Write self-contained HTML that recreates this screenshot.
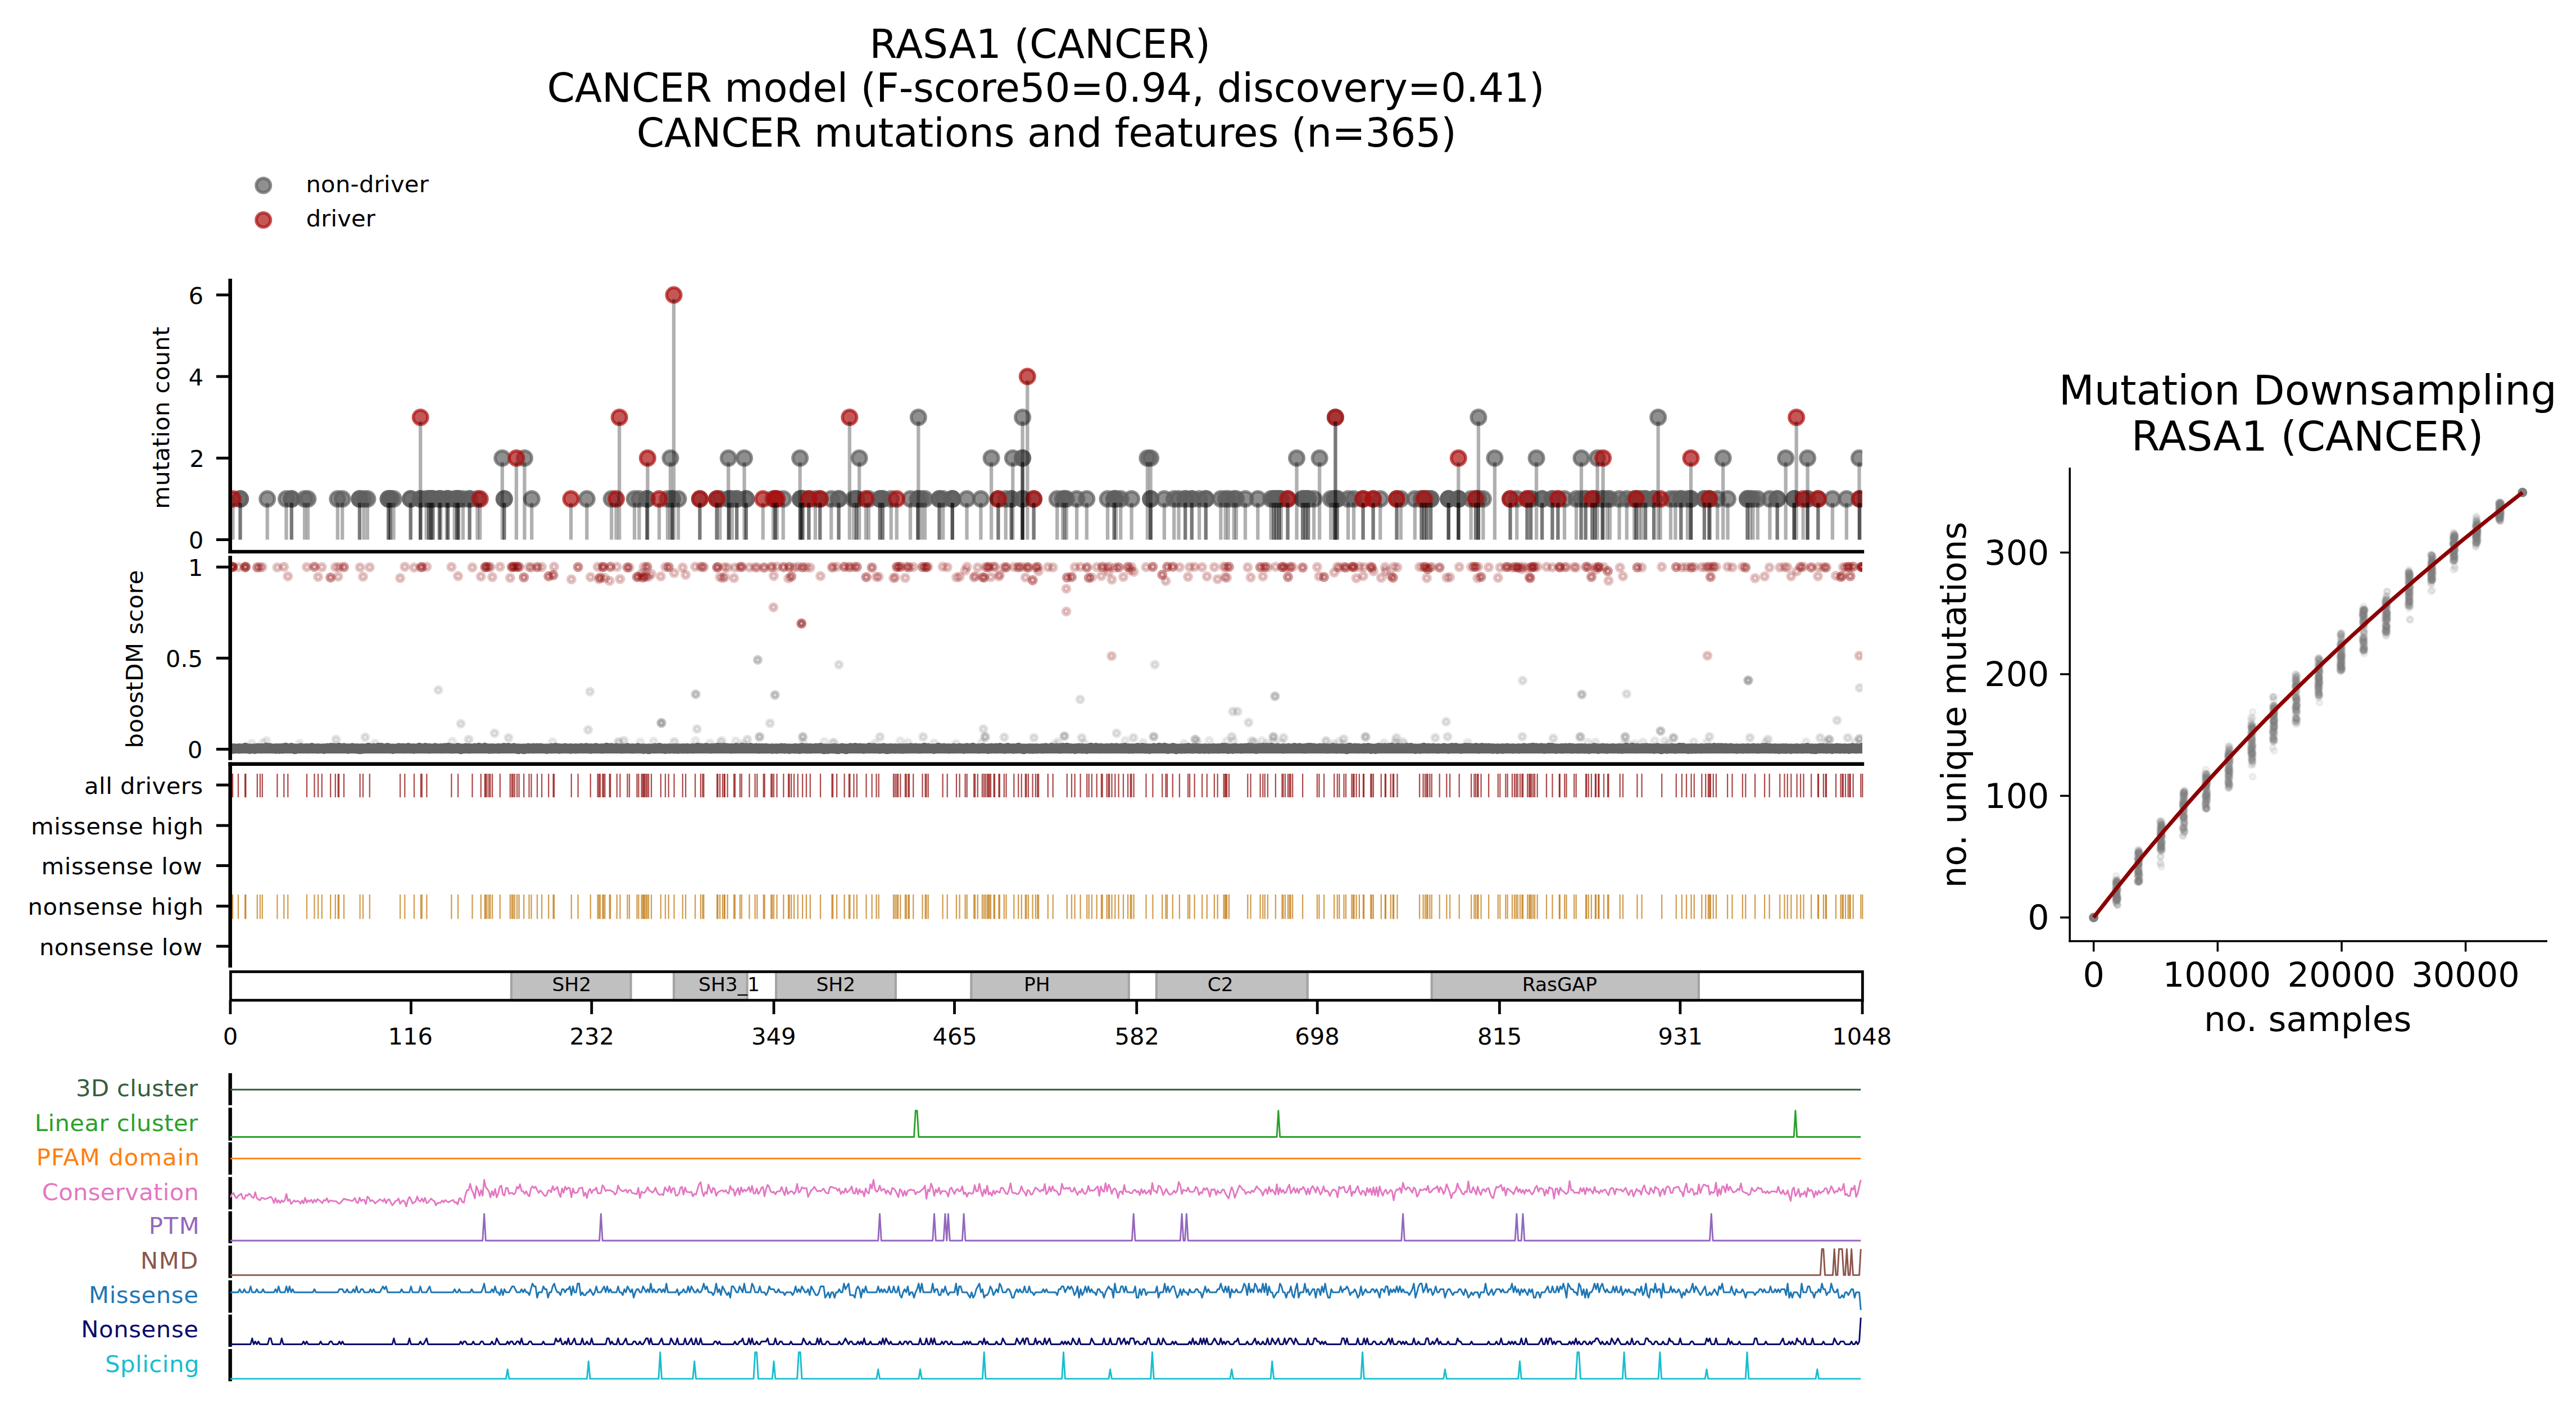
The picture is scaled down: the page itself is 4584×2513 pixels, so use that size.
<!DOCTYPE html>
<html><head><meta charset="utf-8"><title>RASA1 (CANCER)</title>
<style>html,body{margin:0;padding:0;background:#fff;}svg{display:block;}</style></head>
<body>
<svg width="4584" height="2513" viewBox="0 0 4584 2513" font-family="DejaVu Sans, Liberation Sans, sans-serif">
<style>
.st{stroke:#000;stroke-opacity:.31;stroke-width:6.3;fill:none}
.lg{fill:#606060;fill-opacity:.7;stroke:#606060;stroke-opacity:.7;stroke-width:5.5}
.lr{fill:#ac0f0f;fill-opacity:.7;stroke:#ac0f0f;stroke-opacity:.7;stroke-width:5.5}
.bl{fill:#777;fill-opacity:.1;stroke:#777;stroke-opacity:.12;stroke-width:6}
.bg{fill:#707070;fill-opacity:.15;stroke:#707070;stroke-opacity:.18;stroke-width:6}
.br{fill:#8b0000;fill-opacity:.12;stroke:#8b0000;stroke-opacity:.22;stroke-width:6.5}
.rt{stroke:#8b0000;stroke-opacity:.7;stroke-width:2.3;fill:none}
.ot{stroke:#bd7000;stroke-opacity:.68;stroke-width:2.3;fill:none}
.sc{fill:#808080;fill-opacity:.1;stroke:#808080;stroke-opacity:.1;stroke-width:3.4}
</style>
<rect width="4584" height="2513" fill="#fff"/>
<defs><clipPath id="c1"><rect x="409.7" y="480" width="2904.3" height="502"/></clipPath><clipPath id="c2"><rect x="409.7" y="985" width="2904.3" height="368"/></clipPath></defs>
<text x="1547.3" y="102.9" font-size="70.8" fill="#000" textLength="606.7" lengthAdjust="spacing">RASA1 (CANCER)</text>
<text x="973.5" y="181" font-size="70.8" fill="#000" textLength="1775.2" lengthAdjust="spacing">CANCER model (F-score50=0.94, discovery=0.41)</text>
<text x="1132.7" y="260.5" font-size="70.8" fill="#000" textLength="1459.2" lengthAdjust="spacing">CANCER mutations and features (n=365)</text>
<circle cx="468.7" cy="330" r="12.8" fill="#606060" fill-opacity="0.7" stroke="#606060" stroke-opacity="0.7" stroke-width="5.5"/>
<circle cx="468.7" cy="391.5" r="12.8" fill="#ac0f0f" fill-opacity="0.7" stroke="#ac0f0f" stroke-opacity="0.7" stroke-width="5.5"/>
<text x="544.4" y="341.6" font-size="41.7" fill="#000" textLength="218.5" lengthAdjust="spacing">non-driver</text>
<text x="544.8" y="402.5" font-size="41.7" fill="#000" textLength="123.1" lengthAdjust="spacing">driver</text>
<g clip-path="url(#c1)">
<circle class="lg" cx="427.5" cy="887.9" r="12.8"/>
<circle class="lg" cx="427.5" cy="887.9" r="12.8"/>
<circle class="lg" cx="475.7" cy="887.9" r="12.8"/>
<circle class="lg" cx="509.5" cy="887.9" r="12.8"/>
<circle class="lg" cx="518.8" cy="887.9" r="12.8"/>
<circle class="lg" cx="518.8" cy="887.9" r="12.8"/>
<circle class="lg" cx="542.1" cy="887.9" r="12.8"/>
<circle class="lg" cx="547.9" cy="887.9" r="12.8"/>
<circle class="lg" cx="600.8" cy="887.9" r="12.8"/>
<circle class="lg" cx="609.2" cy="887.9" r="12.8"/>
<circle class="lg" cx="639.9" cy="887.9" r="12.8"/>
<circle class="lg" cx="639.9" cy="887.9" r="12.8"/>
<circle class="lg" cx="647.4" cy="887.9" r="12.8"/>
<circle class="lg" cx="653.9" cy="887.9" r="12.8"/>
<circle class="lg" cx="691.1" cy="887.9" r="12.8"/>
<circle class="lg" cx="691.1" cy="887.9" r="12.8"/>
<circle class="lg" cx="694.6" cy="887.9" r="12.8"/>
<circle class="lg" cx="694.6" cy="887.9" r="12.8"/>
<circle class="lg" cx="700.5" cy="887.9" r="12.8"/>
<circle class="lg" cx="730.7" cy="887.9" r="12.8"/>
<circle class="lg" cx="730.7" cy="887.9" r="12.8"/>
<circle class="lg" cx="748.2" cy="887.9" r="12.8"/>
<circle class="lg" cx="748.2" cy="887.9" r="12.8"/>
<circle class="lg" cx="758.7" cy="887.9" r="12.8"/>
<circle class="lg" cx="763.4" cy="887.9" r="12.8"/>
<circle class="lg" cx="763.4" cy="887.9" r="12.8"/>
<circle class="lg" cx="766.8" cy="887.9" r="12.8"/>
<circle class="lg" cx="766.8" cy="887.9" r="12.8"/>
<circle class="lg" cx="770.3" cy="887.9" r="12.8"/>
<circle class="lg" cx="770.3" cy="887.9" r="12.8"/>
<circle class="lg" cx="782" cy="887.9" r="12.8"/>
<circle class="lg" cx="782" cy="887.9" r="12.8"/>
<circle class="lg" cx="784.3" cy="887.9" r="12.8"/>
<circle class="lg" cx="794.8" cy="887.9" r="12.8"/>
<circle class="lg" cx="797.1" cy="887.9" r="12.8"/>
<circle class="lg" cx="797.1" cy="887.9" r="12.8"/>
<circle class="lg" cx="808.8" cy="887.9" r="12.8"/>
<circle class="lg" cx="813.4" cy="887.9" r="12.8"/>
<circle class="lg" cx="813.4" cy="887.9" r="12.8"/>
<circle class="lg" cx="815.8" cy="887.9" r="12.8"/>
<circle class="lg" cx="815.8" cy="887.9" r="12.8"/>
<circle class="lg" cx="823.9" cy="887.9" r="12.8"/>
<circle class="lg" cx="835.6" cy="887.9" r="12.8"/>
<circle class="lg" cx="835.6" cy="887.9" r="12.8"/>
<circle class="lg" cx="849.5" cy="887.9" r="12.8"/>
<circle class="lg" cx="893.8" cy="815.3" r="12.8"/>
<circle class="lg" cx="897.3" cy="887.9" r="12.8"/>
<circle class="lg" cx="897.3" cy="887.9" r="12.8"/>
<circle class="lg" cx="933.4" cy="815.3" r="12.8"/>
<circle class="lg" cx="946.2" cy="887.9" r="12.8"/>
<circle class="lg" cx="1044.3" cy="887.9" r="12.8"/>
<circle class="lg" cx="1088.2" cy="887.9" r="12.8"/>
<circle class="lg" cx="1129.1" cy="887.9" r="12.8"/>
<circle class="lg" cx="1137.4" cy="887.9" r="12.8"/>
<circle class="lg" cx="1151.4" cy="887.9" r="12.8"/>
<circle class="lg" cx="1151.4" cy="887.9" r="12.8"/>
<circle class="lg" cx="1188" cy="887.9" r="12.8"/>
<circle class="lg" cx="1193" cy="815.3" r="12.8"/>
<circle class="lg" cx="1196.3" cy="887.9" r="12.8"/>
<circle class="lg" cx="1196.3" cy="887.9" r="12.8"/>
<circle class="lg" cx="1207" cy="887.9" r="12.8"/>
<circle class="lg" cx="1245.3" cy="887.9" r="12.8"/>
<circle class="lg" cx="1275.5" cy="887.9" r="12.8"/>
<circle class="lg" cx="1281.2" cy="887.9" r="12.8"/>
<circle class="lg" cx="1296.2" cy="815.3" r="12.8"/>
<circle class="lg" cx="1297.2" cy="887.9" r="12.8"/>
<circle class="lg" cx="1297.2" cy="887.9" r="12.8"/>
<circle class="lg" cx="1302.8" cy="887.9" r="12.8"/>
<circle class="lg" cx="1311.1" cy="887.9" r="12.8"/>
<circle class="lg" cx="1311.1" cy="887.9" r="12.8"/>
<circle class="lg" cx="1324.5" cy="815.3" r="12.8"/>
<circle class="lg" cx="1327.8" cy="887.9" r="12.8"/>
<circle class="lg" cx="1327.8" cy="887.9" r="12.8"/>
<circle class="lg" cx="1376" cy="887.9" r="12.8"/>
<circle class="lg" cx="1379.4" cy="887.9" r="12.8"/>
<circle class="lg" cx="1393.7" cy="887.9" r="12.8"/>
<circle class="lg" cx="1423.6" cy="815.3" r="12.8"/>
<circle class="lg" cx="1424.3" cy="887.9" r="12.8"/>
<circle class="lg" cx="1424.3" cy="887.9" r="12.8"/>
<circle class="lg" cx="1427" cy="887.9" r="12.8"/>
<circle class="lg" cx="1427" cy="887.9" r="12.8"/>
<circle class="lg" cx="1429.3" cy="887.9" r="12.8"/>
<circle class="lg" cx="1439.3" cy="887.9" r="12.8"/>
<circle class="lg" cx="1450.9" cy="887.9" r="12.8"/>
<circle class="lg" cx="1459.2" cy="887.9" r="12.8"/>
<circle class="lg" cx="1479.2" cy="887.9" r="12.8"/>
<circle class="lg" cx="1492.5" cy="887.9" r="12.8"/>
<circle class="lg" cx="1492.5" cy="887.9" r="12.8"/>
<circle class="lg" cx="1519.1" cy="887.9" r="12.8"/>
<circle class="lg" cx="1524.1" cy="887.9" r="12.8"/>
<circle class="lg" cx="1524.1" cy="887.9" r="12.8"/>
<circle class="lg" cx="1529.1" cy="815.3" r="12.8"/>
<circle class="lg" cx="1545.8" cy="887.9" r="12.8"/>
<circle class="lg" cx="1565.7" cy="887.9" r="12.8"/>
<circle class="lg" cx="1565.7" cy="887.9" r="12.8"/>
<circle class="lg" cx="1570.7" cy="887.9" r="12.8"/>
<circle class="lg" cx="1570.7" cy="887.9" r="12.8"/>
<circle class="lg" cx="1585.7" cy="887.9" r="12.8"/>
<circle class="lg" cx="1620" cy="887.9" r="12.8"/>
<circle class="lg" cx="1634.3" cy="742.7" r="12.8"/>
<circle class="lg" cx="1633.3" cy="887.9" r="12.8"/>
<circle class="lg" cx="1633.3" cy="887.9" r="12.8"/>
<circle class="lg" cx="1639.9" cy="887.9" r="12.8"/>
<circle class="lg" cx="1645.9" cy="887.9" r="12.8"/>
<circle class="lg" cx="1671.5" cy="887.9" r="12.8"/>
<circle class="lg" cx="1671.5" cy="887.9" r="12.8"/>
<circle class="lg" cx="1678.2" cy="887.9" r="12.8"/>
<circle class="lg" cx="1694.8" cy="887.9" r="12.8"/>
<circle class="lg" cx="1694.8" cy="887.9" r="12.8"/>
<circle class="lg" cx="1694.8" cy="887.9" r="12.8"/>
<circle class="lg" cx="1720.5" cy="887.9" r="12.8"/>
<circle class="lg" cx="1745.4" cy="887.9" r="12.8"/>
<circle class="lg" cx="1764.1" cy="815.3" r="12.8"/>
<circle class="lg" cx="1776.4" cy="887.9" r="12.8"/>
<circle class="lg" cx="1789.7" cy="887.9" r="12.8"/>
<circle class="lg" cx="1799.7" cy="887.9" r="12.8"/>
<circle class="lg" cx="1799.7" cy="887.9" r="12.8"/>
<circle class="lg" cx="1802.3" cy="815.3" r="12.8"/>
<circle class="lg" cx="1819.6" cy="815.3" r="12.8"/>
<circle class="lg" cx="1819.6" cy="815.3" r="12.8"/>
<circle class="lg" cx="1819.6" cy="742.7" r="12.8"/>
<circle class="lg" cx="1819.6" cy="887.9" r="12.8"/>
<circle class="lg" cx="1819.6" cy="887.9" r="12.8"/>
<circle class="lg" cx="1839.6" cy="887.9" r="12.8"/>
<circle class="lg" cx="1881.2" cy="887.9" r="12.8"/>
<circle class="lg" cx="1891.2" cy="887.9" r="12.8"/>
<circle class="lg" cx="1894.5" cy="887.9" r="12.8"/>
<circle class="lg" cx="1897.8" cy="887.9" r="12.8"/>
<circle class="lg" cx="1916.1" cy="887.9" r="12.8"/>
<circle class="lg" cx="1933.8" cy="887.9" r="12.8"/>
<circle class="lg" cx="1971" cy="887.9" r="12.8"/>
<circle class="lg" cx="1982.7" cy="887.9" r="12.8"/>
<circle class="lg" cx="1982.7" cy="887.9" r="12.8"/>
<circle class="lg" cx="1986" cy="887.9" r="12.8"/>
<circle class="lg" cx="1994.3" cy="887.9" r="12.8"/>
<circle class="lg" cx="2013.6" cy="887.9" r="12.8"/>
<circle class="lg" cx="2041.9" cy="815.3" r="12.8"/>
<circle class="lg" cx="2047.6" cy="815.3" r="12.8"/>
<circle class="lg" cx="2047.6" cy="887.9" r="12.8"/>
<circle class="lg" cx="2047.6" cy="887.9" r="12.8"/>
<circle class="lg" cx="2071.9" cy="887.9" r="12.8"/>
<circle class="lg" cx="2089.2" cy="887.9" r="12.8"/>
<circle class="lg" cx="2097.5" cy="887.9" r="12.8"/>
<circle class="lg" cx="2109.2" cy="887.9" r="12.8"/>
<circle class="lg" cx="2109.2" cy="887.9" r="12.8"/>
<circle class="lg" cx="2120.8" cy="887.9" r="12.8"/>
<circle class="lg" cx="2120.8" cy="887.9" r="12.8"/>
<circle class="lg" cx="2134.1" cy="887.9" r="12.8"/>
<circle class="lg" cx="2145.8" cy="887.9" r="12.8"/>
<circle class="lg" cx="2145.8" cy="887.9" r="12.8"/>
<circle class="lg" cx="2172.4" cy="887.9" r="12.8"/>
<circle class="lg" cx="2180.7" cy="887.9" r="12.8"/>
<circle class="lg" cx="2185.7" cy="887.9" r="12.8"/>
<circle class="lg" cx="2195.7" cy="887.9" r="12.8"/>
<circle class="lg" cx="2200" cy="887.9" r="12.8"/>
<circle class="lg" cx="2216" cy="887.9" r="12.8"/>
<circle class="lg" cx="2238.3" cy="887.9" r="12.8"/>
<circle class="lg" cx="2261.6" cy="887.9" r="12.8"/>
<circle class="lg" cx="2266.6" cy="887.9" r="12.8"/>
<circle class="lg" cx="2266.6" cy="887.9" r="12.8"/>
<circle class="lg" cx="2271.5" cy="887.9" r="12.8"/>
<circle class="lg" cx="2271.5" cy="887.9" r="12.8"/>
<circle class="lg" cx="2276.5" cy="887.9" r="12.8"/>
<circle class="lg" cx="2276.5" cy="887.9" r="12.8"/>
<circle class="lg" cx="2279.9" cy="887.9" r="12.8"/>
<circle class="lg" cx="2291.5" cy="887.9" r="12.8"/>
<circle class="lg" cx="2307.5" cy="815.3" r="12.8"/>
<circle class="lg" cx="2318.1" cy="887.9" r="12.8"/>
<circle class="lg" cx="2318.1" cy="887.9" r="12.8"/>
<circle class="lg" cx="2323.1" cy="887.9" r="12.8"/>
<circle class="lg" cx="2323.1" cy="887.9" r="12.8"/>
<circle class="lg" cx="2328.1" cy="887.9" r="12.8"/>
<circle class="lg" cx="2328.1" cy="887.9" r="12.8"/>
<circle class="lg" cx="2338.1" cy="887.9" r="12.8"/>
<circle class="lg" cx="2348.1" cy="815.3" r="12.8"/>
<circle class="lg" cx="2368.1" cy="887.9" r="12.8"/>
<circle class="lg" cx="2374.7" cy="887.9" r="12.8"/>
<circle class="lg" cx="2374.7" cy="887.9" r="12.8"/>
<circle class="lg" cx="2379.7" cy="887.9" r="12.8"/>
<circle class="lg" cx="2379.7" cy="887.9" r="12.8"/>
<circle class="lg" cx="2376.4" cy="742.7" r="12.8"/>
<circle class="lg" cx="2399" cy="887.9" r="12.8"/>
<circle class="lg" cx="2409" cy="887.9" r="12.8"/>
<circle class="lg" cx="2425.6" cy="887.9" r="12.8"/>
<circle class="lg" cx="2443.6" cy="887.9" r="12.8"/>
<circle class="lg" cx="2456.2" cy="887.9" r="12.8"/>
<circle class="lg" cx="2485.5" cy="887.9" r="12.8"/>
<circle class="lg" cx="2492.8" cy="887.9" r="12.8"/>
<circle class="lg" cx="2517.8" cy="887.9" r="12.8"/>
<circle class="lg" cx="2529.5" cy="887.9" r="12.8"/>
<circle class="lg" cx="2529.5" cy="887.9" r="12.8"/>
<circle class="lg" cx="2534.4" cy="887.9" r="12.8"/>
<circle class="lg" cx="2539.4" cy="887.9" r="12.8"/>
<circle class="lg" cx="2539.4" cy="887.9" r="12.8"/>
<circle class="lg" cx="2546.1" cy="887.9" r="12.8"/>
<circle class="lg" cx="2546.1" cy="887.9" r="12.8"/>
<circle class="lg" cx="2577.7" cy="887.9" r="12.8"/>
<circle class="lg" cx="2577.7" cy="887.9" r="12.8"/>
<circle class="lg" cx="2577.7" cy="887.9" r="12.8"/>
<circle class="lg" cx="2595.3" cy="887.9" r="12.8"/>
<circle class="lg" cx="2595.3" cy="887.9" r="12.8"/>
<circle class="lg" cx="2595.3" cy="887.9" r="12.8"/>
<circle class="lg" cx="2617.6" cy="887.9" r="12.8"/>
<circle class="lg" cx="2626" cy="887.9" r="12.8"/>
<circle class="lg" cx="2630.9" cy="742.7" r="12.8"/>
<circle class="lg" cx="2630.9" cy="887.9" r="12.8"/>
<circle class="lg" cx="2630.9" cy="887.9" r="12.8"/>
<circle class="lg" cx="2639.3" cy="887.9" r="12.8"/>
<circle class="lg" cx="2659.9" cy="815.3" r="12.8"/>
<circle class="lg" cx="2687.5" cy="887.9" r="12.8"/>
<circle class="lg" cx="2699.2" cy="887.9" r="12.8"/>
<circle class="lg" cx="2717.5" cy="887.9" r="12.8"/>
<circle class="lg" cx="2724.1" cy="887.9" r="12.8"/>
<circle class="lg" cx="2724.1" cy="887.9" r="12.8"/>
<circle class="lg" cx="2734.1" cy="815.3" r="12.8"/>
<circle class="lg" cx="2744.1" cy="887.9" r="12.8"/>
<circle class="lg" cx="2744.1" cy="887.9" r="12.8"/>
<circle class="lg" cx="2762.4" cy="887.9" r="12.8"/>
<circle class="lg" cx="2762.4" cy="887.9" r="12.8"/>
<circle class="lg" cx="2772.4" cy="887.9" r="12.8"/>
<circle class="lg" cx="2784" cy="887.9" r="12.8"/>
<circle class="lg" cx="2805" cy="887.9" r="12.8"/>
<circle class="lg" cx="2813.3" cy="887.9" r="12.8"/>
<circle class="lg" cx="2814" cy="815.3" r="12.8"/>
<circle class="lg" cx="2821.6" cy="887.9" r="12.8"/>
<circle class="lg" cx="2821.6" cy="887.9" r="12.8"/>
<circle class="lg" cx="2833.3" cy="887.9" r="12.8"/>
<circle class="lg" cx="2838.3" cy="887.9" r="12.8"/>
<circle class="lg" cx="2838.3" cy="887.9" r="12.8"/>
<circle class="lg" cx="2842.6" cy="815.3" r="12.8"/>
<circle class="lg" cx="2851.6" cy="887.9" r="12.8"/>
<circle class="lg" cx="2851.6" cy="887.9" r="12.8"/>
<circle class="lg" cx="2859.9" cy="887.9" r="12.8"/>
<circle class="lg" cx="2864.9" cy="887.9" r="12.8"/>
<circle class="lg" cx="2881.5" cy="887.9" r="12.8"/>
<circle class="lg" cx="2894.8" cy="887.9" r="12.8"/>
<circle class="lg" cx="2908.2" cy="887.9" r="12.8"/>
<circle class="lg" cx="2911.5" cy="887.9" r="12.8"/>
<circle class="lg" cx="2916.5" cy="887.9" r="12.8"/>
<circle class="lg" cx="2921.5" cy="887.9" r="12.8"/>
<circle class="lg" cx="2928.1" cy="887.9" r="12.8"/>
<circle class="lg" cx="2928.1" cy="887.9" r="12.8"/>
<circle class="lg" cx="2943.1" cy="887.9" r="12.8"/>
<circle class="lg" cx="2943.1" cy="887.9" r="12.8"/>
<circle class="lg" cx="2950.7" cy="742.7" r="12.8"/>
<circle class="lg" cx="2973" cy="887.9" r="12.8"/>
<circle class="lg" cx="2981.4" cy="887.9" r="12.8"/>
<circle class="lg" cx="2991.3" cy="887.9" r="12.8"/>
<circle class="lg" cx="2991.3" cy="887.9" r="12.8"/>
<circle class="lg" cx="3003" cy="887.9" r="12.8"/>
<circle class="lg" cx="3009" cy="887.9" r="12.8"/>
<circle class="lg" cx="3009" cy="887.9" r="12.8"/>
<circle class="lg" cx="3032.9" cy="887.9" r="12.8"/>
<circle class="lg" cx="3032.9" cy="887.9" r="12.8"/>
<circle class="lg" cx="3041.3" cy="887.9" r="12.8"/>
<circle class="lg" cx="3042.9" cy="887.9" r="12.8"/>
<circle class="lg" cx="3056.2" cy="887.9" r="12.8"/>
<circle class="lg" cx="3066.2" cy="815.3" r="12.8"/>
<circle class="lg" cx="3074.5" cy="887.9" r="12.8"/>
<circle class="lg" cx="3109.5" cy="887.9" r="12.8"/>
<circle class="lg" cx="3109.5" cy="887.9" r="12.8"/>
<circle class="lg" cx="3114.5" cy="887.9" r="12.8"/>
<circle class="lg" cx="3119.5" cy="887.9" r="12.8"/>
<circle class="lg" cx="3127.8" cy="887.9" r="12.8"/>
<circle class="lg" cx="3149.4" cy="887.9" r="12.8"/>
<circle class="lg" cx="3162.7" cy="887.9" r="12.8"/>
<circle class="lg" cx="3162.7" cy="887.9" r="12.8"/>
<circle class="lg" cx="3177.7" cy="815.3" r="12.8"/>
<circle class="lg" cx="3192.7" cy="887.9" r="12.8"/>
<circle class="lg" cx="3192.7" cy="887.9" r="12.8"/>
<circle class="lg" cx="3192.7" cy="887.9" r="12.8"/>
<circle class="lg" cx="3216.6" cy="815.3" r="12.8"/>
<circle class="lg" cx="3216.6" cy="887.9" r="12.8"/>
<circle class="lg" cx="3216.6" cy="887.9" r="12.8"/>
<circle class="lg" cx="3235.3" cy="887.9" r="12.8"/>
<circle class="lg" cx="3260.9" cy="887.9" r="12.8"/>
<circle class="lg" cx="3285.9" cy="887.9" r="12.8"/>
<circle class="lg" cx="3308.5" cy="815.3" r="12.8"/>
<circle class="lg" cx="3309.2" cy="887.9" r="12.8"/>
<circle class="lr" cx="414.4" cy="887.9" r="12.8"/>
<circle class="lr" cx="748.2" cy="742.7" r="12.8"/>
<circle class="lr" cx="854.2" cy="887.9" r="12.8"/>
<circle class="lr" cx="918.9" cy="815.3" r="12.8"/>
<circle class="lr" cx="1016" cy="887.9" r="12.8"/>
<circle class="lr" cx="1096.5" cy="887.9" r="12.8"/>
<circle class="lr" cx="1102.2" cy="742.7" r="12.8"/>
<circle class="lr" cx="1152.4" cy="815.3" r="12.8"/>
<circle class="lr" cx="1173" cy="887.9" r="12.8"/>
<circle class="lr" cx="1199" cy="524.9" r="12.8"/>
<circle class="lr" cx="1245.3" cy="887.9" r="12.8"/>
<circle class="lr" cx="1275.5" cy="887.9" r="12.8"/>
<circle class="lr" cx="1357.7" cy="887.9" r="12.8"/>
<circle class="lr" cx="1379.4" cy="887.9" r="12.8"/>
<circle class="lr" cx="1382.7" cy="887.9" r="12.8"/>
<circle class="lr" cx="1439.3" cy="887.9" r="12.8"/>
<circle class="lr" cx="1459.2" cy="887.9" r="12.8"/>
<circle class="lr" cx="1511.8" cy="742.7" r="12.8"/>
<circle class="lr" cx="1540.8" cy="887.9" r="12.8"/>
<circle class="lr" cx="1595.7" cy="887.9" r="12.8"/>
<circle class="lr" cx="1776.4" cy="887.9" r="12.8"/>
<circle class="lr" cx="1828.3" cy="670.1" r="12.8"/>
<circle class="lr" cx="1839.6" cy="887.9" r="12.8"/>
<circle class="lr" cx="2291.5" cy="887.9" r="12.8"/>
<circle class="lr" cx="2376.4" cy="742.7" r="12.8"/>
<circle class="lr" cx="2425.6" cy="887.9" r="12.8"/>
<circle class="lr" cx="2443.6" cy="887.9" r="12.8"/>
<circle class="lr" cx="2485.5" cy="887.9" r="12.8"/>
<circle class="lr" cx="2534.4" cy="887.9" r="12.8"/>
<circle class="lr" cx="2595.3" cy="815.3" r="12.8"/>
<circle class="lr" cx="2626" cy="887.9" r="12.8"/>
<circle class="lr" cx="2687.5" cy="887.9" r="12.8"/>
<circle class="lr" cx="2717.5" cy="887.9" r="12.8"/>
<circle class="lr" cx="2772.4" cy="887.9" r="12.8"/>
<circle class="lr" cx="2833.3" cy="887.9" r="12.8"/>
<circle class="lr" cx="2852.6" cy="815.3" r="12.8"/>
<circle class="lr" cx="2911.5" cy="887.9" r="12.8"/>
<circle class="lr" cx="2954.7" cy="887.9" r="12.8"/>
<circle class="lr" cx="3009" cy="815.3" r="12.8"/>
<circle class="lr" cx="3041.3" cy="887.9" r="12.8"/>
<circle class="lr" cx="3196.7" cy="742.7" r="12.8"/>
<circle class="lr" cx="3208.7" cy="887.9" r="12.8"/>
<circle class="lr" cx="3235.3" cy="887.9" r="12.8"/>
<circle class="lr" cx="3309.2" cy="887.9" r="12.8"/>
<path class="st" d="M414.4 960.5V894.9"/>
<path class="st" d="M427.5 960.5V894.9"/>
<path class="st" d="M427.5 960.5V894.9"/>
<path class="st" d="M475.7 960.5V894.9"/>
<path class="st" d="M509.5 960.5V894.9"/>
<path class="st" d="M518.8 960.5V894.9"/>
<path class="st" d="M518.8 960.5V894.9"/>
<path class="st" d="M542.1 960.5V894.9"/>
<path class="st" d="M547.9 960.5V894.9"/>
<path class="st" d="M600.8 960.5V894.9"/>
<path class="st" d="M609.2 960.5V894.9"/>
<path class="st" d="M639.9 960.5V894.9"/>
<path class="st" d="M639.9 960.5V894.9"/>
<path class="st" d="M647.4 960.5V894.9"/>
<path class="st" d="M653.9 960.5V894.9"/>
<path class="st" d="M691.1 960.5V894.9"/>
<path class="st" d="M691.1 960.5V894.9"/>
<path class="st" d="M694.6 960.5V894.9"/>
<path class="st" d="M694.6 960.5V894.9"/>
<path class="st" d="M700.5 960.5V894.9"/>
<path class="st" d="M730.7 960.5V894.9"/>
<path class="st" d="M730.7 960.5V894.9"/>
<path class="st" d="M748.2 960.5V749.7"/>
<path class="st" d="M748.2 960.5V894.9"/>
<path class="st" d="M748.2 960.5V894.9"/>
<path class="st" d="M758.7 960.5V894.9"/>
<path class="st" d="M763.4 960.5V894.9"/>
<path class="st" d="M763.4 960.5V894.9"/>
<path class="st" d="M766.8 960.5V894.9"/>
<path class="st" d="M766.8 960.5V894.9"/>
<path class="st" d="M770.3 960.5V894.9"/>
<path class="st" d="M770.3 960.5V894.9"/>
<path class="st" d="M782 960.5V894.9"/>
<path class="st" d="M782 960.5V894.9"/>
<path class="st" d="M784.3 960.5V894.9"/>
<path class="st" d="M794.8 960.5V894.9"/>
<path class="st" d="M797.1 960.5V894.9"/>
<path class="st" d="M797.1 960.5V894.9"/>
<path class="st" d="M808.8 960.5V894.9"/>
<path class="st" d="M813.4 960.5V894.9"/>
<path class="st" d="M813.4 960.5V894.9"/>
<path class="st" d="M815.8 960.5V894.9"/>
<path class="st" d="M815.8 960.5V894.9"/>
<path class="st" d="M823.9 960.5V894.9"/>
<path class="st" d="M835.6 960.5V894.9"/>
<path class="st" d="M835.6 960.5V894.9"/>
<path class="st" d="M849.5 960.5V894.9"/>
<path class="st" d="M854.2 960.5V894.9"/>
<path class="st" d="M893.8 960.5V822.3"/>
<path class="st" d="M897.3 960.5V894.9"/>
<path class="st" d="M897.3 960.5V894.9"/>
<path class="st" d="M918.9 960.5V822.3"/>
<path class="st" d="M933.4 960.5V822.3"/>
<path class="st" d="M946.2 960.5V894.9"/>
<path class="st" d="M1016 960.5V894.9"/>
<path class="st" d="M1044.3 960.5V894.9"/>
<path class="st" d="M1088.2 960.5V894.9"/>
<path class="st" d="M1096.5 960.5V894.9"/>
<path class="st" d="M1102.2 960.5V749.7"/>
<path class="st" d="M1129.1 960.5V894.9"/>
<path class="st" d="M1137.4 960.5V894.9"/>
<path class="st" d="M1151.4 960.5V894.9"/>
<path class="st" d="M1151.4 960.5V894.9"/>
<path class="st" d="M1152.4 960.5V822.3"/>
<path class="st" d="M1173 960.5V894.9"/>
<path class="st" d="M1188 960.5V894.9"/>
<path class="st" d="M1193 960.5V822.3"/>
<path class="st" d="M1196.3 960.5V894.9"/>
<path class="st" d="M1196.3 960.5V894.9"/>
<path class="st" d="M1199 960.5V531.9"/>
<path class="st" d="M1207 960.5V894.9"/>
<path class="st" d="M1245.3 960.5V894.9"/>
<path class="st" d="M1245.3 960.5V894.9"/>
<path class="st" d="M1275.5 960.5V894.9"/>
<path class="st" d="M1275.5 960.5V894.9"/>
<path class="st" d="M1281.2 960.5V894.9"/>
<path class="st" d="M1296.2 960.5V822.3"/>
<path class="st" d="M1297.2 960.5V894.9"/>
<path class="st" d="M1297.2 960.5V894.9"/>
<path class="st" d="M1302.8 960.5V894.9"/>
<path class="st" d="M1311.1 960.5V894.9"/>
<path class="st" d="M1311.1 960.5V894.9"/>
<path class="st" d="M1324.5 960.5V822.3"/>
<path class="st" d="M1327.8 960.5V894.9"/>
<path class="st" d="M1327.8 960.5V894.9"/>
<path class="st" d="M1357.7 960.5V894.9"/>
<path class="st" d="M1376 960.5V894.9"/>
<path class="st" d="M1379.4 960.5V894.9"/>
<path class="st" d="M1379.4 960.5V894.9"/>
<path class="st" d="M1382.7 960.5V894.9"/>
<path class="st" d="M1393.7 960.5V894.9"/>
<path class="st" d="M1423.6 960.5V822.3"/>
<path class="st" d="M1424.3 960.5V894.9"/>
<path class="st" d="M1424.3 960.5V894.9"/>
<path class="st" d="M1427 960.5V894.9"/>
<path class="st" d="M1427 960.5V894.9"/>
<path class="st" d="M1429.3 960.5V894.9"/>
<path class="st" d="M1439.3 960.5V894.9"/>
<path class="st" d="M1439.3 960.5V894.9"/>
<path class="st" d="M1450.9 960.5V894.9"/>
<path class="st" d="M1459.2 960.5V894.9"/>
<path class="st" d="M1459.2 960.5V894.9"/>
<path class="st" d="M1479.2 960.5V894.9"/>
<path class="st" d="M1492.5 960.5V894.9"/>
<path class="st" d="M1492.5 960.5V894.9"/>
<path class="st" d="M1511.8 960.5V749.7"/>
<path class="st" d="M1519.1 960.5V894.9"/>
<path class="st" d="M1524.1 960.5V894.9"/>
<path class="st" d="M1524.1 960.5V894.9"/>
<path class="st" d="M1529.1 960.5V822.3"/>
<path class="st" d="M1540.8 960.5V894.9"/>
<path class="st" d="M1545.8 960.5V894.9"/>
<path class="st" d="M1565.7 960.5V894.9"/>
<path class="st" d="M1565.7 960.5V894.9"/>
<path class="st" d="M1570.7 960.5V894.9"/>
<path class="st" d="M1570.7 960.5V894.9"/>
<path class="st" d="M1585.7 960.5V894.9"/>
<path class="st" d="M1595.7 960.5V894.9"/>
<path class="st" d="M1620 960.5V894.9"/>
<path class="st" d="M1634.3 960.5V749.7"/>
<path class="st" d="M1633.3 960.5V894.9"/>
<path class="st" d="M1633.3 960.5V894.9"/>
<path class="st" d="M1639.9 960.5V894.9"/>
<path class="st" d="M1645.9 960.5V894.9"/>
<path class="st" d="M1671.5 960.5V894.9"/>
<path class="st" d="M1671.5 960.5V894.9"/>
<path class="st" d="M1678.2 960.5V894.9"/>
<path class="st" d="M1694.8 960.5V894.9"/>
<path class="st" d="M1694.8 960.5V894.9"/>
<path class="st" d="M1694.8 960.5V894.9"/>
<path class="st" d="M1720.5 960.5V894.9"/>
<path class="st" d="M1745.4 960.5V894.9"/>
<path class="st" d="M1764.1 960.5V822.3"/>
<path class="st" d="M1776.4 960.5V894.9"/>
<path class="st" d="M1776.4 960.5V894.9"/>
<path class="st" d="M1789.7 960.5V894.9"/>
<path class="st" d="M1799.7 960.5V894.9"/>
<path class="st" d="M1799.7 960.5V894.9"/>
<path class="st" d="M1802.3 960.5V822.3"/>
<path class="st" d="M1819.6 960.5V822.3"/>
<path class="st" d="M1819.6 960.5V822.3"/>
<path class="st" d="M1819.6 960.5V749.7"/>
<path class="st" d="M1819.6 960.5V894.9"/>
<path class="st" d="M1819.6 960.5V894.9"/>
<path class="st" d="M1828.3 960.5V677.1"/>
<path class="st" d="M1839.6 960.5V894.9"/>
<path class="st" d="M1839.6 960.5V894.9"/>
<path class="st" d="M1881.2 960.5V894.9"/>
<path class="st" d="M1891.2 960.5V894.9"/>
<path class="st" d="M1894.5 960.5V894.9"/>
<path class="st" d="M1897.8 960.5V894.9"/>
<path class="st" d="M1916.1 960.5V894.9"/>
<path class="st" d="M1933.8 960.5V894.9"/>
<path class="st" d="M1971 960.5V894.9"/>
<path class="st" d="M1982.7 960.5V894.9"/>
<path class="st" d="M1982.7 960.5V894.9"/>
<path class="st" d="M1986 960.5V894.9"/>
<path class="st" d="M1994.3 960.5V894.9"/>
<path class="st" d="M2013.6 960.5V894.9"/>
<path class="st" d="M2041.9 960.5V822.3"/>
<path class="st" d="M2047.6 960.5V822.3"/>
<path class="st" d="M2047.6 960.5V894.9"/>
<path class="st" d="M2047.6 960.5V894.9"/>
<path class="st" d="M2071.9 960.5V894.9"/>
<path class="st" d="M2089.2 960.5V894.9"/>
<path class="st" d="M2097.5 960.5V894.9"/>
<path class="st" d="M2109.2 960.5V894.9"/>
<path class="st" d="M2109.2 960.5V894.9"/>
<path class="st" d="M2120.8 960.5V894.9"/>
<path class="st" d="M2120.8 960.5V894.9"/>
<path class="st" d="M2134.1 960.5V894.9"/>
<path class="st" d="M2145.8 960.5V894.9"/>
<path class="st" d="M2145.8 960.5V894.9"/>
<path class="st" d="M2172.4 960.5V894.9"/>
<path class="st" d="M2180.7 960.5V894.9"/>
<path class="st" d="M2185.7 960.5V894.9"/>
<path class="st" d="M2195.7 960.5V894.9"/>
<path class="st" d="M2200 960.5V894.9"/>
<path class="st" d="M2216 960.5V894.9"/>
<path class="st" d="M2238.3 960.5V894.9"/>
<path class="st" d="M2261.6 960.5V894.9"/>
<path class="st" d="M2266.6 960.5V894.9"/>
<path class="st" d="M2266.6 960.5V894.9"/>
<path class="st" d="M2271.5 960.5V894.9"/>
<path class="st" d="M2271.5 960.5V894.9"/>
<path class="st" d="M2276.5 960.5V894.9"/>
<path class="st" d="M2276.5 960.5V894.9"/>
<path class="st" d="M2279.9 960.5V894.9"/>
<path class="st" d="M2291.5 960.5V894.9"/>
<path class="st" d="M2291.5 960.5V894.9"/>
<path class="st" d="M2307.5 960.5V822.3"/>
<path class="st" d="M2318.1 960.5V894.9"/>
<path class="st" d="M2318.1 960.5V894.9"/>
<path class="st" d="M2323.1 960.5V894.9"/>
<path class="st" d="M2323.1 960.5V894.9"/>
<path class="st" d="M2328.1 960.5V894.9"/>
<path class="st" d="M2328.1 960.5V894.9"/>
<path class="st" d="M2338.1 960.5V894.9"/>
<path class="st" d="M2348.1 960.5V822.3"/>
<path class="st" d="M2368.1 960.5V894.9"/>
<path class="st" d="M2374.7 960.5V894.9"/>
<path class="st" d="M2374.7 960.5V894.9"/>
<path class="st" d="M2379.7 960.5V894.9"/>
<path class="st" d="M2379.7 960.5V894.9"/>
<path class="st" d="M2376.4 960.5V749.7"/>
<path class="st" d="M2376.4 960.5V749.7"/>
<path class="st" d="M2399 960.5V894.9"/>
<path class="st" d="M2409 960.5V894.9"/>
<path class="st" d="M2425.6 960.5V894.9"/>
<path class="st" d="M2425.6 960.5V894.9"/>
<path class="st" d="M2443.6 960.5V894.9"/>
<path class="st" d="M2443.6 960.5V894.9"/>
<path class="st" d="M2456.2 960.5V894.9"/>
<path class="st" d="M2485.5 960.5V894.9"/>
<path class="st" d="M2485.5 960.5V894.9"/>
<path class="st" d="M2492.8 960.5V894.9"/>
<path class="st" d="M2517.8 960.5V894.9"/>
<path class="st" d="M2529.5 960.5V894.9"/>
<path class="st" d="M2529.5 960.5V894.9"/>
<path class="st" d="M2534.4 960.5V894.9"/>
<path class="st" d="M2534.4 960.5V894.9"/>
<path class="st" d="M2539.4 960.5V894.9"/>
<path class="st" d="M2539.4 960.5V894.9"/>
<path class="st" d="M2546.1 960.5V894.9"/>
<path class="st" d="M2546.1 960.5V894.9"/>
<path class="st" d="M2577.7 960.5V894.9"/>
<path class="st" d="M2577.7 960.5V894.9"/>
<path class="st" d="M2577.7 960.5V894.9"/>
<path class="st" d="M2595.3 960.5V822.3"/>
<path class="st" d="M2595.3 960.5V894.9"/>
<path class="st" d="M2595.3 960.5V894.9"/>
<path class="st" d="M2595.3 960.5V894.9"/>
<path class="st" d="M2617.6 960.5V894.9"/>
<path class="st" d="M2626 960.5V894.9"/>
<path class="st" d="M2626 960.5V894.9"/>
<path class="st" d="M2630.9 960.5V749.7"/>
<path class="st" d="M2630.9 960.5V894.9"/>
<path class="st" d="M2630.9 960.5V894.9"/>
<path class="st" d="M2639.3 960.5V894.9"/>
<path class="st" d="M2659.9 960.5V822.3"/>
<path class="st" d="M2687.5 960.5V894.9"/>
<path class="st" d="M2687.5 960.5V894.9"/>
<path class="st" d="M2699.2 960.5V894.9"/>
<path class="st" d="M2717.5 960.5V894.9"/>
<path class="st" d="M2717.5 960.5V894.9"/>
<path class="st" d="M2724.1 960.5V894.9"/>
<path class="st" d="M2724.1 960.5V894.9"/>
<path class="st" d="M2734.1 960.5V822.3"/>
<path class="st" d="M2744.1 960.5V894.9"/>
<path class="st" d="M2744.1 960.5V894.9"/>
<path class="st" d="M2762.4 960.5V894.9"/>
<path class="st" d="M2762.4 960.5V894.9"/>
<path class="st" d="M2772.4 960.5V894.9"/>
<path class="st" d="M2772.4 960.5V894.9"/>
<path class="st" d="M2784 960.5V894.9"/>
<path class="st" d="M2805 960.5V894.9"/>
<path class="st" d="M2813.3 960.5V894.9"/>
<path class="st" d="M2814 960.5V822.3"/>
<path class="st" d="M2821.6 960.5V894.9"/>
<path class="st" d="M2821.6 960.5V894.9"/>
<path class="st" d="M2833.3 960.5V894.9"/>
<path class="st" d="M2833.3 960.5V894.9"/>
<path class="st" d="M2838.3 960.5V894.9"/>
<path class="st" d="M2838.3 960.5V894.9"/>
<path class="st" d="M2842.6 960.5V822.3"/>
<path class="st" d="M2852.6 960.5V822.3"/>
<path class="st" d="M2851.6 960.5V894.9"/>
<path class="st" d="M2851.6 960.5V894.9"/>
<path class="st" d="M2859.9 960.5V894.9"/>
<path class="st" d="M2864.9 960.5V894.9"/>
<path class="st" d="M2881.5 960.5V894.9"/>
<path class="st" d="M2894.8 960.5V894.9"/>
<path class="st" d="M2908.2 960.5V894.9"/>
<path class="st" d="M2911.5 960.5V894.9"/>
<path class="st" d="M2911.5 960.5V894.9"/>
<path class="st" d="M2916.5 960.5V894.9"/>
<path class="st" d="M2921.5 960.5V894.9"/>
<path class="st" d="M2928.1 960.5V894.9"/>
<path class="st" d="M2928.1 960.5V894.9"/>
<path class="st" d="M2943.1 960.5V894.9"/>
<path class="st" d="M2943.1 960.5V894.9"/>
<path class="st" d="M2950.7 960.5V749.7"/>
<path class="st" d="M2954.7 960.5V894.9"/>
<path class="st" d="M2973 960.5V894.9"/>
<path class="st" d="M2981.4 960.5V894.9"/>
<path class="st" d="M2991.3 960.5V894.9"/>
<path class="st" d="M2991.3 960.5V894.9"/>
<path class="st" d="M3003 960.5V894.9"/>
<path class="st" d="M3009 960.5V822.3"/>
<path class="st" d="M3009 960.5V894.9"/>
<path class="st" d="M3009 960.5V894.9"/>
<path class="st" d="M3032.9 960.5V894.9"/>
<path class="st" d="M3032.9 960.5V894.9"/>
<path class="st" d="M3041.3 960.5V894.9"/>
<path class="st" d="M3041.3 960.5V894.9"/>
<path class="st" d="M3042.9 960.5V894.9"/>
<path class="st" d="M3056.2 960.5V894.9"/>
<path class="st" d="M3066.2 960.5V822.3"/>
<path class="st" d="M3074.5 960.5V894.9"/>
<path class="st" d="M3109.5 960.5V894.9"/>
<path class="st" d="M3109.5 960.5V894.9"/>
<path class="st" d="M3114.5 960.5V894.9"/>
<path class="st" d="M3119.5 960.5V894.9"/>
<path class="st" d="M3127.8 960.5V894.9"/>
<path class="st" d="M3149.4 960.5V894.9"/>
<path class="st" d="M3162.7 960.5V894.9"/>
<path class="st" d="M3162.7 960.5V894.9"/>
<path class="st" d="M3177.7 960.5V822.3"/>
<path class="st" d="M3192.7 960.5V894.9"/>
<path class="st" d="M3192.7 960.5V894.9"/>
<path class="st" d="M3192.7 960.5V894.9"/>
<path class="st" d="M3196.7 960.5V749.7"/>
<path class="st" d="M3208.7 960.5V894.9"/>
<path class="st" d="M3216.6 960.5V822.3"/>
<path class="st" d="M3216.6 960.5V894.9"/>
<path class="st" d="M3216.6 960.5V894.9"/>
<path class="st" d="M3235.3 960.5V894.9"/>
<path class="st" d="M3235.3 960.5V894.9"/>
<path class="st" d="M3260.9 960.5V894.9"/>
<path class="st" d="M3285.9 960.5V894.9"/>
<path class="st" d="M3308.5 960.5V822.3"/>
<path class="st" d="M3309.2 960.5V894.9"/>
<path class="st" d="M3309.2 960.5V894.9"/>
</g>
<line x1="409.65" y1="496" x2="409.65" y2="985.1" stroke="#000" stroke-width="6.6"/>
<line x1="406.35" y1="981.9" x2="3317.2" y2="981.9" stroke="#000" stroke-width="6.4"/>
<line x1="384.8" y1="960.5" x2="409.7" y2="960.5" stroke="#000" stroke-width="5"/>
<text x="335.8" y="976.1" font-size="41.7" fill="#000" textLength="26.5" lengthAdjust="spacing">0</text>
<line x1="384.8" y1="815.3" x2="409.7" y2="815.3" stroke="#000" stroke-width="5"/>
<text x="337.3" y="830.9" font-size="41.7" fill="#000" textLength="26.5" lengthAdjust="spacing">2</text>
<line x1="384.8" y1="670.1" x2="409.7" y2="670.1" stroke="#000" stroke-width="5"/>
<text x="335.4" y="685.7" font-size="41.7" fill="#000" textLength="26.5" lengthAdjust="spacing">4</text>
<line x1="384.8" y1="524.9" x2="409.7" y2="524.9" stroke="#000" stroke-width="5"/>
<text x="335.6" y="540.5" font-size="41.7" fill="#000" textLength="26.5" lengthAdjust="spacing">6</text>
<text transform="translate(301.2,901.9) rotate(-90)" x="-3.8" y="0" font-size="41.7" fill="#000" textLength="324.2" lengthAdjust="spacing">mutation count</text>
<g clip-path="url(#c2)">
<rect x="405" y="1323.6" width="2915" height="17.4" fill="#646464"/>
<circle cx="406" cy="1332.1" r="9.3" fill="#646464"/>
<circle cx="415.5" cy="1332.4" r="9.3" fill="#646464"/>
<circle cx="426.1" cy="1332.3" r="9.3" fill="#646464"/>
<circle cx="436.6" cy="1331.1" r="9.3" fill="#646464"/>
<circle cx="444.4" cy="1332.7" r="9.3" fill="#646464"/>
<circle cx="453.3" cy="1332.6" r="9.3" fill="#646464"/>
<circle cx="459" cy="1331.8" r="9.3" fill="#646464"/>
<circle cx="465.5" cy="1332" r="9.3" fill="#646464"/>
<circle cx="473.9" cy="1331" r="9.3" fill="#646464"/>
<circle cx="480.2" cy="1331.5" r="9.3" fill="#646464"/>
<circle cx="490.7" cy="1332.4" r="9.3" fill="#646464"/>
<circle cx="496.7" cy="1332.4" r="9.3" fill="#646464"/>
<circle cx="502.5" cy="1332.1" r="9.3" fill="#646464"/>
<circle cx="508.3" cy="1331" r="9.3" fill="#646464"/>
<circle cx="518.5" cy="1331.4" r="9.3" fill="#646464"/>
<circle cx="524.8" cy="1332.8" r="9.3" fill="#646464"/>
<circle cx="535" cy="1331.5" r="9.3" fill="#646464"/>
<circle cx="545.8" cy="1332" r="9.3" fill="#646464"/>
<circle cx="554.9" cy="1331.4" r="9.3" fill="#646464"/>
<circle cx="565.5" cy="1332.2" r="9.3" fill="#646464"/>
<circle cx="576.3" cy="1332.6" r="9.3" fill="#646464"/>
<circle cx="583.1" cy="1331.7" r="9.3" fill="#646464"/>
<circle cx="589.1" cy="1331.3" r="9.3" fill="#646464"/>
<circle cx="594.5" cy="1331.5" r="9.3" fill="#646464"/>
<circle cx="603.1" cy="1331" r="9.3" fill="#646464"/>
<circle cx="612.2" cy="1331.6" r="9.3" fill="#646464"/>
<circle cx="619" cy="1332.5" r="9.3" fill="#646464"/>
<circle cx="626.9" cy="1331.6" r="9.3" fill="#646464"/>
<circle cx="634.8" cy="1332.3" r="9.3" fill="#646464"/>
<circle cx="640.2" cy="1332.8" r="9.3" fill="#646464"/>
<circle cx="645.3" cy="1332.3" r="9.3" fill="#646464"/>
<circle cx="655.4" cy="1331" r="9.3" fill="#646464"/>
<circle cx="665.1" cy="1331.7" r="9.3" fill="#646464"/>
<circle cx="673.6" cy="1331" r="9.3" fill="#646464"/>
<circle cx="678.8" cy="1331.3" r="9.3" fill="#646464"/>
<circle cx="689.6" cy="1331.4" r="9.3" fill="#646464"/>
<circle cx="699.1" cy="1332.7" r="9.3" fill="#646464"/>
<circle cx="709.8" cy="1331.6" r="9.3" fill="#646464"/>
<circle cx="716.9" cy="1331.9" r="9.3" fill="#646464"/>
<circle cx="726.5" cy="1331.2" r="9.3" fill="#646464"/>
<circle cx="736" cy="1332.4" r="9.3" fill="#646464"/>
<circle cx="746.2" cy="1331.1" r="9.3" fill="#646464"/>
<circle cx="756.9" cy="1331.2" r="9.3" fill="#646464"/>
<circle cx="763.9" cy="1332.1" r="9.3" fill="#646464"/>
<circle cx="774.4" cy="1331.6" r="9.3" fill="#646464"/>
<circle cx="785" cy="1332" r="9.3" fill="#646464"/>
<circle cx="791.8" cy="1331.6" r="9.3" fill="#646464"/>
<circle cx="797.9" cy="1331.1" r="9.3" fill="#646464"/>
<circle cx="803.8" cy="1332.2" r="9.3" fill="#646464"/>
<circle cx="814.8" cy="1331.3" r="9.3" fill="#646464"/>
<circle cx="820.1" cy="1332.8" r="9.3" fill="#646464"/>
<circle cx="828.3" cy="1331.7" r="9.3" fill="#646464"/>
<circle cx="834.7" cy="1332.1" r="9.3" fill="#646464"/>
<circle cx="844.6" cy="1331.8" r="9.3" fill="#646464"/>
<circle cx="852.2" cy="1331.1" r="9.3" fill="#646464"/>
<circle cx="862.7" cy="1331.1" r="9.3" fill="#646464"/>
<circle cx="870.6" cy="1332.5" r="9.3" fill="#646464"/>
<circle cx="876.4" cy="1332.3" r="9.3" fill="#646464"/>
<circle cx="887.1" cy="1332.1" r="9.3" fill="#646464"/>
<circle cx="896.8" cy="1331.2" r="9.3" fill="#646464"/>
<circle cx="904.5" cy="1331.3" r="9.3" fill="#646464"/>
<circle cx="914.5" cy="1331.5" r="9.3" fill="#646464"/>
<circle cx="922.2" cy="1332.8" r="9.3" fill="#646464"/>
<circle cx="932.4" cy="1332.8" r="9.3" fill="#646464"/>
<circle cx="940.1" cy="1331.9" r="9.3" fill="#646464"/>
<circle cx="949.5" cy="1331.9" r="9.3" fill="#646464"/>
<circle cx="956.2" cy="1331.7" r="9.3" fill="#646464"/>
<circle cx="962.1" cy="1331.7" r="9.3" fill="#646464"/>
<circle cx="973" cy="1332.7" r="9.3" fill="#646464"/>
<circle cx="981.8" cy="1331.9" r="9.3" fill="#646464"/>
<circle cx="988.8" cy="1331.2" r="9.3" fill="#646464"/>
<circle cx="995.4" cy="1332.4" r="9.3" fill="#646464"/>
<circle cx="1005.6" cy="1331.7" r="9.3" fill="#646464"/>
<circle cx="1015.4" cy="1332.4" r="9.3" fill="#646464"/>
<circle cx="1024.5" cy="1332.2" r="9.3" fill="#646464"/>
<circle cx="1034.1" cy="1331.7" r="9.3" fill="#646464"/>
<circle cx="1043.3" cy="1331.5" r="9.3" fill="#646464"/>
<circle cx="1051.2" cy="1332.4" r="9.3" fill="#646464"/>
<circle cx="1060.4" cy="1331.5" r="9.3" fill="#646464"/>
<circle cx="1071" cy="1332.2" r="9.3" fill="#646464"/>
<circle cx="1079.5" cy="1331" r="9.3" fill="#646464"/>
<circle cx="1087.8" cy="1331.5" r="9.3" fill="#646464"/>
<circle cx="1096.8" cy="1331.8" r="9.3" fill="#646464"/>
<circle cx="1106.7" cy="1332.2" r="9.3" fill="#646464"/>
<circle cx="1116.5" cy="1331.6" r="9.3" fill="#646464"/>
<circle cx="1125.4" cy="1332.3" r="9.3" fill="#646464"/>
<circle cx="1135.4" cy="1331.6" r="9.3" fill="#646464"/>
<circle cx="1145.4" cy="1332.6" r="9.3" fill="#646464"/>
<circle cx="1154.5" cy="1332.8" r="9.3" fill="#646464"/>
<circle cx="1165.3" cy="1331.9" r="9.3" fill="#646464"/>
<circle cx="1173.5" cy="1331.3" r="9.3" fill="#646464"/>
<circle cx="1183.5" cy="1332.7" r="9.3" fill="#646464"/>
<circle cx="1191.3" cy="1332.2" r="9.3" fill="#646464"/>
<circle cx="1200.7" cy="1332.3" r="9.3" fill="#646464"/>
<circle cx="1206.7" cy="1332.4" r="9.3" fill="#646464"/>
<circle cx="1215.2" cy="1332.2" r="9.3" fill="#646464"/>
<circle cx="1222.7" cy="1332.1" r="9.3" fill="#646464"/>
<circle cx="1232.3" cy="1332.1" r="9.3" fill="#646464"/>
<circle cx="1241.7" cy="1331" r="9.3" fill="#646464"/>
<circle cx="1247.6" cy="1331.8" r="9.3" fill="#646464"/>
<circle cx="1256.5" cy="1331.4" r="9.3" fill="#646464"/>
<circle cx="1265.6" cy="1332.1" r="9.3" fill="#646464"/>
<circle cx="1270.9" cy="1331.8" r="9.3" fill="#646464"/>
<circle cx="1277.3" cy="1331.1" r="9.3" fill="#646464"/>
<circle cx="1283.1" cy="1331.6" r="9.3" fill="#646464"/>
<circle cx="1289.1" cy="1331.3" r="9.3" fill="#646464"/>
<circle cx="1294.4" cy="1331.8" r="9.3" fill="#646464"/>
<circle cx="1301.6" cy="1332.1" r="9.3" fill="#646464"/>
<circle cx="1310.2" cy="1331.4" r="9.3" fill="#646464"/>
<circle cx="1320.6" cy="1331" r="9.3" fill="#646464"/>
<circle cx="1328" cy="1331.5" r="9.3" fill="#646464"/>
<circle cx="1335.5" cy="1331.2" r="9.3" fill="#646464"/>
<circle cx="1345.5" cy="1331.7" r="9.3" fill="#646464"/>
<circle cx="1350.7" cy="1332.1" r="9.3" fill="#646464"/>
<circle cx="1356.3" cy="1332" r="9.3" fill="#646464"/>
<circle cx="1363.3" cy="1332" r="9.3" fill="#646464"/>
<circle cx="1374.1" cy="1332.5" r="9.3" fill="#646464"/>
<circle cx="1381.6" cy="1332.5" r="9.3" fill="#646464"/>
<circle cx="1390.4" cy="1331.7" r="9.3" fill="#646464"/>
<circle cx="1396.3" cy="1332.1" r="9.3" fill="#646464"/>
<circle cx="1404.7" cy="1332.7" r="9.3" fill="#646464"/>
<circle cx="1415.5" cy="1332.1" r="9.3" fill="#646464"/>
<circle cx="1422.6" cy="1332.6" r="9.3" fill="#646464"/>
<circle cx="1427.6" cy="1331.2" r="9.3" fill="#646464"/>
<circle cx="1436" cy="1332.1" r="9.3" fill="#646464"/>
<circle cx="1441.8" cy="1332.1" r="9.3" fill="#646464"/>
<circle cx="1452.2" cy="1331.7" r="9.3" fill="#646464"/>
<circle cx="1459.8" cy="1331.4" r="9.3" fill="#646464"/>
<circle cx="1466.5" cy="1332.8" r="9.3" fill="#646464"/>
<circle cx="1473.8" cy="1332.7" r="9.3" fill="#646464"/>
<circle cx="1484.3" cy="1332.1" r="9.3" fill="#646464"/>
<circle cx="1490.8" cy="1332.8" r="9.3" fill="#646464"/>
<circle cx="1498.8" cy="1331.7" r="9.3" fill="#646464"/>
<circle cx="1505.7" cy="1332.8" r="9.3" fill="#646464"/>
<circle cx="1513.7" cy="1331.5" r="9.3" fill="#646464"/>
<circle cx="1521.5" cy="1331.2" r="9.3" fill="#646464"/>
<circle cx="1530.3" cy="1331.8" r="9.3" fill="#646464"/>
<circle cx="1537" cy="1332.4" r="9.3" fill="#646464"/>
<circle cx="1547" cy="1331" r="9.3" fill="#646464"/>
<circle cx="1555.2" cy="1331.5" r="9.3" fill="#646464"/>
<circle cx="1565.8" cy="1332.4" r="9.3" fill="#646464"/>
<circle cx="1572.3" cy="1331.5" r="9.3" fill="#646464"/>
<circle cx="1578.2" cy="1332.8" r="9.3" fill="#646464"/>
<circle cx="1584.9" cy="1332.1" r="9.3" fill="#646464"/>
<circle cx="1592.8" cy="1332.2" r="9.3" fill="#646464"/>
<circle cx="1601.4" cy="1332.3" r="9.3" fill="#646464"/>
<circle cx="1607.1" cy="1332.4" r="9.3" fill="#646464"/>
<circle cx="1613.9" cy="1332" r="9.3" fill="#646464"/>
<circle cx="1620.9" cy="1331.5" r="9.3" fill="#646464"/>
<circle cx="1629.1" cy="1331.8" r="9.3" fill="#646464"/>
<circle cx="1636.3" cy="1332.3" r="9.3" fill="#646464"/>
<circle cx="1644.8" cy="1331.1" r="9.3" fill="#646464"/>
<circle cx="1651.4" cy="1331.8" r="9.3" fill="#646464"/>
<circle cx="1661.9" cy="1332.6" r="9.3" fill="#646464"/>
<circle cx="1670.1" cy="1331" r="9.3" fill="#646464"/>
<circle cx="1679.8" cy="1331.8" r="9.3" fill="#646464"/>
<circle cx="1688.3" cy="1332.3" r="9.3" fill="#646464"/>
<circle cx="1697" cy="1331.9" r="9.3" fill="#646464"/>
<circle cx="1707.5" cy="1331.7" r="9.3" fill="#646464"/>
<circle cx="1714.9" cy="1332.5" r="9.3" fill="#646464"/>
<circle cx="1721" cy="1331.5" r="9.3" fill="#646464"/>
<circle cx="1731" cy="1331.1" r="9.3" fill="#646464"/>
<circle cx="1741" cy="1332.3" r="9.3" fill="#646464"/>
<circle cx="1748.6" cy="1331.5" r="9.3" fill="#646464"/>
<circle cx="1758.3" cy="1332.6" r="9.3" fill="#646464"/>
<circle cx="1764.2" cy="1331.9" r="9.3" fill="#646464"/>
<circle cx="1772.5" cy="1331.9" r="9.3" fill="#646464"/>
<circle cx="1779.5" cy="1331.3" r="9.3" fill="#646464"/>
<circle cx="1788" cy="1332.5" r="9.3" fill="#646464"/>
<circle cx="1793.4" cy="1331.4" r="9.3" fill="#646464"/>
<circle cx="1803.3" cy="1332.4" r="9.3" fill="#646464"/>
<circle cx="1812.3" cy="1331" r="9.3" fill="#646464"/>
<circle cx="1821.6" cy="1332.8" r="9.3" fill="#646464"/>
<circle cx="1832.6" cy="1332.3" r="9.3" fill="#646464"/>
<circle cx="1837.9" cy="1332.5" r="9.3" fill="#646464"/>
<circle cx="1844.2" cy="1332.2" r="9.3" fill="#646464"/>
<circle cx="1854.9" cy="1332.3" r="9.3" fill="#646464"/>
<circle cx="1860.7" cy="1331.5" r="9.3" fill="#646464"/>
<circle cx="1871.2" cy="1331.3" r="9.3" fill="#646464"/>
<circle cx="1879.9" cy="1331.7" r="9.3" fill="#646464"/>
<circle cx="1885.9" cy="1332.1" r="9.3" fill="#646464"/>
<circle cx="1891.1" cy="1331.2" r="9.3" fill="#646464"/>
<circle cx="1898.4" cy="1331.1" r="9.3" fill="#646464"/>
<circle cx="1903.8" cy="1332" r="9.3" fill="#646464"/>
<circle cx="1913.2" cy="1332.6" r="9.3" fill="#646464"/>
<circle cx="1919" cy="1331.8" r="9.3" fill="#646464"/>
<circle cx="1925.9" cy="1332.1" r="9.3" fill="#646464"/>
<circle cx="1933.8" cy="1332.7" r="9.3" fill="#646464"/>
<circle cx="1941.1" cy="1331.1" r="9.3" fill="#646464"/>
<circle cx="1950.3" cy="1331.3" r="9.3" fill="#646464"/>
<circle cx="1959.1" cy="1331.9" r="9.3" fill="#646464"/>
<circle cx="1969.5" cy="1332" r="9.3" fill="#646464"/>
<circle cx="1978.2" cy="1331.5" r="9.3" fill="#646464"/>
<circle cx="1986.6" cy="1331.5" r="9.3" fill="#646464"/>
<circle cx="1996.1" cy="1331.9" r="9.3" fill="#646464"/>
<circle cx="2001.9" cy="1331.4" r="9.3" fill="#646464"/>
<circle cx="2009.1" cy="1332.3" r="9.3" fill="#646464"/>
<circle cx="2015.2" cy="1332.3" r="9.3" fill="#646464"/>
<circle cx="2024.1" cy="1331.2" r="9.3" fill="#646464"/>
<circle cx="2033.1" cy="1331.2" r="9.3" fill="#646464"/>
<circle cx="2038.9" cy="1332.1" r="9.3" fill="#646464"/>
<circle cx="2045.3" cy="1332.6" r="9.3" fill="#646464"/>
<circle cx="2053.2" cy="1331.6" r="9.3" fill="#646464"/>
<circle cx="2062.9" cy="1331.1" r="9.3" fill="#646464"/>
<circle cx="2072.3" cy="1331.1" r="9.3" fill="#646464"/>
<circle cx="2078.2" cy="1332.7" r="9.3" fill="#646464"/>
<circle cx="2087.3" cy="1331.4" r="9.3" fill="#646464"/>
<circle cx="2093" cy="1332.8" r="9.3" fill="#646464"/>
<circle cx="2102" cy="1332.5" r="9.3" fill="#646464"/>
<circle cx="2107.8" cy="1332.1" r="9.3" fill="#646464"/>
<circle cx="2114.9" cy="1331.4" r="9.3" fill="#646464"/>
<circle cx="2121.9" cy="1332.1" r="9.3" fill="#646464"/>
<circle cx="2129" cy="1331.7" r="9.3" fill="#646464"/>
<circle cx="2134.9" cy="1332.5" r="9.3" fill="#646464"/>
<circle cx="2143.7" cy="1332.4" r="9.3" fill="#646464"/>
<circle cx="2151.3" cy="1332.5" r="9.3" fill="#646464"/>
<circle cx="2159.4" cy="1332.1" r="9.3" fill="#646464"/>
<circle cx="2167.9" cy="1332.3" r="9.3" fill="#646464"/>
<circle cx="2175.3" cy="1331.2" r="9.3" fill="#646464"/>
<circle cx="2180.5" cy="1331.4" r="9.3" fill="#646464"/>
<circle cx="2185.7" cy="1332.6" r="9.3" fill="#646464"/>
<circle cx="2193.6" cy="1332.4" r="9.3" fill="#646464"/>
<circle cx="2198.6" cy="1331.8" r="9.3" fill="#646464"/>
<circle cx="2208.9" cy="1332.1" r="9.3" fill="#646464"/>
<circle cx="2216.5" cy="1331.8" r="9.3" fill="#646464"/>
<circle cx="2222.1" cy="1331.3" r="9.3" fill="#646464"/>
<circle cx="2228" cy="1331.7" r="9.3" fill="#646464"/>
<circle cx="2235.4" cy="1332.6" r="9.3" fill="#646464"/>
<circle cx="2241.3" cy="1331.5" r="9.3" fill="#646464"/>
<circle cx="2247.9" cy="1331.3" r="9.3" fill="#646464"/>
<circle cx="2254.7" cy="1331.4" r="9.3" fill="#646464"/>
<circle cx="2262.5" cy="1331.1" r="9.3" fill="#646464"/>
<circle cx="2273.1" cy="1331.7" r="9.3" fill="#646464"/>
<circle cx="2283.7" cy="1332.2" r="9.3" fill="#646464"/>
<circle cx="2292.8" cy="1331.8" r="9.3" fill="#646464"/>
<circle cx="2303.4" cy="1331.2" r="9.3" fill="#646464"/>
<circle cx="2312.5" cy="1331.5" r="9.3" fill="#646464"/>
<circle cx="2321.5" cy="1332.3" r="9.3" fill="#646464"/>
<circle cx="2327.5" cy="1331.4" r="9.3" fill="#646464"/>
<circle cx="2332.6" cy="1331.4" r="9.3" fill="#646464"/>
<circle cx="2338.1" cy="1331.7" r="9.3" fill="#646464"/>
<circle cx="2348.9" cy="1331.7" r="9.3" fill="#646464"/>
<circle cx="2355.8" cy="1331.8" r="9.3" fill="#646464"/>
<circle cx="2362.5" cy="1332.3" r="9.3" fill="#646464"/>
<circle cx="2371.8" cy="1331.3" r="9.3" fill="#646464"/>
<circle cx="2378.3" cy="1332.2" r="9.3" fill="#646464"/>
<circle cx="2388.9" cy="1332.2" r="9.3" fill="#646464"/>
<circle cx="2396.5" cy="1332.8" r="9.3" fill="#646464"/>
<circle cx="2401.5" cy="1331.1" r="9.3" fill="#646464"/>
<circle cx="2411.2" cy="1331.7" r="9.3" fill="#646464"/>
<circle cx="2416.5" cy="1332" r="9.3" fill="#646464"/>
<circle cx="2427.4" cy="1331.9" r="9.3" fill="#646464"/>
<circle cx="2434.5" cy="1331.2" r="9.3" fill="#646464"/>
<circle cx="2439.9" cy="1332.6" r="9.3" fill="#646464"/>
<circle cx="2447.9" cy="1332.7" r="9.3" fill="#646464"/>
<circle cx="2453.2" cy="1331.4" r="9.3" fill="#646464"/>
<circle cx="2458.5" cy="1331.7" r="9.3" fill="#646464"/>
<circle cx="2463.9" cy="1331.5" r="9.3" fill="#646464"/>
<circle cx="2471.3" cy="1331.6" r="9.3" fill="#646464"/>
<circle cx="2476.6" cy="1331.1" r="9.3" fill="#646464"/>
<circle cx="2487.4" cy="1331.3" r="9.3" fill="#646464"/>
<circle cx="2495.5" cy="1331.7" r="9.3" fill="#646464"/>
<circle cx="2503.7" cy="1331.2" r="9.3" fill="#646464"/>
<circle cx="2510.6" cy="1331.2" r="9.3" fill="#646464"/>
<circle cx="2518.8" cy="1332.7" r="9.3" fill="#646464"/>
<circle cx="2527.4" cy="1332.5" r="9.3" fill="#646464"/>
<circle cx="2533.7" cy="1331" r="9.3" fill="#646464"/>
<circle cx="2541.9" cy="1331.9" r="9.3" fill="#646464"/>
<circle cx="2550.4" cy="1331.7" r="9.3" fill="#646464"/>
<circle cx="2559.1" cy="1332.3" r="9.3" fill="#646464"/>
<circle cx="2569.6" cy="1331.6" r="9.3" fill="#646464"/>
<circle cx="2577.3" cy="1332.5" r="9.3" fill="#646464"/>
<circle cx="2583.6" cy="1331.2" r="9.3" fill="#646464"/>
<circle cx="2590.5" cy="1331.2" r="9.3" fill="#646464"/>
<circle cx="2600.1" cy="1332.5" r="9.3" fill="#646464"/>
<circle cx="2607" cy="1331.2" r="9.3" fill="#646464"/>
<circle cx="2612.5" cy="1331.4" r="9.3" fill="#646464"/>
<circle cx="2618" cy="1331.8" r="9.3" fill="#646464"/>
<circle cx="2626.5" cy="1331.4" r="9.3" fill="#646464"/>
<circle cx="2631.8" cy="1332.3" r="9.3" fill="#646464"/>
<circle cx="2637.1" cy="1331.4" r="9.3" fill="#646464"/>
<circle cx="2643.8" cy="1331.7" r="9.3" fill="#646464"/>
<circle cx="2649.4" cy="1331.8" r="9.3" fill="#646464"/>
<circle cx="2656.3" cy="1332.4" r="9.3" fill="#646464"/>
<circle cx="2664.7" cy="1332.6" r="9.3" fill="#646464"/>
<circle cx="2673.6" cy="1332.4" r="9.3" fill="#646464"/>
<circle cx="2682" cy="1331.8" r="9.3" fill="#646464"/>
<circle cx="2691.9" cy="1332.2" r="9.3" fill="#646464"/>
<circle cx="2702.7" cy="1332.3" r="9.3" fill="#646464"/>
<circle cx="2711.9" cy="1331.5" r="9.3" fill="#646464"/>
<circle cx="2721.7" cy="1331.7" r="9.3" fill="#646464"/>
<circle cx="2727.5" cy="1331.1" r="9.3" fill="#646464"/>
<circle cx="2733.5" cy="1331.5" r="9.3" fill="#646464"/>
<circle cx="2742.6" cy="1331.5" r="9.3" fill="#646464"/>
<circle cx="2748" cy="1332.4" r="9.3" fill="#646464"/>
<circle cx="2756.3" cy="1331" r="9.3" fill="#646464"/>
<circle cx="2761.6" cy="1331.2" r="9.3" fill="#646464"/>
<circle cx="2768.8" cy="1332.5" r="9.3" fill="#646464"/>
<circle cx="2779.5" cy="1332.1" r="9.3" fill="#646464"/>
<circle cx="2785.8" cy="1331.8" r="9.3" fill="#646464"/>
<circle cx="2793" cy="1331.6" r="9.3" fill="#646464"/>
<circle cx="2798.1" cy="1332.1" r="9.3" fill="#646464"/>
<circle cx="2808.1" cy="1332.3" r="9.3" fill="#646464"/>
<circle cx="2813.6" cy="1332" r="9.3" fill="#646464"/>
<circle cx="2819.7" cy="1332.3" r="9.3" fill="#646464"/>
<circle cx="2827.3" cy="1332.7" r="9.3" fill="#646464"/>
<circle cx="2837.1" cy="1331.2" r="9.3" fill="#646464"/>
<circle cx="2844" cy="1332.6" r="9.3" fill="#646464"/>
<circle cx="2851.8" cy="1331.8" r="9.3" fill="#646464"/>
<circle cx="2859.4" cy="1332.4" r="9.3" fill="#646464"/>
<circle cx="2870" cy="1332" r="9.3" fill="#646464"/>
<circle cx="2880.9" cy="1332.1" r="9.3" fill="#646464"/>
<circle cx="2886.5" cy="1332.5" r="9.3" fill="#646464"/>
<circle cx="2894" cy="1331.1" r="9.3" fill="#646464"/>
<circle cx="2904.9" cy="1331.1" r="9.3" fill="#646464"/>
<circle cx="2913.3" cy="1331.9" r="9.3" fill="#646464"/>
<circle cx="2923.6" cy="1331.7" r="9.3" fill="#646464"/>
<circle cx="2929.9" cy="1331.5" r="9.3" fill="#646464"/>
<circle cx="2936.1" cy="1332" r="9.3" fill="#646464"/>
<circle cx="2943.3" cy="1332.4" r="9.3" fill="#646464"/>
<circle cx="2949.7" cy="1331.6" r="9.3" fill="#646464"/>
<circle cx="2956.2" cy="1332.8" r="9.3" fill="#646464"/>
<circle cx="2966.2" cy="1332.5" r="9.3" fill="#646464"/>
<circle cx="2974.9" cy="1331.7" r="9.3" fill="#646464"/>
<circle cx="2980.8" cy="1332.5" r="9.3" fill="#646464"/>
<circle cx="2988.7" cy="1331.1" r="9.3" fill="#646464"/>
<circle cx="2994.8" cy="1331.2" r="9.3" fill="#646464"/>
<circle cx="3004.1" cy="1332.6" r="9.3" fill="#646464"/>
<circle cx="3010.3" cy="1332.4" r="9.3" fill="#646464"/>
<circle cx="3017.2" cy="1332.2" r="9.3" fill="#646464"/>
<circle cx="3027.4" cy="1332.1" r="9.3" fill="#646464"/>
<circle cx="3037.2" cy="1331.7" r="9.3" fill="#646464"/>
<circle cx="3042.2" cy="1331.9" r="9.3" fill="#646464"/>
<circle cx="3050.8" cy="1331.3" r="9.3" fill="#646464"/>
<circle cx="3058.1" cy="1331.6" r="9.3" fill="#646464"/>
<circle cx="3063.3" cy="1331.6" r="9.3" fill="#646464"/>
<circle cx="3070.6" cy="1331.9" r="9.3" fill="#646464"/>
<circle cx="3079.8" cy="1331.7" r="9.3" fill="#646464"/>
<circle cx="3090.7" cy="1332.5" r="9.3" fill="#646464"/>
<circle cx="3101.2" cy="1332.2" r="9.3" fill="#646464"/>
<circle cx="3110.2" cy="1332" r="9.3" fill="#646464"/>
<circle cx="3120" cy="1331.7" r="9.3" fill="#646464"/>
<circle cx="3128.6" cy="1332.2" r="9.3" fill="#646464"/>
<circle cx="3136.7" cy="1331.5" r="9.3" fill="#646464"/>
<circle cx="3142.2" cy="1331.2" r="9.3" fill="#646464"/>
<circle cx="3149.3" cy="1332" r="9.3" fill="#646464"/>
<circle cx="3158.9" cy="1332.3" r="9.3" fill="#646464"/>
<circle cx="3165.7" cy="1332.7" r="9.3" fill="#646464"/>
<circle cx="3172.4" cy="1332.3" r="9.3" fill="#646464"/>
<circle cx="3177.8" cy="1332.4" r="9.3" fill="#646464"/>
<circle cx="3186.8" cy="1332.7" r="9.3" fill="#646464"/>
<circle cx="3197.2" cy="1332.2" r="9.3" fill="#646464"/>
<circle cx="3207.2" cy="1332.3" r="9.3" fill="#646464"/>
<circle cx="3215.9" cy="1331.4" r="9.3" fill="#646464"/>
<circle cx="3224" cy="1332.6" r="9.3" fill="#646464"/>
<circle cx="3230.4" cy="1332.8" r="9.3" fill="#646464"/>
<circle cx="3238.7" cy="1331.7" r="9.3" fill="#646464"/>
<circle cx="3243.7" cy="1331.7" r="9.3" fill="#646464"/>
<circle cx="3249.8" cy="1332.2" r="9.3" fill="#646464"/>
<circle cx="3260.2" cy="1332.6" r="9.3" fill="#646464"/>
<circle cx="3268.9" cy="1331.7" r="9.3" fill="#646464"/>
<circle cx="3274.5" cy="1332.2" r="9.3" fill="#646464"/>
<circle cx="3282.8" cy="1332.3" r="9.3" fill="#646464"/>
<circle cx="3290.1" cy="1332.6" r="9.3" fill="#646464"/>
<circle cx="3296.4" cy="1331.6" r="9.3" fill="#646464"/>
<circle cx="3303" cy="1332.1" r="9.3" fill="#646464"/>
<circle cx="3313.4" cy="1331.3" r="9.3" fill="#646464"/>
<circle class="bl" cx="1101" cy="1321.3" r="5.6"/>
<circle class="bl" cx="1484.3" cy="1321.6" r="5.6"/>
<circle class="bl" cx="2227.1" cy="1318.4" r="5.6"/>
<circle class="bl" cx="448.2" cy="1323" r="5.6"/>
<circle class="bl" cx="1163.2" cy="1319.4" r="5.6"/>
<circle class="bl" cx="3301.4" cy="1320.8" r="5.6"/>
<circle class="bl" cx="2839.1" cy="1320.9" r="5.6"/>
<circle class="bl" cx="2265.9" cy="1318.9" r="5.6"/>
<circle class="bl" cx="2253.6" cy="1323.2" r="5.6"/>
<circle class="bl" cx="1929.3" cy="1322.4" r="5.6"/>
<circle class="bl" cx="2359.8" cy="1318.4" r="5.6"/>
<circle class="bl" cx="2611.9" cy="1321.5" r="5.6"/>
<circle class="bl" cx="1284.9" cy="1318.2" r="5.6"/>
<circle class="bl" cx="2923.5" cy="1320.8" r="5.6"/>
<circle class="bl" cx="2497.5" cy="1323.3" r="5.6"/>
<circle class="bl" cx="2483.8" cy="1323.5" r="5.6"/>
<circle class="bl" cx="1557" cy="1322.8" r="5.6"/>
<circle class="bl" cx="1701.2" cy="1323.6" r="5.6"/>
<circle class="bl" cx="2962.2" cy="1318.6" r="5.6"/>
<circle class="bl" cx="804.9" cy="1319.3" r="5.6"/>
<circle class="bl" cx="3213.8" cy="1320.6" r="5.6"/>
<circle class="bl" cx="2229.8" cy="1319.8" r="5.6"/>
<circle class="bl" cx="1883" cy="1320.3" r="5.6"/>
<circle class="bl" cx="1429" cy="1321.5" r="5.6"/>
<circle class="bl" cx="2106.7" cy="1323.4" r="5.6"/>
<circle class="bl" cx="2390.5" cy="1323.6" r="5.6"/>
<circle class="bl" cx="2897" cy="1323.9" r="5.6"/>
<circle class="bl" cx="2359.4" cy="1319" r="5.6"/>
<circle class="bl" cx="2909.3" cy="1323.8" r="5.6"/>
<circle class="bl" cx="3037.2" cy="1321.4" r="5.6"/>
<circle class="bl" cx="2482.9" cy="1319.3" r="5.6"/>
<circle class="bl" cx="2825" cy="1321.4" r="5.6"/>
<circle class="bl" cx="1237.5" cy="1318.4" r="5.6"/>
<circle class="bl" cx="2889.8" cy="1323.9" r="5.6"/>
<circle class="bl" cx="667.1" cy="1322.8" r="5.6"/>
<circle class="bl" cx="1602" cy="1318.9" r="5.6"/>
<circle class="bl" cx="1263.5" cy="1322.6" r="5.6"/>
<circle class="bl" cx="2944.5" cy="1318.3" r="5.6"/>
<circle class="bl" cx="2194.6" cy="1318.3" r="5.6"/>
<circle class="bl" cx="2496.4" cy="1320" r="5.6"/>
<circle class="bl" cx="2968.1" cy="1323.9" r="5.6"/>
<circle class="bl" cx="1877.7" cy="1324" r="5.6"/>
<circle class="bl" cx="1309.3" cy="1318.5" r="5.6"/>
<circle class="bl" cx="2151.7" cy="1318.2" r="5.6"/>
<circle class="bl" cx="983.2" cy="1320.4" r="5.6"/>
<circle class="bl" cx="2182.8" cy="1318.9" r="5.6"/>
<circle class="bl" cx="533.2" cy="1323.2" r="5.6"/>
<circle class="bl" cx="1321.4" cy="1323.8" r="5.6"/>
<circle class="bl" cx="3013.9" cy="1320.3" r="5.6"/>
<circle class="bl" cx="1747" cy="1321.1" r="5.6"/>
<circle class="bl" cx="2279.9" cy="1321.6" r="5.6"/>
<circle class="bl" cx="2034.1" cy="1321.7" r="5.6"/>
<circle class="bl" cx="3141.6" cy="1321" r="5.6"/>
<circle class="bl" cx="1662.2" cy="1322.3" r="5.6"/>
<circle class="bl" cx="1100.1" cy="1319.8" r="5.6"/>
<circle class="bl" cx="3249.5" cy="1321.1" r="5.6"/>
<circle class="bl" cx="2002.6" cy="1318.1" r="5.6"/>
<circle class="bl" cx="1615.8" cy="1321.5" r="5.6"/>
<circle class="bl" cx="468.2" cy="1321.7" r="5.6"/>
<circle class="bl" cx="2245.9" cy="1318.4" r="5.6"/>
<circle class="bl" cx="2231.8" cy="1320.8" r="5.6"/>
<circle class="bl" cx="2382.6" cy="1320.1" r="5.6"/>
<circle class="bl" cx="2463" cy="1322.4" r="5.6"/>
<circle class="bl" cx="474.4" cy="1318.4" r="5.6"/>
<circle class="bl" cx="2373.2" cy="1323.8" r="5.6"/>
<circle class="bl" cx="1139.3" cy="1320.7" r="5.6"/>
<circle class="bl" cx="2131.1" cy="1319.9" r="5.6"/>
<circle class="bl" cx="1466.9" cy="1319.9" r="5.6"/>
<circle class="bl" cx="1482" cy="1321.6" r="5.6"/>
<circle class="bl" cx="1282.4" cy="1320.3" r="5.6"/>
<circle class="bg" cx="1348.4" cy="1174.4" r="5.6"/>
<circle class="bg" cx="1348.4" cy="1174.4" r="5.6"/>
<circle class="bg" cx="1492.8" cy="1182.8" r="5.6"/>
<circle class="bg" cx="2055" cy="1182.8" r="5.6"/>
<circle class="bg" cx="1049.8" cy="1230.8" r="5.6"/>
<circle class="bg" cx="1238" cy="1235.5" r="5.6"/>
<circle class="bg" cx="1238" cy="1235.5" r="5.6"/>
<circle class="bg" cx="1379.1" cy="1236.9" r="5.6"/>
<circle class="bg" cx="1379.1" cy="1236.9" r="5.6"/>
<circle class="bg" cx="1922.2" cy="1244.8" r="5.6"/>
<circle class="bg" cx="2193.8" cy="1266.2" r="5.6"/>
<circle class="bg" cx="1177" cy="1286.7" r="5.6"/>
<circle class="bg" cx="1177" cy="1286.7" r="5.6"/>
<circle class="bg" cx="1177" cy="1286.7" r="5.6"/>
<circle class="bg" cx="1046.6" cy="1298.8" r="5.6"/>
<circle class="bg" cx="1240.3" cy="1297.4" r="5.6"/>
<circle class="bg" cx="1370.3" cy="1287.2" r="5.6"/>
<circle class="bg" cx="1749.9" cy="1297.4" r="5.6"/>
<circle class="bg" cx="1351.6" cy="1311.4" r="5.6"/>
<circle class="bg" cx="1351.6" cy="1311.4" r="5.6"/>
<circle class="bg" cx="1428.5" cy="1311.4" r="5.6"/>
<circle class="bg" cx="1428.5" cy="1311.4" r="5.6"/>
<circle class="bg" cx="1565.9" cy="1311.4" r="5.6"/>
<circle class="bg" cx="1642.7" cy="1311.4" r="5.6"/>
<circle class="bg" cx="1753.1" cy="1311.4" r="5.6"/>
<circle class="bg" cx="1753.1" cy="1311.4" r="5.6"/>
<circle class="bg" cx="1787" cy="1312" r="5.6"/>
<circle class="bg" cx="1840" cy="1313" r="5.6"/>
<circle class="bg" cx="1894" cy="1310" r="5.6"/>
<circle class="bg" cx="1894" cy="1310" r="5.6"/>
<circle class="bg" cx="1925" cy="1313" r="5.6"/>
<circle class="bg" cx="1987" cy="1305" r="5.6"/>
<circle class="bg" cx="2017" cy="1313" r="5.6"/>
<circle class="bg" cx="2053" cy="1311" r="5.6"/>
<circle class="bg" cx="2053" cy="1311" r="5.6"/>
<circle class="bg" cx="2127" cy="1316" r="5.6"/>
<circle class="bg" cx="2127" cy="1316" r="5.6"/>
<circle class="bg" cx="2192" cy="1311" r="5.6"/>
<circle class="bg" cx="2268.9" cy="1239.2" r="5.6"/>
<circle class="bg" cx="2268.9" cy="1239.2" r="5.6"/>
<circle class="bg" cx="2709.5" cy="1211.2" r="5.6"/>
<circle class="bg" cx="2814.8" cy="1236" r="5.6"/>
<circle class="bg" cx="2814.8" cy="1236" r="5.6"/>
<circle class="bg" cx="2894.5" cy="1235" r="5.6"/>
<circle class="bg" cx="3111" cy="1210.8" r="5.6"/>
<circle class="bg" cx="3111" cy="1210.8" r="5.6"/>
<circle class="bg" cx="3111" cy="1210.8" r="5.6"/>
<circle class="bg" cx="3309.4" cy="1224.3" r="5.6"/>
<circle class="bg" cx="2202.3" cy="1266.2" r="5.6"/>
<circle class="bg" cx="2221.9" cy="1285.8" r="5.6"/>
<circle class="bg" cx="2573.5" cy="1284.4" r="5.6"/>
<circle class="bg" cx="3269" cy="1282" r="5.6"/>
<circle class="bg" cx="2266" cy="1311.4" r="5.6"/>
<circle class="bg" cx="2266" cy="1311.4" r="5.6"/>
<circle class="bg" cx="2284" cy="1313" r="5.6"/>
<circle class="bg" cx="2391" cy="1315" r="5.6"/>
<circle class="bg" cx="2430" cy="1311.4" r="5.6"/>
<circle class="bg" cx="2430" cy="1311.4" r="5.6"/>
<circle class="bg" cx="2485" cy="1313" r="5.6"/>
<circle class="bg" cx="2554" cy="1313" r="5.6"/>
<circle class="bg" cx="2576" cy="1311" r="5.6"/>
<circle class="bg" cx="2709" cy="1311" r="5.6"/>
<circle class="bg" cx="2764" cy="1314" r="5.6"/>
<circle class="bg" cx="2812" cy="1311.4" r="5.6"/>
<circle class="bg" cx="2812" cy="1311.4" r="5.6"/>
<circle class="bg" cx="2892" cy="1311.4" r="5.6"/>
<circle class="bg" cx="2892" cy="1311.4" r="5.6"/>
<circle class="bg" cx="2955" cy="1301" r="5.6"/>
<circle class="bg" cx="2955" cy="1301" r="5.6"/>
<circle class="bg" cx="2978" cy="1313" r="5.6"/>
<circle class="bg" cx="2978" cy="1313" r="5.6"/>
<circle class="bg" cx="3042" cy="1311" r="5.6"/>
<circle class="bg" cx="3114" cy="1313" r="5.6"/>
<circle class="bg" cx="3146" cy="1316" r="5.6"/>
<circle class="bg" cx="3239" cy="1313" r="5.6"/>
<circle class="bg" cx="3255" cy="1316" r="5.6"/>
<circle class="bg" cx="3255" cy="1316" r="5.6"/>
<circle class="bg" cx="3288" cy="1313" r="5.6"/>
<circle class="bg" cx="3309" cy="1315" r="5.6"/>
<circle class="bg" cx="3309" cy="1315" r="5.6"/>
<circle class="bg" cx="780" cy="1228" r="5.6"/>
<circle class="bg" cx="820" cy="1288" r="5.6"/>
<circle class="bg" cx="650" cy="1312" r="5.6"/>
<circle class="bg" cx="598" cy="1316" r="5.6"/>
<circle class="bg" cx="880" cy="1305" r="5.6"/>
<circle class="bg" cx="905" cy="1313" r="5.6"/>
<circle class="bg" cx="834" cy="1316" r="5.6"/>
<circle class="bg" cx="1110" cy="1318" r="5.6"/>
<circle class="bg" cx="1200" cy="1320" r="5.6"/>
<circle class="bg" cx="1330" cy="1316" r="5.6"/>
<circle class="br" cx="414" cy="1008.8" r="5.8"/>
<circle class="br" cx="424" cy="1009.4" r="5.8"/>
<circle class="br" cx="436.1" cy="1009.4" r="5.8"/>
<circle class="br" cx="436.1" cy="1009.4" r="5.8"/>
<circle class="br" cx="437.3" cy="1008.7" r="5.8"/>
<circle class="br" cx="437.3" cy="1008.7" r="5.8"/>
<circle class="br" cx="457.8" cy="1009.8" r="5.8"/>
<circle class="br" cx="457.8" cy="1009.8" r="5.8"/>
<circle class="br" cx="462.9" cy="1009.5" r="5.8"/>
<circle class="br" cx="466.8" cy="1009.2" r="5.8"/>
<circle class="br" cx="493.4" cy="1009.9" r="5.8"/>
<circle class="br" cx="505.3" cy="1008.8" r="5.8"/>
<circle class="br" cx="512.3" cy="1025.7" r="5.8"/>
<circle class="br" cx="546" cy="1009.2" r="5.8"/>
<circle class="br" cx="559.5" cy="1008.7" r="5.8"/>
<circle class="br" cx="559.5" cy="1008.7" r="5.8"/>
<circle class="br" cx="566.1" cy="1026.7" r="5.8"/>
<circle class="br" cx="572.8" cy="1009.3" r="5.8"/>
<circle class="br" cx="588.2" cy="1027.8" r="5.8"/>
<circle class="br" cx="588.2" cy="1027.8" r="5.8"/>
<circle class="br" cx="596.8" cy="1009.4" r="5.8"/>
<circle class="br" cx="601.7" cy="1026.2" r="5.8"/>
<circle class="br" cx="603.1" cy="1009.2" r="5.8"/>
<circle class="br" cx="612" cy="1009.3" r="5.8"/>
<circle class="br" cx="612" cy="1009.3" r="5.8"/>
<circle class="br" cx="640.6" cy="1009.7" r="5.8"/>
<circle class="br" cx="646" cy="1026.3" r="5.8"/>
<circle class="br" cx="657.8" cy="1009.5" r="5.8"/>
<circle class="br" cx="712.1" cy="1028.8" r="5.8"/>
<circle class="br" cx="720.3" cy="1008.7" r="5.8"/>
<circle class="br" cx="737" cy="1010.1" r="5.8"/>
<circle class="br" cx="748.9" cy="1009.2" r="5.8"/>
<circle class="br" cx="750.8" cy="1009.3" r="5.8"/>
<circle class="br" cx="750.8" cy="1009.3" r="5.8"/>
<circle class="br" cx="759.4" cy="1008.7" r="5.8"/>
<circle class="br" cx="803.4" cy="1009" r="5.8"/>
<circle class="br" cx="815.1" cy="1025.3" r="5.8"/>
<circle class="br" cx="840.5" cy="1009.9" r="5.8"/>
<circle class="br" cx="855.8" cy="1026.1" r="5.8"/>
<circle class="br" cx="862.8" cy="1009.9" r="5.8"/>
<circle class="br" cx="864.2" cy="1008.9" r="5.8"/>
<circle class="br" cx="864.2" cy="1008.9" r="5.8"/>
<circle class="br" cx="866.5" cy="1009.3" r="5.8"/>
<circle class="br" cx="870" cy="1008.6" r="5.8"/>
<circle class="br" cx="872.4" cy="1009.4" r="5.8"/>
<circle class="br" cx="876.1" cy="1027.1" r="5.8"/>
<circle class="br" cx="889.8" cy="1008.7" r="5.8"/>
<circle class="br" cx="907.8" cy="1028.5" r="5.8"/>
<circle class="br" cx="910.8" cy="1009.2" r="5.8"/>
<circle class="br" cx="910.8" cy="1009.2" r="5.8"/>
<circle class="br" cx="913.1" cy="1008.7" r="5.8"/>
<circle class="br" cx="913.1" cy="1008.7" r="5.8"/>
<circle class="br" cx="915.9" cy="1008.8" r="5.8"/>
<circle class="br" cx="920.1" cy="1008.6" r="5.8"/>
<circle class="br" cx="920.1" cy="1008.6" r="5.8"/>
<circle class="br" cx="923.6" cy="1009.1" r="5.8"/>
<circle class="br" cx="923.6" cy="1009.1" r="5.8"/>
<circle class="br" cx="932.2" cy="1027.5" r="5.8"/>
<circle class="br" cx="932.2" cy="1027.5" r="5.8"/>
<circle class="br" cx="941.5" cy="1009.1" r="5.8"/>
<circle class="br" cx="945.5" cy="1009.9" r="5.8"/>
<circle class="br" cx="956" cy="1009.3" r="5.8"/>
<circle class="br" cx="956" cy="1009.3" r="5.8"/>
<circle class="br" cx="964.1" cy="1009.1" r="5.8"/>
<circle class="br" cx="976.2" cy="1025.6" r="5.8"/>
<circle class="br" cx="976.2" cy="1025.6" r="5.8"/>
<circle class="br" cx="984.6" cy="1023.6" r="5.8"/>
<circle class="br" cx="984.6" cy="1023.6" r="5.8"/>
<circle class="br" cx="986" cy="1008.6" r="5.8"/>
<circle class="br" cx="1016.8" cy="1031" r="5.8"/>
<circle class="br" cx="1028.6" cy="1009.2" r="5.8"/>
<circle class="br" cx="1028.6" cy="1009.2" r="5.8"/>
<circle class="br" cx="1050.8" cy="1027.1" r="5.8"/>
<circle class="br" cx="1063.6" cy="1008.9" r="5.8"/>
<circle class="br" cx="1065.9" cy="1030.8" r="5.8"/>
<circle class="br" cx="1068" cy="1028" r="5.8"/>
<circle class="br" cx="1068" cy="1028" r="5.8"/>
<circle class="br" cx="1072.4" cy="1009.1" r="5.8"/>
<circle class="br" cx="1072.4" cy="1009.1" r="5.8"/>
<circle class="br" cx="1074.1" cy="1009" r="5.8"/>
<circle class="br" cx="1076.4" cy="1028.8" r="5.8"/>
<circle class="br" cx="1084.8" cy="1033.7" r="5.8"/>
<circle class="br" cx="1086.2" cy="1008.9" r="5.8"/>
<circle class="br" cx="1086.2" cy="1008.9" r="5.8"/>
<circle class="br" cx="1097.8" cy="1008.9" r="5.8"/>
<circle class="br" cx="1103.4" cy="1030.5" r="5.8"/>
<circle class="br" cx="1116.5" cy="1009.8" r="5.8"/>
<circle class="br" cx="1116.5" cy="1009.8" r="5.8"/>
<circle class="br" cx="1120" cy="1010" r="5.8"/>
<circle class="br" cx="1133.5" cy="1026.9" r="5.8"/>
<circle class="br" cx="1133.5" cy="1026.9" r="5.8"/>
<circle class="br" cx="1136.5" cy="1026.3" r="5.8"/>
<circle class="br" cx="1141.6" cy="1020.7" r="5.8"/>
<circle class="br" cx="1143.9" cy="1027.9" r="5.8"/>
<circle class="br" cx="1143.9" cy="1027.9" r="5.8"/>
<circle class="br" cx="1145.6" cy="1008.8" r="5.8"/>
<circle class="br" cx="1147" cy="1025.6" r="5.8"/>
<circle class="br" cx="1149.5" cy="1026.5" r="5.8"/>
<circle class="br" cx="1151.6" cy="1008.8" r="5.8"/>
<circle class="br" cx="1151.6" cy="1008.8" r="5.8"/>
<circle class="br" cx="1154.2" cy="1026.3" r="5.8"/>
<circle class="br" cx="1159.1" cy="1021.5" r="5.8"/>
<circle class="br" cx="1175.9" cy="1025.8" r="5.8"/>
<circle class="br" cx="1184" cy="1009" r="5.8"/>
<circle class="br" cx="1189.8" cy="1009.2" r="5.8"/>
<circle class="br" cx="1189.8" cy="1009.2" r="5.8"/>
<circle class="br" cx="1199.6" cy="1019.8" r="5.8"/>
<circle class="br" cx="1214.8" cy="1010" r="5.8"/>
<circle class="br" cx="1220.1" cy="1023" r="5.8"/>
<circle class="br" cx="1237.1" cy="1008.6" r="5.8"/>
<circle class="br" cx="1246.9" cy="1008.6" r="5.8"/>
<circle class="br" cx="1250.4" cy="1009.3" r="5.8"/>
<circle class="br" cx="1252.3" cy="1009.1" r="5.8"/>
<circle class="br" cx="1276" cy="1009.8" r="5.8"/>
<circle class="br" cx="1276" cy="1009.8" r="5.8"/>
<circle class="br" cx="1277.4" cy="1009" r="5.8"/>
<circle class="br" cx="1281.1" cy="1027" r="5.8"/>
<circle class="br" cx="1286" cy="1028.6" r="5.8"/>
<circle class="br" cx="1288.8" cy="1009.4" r="5.8"/>
<circle class="br" cx="1289.8" cy="1026.8" r="5.8"/>
<circle class="br" cx="1294.6" cy="1010" r="5.8"/>
<circle class="br" cx="1306.1" cy="1028.8" r="5.8"/>
<circle class="br" cx="1307.9" cy="1010" r="5.8"/>
<circle class="br" cx="1316.8" cy="1008.8" r="5.8"/>
<circle class="br" cx="1319.8" cy="1009" r="5.8"/>
<circle class="br" cx="1319.8" cy="1009" r="5.8"/>
<circle class="br" cx="1333.5" cy="1009.8" r="5.8"/>
<circle class="br" cx="1343.6" cy="1009.7" r="5.8"/>
<circle class="br" cx="1347.3" cy="1009.9" r="5.8"/>
<circle class="br" cx="1358.7" cy="1010" r="5.8"/>
<circle class="br" cx="1360.6" cy="1010.1" r="5.8"/>
<circle class="br" cx="1372.2" cy="1009.2" r="5.8"/>
<circle class="br" cx="1374.1" cy="1008.9" r="5.8"/>
<circle class="br" cx="1376.9" cy="1025.1" r="5.8"/>
<circle class="br" cx="1382.5" cy="1008.6" r="5.8"/>
<circle class="br" cx="1394.3" cy="1009.4" r="5.8"/>
<circle class="br" cx="1394.3" cy="1009.4" r="5.8"/>
<circle class="br" cx="1403" cy="1029.3" r="5.8"/>
<circle class="br" cx="1404.6" cy="1009" r="5.8"/>
<circle class="br" cx="1404.6" cy="1009" r="5.8"/>
<circle class="br" cx="1408.1" cy="1026.1" r="5.8"/>
<circle class="br" cx="1408.1" cy="1026.1" r="5.8"/>
<circle class="br" cx="1413" cy="1010" r="5.8"/>
<circle class="br" cx="1419.7" cy="1008.8" r="5.8"/>
<circle class="br" cx="1428.1" cy="1009.7" r="5.8"/>
<circle class="br" cx="1428.1" cy="1009.7" r="5.8"/>
<circle class="br" cx="1434.9" cy="1009.6" r="5.8"/>
<circle class="br" cx="1441.8" cy="1010" r="5.8"/>
<circle class="br" cx="1460" cy="1025.3" r="5.8"/>
<circle class="br" cx="1480.5" cy="1009.9" r="5.8"/>
<circle class="br" cx="1482.1" cy="1009.4" r="5.8"/>
<circle class="br" cx="1489.1" cy="1008.8" r="5.8"/>
<circle class="br" cx="1502.6" cy="1008.8" r="5.8"/>
<circle class="br" cx="1502.6" cy="1008.8" r="5.8"/>
<circle class="br" cx="1510.8" cy="1008.9" r="5.8"/>
<circle class="br" cx="1512.4" cy="1009.7" r="5.8"/>
<circle class="br" cx="1519.4" cy="1008.9" r="5.8"/>
<circle class="br" cx="1524.8" cy="1009" r="5.8"/>
<circle class="br" cx="1524.8" cy="1009" r="5.8"/>
<circle class="br" cx="1541.5" cy="1027.2" r="5.8"/>
<circle class="br" cx="1541.5" cy="1027.2" r="5.8"/>
<circle class="br" cx="1551.6" cy="1010" r="5.8"/>
<circle class="br" cx="1551.6" cy="1010" r="5.8"/>
<circle class="br" cx="1559.5" cy="1026.7" r="5.8"/>
<circle class="br" cx="1563.7" cy="1026.6" r="5.8"/>
<circle class="br" cx="1590" cy="1028.9" r="5.8"/>
<circle class="br" cx="1592.8" cy="1027.8" r="5.8"/>
<circle class="br" cx="1595.8" cy="1009.1" r="5.8"/>
<circle class="br" cx="1595.8" cy="1009.1" r="5.8"/>
<circle class="br" cx="1598.1" cy="1008.7" r="5.8"/>
<circle class="br" cx="1602.3" cy="1008.8" r="5.8"/>
<circle class="br" cx="1602.3" cy="1008.8" r="5.8"/>
<circle class="br" cx="1610.9" cy="1028.5" r="5.8"/>
<circle class="br" cx="1612.8" cy="1009" r="5.8"/>
<circle class="br" cx="1616.3" cy="1008.8" r="5.8"/>
<circle class="br" cx="1617.9" cy="1010" r="5.8"/>
<circle class="br" cx="1625.2" cy="1009" r="5.8"/>
<circle class="br" cx="1641.5" cy="1009.1" r="5.8"/>
<circle class="br" cx="1641.5" cy="1009.1" r="5.8"/>
<circle class="br" cx="1646.6" cy="1009.3" r="5.8"/>
<circle class="br" cx="1648.4" cy="1009.4" r="5.8"/>
<circle class="br" cx="1648.4" cy="1009.4" r="5.8"/>
<circle class="br" cx="1651.7" cy="1008.7" r="5.8"/>
<circle class="br" cx="1677.6" cy="1008.6" r="5.8"/>
<circle class="br" cx="1685.7" cy="1009.5" r="5.8"/>
<circle class="br" cx="1702" cy="1027.6" r="5.8"/>
<circle class="br" cx="1707.6" cy="1026.6" r="5.8"/>
<circle class="br" cx="1717.6" cy="1015.3" r="5.8"/>
<circle class="br" cx="1720.7" cy="1008.7" r="5.8"/>
<circle class="br" cx="1733.2" cy="1027.5" r="5.8"/>
<circle class="br" cx="1735.1" cy="1025.6" r="5.8"/>
<circle class="br" cx="1739.8" cy="1009.9" r="5.8"/>
<circle class="br" cx="1747.9" cy="1027.3" r="5.8"/>
<circle class="br" cx="1750.9" cy="1027.8" r="5.8"/>
<circle class="br" cx="1750.9" cy="1027.8" r="5.8"/>
<circle class="br" cx="1753.7" cy="1008.8" r="5.8"/>
<circle class="br" cx="1756.8" cy="1009.9" r="5.8"/>
<circle class="br" cx="1758.9" cy="1009.5" r="5.8"/>
<circle class="br" cx="1760.7" cy="1008.6" r="5.8"/>
<circle class="br" cx="1763" cy="1027" r="5.8"/>
<circle class="br" cx="1768.6" cy="1008.7" r="5.8"/>
<circle class="br" cx="1770" cy="1008.7" r="5.8"/>
<circle class="br" cx="1777.5" cy="1025.8" r="5.8"/>
<circle class="br" cx="1778.9" cy="1022.9" r="5.8"/>
<circle class="br" cx="1786.8" cy="1009.6" r="5.8"/>
<circle class="br" cx="1790.5" cy="1009.6" r="5.8"/>
<circle class="br" cx="1790.5" cy="1009.6" r="5.8"/>
<circle class="br" cx="1804.3" cy="1009" r="5.8"/>
<circle class="br" cx="1812.2" cy="1009.5" r="5.8"/>
<circle class="br" cx="1812.2" cy="1009.5" r="5.8"/>
<circle class="br" cx="1817.8" cy="1009" r="5.8"/>
<circle class="br" cx="1824.8" cy="1027.7" r="5.8"/>
<circle class="br" cx="1826.4" cy="1009.3" r="5.8"/>
<circle class="br" cx="1829.9" cy="1009.9" r="5.8"/>
<circle class="br" cx="1829.9" cy="1009.9" r="5.8"/>
<circle class="br" cx="1837.6" cy="1032.6" r="5.8"/>
<circle class="br" cx="1837.6" cy="1032.6" r="5.8"/>
<circle class="br" cx="1842.9" cy="1009.8" r="5.8"/>
<circle class="br" cx="1846.2" cy="1009" r="5.8"/>
<circle class="br" cx="1846.2" cy="1009" r="5.8"/>
<circle class="br" cx="1848.1" cy="1016.6" r="5.8"/>
<circle class="br" cx="1864.8" cy="1009.4" r="5.8"/>
<circle class="br" cx="1873.7" cy="1009.8" r="5.8"/>
<circle class="br" cx="1898.8" cy="1027.8" r="5.8"/>
<circle class="br" cx="1898.8" cy="1027.8" r="5.8"/>
<circle class="br" cx="1907" cy="1026.9" r="5.8"/>
<circle class="br" cx="1907" cy="1026.9" r="5.8"/>
<circle class="br" cx="1912.6" cy="1009.3" r="5.8"/>
<circle class="br" cx="1922.6" cy="1008.8" r="5.8"/>
<circle class="br" cx="1934.2" cy="1009.9" r="5.8"/>
<circle class="br" cx="1934.2" cy="1009.9" r="5.8"/>
<circle class="br" cx="1937.7" cy="1028.4" r="5.8"/>
<circle class="br" cx="1937.7" cy="1028.4" r="5.8"/>
<circle class="br" cx="1942.9" cy="1027.7" r="5.8"/>
<circle class="br" cx="1951.7" cy="1009.2" r="5.8"/>
<circle class="br" cx="1959.9" cy="1025" r="5.8"/>
<circle class="br" cx="1961.7" cy="1009" r="5.8"/>
<circle class="br" cx="1961.7" cy="1009" r="5.8"/>
<circle class="br" cx="1969.6" cy="1009.9" r="5.8"/>
<circle class="br" cx="1972.7" cy="1017.5" r="5.8"/>
<circle class="br" cx="1974.1" cy="1008.9" r="5.8"/>
<circle class="br" cx="1978.5" cy="1031.5" r="5.8"/>
<circle class="br" cx="1984.3" cy="1010" r="5.8"/>
<circle class="br" cx="1990.6" cy="1009.7" r="5.8"/>
<circle class="br" cx="1990.6" cy="1009.7" r="5.8"/>
<circle class="br" cx="1999" cy="1026.8" r="5.8"/>
<circle class="br" cx="2007.1" cy="1009" r="5.8"/>
<circle class="br" cx="2007.1" cy="1009" r="5.8"/>
<circle class="br" cx="2011.8" cy="1014.8" r="5.8"/>
<circle class="br" cx="2013.4" cy="1009" r="5.8"/>
<circle class="br" cx="2017.6" cy="1017.7" r="5.8"/>
<circle class="br" cx="2039.5" cy="1009.4" r="5.8"/>
<circle class="br" cx="2051.4" cy="1008.8" r="5.8"/>
<circle class="br" cx="2051.4" cy="1008.8" r="5.8"/>
<circle class="br" cx="2068.2" cy="1022.9" r="5.8"/>
<circle class="br" cx="2068.2" cy="1022.9" r="5.8"/>
<circle class="br" cx="2074.5" cy="1033.9" r="5.8"/>
<circle class="br" cx="2077" cy="1008.9" r="5.8"/>
<circle class="br" cx="2077" cy="1008.9" r="5.8"/>
<circle class="br" cx="2086.8" cy="1008.7" r="5.8"/>
<circle class="br" cx="2086.8" cy="1008.7" r="5.8"/>
<circle class="br" cx="2098.9" cy="1009.5" r="5.8"/>
<circle class="br" cx="2114.1" cy="1026.7" r="5.8"/>
<circle class="br" cx="2117.1" cy="1009.2" r="5.8"/>
<circle class="br" cx="2125.7" cy="1009" r="5.8"/>
<circle class="br" cx="2139.2" cy="1009.4" r="5.8"/>
<circle class="br" cx="2147.8" cy="1025.9" r="5.8"/>
<circle class="br" cx="2160.9" cy="1009.2" r="5.8"/>
<circle class="br" cx="2166.7" cy="1030.7" r="5.8"/>
<circle class="br" cx="2177.6" cy="1008.6" r="5.8"/>
<circle class="br" cx="2180" cy="1026.9" r="5.8"/>
<circle class="br" cx="2181.6" cy="1009.2" r="5.8"/>
<circle class="br" cx="2183.2" cy="1028.4" r="5.8"/>
<circle class="br" cx="2187" cy="1008.8" r="5.8"/>
<circle class="br" cx="2187" cy="1008.8" r="5.8"/>
<circle class="br" cx="2220.3" cy="1009.6" r="5.8"/>
<circle class="br" cx="2225.6" cy="1027.6" r="5.8"/>
<circle class="br" cx="2242.6" cy="1009.4" r="5.8"/>
<circle class="br" cx="2242.6" cy="1009.4" r="5.8"/>
<circle class="br" cx="2247.3" cy="1025.9" r="5.8"/>
<circle class="br" cx="2250.8" cy="1009.1" r="5.8"/>
<circle class="br" cx="2250.8" cy="1009.1" r="5.8"/>
<circle class="br" cx="2255.9" cy="1009.6" r="5.8"/>
<circle class="br" cx="2269.9" cy="1008.7" r="5.8"/>
<circle class="br" cx="2281.5" cy="1009.2" r="5.8"/>
<circle class="br" cx="2281.5" cy="1009.2" r="5.8"/>
<circle class="br" cx="2283.4" cy="1008.6" r="5.8"/>
<circle class="br" cx="2286.9" cy="1010" r="5.8"/>
<circle class="br" cx="2292" cy="1026.9" r="5.8"/>
<circle class="br" cx="2292" cy="1026.9" r="5.8"/>
<circle class="br" cx="2294.8" cy="1010" r="5.8"/>
<circle class="br" cx="2296.7" cy="1008.6" r="5.8"/>
<circle class="br" cx="2300.2" cy="1009.2" r="5.8"/>
<circle class="br" cx="2318.1" cy="1010" r="5.8"/>
<circle class="br" cx="2318.1" cy="1010" r="5.8"/>
<circle class="br" cx="2343.9" cy="1009.1" r="5.8"/>
<circle class="br" cx="2347.4" cy="1025.8" r="5.8"/>
<circle class="br" cx="2356.1" cy="1027" r="5.8"/>
<circle class="br" cx="2356.1" cy="1027" r="5.8"/>
<circle class="br" cx="2374.2" cy="1018.9" r="5.8"/>
<circle class="br" cx="2379.8" cy="1008.9" r="5.8"/>
<circle class="br" cx="2383.3" cy="1010" r="5.8"/>
<circle class="br" cx="2391.5" cy="1008.9" r="5.8"/>
<circle class="br" cx="2395" cy="1010" r="5.8"/>
<circle class="br" cx="2395" cy="1010" r="5.8"/>
<circle class="br" cx="2405.4" cy="1008.9" r="5.8"/>
<circle class="br" cx="2408" cy="1008.7" r="5.8"/>
<circle class="br" cx="2408" cy="1008.7" r="5.8"/>
<circle class="br" cx="2409.6" cy="1009.9" r="5.8"/>
<circle class="br" cx="2413.6" cy="1029" r="5.8"/>
<circle class="br" cx="2418.9" cy="1008.9" r="5.8"/>
<circle class="br" cx="2425.9" cy="1025.1" r="5.8"/>
<circle class="br" cx="2427.1" cy="1009.2" r="5.8"/>
<circle class="br" cx="2439.2" cy="1008.6" r="5.8"/>
<circle class="br" cx="2441.1" cy="1010" r="5.8"/>
<circle class="br" cx="2441.1" cy="1010" r="5.8"/>
<circle class="br" cx="2443.9" cy="1016.6" r="5.8"/>
<circle class="br" cx="2457.8" cy="1028.3" r="5.8"/>
<circle class="br" cx="2464.8" cy="1009.3" r="5.8"/>
<circle class="br" cx="2466" cy="1016.2" r="5.8"/>
<circle class="br" cx="2474.8" cy="1025.1" r="5.8"/>
<circle class="br" cx="2478.8" cy="1028.1" r="5.8"/>
<circle class="br" cx="2478.8" cy="1028.1" r="5.8"/>
<circle class="br" cx="2480.2" cy="1008.7" r="5.8"/>
<circle class="br" cx="2486.5" cy="1009.7" r="5.8"/>
<circle class="br" cx="2526.1" cy="1009" r="5.8"/>
<circle class="br" cx="2532.6" cy="1009" r="5.8"/>
<circle class="br" cx="2536.1" cy="1009" r="5.8"/>
<circle class="br" cx="2536.1" cy="1009" r="5.8"/>
<circle class="br" cx="2538.9" cy="1028.7" r="5.8"/>
<circle class="br" cx="2540.5" cy="1012.5" r="5.8"/>
<circle class="br" cx="2540.5" cy="1012.5" r="5.8"/>
<circle class="br" cx="2544.3" cy="1010" r="5.8"/>
<circle class="br" cx="2547.7" cy="1009" r="5.8"/>
<circle class="br" cx="2561.7" cy="1010" r="5.8"/>
<circle class="br" cx="2561.7" cy="1010" r="5.8"/>
<circle class="br" cx="2574.3" cy="1028" r="5.8"/>
<circle class="br" cx="2580.1" cy="1027.4" r="5.8"/>
<circle class="br" cx="2596.7" cy="1009.1" r="5.8"/>
<circle class="br" cx="2618.1" cy="1008.9" r="5.8"/>
<circle class="br" cx="2623.4" cy="1008.7" r="5.8"/>
<circle class="br" cx="2623.4" cy="1008.7" r="5.8"/>
<circle class="br" cx="2626.2" cy="1009.1" r="5.8"/>
<circle class="br" cx="2629.3" cy="1029" r="5.8"/>
<circle class="br" cx="2630.4" cy="1008.7" r="5.8"/>
<circle class="br" cx="2635.6" cy="1026.8" r="5.8"/>
<circle class="br" cx="2635.6" cy="1026.8" r="5.8"/>
<circle class="br" cx="2649.1" cy="1009.5" r="5.8"/>
<circle class="br" cx="2665.8" cy="1028.4" r="5.8"/>
<circle class="br" cx="2669.3" cy="1009.9" r="5.8"/>
<circle class="br" cx="2679.3" cy="1009.2" r="5.8"/>
<circle class="br" cx="2682.6" cy="1009" r="5.8"/>
<circle class="br" cx="2682.6" cy="1009" r="5.8"/>
<circle class="br" cx="2691" cy="1009.9" r="5.8"/>
<circle class="br" cx="2695" cy="1009.2" r="5.8"/>
<circle class="br" cx="2698" cy="1008.9" r="5.8"/>
<circle class="br" cx="2700.8" cy="1010.1" r="5.8"/>
<circle class="br" cx="2700.8" cy="1010.1" r="5.8"/>
<circle class="br" cx="2705" cy="1009.8" r="5.8"/>
<circle class="br" cx="2708.5" cy="1012.9" r="5.8"/>
<circle class="br" cx="2710.1" cy="1008.9" r="5.8"/>
<circle class="br" cx="2718.2" cy="1010" r="5.8"/>
<circle class="br" cx="2721.3" cy="1026.8" r="5.8"/>
<circle class="br" cx="2722.9" cy="1028.8" r="5.8"/>
<circle class="br" cx="2722.9" cy="1028.8" r="5.8"/>
<circle class="br" cx="2725.2" cy="1009.5" r="5.8"/>
<circle class="br" cx="2725.2" cy="1009.5" r="5.8"/>
<circle class="br" cx="2728.3" cy="1008.8" r="5.8"/>
<circle class="br" cx="2728.3" cy="1008.8" r="5.8"/>
<circle class="br" cx="2731.1" cy="1009.5" r="5.8"/>
<circle class="br" cx="2735.7" cy="1008.6" r="5.8"/>
<circle class="br" cx="2752" cy="1008.9" r="5.8"/>
<circle class="br" cx="2762.5" cy="1009.8" r="5.8"/>
<circle class="br" cx="2774.8" cy="1008.8" r="5.8"/>
<circle class="br" cx="2775.8" cy="1009.6" r="5.8"/>
<circle class="br" cx="2775.8" cy="1009.6" r="5.8"/>
<circle class="br" cx="2784.2" cy="1009.6" r="5.8"/>
<circle class="br" cx="2787.4" cy="1009.1" r="5.8"/>
<circle class="br" cx="2801.2" cy="1009.4" r="5.8"/>
<circle class="br" cx="2804.7" cy="1009.9" r="5.8"/>
<circle class="br" cx="2822.1" cy="1008.9" r="5.8"/>
<circle class="br" cx="2823.3" cy="1008.6" r="5.8"/>
<circle class="br" cx="2826.8" cy="1009.8" r="5.8"/>
<circle class="br" cx="2831.9" cy="1026.8" r="5.8"/>
<circle class="br" cx="2831.9" cy="1026.8" r="5.8"/>
<circle class="br" cx="2838.9" cy="1009.4" r="5.8"/>
<circle class="br" cx="2840.1" cy="1014" r="5.8"/>
<circle class="br" cx="2844.3" cy="1009.4" r="5.8"/>
<circle class="br" cx="2844.3" cy="1009.4" r="5.8"/>
<circle class="br" cx="2845.4" cy="1009.4" r="5.8"/>
<circle class="br" cx="2854" cy="1009.3" r="5.8"/>
<circle class="br" cx="2861" cy="1016.3" r="5.8"/>
<circle class="br" cx="2861" cy="1016.3" r="5.8"/>
<circle class="br" cx="2862.4" cy="1033.5" r="5.8"/>
<circle class="br" cx="2882.7" cy="1010" r="5.8"/>
<circle class="br" cx="2888" cy="1025.6" r="5.8"/>
<circle class="br" cx="2913.4" cy="1009.8" r="5.8"/>
<circle class="br" cx="2913.4" cy="1009.8" r="5.8"/>
<circle class="br" cx="2921.6" cy="1009.9" r="5.8"/>
<circle class="br" cx="2957.2" cy="1008.9" r="5.8"/>
<circle class="br" cx="2982.8" cy="1009.2" r="5.8"/>
<circle class="br" cx="2982.8" cy="1009.2" r="5.8"/>
<circle class="br" cx="2992.9" cy="1009.7" r="5.8"/>
<circle class="br" cx="3001" cy="1009.4" r="5.8"/>
<circle class="br" cx="3009.6" cy="1009.9" r="5.8"/>
<circle class="br" cx="3009.6" cy="1009.9" r="5.8"/>
<circle class="br" cx="3014.8" cy="1009.4" r="5.8"/>
<circle class="br" cx="3028.3" cy="1009.2" r="5.8"/>
<circle class="br" cx="3035.2" cy="1009.6" r="5.8"/>
<circle class="br" cx="3039.9" cy="1008.6" r="5.8"/>
<circle class="br" cx="3042.2" cy="1009" r="5.8"/>
<circle class="br" cx="3043.9" cy="1026.8" r="5.8"/>
<circle class="br" cx="3043.9" cy="1026.8" r="5.8"/>
<circle class="br" cx="3048.8" cy="1008.8" r="5.8"/>
<circle class="br" cx="3048.8" cy="1008.8" r="5.8"/>
<circle class="br" cx="3053.9" cy="1008.7" r="5.8"/>
<circle class="br" cx="3074.1" cy="1008.7" r="5.8"/>
<circle class="br" cx="3082.5" cy="1009.7" r="5.8"/>
<circle class="br" cx="3100.9" cy="1008.7" r="5.8"/>
<circle class="br" cx="3106.3" cy="1010" r="5.8"/>
<circle class="br" cx="3106.3" cy="1010" r="5.8"/>
<circle class="br" cx="3123.1" cy="1029" r="5.8"/>
<circle class="br" cx="3140.1" cy="1025.8" r="5.8"/>
<circle class="br" cx="3148.7" cy="1010" r="5.8"/>
<circle class="br" cx="3167.3" cy="1009.8" r="5.8"/>
<circle class="br" cx="3175.5" cy="1009.1" r="5.8"/>
<circle class="br" cx="3180.8" cy="1009.9" r="5.8"/>
<circle class="br" cx="3187.3" cy="1025.6" r="5.8"/>
<circle class="br" cx="3197.6" cy="1016.6" r="5.8"/>
<circle class="br" cx="3204.1" cy="1009.1" r="5.8"/>
<circle class="br" cx="3204.1" cy="1009.1" r="5.8"/>
<circle class="br" cx="3209.5" cy="1008.8" r="5.8"/>
<circle class="br" cx="3223.2" cy="1009.9" r="5.8"/>
<circle class="br" cx="3223.2" cy="1009.9" r="5.8"/>
<circle class="br" cx="3235.1" cy="1025.5" r="5.8"/>
<circle class="br" cx="3236" cy="1009.1" r="5.8"/>
<circle class="br" cx="3244.9" cy="1009.5" r="5.8"/>
<circle class="br" cx="3248.8" cy="1010.1" r="5.8"/>
<circle class="br" cx="3250" cy="1009.8" r="5.8"/>
<circle class="br" cx="3267" cy="1024.7" r="5.8"/>
<circle class="br" cx="3275.6" cy="1026.8" r="5.8"/>
<circle class="br" cx="3275.6" cy="1026.8" r="5.8"/>
<circle class="br" cx="3278.6" cy="1025.2" r="5.8"/>
<circle class="br" cx="3279.8" cy="1009.6" r="5.8"/>
<circle class="br" cx="3284" cy="1009.6" r="5.8"/>
<circle class="br" cx="3288.7" cy="1008.7" r="5.8"/>
<circle class="br" cx="3288.7" cy="1008.7" r="5.8"/>
<circle class="br" cx="3291.5" cy="1009.2" r="5.8"/>
<circle class="br" cx="3292.6" cy="1025.5" r="5.8"/>
<circle class="br" cx="3292.6" cy="1025.5" r="5.8"/>
<circle class="br" cx="3297.7" cy="1008.6" r="5.8"/>
<circle class="br" cx="3297.7" cy="1008.6" r="5.8"/>
<circle class="br" cx="3311.3" cy="1008.8" r="5.8"/>
<circle class="br" cx="3314.3" cy="1009.5" r="5.8"/>
<circle class="br" cx="1376.3" cy="1080.8" r="5.6"/>
<circle class="br" cx="1426.2" cy="1109.7" r="5.6"/>
<circle class="br" cx="1426.2" cy="1109.7" r="5.6"/>
<circle class="br" cx="1426.2" cy="1109.7" r="5.6"/>
<circle class="br" cx="1897.5" cy="1047.8" r="5.6"/>
<circle class="br" cx="1897.5" cy="1088.3" r="5.6"/>
<circle class="br" cx="1978.1" cy="1167.5" r="5.6"/>
<circle class="br" cx="3038.4" cy="1167" r="5.6"/>
<circle class="br" cx="3308.5" cy="1167" r="5.6"/>
<circle class="br" cx="414" cy="1009" r="5.6"/>
<circle class="br" cx="414" cy="1009" r="5.6"/>
<circle class="br" cx="414" cy="1009" r="5.6"/>
<circle class="br" cx="414" cy="1009" r="5.6"/>
<circle class="br" cx="3313" cy="1009" r="5.6"/>
<circle class="br" cx="3313" cy="1009" r="5.6"/>
<circle class="br" cx="3313" cy="1009" r="5.6"/>
<circle class="br" cx="3313" cy="1009" r="5.6"/>
</g>
<line x1="409.65" y1="989.2" x2="409.65" y2="1352.8" stroke="#000" stroke-width="6.6"/>
<line x1="384.8" y1="1333.4" x2="409.7" y2="1333.4" stroke="#000" stroke-width="5"/>
<text x="333.7" y="1349" font-size="41.7" fill="#000" textLength="26.5" lengthAdjust="spacing">0</text>
<line x1="384.8" y1="1171.3" x2="409.7" y2="1171.3" stroke="#000" stroke-width="5"/>
<text x="294.8" y="1186.9" font-size="41.7" fill="#000" textLength="66.3" lengthAdjust="spacing">0.5</text>
<line x1="384.8" y1="1009.2" x2="409.7" y2="1009.2" stroke="#000" stroke-width="5"/>
<text x="334.8" y="1024.8" font-size="41.7" fill="#000" textLength="26.5" lengthAdjust="spacing">1</text>
<text transform="translate(253.5,1327.7) rotate(-90)" x="-3.8" y="0" font-size="41.7" fill="#000" textLength="316.8" lengthAdjust="spacing">boostDM score</text>
<path class="rt" d="M414 1377V1419"/>
<path class="ot" d="M414 1592V1635.5"/>
<path class="rt" d="M424 1377V1419"/>
<path class="ot" d="M424 1592V1635.5"/>
<path class="rt" d="M436.1 1377V1419"/>
<path class="ot" d="M436.1 1592V1635.5"/>
<path class="rt" d="M437.3 1377V1419"/>
<path class="ot" d="M437.3 1592V1635.5"/>
<path class="rt" d="M457.8 1377V1419"/>
<path class="ot" d="M457.8 1592V1635.5"/>
<path class="rt" d="M462.9 1377V1419"/>
<path class="ot" d="M462.9 1592V1635.5"/>
<path class="rt" d="M466.8 1377V1419"/>
<path class="ot" d="M466.8 1592V1635.5"/>
<path class="rt" d="M493.4 1377V1419"/>
<path class="ot" d="M493.4 1592V1635.5"/>
<path class="rt" d="M505.3 1377V1419"/>
<path class="ot" d="M505.3 1592V1635.5"/>
<path class="rt" d="M512.3 1377V1419"/>
<path class="ot" d="M512.3 1592V1635.5"/>
<path class="rt" d="M546 1377V1419"/>
<path class="ot" d="M546 1592V1635.5"/>
<path class="rt" d="M559.5 1377V1419"/>
<path class="ot" d="M559.5 1592V1635.5"/>
<path class="rt" d="M566.1 1377V1419"/>
<path class="ot" d="M566.1 1592V1635.5"/>
<path class="rt" d="M572.8 1377V1419"/>
<path class="ot" d="M572.8 1592V1635.5"/>
<path class="rt" d="M588.2 1377V1419"/>
<path class="ot" d="M588.2 1592V1635.5"/>
<path class="rt" d="M596.8 1377V1419"/>
<path class="ot" d="M596.8 1592V1635.5"/>
<path class="rt" d="M601.7 1377V1419"/>
<path class="ot" d="M601.7 1592V1635.5"/>
<path class="rt" d="M603.1 1377V1419"/>
<path class="ot" d="M603.1 1592V1635.5"/>
<path class="rt" d="M612 1377V1419"/>
<path class="ot" d="M612 1592V1635.5"/>
<path class="rt" d="M640.6 1377V1419"/>
<path class="ot" d="M640.6 1592V1635.5"/>
<path class="rt" d="M646 1377V1419"/>
<path class="ot" d="M646 1592V1635.5"/>
<path class="rt" d="M657.8 1377V1419"/>
<path class="ot" d="M657.8 1592V1635.5"/>
<path class="rt" d="M712.1 1377V1419"/>
<path class="ot" d="M712.1 1592V1635.5"/>
<path class="rt" d="M720.3 1377V1419"/>
<path class="ot" d="M720.3 1592V1635.5"/>
<path class="rt" d="M737 1377V1419"/>
<path class="ot" d="M737 1592V1635.5"/>
<path class="rt" d="M748.9 1377V1419"/>
<path class="ot" d="M748.9 1592V1635.5"/>
<path class="rt" d="M750.8 1377V1419"/>
<path class="ot" d="M750.8 1592V1635.5"/>
<path class="rt" d="M759.4 1377V1419"/>
<path class="ot" d="M759.4 1592V1635.5"/>
<path class="rt" d="M803.4 1377V1419"/>
<path class="ot" d="M803.4 1592V1635.5"/>
<path class="rt" d="M815.1 1377V1419"/>
<path class="ot" d="M815.1 1592V1635.5"/>
<path class="rt" d="M840.5 1377V1419"/>
<path class="ot" d="M840.5 1592V1635.5"/>
<path class="rt" d="M855.8 1377V1419"/>
<path class="ot" d="M855.8 1592V1635.5"/>
<path class="rt" d="M862.8 1377V1419"/>
<path class="ot" d="M862.8 1592V1635.5"/>
<path class="rt" d="M864.2 1377V1419"/>
<path class="ot" d="M864.2 1592V1635.5"/>
<path class="rt" d="M866.5 1377V1419"/>
<path class="ot" d="M866.5 1592V1635.5"/>
<path class="rt" d="M870 1377V1419"/>
<path class="ot" d="M870 1592V1635.5"/>
<path class="rt" d="M872.4 1377V1419"/>
<path class="ot" d="M872.4 1592V1635.5"/>
<path class="rt" d="M876.1 1377V1419"/>
<path class="ot" d="M876.1 1592V1635.5"/>
<path class="rt" d="M889.8 1377V1419"/>
<path class="ot" d="M889.8 1592V1635.5"/>
<path class="rt" d="M907.8 1377V1419"/>
<path class="ot" d="M907.8 1592V1635.5"/>
<path class="rt" d="M910.8 1377V1419"/>
<path class="ot" d="M910.8 1592V1635.5"/>
<path class="rt" d="M913.1 1377V1419"/>
<path class="ot" d="M913.1 1592V1635.5"/>
<path class="rt" d="M915.9 1377V1419"/>
<path class="ot" d="M915.9 1592V1635.5"/>
<path class="rt" d="M920.1 1377V1419"/>
<path class="ot" d="M920.1 1592V1635.5"/>
<path class="rt" d="M923.6 1377V1419"/>
<path class="ot" d="M923.6 1592V1635.5"/>
<path class="rt" d="M932.2 1377V1419"/>
<path class="ot" d="M932.2 1592V1635.5"/>
<path class="rt" d="M941.5 1377V1419"/>
<path class="ot" d="M941.5 1592V1635.5"/>
<path class="rt" d="M945.5 1377V1419"/>
<path class="ot" d="M945.5 1592V1635.5"/>
<path class="rt" d="M956 1377V1419"/>
<path class="ot" d="M956 1592V1635.5"/>
<path class="rt" d="M964.1 1377V1419"/>
<path class="ot" d="M964.1 1592V1635.5"/>
<path class="rt" d="M976.2 1377V1419"/>
<path class="ot" d="M976.2 1592V1635.5"/>
<path class="rt" d="M984.6 1377V1419"/>
<path class="ot" d="M984.6 1592V1635.5"/>
<path class="rt" d="M986 1377V1419"/>
<path class="ot" d="M986 1592V1635.5"/>
<path class="rt" d="M1016.8 1377V1419"/>
<path class="ot" d="M1016.8 1592V1635.5"/>
<path class="rt" d="M1028.6 1377V1419"/>
<path class="ot" d="M1028.6 1592V1635.5"/>
<path class="rt" d="M1050.8 1377V1419"/>
<path class="ot" d="M1050.8 1592V1635.5"/>
<path class="rt" d="M1063.6 1377V1419"/>
<path class="ot" d="M1063.6 1592V1635.5"/>
<path class="rt" d="M1065.9 1377V1419"/>
<path class="ot" d="M1065.9 1592V1635.5"/>
<path class="rt" d="M1068 1377V1419"/>
<path class="ot" d="M1068 1592V1635.5"/>
<path class="rt" d="M1072.4 1377V1419"/>
<path class="ot" d="M1072.4 1592V1635.5"/>
<path class="rt" d="M1074.1 1377V1419"/>
<path class="ot" d="M1074.1 1592V1635.5"/>
<path class="rt" d="M1076.4 1377V1419"/>
<path class="ot" d="M1076.4 1592V1635.5"/>
<path class="rt" d="M1084.8 1377V1419"/>
<path class="ot" d="M1084.8 1592V1635.5"/>
<path class="rt" d="M1086.2 1377V1419"/>
<path class="ot" d="M1086.2 1592V1635.5"/>
<path class="rt" d="M1097.8 1377V1419"/>
<path class="ot" d="M1097.8 1592V1635.5"/>
<path class="rt" d="M1103.4 1377V1419"/>
<path class="ot" d="M1103.4 1592V1635.5"/>
<path class="rt" d="M1116.5 1377V1419"/>
<path class="ot" d="M1116.5 1592V1635.5"/>
<path class="rt" d="M1120 1377V1419"/>
<path class="ot" d="M1120 1592V1635.5"/>
<path class="rt" d="M1133.5 1377V1419"/>
<path class="ot" d="M1133.5 1592V1635.5"/>
<path class="rt" d="M1136.5 1377V1419"/>
<path class="ot" d="M1136.5 1592V1635.5"/>
<path class="rt" d="M1141.6 1377V1419"/>
<path class="ot" d="M1141.6 1592V1635.5"/>
<path class="rt" d="M1143.9 1377V1419"/>
<path class="ot" d="M1143.9 1592V1635.5"/>
<path class="rt" d="M1145.6 1377V1419"/>
<path class="ot" d="M1145.6 1592V1635.5"/>
<path class="rt" d="M1147 1377V1419"/>
<path class="ot" d="M1147 1592V1635.5"/>
<path class="rt" d="M1149.5 1377V1419"/>
<path class="ot" d="M1149.5 1592V1635.5"/>
<path class="rt" d="M1151.6 1377V1419"/>
<path class="ot" d="M1151.6 1592V1635.5"/>
<path class="rt" d="M1154.2 1377V1419"/>
<path class="ot" d="M1154.2 1592V1635.5"/>
<path class="rt" d="M1159.1 1377V1419"/>
<path class="ot" d="M1159.1 1592V1635.5"/>
<path class="rt" d="M1175.9 1377V1419"/>
<path class="ot" d="M1175.9 1592V1635.5"/>
<path class="rt" d="M1184 1377V1419"/>
<path class="ot" d="M1184 1592V1635.5"/>
<path class="rt" d="M1189.8 1377V1419"/>
<path class="ot" d="M1189.8 1592V1635.5"/>
<path class="rt" d="M1199.6 1377V1419"/>
<path class="ot" d="M1199.6 1592V1635.5"/>
<path class="rt" d="M1214.8 1377V1419"/>
<path class="ot" d="M1214.8 1592V1635.5"/>
<path class="rt" d="M1220.1 1377V1419"/>
<path class="ot" d="M1220.1 1592V1635.5"/>
<path class="rt" d="M1237.1 1377V1419"/>
<path class="ot" d="M1237.1 1592V1635.5"/>
<path class="rt" d="M1246.9 1377V1419"/>
<path class="ot" d="M1246.9 1592V1635.5"/>
<path class="rt" d="M1250.4 1377V1419"/>
<path class="ot" d="M1250.4 1592V1635.5"/>
<path class="rt" d="M1252.3 1377V1419"/>
<path class="ot" d="M1252.3 1592V1635.5"/>
<path class="rt" d="M1276 1377V1419"/>
<path class="ot" d="M1276 1592V1635.5"/>
<path class="rt" d="M1277.4 1377V1419"/>
<path class="ot" d="M1277.4 1592V1635.5"/>
<path class="rt" d="M1281.1 1377V1419"/>
<path class="ot" d="M1281.1 1592V1635.5"/>
<path class="rt" d="M1286 1377V1419"/>
<path class="ot" d="M1286 1592V1635.5"/>
<path class="rt" d="M1288.8 1377V1419"/>
<path class="ot" d="M1288.8 1592V1635.5"/>
<path class="rt" d="M1289.8 1377V1419"/>
<path class="ot" d="M1289.8 1592V1635.5"/>
<path class="rt" d="M1294.6 1377V1419"/>
<path class="ot" d="M1294.6 1592V1635.5"/>
<path class="rt" d="M1306.1 1377V1419"/>
<path class="ot" d="M1306.1 1592V1635.5"/>
<path class="rt" d="M1307.9 1377V1419"/>
<path class="ot" d="M1307.9 1592V1635.5"/>
<path class="rt" d="M1316.8 1377V1419"/>
<path class="ot" d="M1316.8 1592V1635.5"/>
<path class="rt" d="M1319.8 1377V1419"/>
<path class="ot" d="M1319.8 1592V1635.5"/>
<path class="rt" d="M1333.5 1377V1419"/>
<path class="ot" d="M1333.5 1592V1635.5"/>
<path class="rt" d="M1343.6 1377V1419"/>
<path class="ot" d="M1343.6 1592V1635.5"/>
<path class="rt" d="M1347.3 1377V1419"/>
<path class="ot" d="M1347.3 1592V1635.5"/>
<path class="rt" d="M1358.7 1377V1419"/>
<path class="ot" d="M1358.7 1592V1635.5"/>
<path class="rt" d="M1360.6 1377V1419"/>
<path class="ot" d="M1360.6 1592V1635.5"/>
<path class="rt" d="M1372.2 1377V1419"/>
<path class="ot" d="M1372.2 1592V1635.5"/>
<path class="rt" d="M1374.1 1377V1419"/>
<path class="ot" d="M1374.1 1592V1635.5"/>
<path class="rt" d="M1376.9 1377V1419"/>
<path class="ot" d="M1376.9 1592V1635.5"/>
<path class="rt" d="M1382.5 1377V1419"/>
<path class="ot" d="M1382.5 1592V1635.5"/>
<path class="rt" d="M1394.3 1377V1419"/>
<path class="ot" d="M1394.3 1592V1635.5"/>
<path class="rt" d="M1403 1377V1419"/>
<path class="ot" d="M1403 1592V1635.5"/>
<path class="rt" d="M1404.6 1377V1419"/>
<path class="ot" d="M1404.6 1592V1635.5"/>
<path class="rt" d="M1408.1 1377V1419"/>
<path class="ot" d="M1408.1 1592V1635.5"/>
<path class="rt" d="M1413 1377V1419"/>
<path class="ot" d="M1413 1592V1635.5"/>
<path class="rt" d="M1419.7 1377V1419"/>
<path class="ot" d="M1419.7 1592V1635.5"/>
<path class="rt" d="M1428.1 1377V1419"/>
<path class="ot" d="M1428.1 1592V1635.5"/>
<path class="rt" d="M1434.9 1377V1419"/>
<path class="ot" d="M1434.9 1592V1635.5"/>
<path class="rt" d="M1441.8 1377V1419"/>
<path class="ot" d="M1441.8 1592V1635.5"/>
<path class="rt" d="M1460 1377V1419"/>
<path class="ot" d="M1460 1592V1635.5"/>
<path class="rt" d="M1480.5 1377V1419"/>
<path class="ot" d="M1480.5 1592V1635.5"/>
<path class="rt" d="M1482.1 1377V1419"/>
<path class="ot" d="M1482.1 1592V1635.5"/>
<path class="rt" d="M1489.1 1377V1419"/>
<path class="ot" d="M1489.1 1592V1635.5"/>
<path class="rt" d="M1502.6 1377V1419"/>
<path class="ot" d="M1502.6 1592V1635.5"/>
<path class="rt" d="M1510.8 1377V1419"/>
<path class="ot" d="M1510.8 1592V1635.5"/>
<path class="rt" d="M1512.4 1377V1419"/>
<path class="ot" d="M1512.4 1592V1635.5"/>
<path class="rt" d="M1519.4 1377V1419"/>
<path class="ot" d="M1519.4 1592V1635.5"/>
<path class="rt" d="M1524.8 1377V1419"/>
<path class="ot" d="M1524.8 1592V1635.5"/>
<path class="rt" d="M1541.5 1377V1419"/>
<path class="ot" d="M1541.5 1592V1635.5"/>
<path class="rt" d="M1551.6 1377V1419"/>
<path class="ot" d="M1551.6 1592V1635.5"/>
<path class="rt" d="M1559.5 1377V1419"/>
<path class="ot" d="M1559.5 1592V1635.5"/>
<path class="rt" d="M1563.7 1377V1419"/>
<path class="ot" d="M1563.7 1592V1635.5"/>
<path class="rt" d="M1590 1377V1419"/>
<path class="ot" d="M1590 1592V1635.5"/>
<path class="rt" d="M1592.8 1377V1419"/>
<path class="ot" d="M1592.8 1592V1635.5"/>
<path class="rt" d="M1595.8 1377V1419"/>
<path class="ot" d="M1595.8 1592V1635.5"/>
<path class="rt" d="M1598.1 1377V1419"/>
<path class="ot" d="M1598.1 1592V1635.5"/>
<path class="rt" d="M1602.3 1377V1419"/>
<path class="ot" d="M1602.3 1592V1635.5"/>
<path class="rt" d="M1610.9 1377V1419"/>
<path class="ot" d="M1610.9 1592V1635.5"/>
<path class="rt" d="M1612.8 1377V1419"/>
<path class="ot" d="M1612.8 1592V1635.5"/>
<path class="rt" d="M1616.3 1377V1419"/>
<path class="ot" d="M1616.3 1592V1635.5"/>
<path class="rt" d="M1617.9 1377V1419"/>
<path class="ot" d="M1617.9 1592V1635.5"/>
<path class="rt" d="M1625.2 1377V1419"/>
<path class="ot" d="M1625.2 1592V1635.5"/>
<path class="rt" d="M1641.5 1377V1419"/>
<path class="ot" d="M1641.5 1592V1635.5"/>
<path class="rt" d="M1646.6 1377V1419"/>
<path class="ot" d="M1646.6 1592V1635.5"/>
<path class="rt" d="M1648.4 1377V1419"/>
<path class="ot" d="M1648.4 1592V1635.5"/>
<path class="rt" d="M1651.7 1377V1419"/>
<path class="ot" d="M1651.7 1592V1635.5"/>
<path class="rt" d="M1677.6 1377V1419"/>
<path class="ot" d="M1677.6 1592V1635.5"/>
<path class="rt" d="M1685.7 1377V1419"/>
<path class="ot" d="M1685.7 1592V1635.5"/>
<path class="rt" d="M1702 1377V1419"/>
<path class="ot" d="M1702 1592V1635.5"/>
<path class="rt" d="M1707.6 1377V1419"/>
<path class="ot" d="M1707.6 1592V1635.5"/>
<path class="rt" d="M1717.6 1377V1419"/>
<path class="ot" d="M1717.6 1592V1635.5"/>
<path class="rt" d="M1720.7 1377V1419"/>
<path class="ot" d="M1720.7 1592V1635.5"/>
<path class="rt" d="M1733.2 1377V1419"/>
<path class="ot" d="M1733.2 1592V1635.5"/>
<path class="rt" d="M1735.1 1377V1419"/>
<path class="ot" d="M1735.1 1592V1635.5"/>
<path class="rt" d="M1739.8 1377V1419"/>
<path class="ot" d="M1739.8 1592V1635.5"/>
<path class="rt" d="M1747.9 1377V1419"/>
<path class="ot" d="M1747.9 1592V1635.5"/>
<path class="rt" d="M1750.9 1377V1419"/>
<path class="ot" d="M1750.9 1592V1635.5"/>
<path class="rt" d="M1753.7 1377V1419"/>
<path class="ot" d="M1753.7 1592V1635.5"/>
<path class="rt" d="M1756.8 1377V1419"/>
<path class="ot" d="M1756.8 1592V1635.5"/>
<path class="rt" d="M1758.9 1377V1419"/>
<path class="ot" d="M1758.9 1592V1635.5"/>
<path class="rt" d="M1760.7 1377V1419"/>
<path class="ot" d="M1760.7 1592V1635.5"/>
<path class="rt" d="M1763 1377V1419"/>
<path class="ot" d="M1763 1592V1635.5"/>
<path class="rt" d="M1768.6 1377V1419"/>
<path class="ot" d="M1768.6 1592V1635.5"/>
<path class="rt" d="M1770 1377V1419"/>
<path class="ot" d="M1770 1592V1635.5"/>
<path class="rt" d="M1777.5 1377V1419"/>
<path class="ot" d="M1777.5 1592V1635.5"/>
<path class="rt" d="M1778.9 1377V1419"/>
<path class="ot" d="M1778.9 1592V1635.5"/>
<path class="rt" d="M1786.8 1377V1419"/>
<path class="ot" d="M1786.8 1592V1635.5"/>
<path class="rt" d="M1790.5 1377V1419"/>
<path class="ot" d="M1790.5 1592V1635.5"/>
<path class="rt" d="M1804.3 1377V1419"/>
<path class="ot" d="M1804.3 1592V1635.5"/>
<path class="rt" d="M1812.2 1377V1419"/>
<path class="ot" d="M1812.2 1592V1635.5"/>
<path class="rt" d="M1817.8 1377V1419"/>
<path class="ot" d="M1817.8 1592V1635.5"/>
<path class="rt" d="M1824.8 1377V1419"/>
<path class="ot" d="M1824.8 1592V1635.5"/>
<path class="rt" d="M1826.4 1377V1419"/>
<path class="ot" d="M1826.4 1592V1635.5"/>
<path class="rt" d="M1829.9 1377V1419"/>
<path class="ot" d="M1829.9 1592V1635.5"/>
<path class="rt" d="M1837.6 1377V1419"/>
<path class="ot" d="M1837.6 1592V1635.5"/>
<path class="rt" d="M1842.9 1377V1419"/>
<path class="ot" d="M1842.9 1592V1635.5"/>
<path class="rt" d="M1846.2 1377V1419"/>
<path class="ot" d="M1846.2 1592V1635.5"/>
<path class="rt" d="M1848.1 1377V1419"/>
<path class="ot" d="M1848.1 1592V1635.5"/>
<path class="rt" d="M1864.8 1377V1419"/>
<path class="ot" d="M1864.8 1592V1635.5"/>
<path class="rt" d="M1873.7 1377V1419"/>
<path class="ot" d="M1873.7 1592V1635.5"/>
<path class="rt" d="M1898.8 1377V1419"/>
<path class="ot" d="M1898.8 1592V1635.5"/>
<path class="rt" d="M1907 1377V1419"/>
<path class="ot" d="M1907 1592V1635.5"/>
<path class="rt" d="M1912.6 1377V1419"/>
<path class="ot" d="M1912.6 1592V1635.5"/>
<path class="rt" d="M1922.6 1377V1419"/>
<path class="ot" d="M1922.6 1592V1635.5"/>
<path class="rt" d="M1934.2 1377V1419"/>
<path class="ot" d="M1934.2 1592V1635.5"/>
<path class="rt" d="M1937.7 1377V1419"/>
<path class="ot" d="M1937.7 1592V1635.5"/>
<path class="rt" d="M1942.9 1377V1419"/>
<path class="ot" d="M1942.9 1592V1635.5"/>
<path class="rt" d="M1951.7 1377V1419"/>
<path class="ot" d="M1951.7 1592V1635.5"/>
<path class="rt" d="M1959.9 1377V1419"/>
<path class="ot" d="M1959.9 1592V1635.5"/>
<path class="rt" d="M1961.7 1377V1419"/>
<path class="ot" d="M1961.7 1592V1635.5"/>
<path class="rt" d="M1969.6 1377V1419"/>
<path class="ot" d="M1969.6 1592V1635.5"/>
<path class="rt" d="M1972.7 1377V1419"/>
<path class="ot" d="M1972.7 1592V1635.5"/>
<path class="rt" d="M1974.1 1377V1419"/>
<path class="ot" d="M1974.1 1592V1635.5"/>
<path class="rt" d="M1978.5 1377V1419"/>
<path class="ot" d="M1978.5 1592V1635.5"/>
<path class="rt" d="M1984.3 1377V1419"/>
<path class="ot" d="M1984.3 1592V1635.5"/>
<path class="rt" d="M1990.6 1377V1419"/>
<path class="ot" d="M1990.6 1592V1635.5"/>
<path class="rt" d="M1999 1377V1419"/>
<path class="ot" d="M1999 1592V1635.5"/>
<path class="rt" d="M2007.1 1377V1419"/>
<path class="ot" d="M2007.1 1592V1635.5"/>
<path class="rt" d="M2011.8 1377V1419"/>
<path class="ot" d="M2011.8 1592V1635.5"/>
<path class="rt" d="M2013.4 1377V1419"/>
<path class="ot" d="M2013.4 1592V1635.5"/>
<path class="rt" d="M2017.6 1377V1419"/>
<path class="ot" d="M2017.6 1592V1635.5"/>
<path class="rt" d="M2039.5 1377V1419"/>
<path class="ot" d="M2039.5 1592V1635.5"/>
<path class="rt" d="M2051.4 1377V1419"/>
<path class="ot" d="M2051.4 1592V1635.5"/>
<path class="rt" d="M2068.2 1377V1419"/>
<path class="ot" d="M2068.2 1592V1635.5"/>
<path class="rt" d="M2074.5 1377V1419"/>
<path class="ot" d="M2074.5 1592V1635.5"/>
<path class="rt" d="M2077 1377V1419"/>
<path class="ot" d="M2077 1592V1635.5"/>
<path class="rt" d="M2086.8 1377V1419"/>
<path class="ot" d="M2086.8 1592V1635.5"/>
<path class="rt" d="M2098.9 1377V1419"/>
<path class="ot" d="M2098.9 1592V1635.5"/>
<path class="rt" d="M2114.1 1377V1419"/>
<path class="ot" d="M2114.1 1592V1635.5"/>
<path class="rt" d="M2117.1 1377V1419"/>
<path class="ot" d="M2117.1 1592V1635.5"/>
<path class="rt" d="M2125.7 1377V1419"/>
<path class="ot" d="M2125.7 1592V1635.5"/>
<path class="rt" d="M2139.2 1377V1419"/>
<path class="ot" d="M2139.2 1592V1635.5"/>
<path class="rt" d="M2147.8 1377V1419"/>
<path class="ot" d="M2147.8 1592V1635.5"/>
<path class="rt" d="M2160.9 1377V1419"/>
<path class="ot" d="M2160.9 1592V1635.5"/>
<path class="rt" d="M2166.7 1377V1419"/>
<path class="ot" d="M2166.7 1592V1635.5"/>
<path class="rt" d="M2177.6 1377V1419"/>
<path class="ot" d="M2177.6 1592V1635.5"/>
<path class="rt" d="M2180 1377V1419"/>
<path class="ot" d="M2180 1592V1635.5"/>
<path class="rt" d="M2181.6 1377V1419"/>
<path class="ot" d="M2181.6 1592V1635.5"/>
<path class="rt" d="M2183.2 1377V1419"/>
<path class="ot" d="M2183.2 1592V1635.5"/>
<path class="rt" d="M2187 1377V1419"/>
<path class="ot" d="M2187 1592V1635.5"/>
<path class="rt" d="M2220.3 1377V1419"/>
<path class="ot" d="M2220.3 1592V1635.5"/>
<path class="rt" d="M2225.6 1377V1419"/>
<path class="ot" d="M2225.6 1592V1635.5"/>
<path class="rt" d="M2242.6 1377V1419"/>
<path class="ot" d="M2242.6 1592V1635.5"/>
<path class="rt" d="M2247.3 1377V1419"/>
<path class="ot" d="M2247.3 1592V1635.5"/>
<path class="rt" d="M2250.8 1377V1419"/>
<path class="ot" d="M2250.8 1592V1635.5"/>
<path class="rt" d="M2255.9 1377V1419"/>
<path class="ot" d="M2255.9 1592V1635.5"/>
<path class="rt" d="M2269.9 1377V1419"/>
<path class="ot" d="M2269.9 1592V1635.5"/>
<path class="rt" d="M2281.5 1377V1419"/>
<path class="ot" d="M2281.5 1592V1635.5"/>
<path class="rt" d="M2283.4 1377V1419"/>
<path class="ot" d="M2283.4 1592V1635.5"/>
<path class="rt" d="M2286.9 1377V1419"/>
<path class="ot" d="M2286.9 1592V1635.5"/>
<path class="rt" d="M2292 1377V1419"/>
<path class="ot" d="M2292 1592V1635.5"/>
<path class="rt" d="M2294.8 1377V1419"/>
<path class="ot" d="M2294.8 1592V1635.5"/>
<path class="rt" d="M2296.7 1377V1419"/>
<path class="ot" d="M2296.7 1592V1635.5"/>
<path class="rt" d="M2300.2 1377V1419"/>
<path class="ot" d="M2300.2 1592V1635.5"/>
<path class="rt" d="M2318.1 1377V1419"/>
<path class="ot" d="M2318.1 1592V1635.5"/>
<path class="rt" d="M2343.9 1377V1419"/>
<path class="ot" d="M2343.9 1592V1635.5"/>
<path class="rt" d="M2347.4 1377V1419"/>
<path class="ot" d="M2347.4 1592V1635.5"/>
<path class="rt" d="M2356.1 1377V1419"/>
<path class="ot" d="M2356.1 1592V1635.5"/>
<path class="rt" d="M2374.2 1377V1419"/>
<path class="ot" d="M2374.2 1592V1635.5"/>
<path class="rt" d="M2379.8 1377V1419"/>
<path class="ot" d="M2379.8 1592V1635.5"/>
<path class="rt" d="M2383.3 1377V1419"/>
<path class="ot" d="M2383.3 1592V1635.5"/>
<path class="rt" d="M2391.5 1377V1419"/>
<path class="ot" d="M2391.5 1592V1635.5"/>
<path class="rt" d="M2395 1377V1419"/>
<path class="ot" d="M2395 1592V1635.5"/>
<path class="rt" d="M2405.4 1377V1419"/>
<path class="ot" d="M2405.4 1592V1635.5"/>
<path class="rt" d="M2408 1377V1419"/>
<path class="ot" d="M2408 1592V1635.5"/>
<path class="rt" d="M2409.6 1377V1419"/>
<path class="ot" d="M2409.6 1592V1635.5"/>
<path class="rt" d="M2413.6 1377V1419"/>
<path class="ot" d="M2413.6 1592V1635.5"/>
<path class="rt" d="M2418.9 1377V1419"/>
<path class="ot" d="M2418.9 1592V1635.5"/>
<path class="rt" d="M2425.9 1377V1419"/>
<path class="ot" d="M2425.9 1592V1635.5"/>
<path class="rt" d="M2427.1 1377V1419"/>
<path class="ot" d="M2427.1 1592V1635.5"/>
<path class="rt" d="M2439.2 1377V1419"/>
<path class="ot" d="M2439.2 1592V1635.5"/>
<path class="rt" d="M2441.1 1377V1419"/>
<path class="ot" d="M2441.1 1592V1635.5"/>
<path class="rt" d="M2443.9 1377V1419"/>
<path class="ot" d="M2443.9 1592V1635.5"/>
<path class="rt" d="M2457.8 1377V1419"/>
<path class="ot" d="M2457.8 1592V1635.5"/>
<path class="rt" d="M2464.8 1377V1419"/>
<path class="ot" d="M2464.8 1592V1635.5"/>
<path class="rt" d="M2466 1377V1419"/>
<path class="ot" d="M2466 1592V1635.5"/>
<path class="rt" d="M2474.8 1377V1419"/>
<path class="ot" d="M2474.8 1592V1635.5"/>
<path class="rt" d="M2478.8 1377V1419"/>
<path class="ot" d="M2478.8 1592V1635.5"/>
<path class="rt" d="M2480.2 1377V1419"/>
<path class="ot" d="M2480.2 1592V1635.5"/>
<path class="rt" d="M2486.5 1377V1419"/>
<path class="ot" d="M2486.5 1592V1635.5"/>
<path class="rt" d="M2526.1 1377V1419"/>
<path class="ot" d="M2526.1 1592V1635.5"/>
<path class="rt" d="M2532.6 1377V1419"/>
<path class="ot" d="M2532.6 1592V1635.5"/>
<path class="rt" d="M2536.1 1377V1419"/>
<path class="ot" d="M2536.1 1592V1635.5"/>
<path class="rt" d="M2538.9 1377V1419"/>
<path class="ot" d="M2538.9 1592V1635.5"/>
<path class="rt" d="M2540.5 1377V1419"/>
<path class="ot" d="M2540.5 1592V1635.5"/>
<path class="rt" d="M2544.3 1377V1419"/>
<path class="ot" d="M2544.3 1592V1635.5"/>
<path class="rt" d="M2547.7 1377V1419"/>
<path class="ot" d="M2547.7 1592V1635.5"/>
<path class="rt" d="M2561.7 1377V1419"/>
<path class="ot" d="M2561.7 1592V1635.5"/>
<path class="rt" d="M2574.3 1377V1419"/>
<path class="ot" d="M2574.3 1592V1635.5"/>
<path class="rt" d="M2580.1 1377V1419"/>
<path class="ot" d="M2580.1 1592V1635.5"/>
<path class="rt" d="M2596.7 1377V1419"/>
<path class="ot" d="M2596.7 1592V1635.5"/>
<path class="rt" d="M2618.1 1377V1419"/>
<path class="ot" d="M2618.1 1592V1635.5"/>
<path class="rt" d="M2623.4 1377V1419"/>
<path class="ot" d="M2623.4 1592V1635.5"/>
<path class="rt" d="M2626.2 1377V1419"/>
<path class="ot" d="M2626.2 1592V1635.5"/>
<path class="rt" d="M2629.3 1377V1419"/>
<path class="ot" d="M2629.3 1592V1635.5"/>
<path class="rt" d="M2630.4 1377V1419"/>
<path class="ot" d="M2630.4 1592V1635.5"/>
<path class="rt" d="M2635.6 1377V1419"/>
<path class="ot" d="M2635.6 1592V1635.5"/>
<path class="rt" d="M2649.1 1377V1419"/>
<path class="ot" d="M2649.1 1592V1635.5"/>
<path class="rt" d="M2665.8 1377V1419"/>
<path class="ot" d="M2665.8 1592V1635.5"/>
<path class="rt" d="M2669.3 1377V1419"/>
<path class="ot" d="M2669.3 1592V1635.5"/>
<path class="rt" d="M2679.3 1377V1419"/>
<path class="ot" d="M2679.3 1592V1635.5"/>
<path class="rt" d="M2682.6 1377V1419"/>
<path class="ot" d="M2682.6 1592V1635.5"/>
<path class="rt" d="M2691 1377V1419"/>
<path class="ot" d="M2691 1592V1635.5"/>
<path class="rt" d="M2695 1377V1419"/>
<path class="ot" d="M2695 1592V1635.5"/>
<path class="rt" d="M2698 1377V1419"/>
<path class="ot" d="M2698 1592V1635.5"/>
<path class="rt" d="M2700.8 1377V1419"/>
<path class="ot" d="M2700.8 1592V1635.5"/>
<path class="rt" d="M2705 1377V1419"/>
<path class="ot" d="M2705 1592V1635.5"/>
<path class="rt" d="M2708.5 1377V1419"/>
<path class="ot" d="M2708.5 1592V1635.5"/>
<path class="rt" d="M2710.1 1377V1419"/>
<path class="ot" d="M2710.1 1592V1635.5"/>
<path class="rt" d="M2718.2 1377V1419"/>
<path class="ot" d="M2718.2 1592V1635.5"/>
<path class="rt" d="M2721.3 1377V1419"/>
<path class="ot" d="M2721.3 1592V1635.5"/>
<path class="rt" d="M2722.9 1377V1419"/>
<path class="ot" d="M2722.9 1592V1635.5"/>
<path class="rt" d="M2725.2 1377V1419"/>
<path class="ot" d="M2725.2 1592V1635.5"/>
<path class="rt" d="M2728.3 1377V1419"/>
<path class="ot" d="M2728.3 1592V1635.5"/>
<path class="rt" d="M2731.1 1377V1419"/>
<path class="ot" d="M2731.1 1592V1635.5"/>
<path class="rt" d="M2735.7 1377V1419"/>
<path class="ot" d="M2735.7 1592V1635.5"/>
<path class="rt" d="M2752 1377V1419"/>
<path class="ot" d="M2752 1592V1635.5"/>
<path class="rt" d="M2762.5 1377V1419"/>
<path class="ot" d="M2762.5 1592V1635.5"/>
<path class="rt" d="M2774.8 1377V1419"/>
<path class="ot" d="M2774.8 1592V1635.5"/>
<path class="rt" d="M2775.8 1377V1419"/>
<path class="ot" d="M2775.8 1592V1635.5"/>
<path class="rt" d="M2784.2 1377V1419"/>
<path class="ot" d="M2784.2 1592V1635.5"/>
<path class="rt" d="M2787.4 1377V1419"/>
<path class="ot" d="M2787.4 1592V1635.5"/>
<path class="rt" d="M2801.2 1377V1419"/>
<path class="ot" d="M2801.2 1592V1635.5"/>
<path class="rt" d="M2804.7 1377V1419"/>
<path class="ot" d="M2804.7 1592V1635.5"/>
<path class="rt" d="M2822.1 1377V1419"/>
<path class="ot" d="M2822.1 1592V1635.5"/>
<path class="rt" d="M2823.3 1377V1419"/>
<path class="ot" d="M2823.3 1592V1635.5"/>
<path class="rt" d="M2826.8 1377V1419"/>
<path class="ot" d="M2826.8 1592V1635.5"/>
<path class="rt" d="M2831.9 1377V1419"/>
<path class="ot" d="M2831.9 1592V1635.5"/>
<path class="rt" d="M2838.9 1377V1419"/>
<path class="ot" d="M2838.9 1592V1635.5"/>
<path class="rt" d="M2840.1 1377V1419"/>
<path class="ot" d="M2840.1 1592V1635.5"/>
<path class="rt" d="M2844.3 1377V1419"/>
<path class="ot" d="M2844.3 1592V1635.5"/>
<path class="rt" d="M2845.4 1377V1419"/>
<path class="ot" d="M2845.4 1592V1635.5"/>
<path class="rt" d="M2854 1377V1419"/>
<path class="ot" d="M2854 1592V1635.5"/>
<path class="rt" d="M2861 1377V1419"/>
<path class="ot" d="M2861 1592V1635.5"/>
<path class="rt" d="M2862.4 1377V1419"/>
<path class="ot" d="M2862.4 1592V1635.5"/>
<path class="rt" d="M2882.7 1377V1419"/>
<path class="ot" d="M2882.7 1592V1635.5"/>
<path class="rt" d="M2888 1377V1419"/>
<path class="ot" d="M2888 1592V1635.5"/>
<path class="rt" d="M2913.4 1377V1419"/>
<path class="ot" d="M2913.4 1592V1635.5"/>
<path class="rt" d="M2921.6 1377V1419"/>
<path class="ot" d="M2921.6 1592V1635.5"/>
<path class="rt" d="M2957.2 1377V1419"/>
<path class="ot" d="M2957.2 1592V1635.5"/>
<path class="rt" d="M2982.8 1377V1419"/>
<path class="ot" d="M2982.8 1592V1635.5"/>
<path class="rt" d="M2992.9 1377V1419"/>
<path class="ot" d="M2992.9 1592V1635.5"/>
<path class="rt" d="M3001 1377V1419"/>
<path class="ot" d="M3001 1592V1635.5"/>
<path class="rt" d="M3009.6 1377V1419"/>
<path class="ot" d="M3009.6 1592V1635.5"/>
<path class="rt" d="M3014.8 1377V1419"/>
<path class="ot" d="M3014.8 1592V1635.5"/>
<path class="rt" d="M3028.3 1377V1419"/>
<path class="ot" d="M3028.3 1592V1635.5"/>
<path class="rt" d="M3035.2 1377V1419"/>
<path class="ot" d="M3035.2 1592V1635.5"/>
<path class="rt" d="M3039.9 1377V1419"/>
<path class="ot" d="M3039.9 1592V1635.5"/>
<path class="rt" d="M3042.2 1377V1419"/>
<path class="ot" d="M3042.2 1592V1635.5"/>
<path class="rt" d="M3043.9 1377V1419"/>
<path class="ot" d="M3043.9 1592V1635.5"/>
<path class="rt" d="M3048.8 1377V1419"/>
<path class="ot" d="M3048.8 1592V1635.5"/>
<path class="rt" d="M3053.9 1377V1419"/>
<path class="ot" d="M3053.9 1592V1635.5"/>
<path class="rt" d="M3074.1 1377V1419"/>
<path class="ot" d="M3074.1 1592V1635.5"/>
<path class="rt" d="M3082.5 1377V1419"/>
<path class="ot" d="M3082.5 1592V1635.5"/>
<path class="rt" d="M3100.9 1377V1419"/>
<path class="ot" d="M3100.9 1592V1635.5"/>
<path class="rt" d="M3106.3 1377V1419"/>
<path class="ot" d="M3106.3 1592V1635.5"/>
<path class="rt" d="M3123.1 1377V1419"/>
<path class="ot" d="M3123.1 1592V1635.5"/>
<path class="rt" d="M3140.1 1377V1419"/>
<path class="ot" d="M3140.1 1592V1635.5"/>
<path class="rt" d="M3148.7 1377V1419"/>
<path class="ot" d="M3148.7 1592V1635.5"/>
<path class="rt" d="M3167.3 1377V1419"/>
<path class="ot" d="M3167.3 1592V1635.5"/>
<path class="rt" d="M3175.5 1377V1419"/>
<path class="ot" d="M3175.5 1592V1635.5"/>
<path class="rt" d="M3180.8 1377V1419"/>
<path class="ot" d="M3180.8 1592V1635.5"/>
<path class="rt" d="M3187.3 1377V1419"/>
<path class="ot" d="M3187.3 1592V1635.5"/>
<path class="rt" d="M3197.6 1377V1419"/>
<path class="ot" d="M3197.6 1592V1635.5"/>
<path class="rt" d="M3204.1 1377V1419"/>
<path class="ot" d="M3204.1 1592V1635.5"/>
<path class="rt" d="M3209.5 1377V1419"/>
<path class="ot" d="M3209.5 1592V1635.5"/>
<path class="rt" d="M3223.2 1377V1419"/>
<path class="ot" d="M3223.2 1592V1635.5"/>
<path class="rt" d="M3235.1 1377V1419"/>
<path class="ot" d="M3235.1 1592V1635.5"/>
<path class="rt" d="M3236 1377V1419"/>
<path class="ot" d="M3236 1592V1635.5"/>
<path class="rt" d="M3244.9 1377V1419"/>
<path class="ot" d="M3244.9 1592V1635.5"/>
<path class="rt" d="M3248.8 1377V1419"/>
<path class="ot" d="M3248.8 1592V1635.5"/>
<path class="rt" d="M3250 1377V1419"/>
<path class="ot" d="M3250 1592V1635.5"/>
<path class="rt" d="M3267 1377V1419"/>
<path class="ot" d="M3267 1592V1635.5"/>
<path class="rt" d="M3275.6 1377V1419"/>
<path class="ot" d="M3275.6 1592V1635.5"/>
<path class="rt" d="M3278.6 1377V1419"/>
<path class="ot" d="M3278.6 1592V1635.5"/>
<path class="rt" d="M3279.8 1377V1419"/>
<path class="ot" d="M3279.8 1592V1635.5"/>
<path class="rt" d="M3284 1377V1419"/>
<path class="ot" d="M3284 1592V1635.5"/>
<path class="rt" d="M3288.7 1377V1419"/>
<path class="ot" d="M3288.7 1592V1635.5"/>
<path class="rt" d="M3291.5 1377V1419"/>
<path class="ot" d="M3291.5 1592V1635.5"/>
<path class="rt" d="M3292.6 1377V1419"/>
<path class="ot" d="M3292.6 1592V1635.5"/>
<path class="rt" d="M3297.7 1377V1419"/>
<path class="ot" d="M3297.7 1592V1635.5"/>
<path class="rt" d="M3311.3 1377V1419"/>
<path class="ot" d="M3311.3 1592V1635.5"/>
<path class="rt" d="M3314.3 1377V1419"/>
<path class="ot" d="M3314.3 1592V1635.5"/>
<line x1="406.35" y1="1359.8" x2="3317.2" y2="1359.8" stroke="#000" stroke-width="6.6"/>
<line x1="409.65" y1="1356.6" x2="409.65" y2="1722" stroke="#000" stroke-width="6.6"/>
<line x1="384.8" y1="1397.1" x2="409.7" y2="1397.1" stroke="#000" stroke-width="5"/>
<text x="150.1" y="1412.8" font-size="41.7" fill="#000" textLength="211" lengthAdjust="spacing">all drivers</text>
<line x1="384.8" y1="1469.2" x2="409.7" y2="1469.2" stroke="#000" stroke-width="5"/>
<text x="55" y="1484.9" font-size="41.7" fill="#000" textLength="307" lengthAdjust="spacing">missense high</text>
<line x1="384.8" y1="1540.6" x2="409.7" y2="1540.6" stroke="#000" stroke-width="5"/>
<text x="73.5" y="1556.3" font-size="41.7" fill="#000" textLength="286.1" lengthAdjust="spacing">missense low</text>
<line x1="384.8" y1="1612.7" x2="409.7" y2="1612.7" stroke="#000" stroke-width="5"/>
<text x="49.4" y="1628.4" font-size="41.7" fill="#000" textLength="312.6" lengthAdjust="spacing">nonsense high</text>
<line x1="384.8" y1="1684.1" x2="409.7" y2="1684.1" stroke="#000" stroke-width="5"/>
<text x="69.9" y="1699.8" font-size="41.7" fill="#000" textLength="290.1" lengthAdjust="spacing">nonsense low</text>
<rect x="909.9" y="1729.4" width="212.7" height="50.8" fill="#c0c0c0" stroke="#a4a4a4" stroke-width="4.2"/>
<rect x="1199.1" y="1729.4" width="130.5" height="50.8" fill="#c0c0c0" stroke="#a4a4a4" stroke-width="4.2"/>
<rect x="1381.1" y="1729.4" width="212.7" height="50.8" fill="#c0c0c0" stroke="#a4a4a4" stroke-width="4.2"/>
<rect x="1728.3" y="1729.4" width="280.5" height="50.8" fill="#c0c0c0" stroke="#a4a4a4" stroke-width="4.2"/>
<rect x="2057.9" y="1729.4" width="268.8" height="50.8" fill="#c0c0c0" stroke="#a4a4a4" stroke-width="4.2"/>
<rect x="2547.7" y="1729.4" width="475.2" height="50.8" fill="#c0c0c0" stroke="#a4a4a4" stroke-width="4.2"/>
<text x="982.5" y="1764.2" font-size="34.4" fill="#000" textLength="69.6" lengthAdjust="spacing">SH2</text>
<text x="1243.1" y="1764.2" font-size="34.4" fill="#000" textLength="108.7" lengthAdjust="spacing">SH3_1</text>
<text x="1452.5" y="1764.2" font-size="34.4" fill="#000" textLength="69.6" lengthAdjust="spacing">SH2</text>
<text x="1821.9" y="1764.2" font-size="34.4" fill="#000" textLength="46.6" lengthAdjust="spacing">PH</text>
<text x="2148.8" y="1764.2" font-size="34.4" fill="#000" textLength="45.9" lengthAdjust="spacing">C2</text>
<text x="2708.8" y="1764.2" font-size="34.4" fill="#000" textLength="133.1" lengthAdjust="spacing">RasGAP</text>
<rect x="410.4" y="1729.4" width="2904" height="50.8" fill="none" stroke="#000" stroke-width="4.8"/>
<line x1="409.9" y1="1780" x2="409.9" y2="1805" stroke="#000" stroke-width="4.8"/>
<text x="396.7" y="1858.5" font-size="41.7" fill="#000" textLength="26.5" lengthAdjust="spacing">0</text>
<line x1="731.4" y1="1780" x2="731.4" y2="1805" stroke="#000" stroke-width="4.8"/>
<text x="690.5" y="1858.5" font-size="41.7" fill="#000" textLength="79.5" lengthAdjust="spacing">116</text>
<line x1="1052.8" y1="1780" x2="1052.8" y2="1805" stroke="#000" stroke-width="4.8"/>
<text x="1013.5" y="1858.5" font-size="41.7" fill="#000" textLength="79.5" lengthAdjust="spacing">232</text>
<line x1="1377" y1="1780" x2="1377" y2="1805" stroke="#000" stroke-width="4.8"/>
<text x="1337.1" y="1858.5" font-size="41.7" fill="#000" textLength="79.5" lengthAdjust="spacing">349</text>
<line x1="1698.5" y1="1780" x2="1698.5" y2="1805" stroke="#000" stroke-width="4.8"/>
<text x="1659.4" y="1858.5" font-size="41.7" fill="#000" textLength="79.5" lengthAdjust="spacing">465</text>
<line x1="2022.7" y1="1780" x2="2022.7" y2="1805" stroke="#000" stroke-width="4.8"/>
<text x="1983.5" y="1858.5" font-size="41.7" fill="#000" textLength="79.5" lengthAdjust="spacing">582</text>
<line x1="2344.2" y1="1780" x2="2344.2" y2="1805" stroke="#000" stroke-width="4.8"/>
<text x="2304.3" y="1858.5" font-size="41.7" fill="#000" textLength="79.5" lengthAdjust="spacing">698</text>
<line x1="2668.4" y1="1780" x2="2668.4" y2="1805" stroke="#000" stroke-width="4.8"/>
<text x="2628.9" y="1858.5" font-size="41.7" fill="#000" textLength="79.5" lengthAdjust="spacing">815</text>
<line x1="2989.9" y1="1780" x2="2989.9" y2="1805" stroke="#000" stroke-width="4.8"/>
<text x="2950.6" y="1858.5" font-size="41.7" fill="#000" textLength="79.5" lengthAdjust="spacing">931</text>
<line x1="3314.1" y1="1780" x2="3314.1" y2="1805" stroke="#000" stroke-width="4.8"/>
<text x="3260.2" y="1858.5" font-size="41.7" fill="#000" textLength="106.1" lengthAdjust="spacing">1048</text>
<line x1="409.65" y1="1910" x2="409.65" y2="1967" stroke="#000" stroke-width="6.4"/>
<text x="135" y="1950.5" font-size="41.7" fill="#365e3d" textLength="217.2" lengthAdjust="spacing">3D cluster</text>
<line x1="409.65" y1="1971.5" x2="409.65" y2="2030" stroke="#000" stroke-width="6.4"/>
<text x="61.7" y="2012.8" font-size="41.7" fill="#2ca02c" textLength="290.5" lengthAdjust="spacing">Linear cluster</text>
<line x1="409.65" y1="2033" x2="409.65" y2="2090.6" stroke="#000" stroke-width="6.4"/>
<text x="64.8" y="2073.8" font-size="41.7" fill="#ff7f0e" textLength="290" lengthAdjust="spacing">PFAM domain</text>
<line x1="409.65" y1="2094.8" x2="409.65" y2="2152.4" stroke="#000" stroke-width="6.4"/>
<text x="74.7" y="2135.6" font-size="41.7" fill="#e377c2" textLength="279.3" lengthAdjust="spacing">Conservation</text>
<line x1="409.65" y1="2155.8" x2="409.65" y2="2212.6" stroke="#000" stroke-width="6.4"/>
<text x="264.8" y="2196.2" font-size="41.7" fill="#9467bd" textLength="89.8" lengthAdjust="spacing">PTM</text>
<line x1="409.65" y1="2216.8" x2="409.65" y2="2274.5" stroke="#000" stroke-width="6.4"/>
<text x="250.1" y="2257.7" font-size="41.7" fill="#8c564b" textLength="102.2" lengthAdjust="spacing">NMD</text>
<line x1="409.65" y1="2278.6" x2="409.65" y2="2336.3" stroke="#000" stroke-width="6.4"/>
<text x="158.1" y="2319.4" font-size="41.7" fill="#1f77b4" textLength="194.7" lengthAdjust="spacing">Missense</text>
<line x1="409.65" y1="2339.6" x2="409.65" y2="2396.9" stroke="#000" stroke-width="6.4"/>
<text x="144.2" y="2380.2" font-size="41.7" fill="#0c0c6a" textLength="208.7" lengthAdjust="spacing">Nonsense</text>
<line x1="409.65" y1="2401" x2="409.65" y2="2458.3" stroke="#000" stroke-width="6.4"/>
<text x="186.9" y="2441.7" font-size="41.7" fill="#17becf" textLength="167.5" lengthAdjust="spacing">Splicing</text>
<line x1="409.9" y1="1939.2" x2="3311.3" y2="1939.2" stroke="#365e3d" stroke-width="2.9"/>
<path d="M409.9,2023.5 L412.7,2023.5 L415.4,2023.5 L418.2,2023.5 L421,2023.5 L423.8,2023.5 L426.5,2023.5 L429.3,2023.5 L432.1,2023.5 L434.8,2023.5 L437.6,2023.5 L440.4,2023.5 L443.2,2023.5 L445.9,2023.5 L448.7,2023.5 L451.5,2023.5 L454.2,2023.5 L457,2023.5 L459.8,2023.5 L462.6,2023.5 L465.3,2023.5 L468.1,2023.5 L470.9,2023.5 L473.6,2023.5 L476.4,2023.5 L479.2,2023.5 L482,2023.5 L484.7,2023.5 L487.5,2023.5 L490.3,2023.5 L493,2023.5 L495.8,2023.5 L498.6,2023.5 L501.3,2023.5 L504.1,2023.5 L506.9,2023.5 L509.7,2023.5 L512.4,2023.5 L515.2,2023.5 L518,2023.5 L520.7,2023.5 L523.5,2023.5 L526.3,2023.5 L529.1,2023.5 L531.8,2023.5 L534.6,2023.5 L537.4,2023.5 L540.1,2023.5 L542.9,2023.5 L545.7,2023.5 L548.5,2023.5 L551.2,2023.5 L554,2023.5 L556.8,2023.5 L559.5,2023.5 L562.3,2023.5 L565.1,2023.5 L567.9,2023.5 L570.6,2023.5 L573.4,2023.5 L576.2,2023.5 L578.9,2023.5 L581.7,2023.5 L584.5,2023.5 L587.3,2023.5 L590,2023.5 L592.8,2023.5 L595.6,2023.5 L598.3,2023.5 L601.1,2023.5 L603.9,2023.5 L606.7,2023.5 L609.4,2023.5 L612.2,2023.5 L615,2023.5 L617.7,2023.5 L620.5,2023.5 L623.3,2023.5 L626.1,2023.5 L628.8,2023.5 L631.6,2023.5 L634.4,2023.5 L637.1,2023.5 L639.9,2023.5 L642.7,2023.5 L645.5,2023.5 L648.2,2023.5 L651,2023.5 L653.8,2023.5 L656.5,2023.5 L659.3,2023.5 L662.1,2023.5 L664.9,2023.5 L667.6,2023.5 L670.4,2023.5 L673.2,2023.5 L675.9,2023.5 L678.7,2023.5 L681.5,2023.5 L684.2,2023.5 L687,2023.5 L689.8,2023.5 L692.6,2023.5 L695.3,2023.5 L698.1,2023.5 L700.9,2023.5 L703.6,2023.5 L706.4,2023.5 L709.2,2023.5 L712,2023.5 L714.7,2023.5 L717.5,2023.5 L720.3,2023.5 L723,2023.5 L725.8,2023.5 L728.6,2023.5 L731.4,2023.5 L734.1,2023.5 L736.9,2023.5 L739.7,2023.5 L742.4,2023.5 L745.2,2023.5 L748,2023.5 L750.8,2023.5 L753.5,2023.5 L756.3,2023.5 L759.1,2023.5 L761.8,2023.5 L764.6,2023.5 L767.4,2023.5 L770.2,2023.5 L772.9,2023.5 L775.7,2023.5 L778.5,2023.5 L781.2,2023.5 L784,2023.5 L786.8,2023.5 L789.6,2023.5 L792.3,2023.5 L795.1,2023.5 L797.9,2023.5 L800.6,2023.5 L803.4,2023.5 L806.2,2023.5 L809,2023.5 L811.7,2023.5 L814.5,2023.5 L817.3,2023.5 L820,2023.5 L822.8,2023.5 L825.6,2023.5 L828.4,2023.5 L831.1,2023.5 L833.9,2023.5 L836.7,2023.5 L839.4,2023.5 L842.2,2023.5 L845,2023.5 L847.7,2023.5 L850.5,2023.5 L853.3,2023.5 L856.1,2023.5 L858.8,2023.5 L861.6,2023.5 L864.4,2023.5 L867.1,2023.5 L869.9,2023.5 L872.7,2023.5 L875.5,2023.5 L878.2,2023.5 L881,2023.5 L883.8,2023.5 L886.5,2023.5 L889.3,2023.5 L892.1,2023.5 L894.9,2023.5 L897.6,2023.5 L900.4,2023.5 L903.2,2023.5 L905.9,2023.5 L908.7,2023.5 L911.5,2023.5 L914.3,2023.5 L917,2023.5 L919.8,2023.5 L922.6,2023.5 L925.3,2023.5 L928.1,2023.5 L930.9,2023.5 L933.7,2023.5 L936.4,2023.5 L939.2,2023.5 L942,2023.5 L944.7,2023.5 L947.5,2023.5 L950.3,2023.5 L953.1,2023.5 L955.8,2023.5 L958.6,2023.5 L961.4,2023.5 L964.1,2023.5 L966.9,2023.5 L969.7,2023.5 L972.5,2023.5 L975.2,2023.5 L978,2023.5 L980.8,2023.5 L983.5,2023.5 L986.3,2023.5 L989.1,2023.5 L991.9,2023.5 L994.6,2023.5 L997.4,2023.5 L1000.2,2023.5 L1002.9,2023.5 L1005.7,2023.5 L1008.5,2023.5 L1011.3,2023.5 L1014,2023.5 L1016.8,2023.5 L1019.6,2023.5 L1022.3,2023.5 L1025.1,2023.5 L1027.9,2023.5 L1030.6,2023.5 L1033.4,2023.5 L1036.2,2023.5 L1039,2023.5 L1041.7,2023.5 L1044.5,2023.5 L1047.3,2023.5 L1050,2023.5 L1052.8,2023.5 L1055.6,2023.5 L1058.4,2023.5 L1061.1,2023.5 L1063.9,2023.5 L1066.7,2023.5 L1069.4,2023.5 L1072.2,2023.5 L1075,2023.5 L1077.8,2023.5 L1080.5,2023.5 L1083.3,2023.5 L1086.1,2023.5 L1088.8,2023.5 L1091.6,2023.5 L1094.4,2023.5 L1097.2,2023.5 L1099.9,2023.5 L1102.7,2023.5 L1105.5,2023.5 L1108.2,2023.5 L1111,2023.5 L1113.8,2023.5 L1116.6,2023.5 L1119.3,2023.5 L1122.1,2023.5 L1124.9,2023.5 L1127.6,2023.5 L1130.4,2023.5 L1133.2,2023.5 L1136,2023.5 L1138.7,2023.5 L1141.5,2023.5 L1144.3,2023.5 L1147,2023.5 L1149.8,2023.5 L1152.6,2023.5 L1155.4,2023.5 L1158.1,2023.5 L1160.9,2023.5 L1163.7,2023.5 L1166.4,2023.5 L1169.2,2023.5 L1172,2023.5 L1174.8,2023.5 L1177.5,2023.5 L1180.3,2023.5 L1183.1,2023.5 L1185.8,2023.5 L1188.6,2023.5 L1191.4,2023.5 L1194.1,2023.5 L1196.9,2023.5 L1199.7,2023.5 L1202.5,2023.5 L1205.2,2023.5 L1208,2023.5 L1210.8,2023.5 L1213.5,2023.5 L1216.3,2023.5 L1219.1,2023.5 L1221.9,2023.5 L1224.6,2023.5 L1227.4,2023.5 L1230.2,2023.5 L1232.9,2023.5 L1235.7,2023.5 L1238.5,2023.5 L1241.3,2023.5 L1244,2023.5 L1246.8,2023.5 L1249.6,2023.5 L1252.3,2023.5 L1255.1,2023.5 L1257.9,2023.5 L1260.7,2023.5 L1263.4,2023.5 L1266.2,2023.5 L1269,2023.5 L1271.7,2023.5 L1274.5,2023.5 L1277.3,2023.5 L1280.1,2023.5 L1282.8,2023.5 L1285.6,2023.5 L1288.4,2023.5 L1291.1,2023.5 L1293.9,2023.5 L1296.7,2023.5 L1299.5,2023.5 L1302.2,2023.5 L1305,2023.5 L1307.8,2023.5 L1310.5,2023.5 L1313.3,2023.5 L1316.1,2023.5 L1318.9,2023.5 L1321.6,2023.5 L1324.4,2023.5 L1327.2,2023.5 L1329.9,2023.5 L1332.7,2023.5 L1335.5,2023.5 L1338.3,2023.5 L1341,2023.5 L1343.8,2023.5 L1346.6,2023.5 L1349.3,2023.5 L1352.1,2023.5 L1354.9,2023.5 L1357.7,2023.5 L1360.4,2023.5 L1363.2,2023.5 L1366,2023.5 L1368.7,2023.5 L1371.5,2023.5 L1374.3,2023.5 L1377,2023.5 L1379.8,2023.5 L1382.6,2023.5 L1385.4,2023.5 L1388.1,2023.5 L1390.9,2023.5 L1393.7,2023.5 L1396.4,2023.5 L1399.2,2023.5 L1402,2023.5 L1404.8,2023.5 L1407.5,2023.5 L1410.3,2023.5 L1413.1,2023.5 L1415.8,2023.5 L1418.6,2023.5 L1421.4,2023.5 L1424.2,2023.5 L1426.9,2023.5 L1429.7,2023.5 L1432.5,2023.5 L1435.2,2023.5 L1438,2023.5 L1440.8,2023.5 L1443.6,2023.5 L1446.3,2023.5 L1449.1,2023.5 L1451.9,2023.5 L1454.6,2023.5 L1457.4,2023.5 L1460.2,2023.5 L1463,2023.5 L1465.7,2023.5 L1468.5,2023.5 L1471.3,2023.5 L1474,2023.5 L1476.8,2023.5 L1479.6,2023.5 L1482.4,2023.5 L1485.1,2023.5 L1487.9,2023.5 L1490.7,2023.5 L1493.4,2023.5 L1496.2,2023.5 L1499,2023.5 L1501.8,2023.5 L1504.5,2023.5 L1507.3,2023.5 L1510.1,2023.5 L1512.8,2023.5 L1515.6,2023.5 L1518.4,2023.5 L1521.2,2023.5 L1523.9,2023.5 L1526.7,2023.5 L1529.5,2023.5 L1532.2,2023.5 L1535,2023.5 L1537.8,2023.5 L1540.5,2023.5 L1543.3,2023.5 L1546.1,2023.5 L1548.9,2023.5 L1551.6,2023.5 L1554.4,2023.5 L1557.2,2023.5 L1559.9,2023.5 L1562.7,2023.5 L1565.5,2023.5 L1568.3,2023.5 L1571,2023.5 L1573.8,2023.5 L1576.6,2023.5 L1579.3,2023.5 L1582.1,2023.5 L1584.9,2023.5 L1587.7,2023.5 L1590.4,2023.5 L1593.2,2023.5 L1596,2023.5 L1598.7,2023.5 L1601.5,2023.5 L1604.3,2023.5 L1607.1,2023.5 L1609.8,2023.5 L1612.6,2023.5 L1615.4,2023.5 L1618.1,2023.5 L1620.9,2023.5 L1623.7,2023.5 L1626.5,2023.5 L1629.2,1976.7 L1632,1976.7 L1634.8,2023.5 L1637.5,2023.5 L1640.3,2023.5 L1643.1,2023.5 L1645.9,2023.5 L1648.6,2023.5 L1651.4,2023.5 L1654.2,2023.5 L1656.9,2023.5 L1659.7,2023.5 L1662.5,2023.5 L1665.3,2023.5 L1668,2023.5 L1670.8,2023.5 L1673.6,2023.5 L1676.3,2023.5 L1679.1,2023.5 L1681.9,2023.5 L1684.7,2023.5 L1687.4,2023.5 L1690.2,2023.5 L1693,2023.5 L1695.7,2023.5 L1698.5,2023.5 L1701.3,2023.5 L1704.1,2023.5 L1706.8,2023.5 L1709.6,2023.5 L1712.4,2023.5 L1715.1,2023.5 L1717.9,2023.5 L1720.7,2023.5 L1723.4,2023.5 L1726.2,2023.5 L1729,2023.5 L1731.8,2023.5 L1734.5,2023.5 L1737.3,2023.5 L1740.1,2023.5 L1742.8,2023.5 L1745.6,2023.5 L1748.4,2023.5 L1751.2,2023.5 L1753.9,2023.5 L1756.7,2023.5 L1759.5,2023.5 L1762.2,2023.5 L1765,2023.5 L1767.8,2023.5 L1770.6,2023.5 L1773.3,2023.5 L1776.1,2023.5 L1778.9,2023.5 L1781.6,2023.5 L1784.4,2023.5 L1787.2,2023.5 L1790,2023.5 L1792.7,2023.5 L1795.5,2023.5 L1798.3,2023.5 L1801,2023.5 L1803.8,2023.5 L1806.6,2023.5 L1809.4,2023.5 L1812.1,2023.5 L1814.9,2023.5 L1817.7,2023.5 L1820.4,2023.5 L1823.2,2023.5 L1826,2023.5 L1828.8,2023.5 L1831.5,2023.5 L1834.3,2023.5 L1837.1,2023.5 L1839.8,2023.5 L1842.6,2023.5 L1845.4,2023.5 L1848.2,2023.5 L1850.9,2023.5 L1853.7,2023.5 L1856.5,2023.5 L1859.2,2023.5 L1862,2023.5 L1864.8,2023.5 L1867.6,2023.5 L1870.3,2023.5 L1873.1,2023.5 L1875.9,2023.5 L1878.6,2023.5 L1881.4,2023.5 L1884.2,2023.5 L1886.9,2023.5 L1889.7,2023.5 L1892.5,2023.5 L1895.3,2023.5 L1898,2023.5 L1900.8,2023.5 L1903.6,2023.5 L1906.3,2023.5 L1909.1,2023.5 L1911.9,2023.5 L1914.7,2023.5 L1917.4,2023.5 L1920.2,2023.5 L1923,2023.5 L1925.7,2023.5 L1928.5,2023.5 L1931.3,2023.5 L1934.1,2023.5 L1936.8,2023.5 L1939.6,2023.5 L1942.4,2023.5 L1945.1,2023.5 L1947.9,2023.5 L1950.7,2023.5 L1953.5,2023.5 L1956.2,2023.5 L1959,2023.5 L1961.8,2023.5 L1964.5,2023.5 L1967.3,2023.5 L1970.1,2023.5 L1972.9,2023.5 L1975.6,2023.5 L1978.4,2023.5 L1981.2,2023.5 L1983.9,2023.5 L1986.7,2023.5 L1989.5,2023.5 L1992.3,2023.5 L1995,2023.5 L1997.8,2023.5 L2000.6,2023.5 L2003.3,2023.5 L2006.1,2023.5 L2008.9,2023.5 L2011.7,2023.5 L2014.4,2023.5 L2017.2,2023.5 L2020,2023.5 L2022.7,2023.5 L2025.5,2023.5 L2028.3,2023.5 L2031.1,2023.5 L2033.8,2023.5 L2036.6,2023.5 L2039.4,2023.5 L2042.1,2023.5 L2044.9,2023.5 L2047.7,2023.5 L2050.5,2023.5 L2053.2,2023.5 L2056,2023.5 L2058.8,2023.5 L2061.5,2023.5 L2064.3,2023.5 L2067.1,2023.5 L2069.8,2023.5 L2072.6,2023.5 L2075.4,2023.5 L2078.2,2023.5 L2080.9,2023.5 L2083.7,2023.5 L2086.5,2023.5 L2089.2,2023.5 L2092,2023.5 L2094.8,2023.5 L2097.6,2023.5 L2100.3,2023.5 L2103.1,2023.5 L2105.9,2023.5 L2108.6,2023.5 L2111.4,2023.5 L2114.2,2023.5 L2117,2023.5 L2119.7,2023.5 L2122.5,2023.5 L2125.3,2023.5 L2128,2023.5 L2130.8,2023.5 L2133.6,2023.5 L2136.4,2023.5 L2139.1,2023.5 L2141.9,2023.5 L2144.7,2023.5 L2147.4,2023.5 L2150.2,2023.5 L2153,2023.5 L2155.8,2023.5 L2158.5,2023.5 L2161.3,2023.5 L2164.1,2023.5 L2166.8,2023.5 L2169.6,2023.5 L2172.4,2023.5 L2175.2,2023.5 L2177.9,2023.5 L2180.7,2023.5 L2183.5,2023.5 L2186.2,2023.5 L2189,2023.5 L2191.8,2023.5 L2194.6,2023.5 L2197.3,2023.5 L2200.1,2023.5 L2202.9,2023.5 L2205.6,2023.5 L2208.4,2023.5 L2211.2,2023.5 L2214,2023.5 L2216.7,2023.5 L2219.5,2023.5 L2222.3,2023.5 L2225,2023.5 L2227.8,2023.5 L2230.6,2023.5 L2233.3,2023.5 L2236.1,2023.5 L2238.9,2023.5 L2241.7,2023.5 L2244.4,2023.5 L2247.2,2023.5 L2250,2023.5 L2252.7,2023.5 L2255.5,2023.5 L2258.3,2023.5 L2261.1,2023.5 L2263.8,2023.5 L2266.6,2023.5 L2269.4,2023.5 L2272.1,2023.5 L2274.9,1976.7 L2277.7,2023.5 L2280.5,2023.5 L2283.2,2023.5 L2286,2023.5 L2288.8,2023.5 L2291.5,2023.5 L2294.3,2023.5 L2297.1,2023.5 L2299.9,2023.5 L2302.6,2023.5 L2305.4,2023.5 L2308.2,2023.5 L2310.9,2023.5 L2313.7,2023.5 L2316.5,2023.5 L2319.3,2023.5 L2322,2023.5 L2324.8,2023.5 L2327.6,2023.5 L2330.3,2023.5 L2333.1,2023.5 L2335.9,2023.5 L2338.7,2023.5 L2341.4,2023.5 L2344.2,2023.5 L2347,2023.5 L2349.7,2023.5 L2352.5,2023.5 L2355.3,2023.5 L2358.1,2023.5 L2360.8,2023.5 L2363.6,2023.5 L2366.4,2023.5 L2369.1,2023.5 L2371.9,2023.5 L2374.7,2023.5 L2377.5,2023.5 L2380.2,2023.5 L2383,2023.5 L2385.8,2023.5 L2388.5,2023.5 L2391.3,2023.5 L2394.1,2023.5 L2396.9,2023.5 L2399.6,2023.5 L2402.4,2023.5 L2405.2,2023.5 L2407.9,2023.5 L2410.7,2023.5 L2413.5,2023.5 L2416.2,2023.5 L2419,2023.5 L2421.8,2023.5 L2424.6,2023.5 L2427.3,2023.5 L2430.1,2023.5 L2432.9,2023.5 L2435.6,2023.5 L2438.4,2023.5 L2441.2,2023.5 L2444,2023.5 L2446.7,2023.5 L2449.5,2023.5 L2452.3,2023.5 L2455,2023.5 L2457.8,2023.5 L2460.6,2023.5 L2463.4,2023.5 L2466.1,2023.5 L2468.9,2023.5 L2471.7,2023.5 L2474.4,2023.5 L2477.2,2023.5 L2480,2023.5 L2482.8,2023.5 L2485.5,2023.5 L2488.3,2023.5 L2491.1,2023.5 L2493.8,2023.5 L2496.6,2023.5 L2499.4,2023.5 L2502.2,2023.5 L2504.9,2023.5 L2507.7,2023.5 L2510.5,2023.5 L2513.2,2023.5 L2516,2023.5 L2518.8,2023.5 L2521.6,2023.5 L2524.3,2023.5 L2527.1,2023.5 L2529.9,2023.5 L2532.6,2023.5 L2535.4,2023.5 L2538.2,2023.5 L2541,2023.5 L2543.7,2023.5 L2546.5,2023.5 L2549.3,2023.5 L2552,2023.5 L2554.8,2023.5 L2557.6,2023.5 L2560.4,2023.5 L2563.1,2023.5 L2565.9,2023.5 L2568.7,2023.5 L2571.4,2023.5 L2574.2,2023.5 L2577,2023.5 L2579.7,2023.5 L2582.5,2023.5 L2585.3,2023.5 L2588.1,2023.5 L2590.8,2023.5 L2593.6,2023.5 L2596.4,2023.5 L2599.1,2023.5 L2601.9,2023.5 L2604.7,2023.5 L2607.5,2023.5 L2610.2,2023.5 L2613,2023.5 L2615.8,2023.5 L2618.5,2023.5 L2621.3,2023.5 L2624.1,2023.5 L2626.9,2023.5 L2629.6,2023.5 L2632.4,2023.5 L2635.2,2023.5 L2637.9,2023.5 L2640.7,2023.5 L2643.5,2023.5 L2646.3,2023.5 L2649,2023.5 L2651.8,2023.5 L2654.6,2023.5 L2657.3,2023.5 L2660.1,2023.5 L2662.9,2023.5 L2665.7,2023.5 L2668.4,2023.5 L2671.2,2023.5 L2674,2023.5 L2676.7,2023.5 L2679.5,2023.5 L2682.3,2023.5 L2685.1,2023.5 L2687.8,2023.5 L2690.6,2023.5 L2693.4,2023.5 L2696.1,2023.5 L2698.9,2023.5 L2701.7,2023.5 L2704.5,2023.5 L2707.2,2023.5 L2710,2023.5 L2712.8,2023.5 L2715.5,2023.5 L2718.3,2023.5 L2721.1,2023.5 L2723.9,2023.5 L2726.6,2023.5 L2729.4,2023.5 L2732.2,2023.5 L2734.9,2023.5 L2737.7,2023.5 L2740.5,2023.5 L2743.3,2023.5 L2746,2023.5 L2748.8,2023.5 L2751.6,2023.5 L2754.3,2023.5 L2757.1,2023.5 L2759.9,2023.5 L2762.6,2023.5 L2765.4,2023.5 L2768.2,2023.5 L2771,2023.5 L2773.7,2023.5 L2776.5,2023.5 L2779.3,2023.5 L2782,2023.5 L2784.8,2023.5 L2787.6,2023.5 L2790.4,2023.5 L2793.1,2023.5 L2795.9,2023.5 L2798.7,2023.5 L2801.4,2023.5 L2804.2,2023.5 L2807,2023.5 L2809.8,2023.5 L2812.5,2023.5 L2815.3,2023.5 L2818.1,2023.5 L2820.8,2023.5 L2823.6,2023.5 L2826.4,2023.5 L2829.2,2023.5 L2831.9,2023.5 L2834.7,2023.5 L2837.5,2023.5 L2840.2,2023.5 L2843,2023.5 L2845.8,2023.5 L2848.6,2023.5 L2851.3,2023.5 L2854.1,2023.5 L2856.9,2023.5 L2859.6,2023.5 L2862.4,2023.5 L2865.2,2023.5 L2868,2023.5 L2870.7,2023.5 L2873.5,2023.5 L2876.3,2023.5 L2879,2023.5 L2881.8,2023.5 L2884.6,2023.5 L2887.4,2023.5 L2890.1,2023.5 L2892.9,2023.5 L2895.7,2023.5 L2898.4,2023.5 L2901.2,2023.5 L2904,2023.5 L2906.8,2023.5 L2909.5,2023.5 L2912.3,2023.5 L2915.1,2023.5 L2917.8,2023.5 L2920.6,2023.5 L2923.4,2023.5 L2926.1,2023.5 L2928.9,2023.5 L2931.7,2023.5 L2934.5,2023.5 L2937.2,2023.5 L2940,2023.5 L2942.8,2023.5 L2945.5,2023.5 L2948.3,2023.5 L2951.1,2023.5 L2953.9,2023.5 L2956.6,2023.5 L2959.4,2023.5 L2962.2,2023.5 L2964.9,2023.5 L2967.7,2023.5 L2970.5,2023.5 L2973.3,2023.5 L2976,2023.5 L2978.8,2023.5 L2981.6,2023.5 L2984.3,2023.5 L2987.1,2023.5 L2989.9,2023.5 L2992.7,2023.5 L2995.4,2023.5 L2998.2,2023.5 L3001,2023.5 L3003.7,2023.5 L3006.5,2023.5 L3009.3,2023.5 L3012.1,2023.5 L3014.8,2023.5 L3017.6,2023.5 L3020.4,2023.5 L3023.1,2023.5 L3025.9,2023.5 L3028.7,2023.5 L3031.5,2023.5 L3034.2,2023.5 L3037,2023.5 L3039.8,2023.5 L3042.5,2023.5 L3045.3,2023.5 L3048.1,2023.5 L3050.9,2023.5 L3053.6,2023.5 L3056.4,2023.5 L3059.2,2023.5 L3061.9,2023.5 L3064.7,2023.5 L3067.5,2023.5 L3070.3,2023.5 L3073,2023.5 L3075.8,2023.5 L3078.6,2023.5 L3081.3,2023.5 L3084.1,2023.5 L3086.9,2023.5 L3089.7,2023.5 L3092.4,2023.5 L3095.2,2023.5 L3098,2023.5 L3100.7,2023.5 L3103.5,2023.5 L3106.3,2023.5 L3109,2023.5 L3111.8,2023.5 L3114.6,2023.5 L3117.4,2023.5 L3120.1,2023.5 L3122.9,2023.5 L3125.7,2023.5 L3128.4,2023.5 L3131.2,2023.5 L3134,2023.5 L3136.8,2023.5 L3139.5,2023.5 L3142.3,2023.5 L3145.1,2023.5 L3147.8,2023.5 L3150.6,2023.5 L3153.4,2023.5 L3156.2,2023.5 L3158.9,2023.5 L3161.7,2023.5 L3164.5,2023.5 L3167.2,2023.5 L3170,2023.5 L3172.8,2023.5 L3175.6,2023.5 L3178.3,2023.5 L3181.1,2023.5 L3183.9,2023.5 L3186.6,2023.5 L3189.4,2023.5 L3192.2,2023.5 L3195,1976.7 L3197.7,2023.5 L3200.5,2023.5 L3203.3,2023.5 L3206,2023.5 L3208.8,2023.5 L3211.6,2023.5 L3214.4,2023.5 L3217.1,2023.5 L3219.9,2023.5 L3222.7,2023.5 L3225.4,2023.5 L3228.2,2023.5 L3231,2023.5 L3233.8,2023.5 L3236.5,2023.5 L3239.3,2023.5 L3242.1,2023.5 L3244.8,2023.5 L3247.6,2023.5 L3250.4,2023.5 L3253.2,2023.5 L3255.9,2023.5 L3258.7,2023.5 L3261.5,2023.5 L3264.2,2023.5 L3267,2023.5 L3269.8,2023.5 L3272.5,2023.5 L3275.3,2023.5 L3278.1,2023.5 L3280.9,2023.5 L3283.6,2023.5 L3286.4,2023.5 L3289.2,2023.5 L3291.9,2023.5 L3294.7,2023.5 L3297.5,2023.5 L3300.3,2023.5 L3303,2023.5 L3305.8,2023.5 L3308.6,2023.5 L3311.3,2023.5" fill="none" stroke="#2ca02c" stroke-width="2.9" stroke-linejoin="round"/>
<line x1="409.9" y1="2061.9" x2="3311.3" y2="2061.9" stroke="#ff7f0e" stroke-width="2.9"/>
<path d="M409.9,2130.9 L412.7,2125.4 L415.4,2123.4 L418.2,2129.2 L421,2132.5 L423.8,2128.2 L426.5,2126.5 L429.3,2124.5 L432.1,2133.2 L434.8,2133.8 L437.6,2126.8 L440.4,2128 L443.2,2124.4 L445.9,2126.7 L448.7,2130.9 L451.5,2131.8 L454.2,2121.8 L457,2132.5 L459.8,2134.6 L462.6,2136.1 L465.3,2131.9 L468.1,2132.1 L470.9,2134.1 L473.6,2133.4 L476.4,2132.5 L479.2,2131.2 L482,2130.1 L484.7,2133.6 L487.5,2141.1 L490.3,2132.4 L493,2140.4 L495.8,2136.1 L498.6,2141.1 L501.3,2136.1 L504.1,2139.2 L506.9,2135.9 L509.7,2124.9 L512.4,2137.4 L515.2,2134.5 L518,2142.6 L520.7,2139.6 L523.5,2136.2 L526.3,2138.9 L529.1,2137.3 L531.8,2138.2 L534.6,2142.3 L537.4,2136.5 L540.1,2141.6 L542.9,2131.8 L545.7,2140.4 L548.5,2136.1 L551.2,2138.6 L554,2135.1 L556.8,2140.8 L559.5,2135 L562.3,2139.1 L565.1,2134 L567.9,2136.3 L570.6,2138.1 L573.4,2141.4 L576.2,2135.8 L578.9,2136.9 L581.7,2132.6 L584.5,2140 L587.3,2136.6 L590,2136.8 L592.8,2137.6 L595.6,2137.8 L598.3,2137.9 L601.1,2140.8 L603.9,2142.3 L606.7,2140 L609.4,2136.5 L612.2,2133.1 L615,2135 L617.7,2134.8 L620.5,2135.8 L623.3,2136.1 L626.1,2137.9 L628.8,2135.8 L631.6,2132.1 L634.4,2139.8 L637.1,2141.1 L639.9,2131.5 L642.7,2137.7 L645.5,2135.1 L648.2,2135.4 L651,2142.7 L653.8,2129.7 L656.5,2132.1 L659.3,2138 L662.1,2135.9 L664.9,2138.1 L667.6,2141.8 L670.4,2139 L673.2,2137.2 L675.9,2134.5 L678.7,2136 L681.5,2138.4 L684.2,2133.7 L687,2141.4 L689.8,2135.7 L692.6,2134.6 L695.3,2139.7 L698.1,2145.1 L700.9,2141.9 L703.6,2137.7 L706.4,2136.7 L709.2,2133 L712,2142.3 L714.7,2138.6 L717.5,2136.2 L720.3,2139.2 L723,2147.2 L725.8,2135.7 L728.6,2130.2 L731.4,2134.9 L734.1,2141.9 L736.9,2140.1 L739.7,2137.8 L742.4,2129.5 L745.2,2136.4 L748,2138.2 L750.8,2132.9 L753.5,2138.9 L756.3,2131.8 L759.1,2141.1 L761.8,2140.3 L764.6,2136 L767.4,2133.4 L770.2,2136.2 L772.9,2137.5 L775.7,2145.2 L778.5,2141.2 L781.2,2140.8 L784,2140.5 L786.8,2136.5 L789.6,2139.8 L792.3,2135.7 L795.1,2138.3 L797.9,2139.8 L800.6,2138.2 L803.4,2137 L806.2,2135.5 L809,2140.3 L811.7,2139.4 L814.5,2143.6 L817.3,2132.8 L820,2133.3 L822.8,2139.3 L825.6,2140.3 L828.4,2126.1 L831.1,2118.3 L833.9,2118 L836.7,2107 L839.4,2117.8 L842.2,2123.5 L845,2132.8 L847.7,2111.3 L850.5,2118.1 L853.3,2128.2 L856.1,2118.2 L858.8,2128.2 L861.6,2099.8 L864.4,2113 L867.1,2116 L869.9,2120.2 L872.7,2131.1 L875.5,2119.9 L878.2,2127.9 L881,2115.9 L883.8,2131.1 L886.5,2124.3 L889.3,2112.4 L892.1,2110 L894.9,2125.8 L897.6,2127.8 L900.4,2114.3 L903.2,2114.4 L905.9,2124.7 L908.7,2123.1 L911.5,2123.1 L914.3,2125.8 L917,2123 L919.8,2112.2 L922.6,2115.4 L925.3,2107.7 L928.1,2119.7 L930.9,2120 L933.7,2124.7 L936.4,2119.9 L939.2,2126.5 L942,2129.1 L944.7,2115.3 L947.5,2111.2 L950.3,2114.5 L953.1,2111.8 L955.8,2117.8 L958.6,2123.2 L961.4,2118.7 L964.1,2121.3 L966.9,2125.4 L969.7,2128.6 L972.5,2127.5 L975.2,2119.2 L978,2118.4 L980.8,2121.8 L983.5,2111.2 L986.3,2118.2 L989.1,2115.9 L991.9,2112.4 L994.6,2123.8 L997.4,2130.2 L1000.2,2115 L1002.9,2123 L1005.7,2111.9 L1008.5,2117.3 L1011.3,2113.6 L1014,2114.9 L1016.8,2130.8 L1019.6,2115.2 L1022.3,2123 L1025.1,2123.4 L1027.9,2121.6 L1030.6,2114.9 L1033.4,2114.3 L1036.2,2113.6 L1039,2128.5 L1041.7,2122.5 L1044.5,2132.4 L1047.3,2119.8 L1050,2115.9 L1052.8,2123.5 L1055.6,2117.8 L1058.4,2117.9 L1061.1,2113.6 L1063.9,2123.8 L1066.7,2123.8 L1069.4,2123.5 L1072.2,2109.4 L1075,2113.1 L1077.8,2119.9 L1080.5,2117.9 L1083.3,2118.6 L1086.1,2118.1 L1088.8,2120.4 L1091.6,2121.1 L1094.4,2126.2 L1097.2,2122.8 L1099.9,2110 L1102.7,2116.2 L1105.5,2118.8 L1108.2,2120.4 L1111,2118.9 L1113.8,2117.2 L1116.6,2122.8 L1119.3,2118.1 L1122.1,2117.9 L1124.9,2123.4 L1127.6,2123.6 L1130.4,2124.8 L1133.2,2125.1 L1136,2114.2 L1138.7,2132.4 L1141.5,2120.7 L1144.3,2122.6 L1147,2122.7 L1149.8,2118.7 L1152.6,2112.9 L1155.4,2118.8 L1158.1,2120 L1160.9,2122.6 L1163.7,2119.9 L1166.4,2114.1 L1169.2,2121.4 L1172,2125.6 L1174.8,2126.3 L1177.5,2125.4 L1180.3,2127 L1183.1,2113.1 L1185.8,2117.2 L1188.6,2120.5 L1191.4,2111.1 L1194.1,2122.9 L1196.9,2115 L1199.7,2114.7 L1202.5,2127.8 L1205.2,2127.9 L1208,2124.4 L1210.8,2114.1 L1213.5,2112 L1216.3,2126 L1219.1,2113.4 L1221.9,2121.3 L1224.6,2121.4 L1227.4,2122.3 L1230.2,2121 L1232.9,2129.3 L1235.7,2124.8 L1238.5,2126.1 L1241.3,2116.5 L1244,2107.5 L1246.8,2104 L1249.6,2121.1 L1252.3,2128.8 L1255.1,2121.5 L1257.9,2124.4 L1260.7,2108.1 L1263.4,2116 L1266.2,2123.3 L1269,2114 L1271.7,2116.2 L1274.5,2128.3 L1277.3,2122.2 L1280.1,2120.5 L1282.8,2119.1 L1285.6,2118.5 L1288.4,2121.1 L1291.1,2118.1 L1293.9,2122.5 L1296.7,2124.2 L1299.5,2110.7 L1302.2,2117.2 L1305,2116.8 L1307.8,2128.1 L1310.5,2120.1 L1313.3,2114.6 L1316.1,2126.4 L1318.9,2113.1 L1321.6,2121.4 L1324.4,2117 L1327.2,2119.9 L1329.9,2118 L1332.7,2112.5 L1335.5,2121.5 L1338.3,2110.5 L1341,2123.6 L1343.8,2124.4 L1346.6,2115.2 L1349.3,2125.1 L1352.1,2121.3 L1354.9,2114.1 L1357.7,2112.4 L1360.4,2129.1 L1363.2,2116.4 L1366,2108.7 L1368.7,2112.5 L1371.5,2120.5 L1374.3,2122.6 L1377,2120.9 L1379.8,2125.6 L1382.6,2120.7 L1385.4,2120.2 L1388.1,2120 L1390.9,2112.6 L1393.7,2120.5 L1396.4,2127.3 L1399.2,2113.3 L1402,2125.2 L1404.8,2121.7 L1407.5,2119.9 L1410.3,2121.1 L1413.1,2124.8 L1415.8,2120.6 L1418.6,2107 L1421.4,2122.6 L1424.2,2120 L1426.9,2112.9 L1429.7,2115 L1432.5,2114.9 L1435.2,2114.4 L1438,2130.2 L1440.8,2124 L1443.6,2118.5 L1446.3,2116.4 L1449.1,2112 L1451.9,2116.6 L1454.6,2120.5 L1457.4,2119 L1460.2,2120.4 L1463,2117.8 L1465.7,2115.4 L1468.5,2121.1 L1471.3,2123.7 L1474,2124 L1476.8,2113.1 L1479.6,2112.1 L1482.4,2113.7 L1485.1,2114.4 L1487.9,2114.6 L1490.7,2119.2 L1493.4,2115.5 L1496.2,2125.1 L1499,2120.3 L1501.8,2123.3 L1504.5,2115.1 L1507.3,2122.4 L1510.1,2119.8 L1512.8,2117 L1515.6,2111.6 L1518.4,2123.6 L1521.2,2124.4 L1523.9,2114.6 L1526.7,2125.4 L1529.5,2116.7 L1532.2,2122.4 L1535,2119.8 L1537.8,2129.4 L1540.5,2115.2 L1543.3,2122 L1546.1,2124.2 L1548.9,2107.6 L1551.6,2115.2 L1554.4,2099.8 L1557.2,2116.9 L1559.9,2121.1 L1562.7,2118.6 L1565.5,2110.2 L1568.3,2119.4 L1571,2116.7 L1573.8,2116.3 L1576.6,2124.3 L1579.3,2118.5 L1582.1,2122 L1584.9,2126.1 L1587.7,2114.3 L1590.4,2115.5 L1593.2,2118.8 L1596,2124.3 L1598.7,2130.4 L1601.5,2116.5 L1604.3,2119.7 L1607.1,2128.6 L1609.8,2119.5 L1612.6,2127.7 L1615.4,2119.3 L1618.1,2118.4 L1620.9,2117.2 L1623.7,2118 L1626.5,2118.2 L1629.2,2125.6 L1632,2121.3 L1634.8,2122.1 L1637.5,2120.5 L1640.3,2117.7 L1643.1,2115.7 L1645.9,2110.1 L1648.6,2133.5 L1651.4,2117 L1654.2,2120.3 L1656.9,2106.5 L1659.7,2114 L1662.5,2128.4 L1665.3,2117 L1668,2122.1 L1670.8,2113.7 L1673.6,2125.1 L1676.3,2119.8 L1679.1,2119.9 L1681.9,2119.7 L1684.7,2122.5 L1687.4,2129.5 L1690.2,2116.6 L1693,2113.6 L1695.7,2119.6 L1698.5,2124.9 L1701.3,2118.1 L1704.1,2116 L1706.8,2120.2 L1709.6,2119.3 L1712.4,2111.3 L1715.1,2125.4 L1717.9,2122.3 L1720.7,2129.8 L1723.4,2123.1 L1726.2,2123.3 L1729,2124.6 L1731.8,2123.1 L1734.5,2109.2 L1737.3,2120.3 L1740.1,2119.8 L1742.8,2106.9 L1745.6,2119.5 L1748.4,2128.9 L1751.2,2117 L1753.9,2124.4 L1756.7,2110.1 L1759.5,2126.1 L1762.2,2122.4 L1765,2128.2 L1767.8,2118.7 L1770.6,2124.9 L1773.3,2119.6 L1776.1,2121.3 L1778.9,2122.6 L1781.6,2113.9 L1784.4,2114 L1787.2,2118.9 L1790,2124.2 L1792.7,2125.2 L1795.5,2117.7 L1798.3,2105.9 L1801,2121.7 L1803.8,2123.6 L1806.6,2123.1 L1809.4,2125.3 L1812.1,2124.6 L1814.9,2120.3 L1817.7,2111.2 L1820.4,2119.2 L1823.2,2122 L1826,2128.2 L1828.8,2118 L1831.5,2119.3 L1834.3,2126 L1837.1,2125.3 L1839.8,2119.4 L1842.6,2113.6 L1845.4,2115.7 L1848.2,2118.1 L1850.9,2121 L1853.7,2117.4 L1856.5,2119.3 L1859.2,2107.1 L1862,2125.5 L1864.8,2121.3 L1867.6,2112.1 L1870.3,2120.7 L1873.1,2111.3 L1875.9,2119.4 L1878.6,2118.4 L1881.4,2121.3 L1884.2,2126.9 L1886.9,2124.6 L1889.7,2106.8 L1892.5,2115.6 L1895.3,2115.8 L1898,2113.9 L1900.8,2116 L1903.6,2113.5 L1906.3,2120.7 L1909.1,2120.4 L1911.9,2113.7 L1914.7,2121.2 L1917.4,2126.6 L1920.2,2120.5 L1923,2122.2 L1925.7,2115.8 L1928.5,2123.2 L1931.3,2125.1 L1934.1,2121.1 L1936.8,2110.5 L1939.6,2119.5 L1942.4,2118.3 L1945.1,2119.1 L1947.9,2117.6 L1950.7,2114 L1953.5,2111.4 L1956.2,2128.4 L1959,2111.6 L1961.8,2119.2 L1964.5,2121 L1967.3,2105.8 L1970.1,2120.1 L1972.9,2108.4 L1975.6,2113.8 L1978.4,2124.9 L1981.2,2116.5 L1983.9,2115.1 L1986.7,2119.9 L1989.5,2132.2 L1992.3,2121.1 L1995,2120.3 L1997.8,2125.4 L2000.6,2109 L2003.3,2120.6 L2006.1,2121.4 L2008.9,2120.9 L2011.7,2123.6 L2014.4,2123.5 L2017.2,2118.7 L2020,2117.5 L2022.7,2122 L2025.5,2119.7 L2028.3,2127 L2031.1,2116.3 L2033.8,2123.4 L2036.6,2118 L2039.4,2124.3 L2042.1,2122.1 L2044.9,2118 L2047.7,2126 L2050.5,2105.4 L2053.2,2119.4 L2056,2119.6 L2058.8,2123.3 L2061.5,2110.3 L2064.3,2111.5 L2067.1,2117.5 L2069.8,2126.8 L2072.6,2122 L2075.4,2115.8 L2078.2,2122.1 L2080.9,2125.8 L2083.7,2125.8 L2086.5,2123.5 L2089.2,2119.1 L2092,2122.8 L2094.8,2119.1 L2097.6,2103.6 L2100.3,2109.3 L2103.1,2125 L2105.9,2117.3 L2108.6,2118.7 L2111.4,2120 L2114.2,2113.4 L2117,2121.1 L2119.7,2121 L2122.5,2121.3 L2125.3,2119.8 L2128,2112 L2130.8,2114.9 L2133.6,2126.7 L2136.4,2121.7 L2139.1,2123.6 L2141.9,2114.6 L2144.7,2117.9 L2147.4,2114.2 L2150.2,2119.5 L2153,2129.8 L2155.8,2116.7 L2158.5,2117.9 L2161.3,2116.4 L2164.1,2126.5 L2166.8,2118.7 L2169.6,2123 L2172.4,2123 L2175.2,2117.2 L2177.9,2117.2 L2180.7,2124.2 L2183.5,2128.7 L2186.2,2133 L2189,2122.4 L2191.8,2112.9 L2194.6,2119.5 L2197.3,2131.8 L2200.1,2124 L2202.9,2116.8 L2205.6,2109.9 L2208.4,2112.7 L2211.2,2117.2 L2214,2118.1 L2216.7,2125.1 L2219.5,2121.7 L2222.3,2121.1 L2225,2123.5 L2227.8,2118.8 L2230.6,2121.4 L2233.3,2117.3 L2236.1,2111.2 L2238.9,2115.1 L2241.7,2116.9 L2244.4,2120.5 L2247.2,2127.7 L2250,2119.8 L2252.7,2116.2 L2255.5,2124.8 L2258.3,2112.2 L2261.1,2121.1 L2263.8,2117.1 L2266.6,2121 L2269.4,2126.2 L2272.1,2107.7 L2274.9,2125.7 L2277.7,2114.1 L2280.5,2122.3 L2283.2,2117.6 L2286,2123.7 L2288.8,2121.5 L2291.5,2114.1 L2294.3,2108.3 L2297.1,2123.9 L2299.9,2119.1 L2302.6,2113.9 L2305.4,2122.7 L2308.2,2115.2 L2310.9,2123.6 L2313.7,2115.8 L2316.5,2116.8 L2319.3,2112.4 L2322,2117.2 L2324.8,2125.9 L2327.6,2115.5 L2330.3,2125.3 L2333.1,2115 L2335.9,2110.8 L2338.7,2115.9 L2341.4,2122.3 L2344.2,2112.5 L2347,2118.3 L2349.7,2126.1 L2352.5,2121.2 L2355.3,2111.3 L2358.1,2120.9 L2360.8,2118.5 L2363.6,2121.1 L2366.4,2128.6 L2369.1,2122 L2371.9,2117.2 L2374.7,2118 L2377.5,2120.2 L2380.2,2131.1 L2383,2112.4 L2385.8,2115.2 L2388.5,2113.5 L2391.3,2111.9 L2394.1,2121.7 L2396.9,2122.6 L2399.6,2117.4 L2402.4,2109.9 L2405.2,2128.6 L2407.9,2120.5 L2410.7,2123.2 L2413.5,2116.1 L2416.2,2111 L2419,2120.9 L2421.8,2126.1 L2424.6,2118.9 L2427.3,2120.8 L2430.1,2127.8 L2432.9,2114.3 L2435.6,2122.1 L2438.4,2115.4 L2441.2,2126.5 L2444,2113.1 L2446.7,2127.2 L2449.5,2113.3 L2452.3,2129.3 L2455,2111.5 L2457.8,2121.3 L2460.6,2127.9 L2463.4,2120.5 L2466.1,2117.3 L2468.9,2124.7 L2471.7,2122 L2474.4,2117.7 L2477.2,2120.1 L2480,2136.3 L2482.8,2121.6 L2485.5,2116.8 L2488.3,2117.5 L2491.1,2113.6 L2493.8,2123.1 L2496.6,2105 L2499.4,2114.7 L2502.2,2117.5 L2504.9,2113.1 L2507.7,2113.9 L2510.5,2118.6 L2513.2,2122.7 L2516,2113.5 L2518.8,2116.8 L2521.6,2129.8 L2524.3,2125.4 L2527.1,2116.6 L2529.9,2118.6 L2532.6,2117.6 L2535.4,2115.6 L2538.2,2118.4 L2541,2110.4 L2543.7,2122.5 L2546.5,2121.4 L2549.3,2117.4 L2552,2115 L2554.8,2114.8 L2557.6,2110.9 L2560.4,2121.9 L2563.1,2112.7 L2565.9,2116.6 L2568.7,2125 L2571.4,2120 L2574.2,2107.6 L2577,2114.8 L2579.7,2121.8 L2582.5,2132.6 L2585.3,2123.3 L2588.1,2123.1 L2590.8,2118.8 L2593.6,2106.3 L2596.4,2115 L2599.1,2117.5 L2601.9,2124.4 L2604.7,2125.8 L2607.5,2120.4 L2610.2,2121.8 L2613,2102.4 L2615.8,2121.5 L2618.5,2122.6 L2621.3,2112.9 L2624.1,2118.8 L2626.9,2126.1 L2629.6,2112 L2632.4,2120.9 L2635.2,2126.6 L2637.9,2117.4 L2640.7,2116.5 L2643.5,2121.1 L2646.3,2115.3 L2649,2114.6 L2651.8,2124.1 L2654.6,2130.7 L2657.3,2132.5 L2660.1,2119.9 L2662.9,2112.3 L2665.7,2113.6 L2668.4,2111.4 L2671.2,2108.8 L2674,2119.1 L2676.7,2113.3 L2679.5,2127.7 L2682.3,2115.4 L2685.1,2117 L2687.8,2119.7 L2690.6,2121.7 L2693.4,2125.4 L2696.1,2118.4 L2698.9,2112.1 L2701.7,2121.2 L2704.5,2116.2 L2707.2,2122.9 L2710,2117.8 L2712.8,2124.8 L2715.5,2117.1 L2718.3,2120.4 L2721.1,2117.4 L2723.9,2122.6 L2726.6,2125.8 L2729.4,2121 L2732.2,2113.4 L2734.9,2110.4 L2737.7,2121 L2740.5,2114.7 L2743.3,2115 L2746,2117 L2748.8,2127.9 L2751.6,2117.4 L2754.3,2124.6 L2757.1,2112.6 L2759.9,2114.8 L2762.6,2115.8 L2765.4,2133.3 L2768.2,2115.7 L2771,2115.3 L2773.7,2126.3 L2776.5,2113.8 L2779.3,2118.8 L2782,2120.2 L2784.8,2123.2 L2787.6,2124.9 L2790.4,2121.6 L2793.1,2102 L2795.9,2118.1 L2798.7,2118 L2801.4,2122.8 L2804.2,2122.6 L2807,2122.3 L2809.8,2124.1 L2812.5,2114.3 L2815.3,2120.7 L2818.1,2114.4 L2820.8,2125.6 L2823.6,2114 L2826.4,2119.4 L2829.2,2115.5 L2831.9,2119.8 L2834.7,2124.2 L2837.5,2112.4 L2840.2,2121.6 L2843,2120 L2845.8,2124.1 L2848.6,2118.1 L2851.3,2121.4 L2854.1,2117.6 L2856.9,2117.3 L2859.6,2123 L2862.4,2127.1 L2865.2,2116.8 L2868,2114.1 L2870.7,2115.3 L2873.5,2125.6 L2876.3,2115.8 L2879,2117.1 L2881.8,2117.6 L2884.6,2116.8 L2887.4,2121 L2890.1,2118 L2892.9,2114 L2895.7,2122 L2898.4,2127.2 L2901.2,2119.8 L2904,2118.1 L2906.8,2129.5 L2909.5,2123 L2912.3,2115.9 L2915.1,2120 L2917.8,2118.7 L2920.6,2126.2 L2923.4,2114.1 L2926.1,2109.4 L2928.9,2120.3 L2931.7,2123.3 L2934.5,2125.7 L2937.2,2114.2 L2940,2118.6 L2942.8,2123.6 L2945.5,2112.4 L2948.3,2114.9 L2951.1,2115.8 L2953.9,2129 L2956.6,2119.8 L2959.4,2115.7 L2962.2,2126 L2964.9,2114 L2967.7,2111.2 L2970.5,2113.4 L2973.3,2123.2 L2976,2123.1 L2978.8,2113.9 L2981.6,2113.7 L2984.3,2112.3 L2987.1,2112.5 L2989.9,2119.8 L2992.7,2121.5 L2995.4,2129.5 L2998.2,2114.8 L3001,2106.5 L3003.7,2121.8 L3006.5,2121.9 L3009.3,2115.6 L3012.1,2117.1 L3014.8,2126.8 L3017.6,2123.2 L3020.4,2125.3 L3023.1,2107.9 L3025.9,2123.2 L3028.7,2114.4 L3031.5,2108.5 L3034.2,2108.6 L3037,2111.2 L3039.8,2110.1 L3042.5,2126.1 L3045.3,2121.1 L3048.1,2123.3 L3050.9,2120.8 L3053.6,2104.6 L3056.4,2128.6 L3059.2,2116.1 L3061.9,2126.1 L3064.7,2111.7 L3067.5,2112 L3070.3,2122.1 L3073,2107.7 L3075.8,2118.8 L3078.6,2111.9 L3081.3,2117.5 L3084.1,2122.3 L3086.9,2121.3 L3089.7,2119.9 L3092.4,2115.8 L3095.2,2118.5 L3098,2106 L3100.7,2120.3 L3103.5,2121.8 L3106.3,2123.2 L3109,2123.5 L3111.8,2127.2 L3114.6,2124.7 L3117.4,2114.1 L3120.1,2118.9 L3122.9,2120.2 L3125.7,2117.2 L3128.4,2113.2 L3131.2,2115.8 L3134,2114.9 L3136.8,2122.3 L3139.5,2120.7 L3142.3,2123.5 L3145.1,2119.7 L3147.8,2123.8 L3150.6,2121.3 L3153.4,2120.2 L3156.2,2120.4 L3158.9,2120.7 L3161.7,2121.9 L3164.5,2111.9 L3167.2,2121.1 L3170,2124.8 L3172.8,2118.1 L3175.6,2125.3 L3178.3,2125.2 L3181.1,2118.7 L3183.9,2128.5 L3186.6,2137.2 L3189.4,2117.6 L3192.2,2113.4 L3195,2128.5 L3197.7,2124.2 L3200.5,2116 L3203.3,2130.3 L3206,2124.1 L3208.8,2125.9 L3211.6,2120.3 L3214.4,2130.2 L3217.1,2114.2 L3219.9,2120 L3222.7,2117.5 L3225.4,2121 L3228.2,2131 L3231,2120 L3233.8,2126.7 L3236.5,2119.1 L3239.3,2124 L3242.1,2121 L3244.8,2120.4 L3247.6,2114.9 L3250.4,2114.9 L3253.2,2124.8 L3255.9,2119.3 L3258.7,2111.1 L3261.5,2116.4 L3264.2,2123.3 L3267,2119.9 L3269.8,2121.1 L3272.5,2114 L3275.3,2119 L3278.1,2117.1 L3280.9,2106.9 L3283.6,2126.9 L3286.4,2124.9 L3289.2,2128.9 L3291.9,2128.1 L3294.7,2114.4 L3297.5,2117.6 L3300.3,2110.1 L3303,2130.2 L3305.8,2124.1 L3308.6,2111.1 L3311.3,2099.8" fill="none" stroke="#e377c2" stroke-width="2.9" stroke-linejoin="round"/>
<path d="M409.9,2208 L412.7,2208 L415.4,2208 L418.2,2208 L421,2208 L423.8,2208 L426.5,2208 L429.3,2208 L432.1,2208 L434.8,2208 L437.6,2208 L440.4,2208 L443.2,2208 L445.9,2208 L448.7,2208 L451.5,2208 L454.2,2208 L457,2208 L459.8,2208 L462.6,2208 L465.3,2208 L468.1,2208 L470.9,2208 L473.6,2208 L476.4,2208 L479.2,2208 L482,2208 L484.7,2208 L487.5,2208 L490.3,2208 L493,2208 L495.8,2208 L498.6,2208 L501.3,2208 L504.1,2208 L506.9,2208 L509.7,2208 L512.4,2208 L515.2,2208 L518,2208 L520.7,2208 L523.5,2208 L526.3,2208 L529.1,2208 L531.8,2208 L534.6,2208 L537.4,2208 L540.1,2208 L542.9,2208 L545.7,2208 L548.5,2208 L551.2,2208 L554,2208 L556.8,2208 L559.5,2208 L562.3,2208 L565.1,2208 L567.9,2208 L570.6,2208 L573.4,2208 L576.2,2208 L578.9,2208 L581.7,2208 L584.5,2208 L587.3,2208 L590,2208 L592.8,2208 L595.6,2208 L598.3,2208 L601.1,2208 L603.9,2208 L606.7,2208 L609.4,2208 L612.2,2208 L615,2208 L617.7,2208 L620.5,2208 L623.3,2208 L626.1,2208 L628.8,2208 L631.6,2208 L634.4,2208 L637.1,2208 L639.9,2208 L642.7,2208 L645.5,2208 L648.2,2208 L651,2208 L653.8,2208 L656.5,2208 L659.3,2208 L662.1,2208 L664.9,2208 L667.6,2208 L670.4,2208 L673.2,2208 L675.9,2208 L678.7,2208 L681.5,2208 L684.2,2208 L687,2208 L689.8,2208 L692.6,2208 L695.3,2208 L698.1,2208 L700.9,2208 L703.6,2208 L706.4,2208 L709.2,2208 L712,2208 L714.7,2208 L717.5,2208 L720.3,2208 L723,2208 L725.8,2208 L728.6,2208 L731.4,2208 L734.1,2208 L736.9,2208 L739.7,2208 L742.4,2208 L745.2,2208 L748,2208 L750.8,2208 L753.5,2208 L756.3,2208 L759.1,2208 L761.8,2208 L764.6,2208 L767.4,2208 L770.2,2208 L772.9,2208 L775.7,2208 L778.5,2208 L781.2,2208 L784,2208 L786.8,2208 L789.6,2208 L792.3,2208 L795.1,2208 L797.9,2208 L800.6,2208 L803.4,2208 L806.2,2208 L809,2208 L811.7,2208 L814.5,2208 L817.3,2208 L820,2208 L822.8,2208 L825.6,2208 L828.4,2208 L831.1,2208 L833.9,2208 L836.7,2208 L839.4,2208 L842.2,2208 L845,2208 L847.7,2208 L850.5,2208 L853.3,2208 L856.1,2208 L858.8,2208 L861.6,2160.4 L864.4,2208 L867.1,2208 L869.9,2208 L872.7,2208 L875.5,2208 L878.2,2208 L881,2208 L883.8,2208 L886.5,2208 L889.3,2208 L892.1,2208 L894.9,2208 L897.6,2208 L900.4,2208 L903.2,2208 L905.9,2208 L908.7,2208 L911.5,2208 L914.3,2208 L917,2208 L919.8,2208 L922.6,2208 L925.3,2208 L928.1,2208 L930.9,2208 L933.7,2208 L936.4,2208 L939.2,2208 L942,2208 L944.7,2208 L947.5,2208 L950.3,2208 L953.1,2208 L955.8,2208 L958.6,2208 L961.4,2208 L964.1,2208 L966.9,2208 L969.7,2208 L972.5,2208 L975.2,2208 L978,2208 L980.8,2208 L983.5,2208 L986.3,2208 L989.1,2208 L991.9,2208 L994.6,2208 L997.4,2208 L1000.2,2208 L1002.9,2208 L1005.7,2208 L1008.5,2208 L1011.3,2208 L1014,2208 L1016.8,2208 L1019.6,2208 L1022.3,2208 L1025.1,2208 L1027.9,2208 L1030.6,2208 L1033.4,2208 L1036.2,2208 L1039,2208 L1041.7,2208 L1044.5,2208 L1047.3,2208 L1050,2208 L1052.8,2208 L1055.6,2208 L1058.4,2208 L1061.1,2208 L1063.9,2208 L1066.7,2208 L1069.4,2160.4 L1072.2,2208 L1075,2208 L1077.8,2208 L1080.5,2208 L1083.3,2208 L1086.1,2208 L1088.8,2208 L1091.6,2208 L1094.4,2208 L1097.2,2208 L1099.9,2208 L1102.7,2208 L1105.5,2208 L1108.2,2208 L1111,2208 L1113.8,2208 L1116.6,2208 L1119.3,2208 L1122.1,2208 L1124.9,2208 L1127.6,2208 L1130.4,2208 L1133.2,2208 L1136,2208 L1138.7,2208 L1141.5,2208 L1144.3,2208 L1147,2208 L1149.8,2208 L1152.6,2208 L1155.4,2208 L1158.1,2208 L1160.9,2208 L1163.7,2208 L1166.4,2208 L1169.2,2208 L1172,2208 L1174.8,2208 L1177.5,2208 L1180.3,2208 L1183.1,2208 L1185.8,2208 L1188.6,2208 L1191.4,2208 L1194.1,2208 L1196.9,2208 L1199.7,2208 L1202.5,2208 L1205.2,2208 L1208,2208 L1210.8,2208 L1213.5,2208 L1216.3,2208 L1219.1,2208 L1221.9,2208 L1224.6,2208 L1227.4,2208 L1230.2,2208 L1232.9,2208 L1235.7,2208 L1238.5,2208 L1241.3,2208 L1244,2208 L1246.8,2208 L1249.6,2208 L1252.3,2208 L1255.1,2208 L1257.9,2208 L1260.7,2208 L1263.4,2208 L1266.2,2208 L1269,2208 L1271.7,2208 L1274.5,2208 L1277.3,2208 L1280.1,2208 L1282.8,2208 L1285.6,2208 L1288.4,2208 L1291.1,2208 L1293.9,2208 L1296.7,2208 L1299.5,2208 L1302.2,2208 L1305,2208 L1307.8,2208 L1310.5,2208 L1313.3,2208 L1316.1,2208 L1318.9,2208 L1321.6,2208 L1324.4,2208 L1327.2,2208 L1329.9,2208 L1332.7,2208 L1335.5,2208 L1338.3,2208 L1341,2208 L1343.8,2208 L1346.6,2208 L1349.3,2208 L1352.1,2208 L1354.9,2208 L1357.7,2208 L1360.4,2208 L1363.2,2208 L1366,2208 L1368.7,2208 L1371.5,2208 L1374.3,2208 L1377,2208 L1379.8,2208 L1382.6,2208 L1385.4,2208 L1388.1,2208 L1390.9,2208 L1393.7,2208 L1396.4,2208 L1399.2,2208 L1402,2208 L1404.8,2208 L1407.5,2208 L1410.3,2208 L1413.1,2208 L1415.8,2208 L1418.6,2208 L1421.4,2208 L1424.2,2208 L1426.9,2208 L1429.7,2208 L1432.5,2208 L1435.2,2208 L1438,2208 L1440.8,2208 L1443.6,2208 L1446.3,2208 L1449.1,2208 L1451.9,2208 L1454.6,2208 L1457.4,2208 L1460.2,2208 L1463,2208 L1465.7,2208 L1468.5,2208 L1471.3,2208 L1474,2208 L1476.8,2208 L1479.6,2208 L1482.4,2208 L1485.1,2208 L1487.9,2208 L1490.7,2208 L1493.4,2208 L1496.2,2208 L1499,2208 L1501.8,2208 L1504.5,2208 L1507.3,2208 L1510.1,2208 L1512.8,2208 L1515.6,2208 L1518.4,2208 L1521.2,2208 L1523.9,2208 L1526.7,2208 L1529.5,2208 L1532.2,2208 L1535,2208 L1537.8,2208 L1540.5,2208 L1543.3,2208 L1546.1,2208 L1548.9,2208 L1551.6,2208 L1554.4,2208 L1557.2,2208 L1559.9,2208 L1562.7,2208 L1565.5,2160.4 L1568.3,2208 L1571,2208 L1573.8,2208 L1576.6,2208 L1579.3,2208 L1582.1,2208 L1584.9,2208 L1587.7,2208 L1590.4,2208 L1593.2,2208 L1596,2208 L1598.7,2208 L1601.5,2208 L1604.3,2208 L1607.1,2208 L1609.8,2208 L1612.6,2208 L1615.4,2208 L1618.1,2208 L1620.9,2208 L1623.7,2208 L1626.5,2208 L1629.2,2208 L1632,2208 L1634.8,2208 L1637.5,2208 L1640.3,2208 L1643.1,2208 L1645.9,2208 L1648.6,2208 L1651.4,2208 L1654.2,2208 L1656.9,2208 L1659.7,2208 L1662.5,2160.4 L1665.3,2208 L1668,2208 L1670.8,2208 L1673.6,2208 L1676.3,2208 L1679.1,2208 L1681.9,2160.4 L1684.7,2208 L1687.4,2160.4 L1690.2,2208 L1693,2208 L1695.7,2208 L1698.5,2208 L1701.3,2208 L1704.1,2208 L1706.8,2208 L1709.6,2208 L1712.4,2208 L1715.1,2160.4 L1717.9,2208 L1720.7,2208 L1723.4,2208 L1726.2,2208 L1729,2208 L1731.8,2208 L1734.5,2208 L1737.3,2208 L1740.1,2208 L1742.8,2208 L1745.6,2208 L1748.4,2208 L1751.2,2208 L1753.9,2208 L1756.7,2208 L1759.5,2208 L1762.2,2208 L1765,2208 L1767.8,2208 L1770.6,2208 L1773.3,2208 L1776.1,2208 L1778.9,2208 L1781.6,2208 L1784.4,2208 L1787.2,2208 L1790,2208 L1792.7,2208 L1795.5,2208 L1798.3,2208 L1801,2208 L1803.8,2208 L1806.6,2208 L1809.4,2208 L1812.1,2208 L1814.9,2208 L1817.7,2208 L1820.4,2208 L1823.2,2208 L1826,2208 L1828.8,2208 L1831.5,2208 L1834.3,2208 L1837.1,2208 L1839.8,2208 L1842.6,2208 L1845.4,2208 L1848.2,2208 L1850.9,2208 L1853.7,2208 L1856.5,2208 L1859.2,2208 L1862,2208 L1864.8,2208 L1867.6,2208 L1870.3,2208 L1873.1,2208 L1875.9,2208 L1878.6,2208 L1881.4,2208 L1884.2,2208 L1886.9,2208 L1889.7,2208 L1892.5,2208 L1895.3,2208 L1898,2208 L1900.8,2208 L1903.6,2208 L1906.3,2208 L1909.1,2208 L1911.9,2208 L1914.7,2208 L1917.4,2208 L1920.2,2208 L1923,2208 L1925.7,2208 L1928.5,2208 L1931.3,2208 L1934.1,2208 L1936.8,2208 L1939.6,2208 L1942.4,2208 L1945.1,2208 L1947.9,2208 L1950.7,2208 L1953.5,2208 L1956.2,2208 L1959,2208 L1961.8,2208 L1964.5,2208 L1967.3,2208 L1970.1,2208 L1972.9,2208 L1975.6,2208 L1978.4,2208 L1981.2,2208 L1983.9,2208 L1986.7,2208 L1989.5,2208 L1992.3,2208 L1995,2208 L1997.8,2208 L2000.6,2208 L2003.3,2208 L2006.1,2208 L2008.9,2208 L2011.7,2208 L2014.4,2208 L2017.2,2160.4 L2020,2208 L2022.7,2208 L2025.5,2208 L2028.3,2208 L2031.1,2208 L2033.8,2208 L2036.6,2208 L2039.4,2208 L2042.1,2208 L2044.9,2208 L2047.7,2208 L2050.5,2208 L2053.2,2208 L2056,2208 L2058.8,2208 L2061.5,2208 L2064.3,2208 L2067.1,2208 L2069.8,2208 L2072.6,2208 L2075.4,2208 L2078.2,2208 L2080.9,2208 L2083.7,2208 L2086.5,2208 L2089.2,2208 L2092,2208 L2094.8,2208 L2097.6,2208 L2100.3,2208 L2103.1,2160.4 L2105.9,2208 L2108.6,2208 L2111.4,2160.4 L2114.2,2208 L2117,2208 L2119.7,2208 L2122.5,2208 L2125.3,2208 L2128,2208 L2130.8,2208 L2133.6,2208 L2136.4,2208 L2139.1,2208 L2141.9,2208 L2144.7,2208 L2147.4,2208 L2150.2,2208 L2153,2208 L2155.8,2208 L2158.5,2208 L2161.3,2208 L2164.1,2208 L2166.8,2208 L2169.6,2208 L2172.4,2208 L2175.2,2208 L2177.9,2208 L2180.7,2208 L2183.5,2208 L2186.2,2208 L2189,2208 L2191.8,2208 L2194.6,2208 L2197.3,2208 L2200.1,2208 L2202.9,2208 L2205.6,2208 L2208.4,2208 L2211.2,2208 L2214,2208 L2216.7,2208 L2219.5,2208 L2222.3,2208 L2225,2208 L2227.8,2208 L2230.6,2208 L2233.3,2208 L2236.1,2208 L2238.9,2208 L2241.7,2208 L2244.4,2208 L2247.2,2208 L2250,2208 L2252.7,2208 L2255.5,2208 L2258.3,2208 L2261.1,2208 L2263.8,2208 L2266.6,2208 L2269.4,2208 L2272.1,2208 L2274.9,2208 L2277.7,2208 L2280.5,2208 L2283.2,2208 L2286,2208 L2288.8,2208 L2291.5,2208 L2294.3,2208 L2297.1,2208 L2299.9,2208 L2302.6,2208 L2305.4,2208 L2308.2,2208 L2310.9,2208 L2313.7,2208 L2316.5,2208 L2319.3,2208 L2322,2208 L2324.8,2208 L2327.6,2208 L2330.3,2208 L2333.1,2208 L2335.9,2208 L2338.7,2208 L2341.4,2208 L2344.2,2208 L2347,2208 L2349.7,2208 L2352.5,2208 L2355.3,2208 L2358.1,2208 L2360.8,2208 L2363.6,2208 L2366.4,2208 L2369.1,2208 L2371.9,2208 L2374.7,2208 L2377.5,2208 L2380.2,2208 L2383,2208 L2385.8,2208 L2388.5,2208 L2391.3,2208 L2394.1,2208 L2396.9,2208 L2399.6,2208 L2402.4,2208 L2405.2,2208 L2407.9,2208 L2410.7,2208 L2413.5,2208 L2416.2,2208 L2419,2208 L2421.8,2208 L2424.6,2208 L2427.3,2208 L2430.1,2208 L2432.9,2208 L2435.6,2208 L2438.4,2208 L2441.2,2208 L2444,2208 L2446.7,2208 L2449.5,2208 L2452.3,2208 L2455,2208 L2457.8,2208 L2460.6,2208 L2463.4,2208 L2466.1,2208 L2468.9,2208 L2471.7,2208 L2474.4,2208 L2477.2,2208 L2480,2208 L2482.8,2208 L2485.5,2208 L2488.3,2208 L2491.1,2208 L2493.8,2208 L2496.6,2160.4 L2499.4,2208 L2502.2,2208 L2504.9,2208 L2507.7,2208 L2510.5,2208 L2513.2,2208 L2516,2208 L2518.8,2208 L2521.6,2208 L2524.3,2208 L2527.1,2208 L2529.9,2208 L2532.6,2208 L2535.4,2208 L2538.2,2208 L2541,2208 L2543.7,2208 L2546.5,2208 L2549.3,2208 L2552,2208 L2554.8,2208 L2557.6,2208 L2560.4,2208 L2563.1,2208 L2565.9,2208 L2568.7,2208 L2571.4,2208 L2574.2,2208 L2577,2208 L2579.7,2208 L2582.5,2208 L2585.3,2208 L2588.1,2208 L2590.8,2208 L2593.6,2208 L2596.4,2208 L2599.1,2208 L2601.9,2208 L2604.7,2208 L2607.5,2208 L2610.2,2208 L2613,2208 L2615.8,2208 L2618.5,2208 L2621.3,2208 L2624.1,2208 L2626.9,2208 L2629.6,2208 L2632.4,2208 L2635.2,2208 L2637.9,2208 L2640.7,2208 L2643.5,2208 L2646.3,2208 L2649,2208 L2651.8,2208 L2654.6,2208 L2657.3,2208 L2660.1,2208 L2662.9,2208 L2665.7,2208 L2668.4,2208 L2671.2,2208 L2674,2208 L2676.7,2208 L2679.5,2208 L2682.3,2208 L2685.1,2208 L2687.8,2208 L2690.6,2208 L2693.4,2208 L2696.1,2208 L2698.9,2160.4 L2701.7,2208 L2704.5,2208 L2707.2,2208 L2710,2160.4 L2712.8,2208 L2715.5,2208 L2718.3,2208 L2721.1,2208 L2723.9,2208 L2726.6,2208 L2729.4,2208 L2732.2,2208 L2734.9,2208 L2737.7,2208 L2740.5,2208 L2743.3,2208 L2746,2208 L2748.8,2208 L2751.6,2208 L2754.3,2208 L2757.1,2208 L2759.9,2208 L2762.6,2208 L2765.4,2208 L2768.2,2208 L2771,2208 L2773.7,2208 L2776.5,2208 L2779.3,2208 L2782,2208 L2784.8,2208 L2787.6,2208 L2790.4,2208 L2793.1,2208 L2795.9,2208 L2798.7,2208 L2801.4,2208 L2804.2,2208 L2807,2208 L2809.8,2208 L2812.5,2208 L2815.3,2208 L2818.1,2208 L2820.8,2208 L2823.6,2208 L2826.4,2208 L2829.2,2208 L2831.9,2208 L2834.7,2208 L2837.5,2208 L2840.2,2208 L2843,2208 L2845.8,2208 L2848.6,2208 L2851.3,2208 L2854.1,2208 L2856.9,2208 L2859.6,2208 L2862.4,2208 L2865.2,2208 L2868,2208 L2870.7,2208 L2873.5,2208 L2876.3,2208 L2879,2208 L2881.8,2208 L2884.6,2208 L2887.4,2208 L2890.1,2208 L2892.9,2208 L2895.7,2208 L2898.4,2208 L2901.2,2208 L2904,2208 L2906.8,2208 L2909.5,2208 L2912.3,2208 L2915.1,2208 L2917.8,2208 L2920.6,2208 L2923.4,2208 L2926.1,2208 L2928.9,2208 L2931.7,2208 L2934.5,2208 L2937.2,2208 L2940,2208 L2942.8,2208 L2945.5,2208 L2948.3,2208 L2951.1,2208 L2953.9,2208 L2956.6,2208 L2959.4,2208 L2962.2,2208 L2964.9,2208 L2967.7,2208 L2970.5,2208 L2973.3,2208 L2976,2208 L2978.8,2208 L2981.6,2208 L2984.3,2208 L2987.1,2208 L2989.9,2208 L2992.7,2208 L2995.4,2208 L2998.2,2208 L3001,2208 L3003.7,2208 L3006.5,2208 L3009.3,2208 L3012.1,2208 L3014.8,2208 L3017.6,2208 L3020.4,2208 L3023.1,2208 L3025.9,2208 L3028.7,2208 L3031.5,2208 L3034.2,2208 L3037,2208 L3039.8,2208 L3042.5,2208 L3045.3,2160.4 L3048.1,2208 L3050.9,2208 L3053.6,2208 L3056.4,2208 L3059.2,2208 L3061.9,2208 L3064.7,2208 L3067.5,2208 L3070.3,2208 L3073,2208 L3075.8,2208 L3078.6,2208 L3081.3,2208 L3084.1,2208 L3086.9,2208 L3089.7,2208 L3092.4,2208 L3095.2,2208 L3098,2208 L3100.7,2208 L3103.5,2208 L3106.3,2208 L3109,2208 L3111.8,2208 L3114.6,2208 L3117.4,2208 L3120.1,2208 L3122.9,2208 L3125.7,2208 L3128.4,2208 L3131.2,2208 L3134,2208 L3136.8,2208 L3139.5,2208 L3142.3,2208 L3145.1,2208 L3147.8,2208 L3150.6,2208 L3153.4,2208 L3156.2,2208 L3158.9,2208 L3161.7,2208 L3164.5,2208 L3167.2,2208 L3170,2208 L3172.8,2208 L3175.6,2208 L3178.3,2208 L3181.1,2208 L3183.9,2208 L3186.6,2208 L3189.4,2208 L3192.2,2208 L3195,2208 L3197.7,2208 L3200.5,2208 L3203.3,2208 L3206,2208 L3208.8,2208 L3211.6,2208 L3214.4,2208 L3217.1,2208 L3219.9,2208 L3222.7,2208 L3225.4,2208 L3228.2,2208 L3231,2208 L3233.8,2208 L3236.5,2208 L3239.3,2208 L3242.1,2208 L3244.8,2208 L3247.6,2208 L3250.4,2208 L3253.2,2208 L3255.9,2208 L3258.7,2208 L3261.5,2208 L3264.2,2208 L3267,2208 L3269.8,2208 L3272.5,2208 L3275.3,2208 L3278.1,2208 L3280.9,2208 L3283.6,2208 L3286.4,2208 L3289.2,2208 L3291.9,2208 L3294.7,2208 L3297.5,2208 L3300.3,2208 L3303,2208 L3305.8,2208 L3308.6,2208 L3311.3,2208" fill="none" stroke="#9467bd" stroke-width="2.9" stroke-linejoin="round"/>
<path d="M409.9,2269.4 L412.7,2269.4 L415.4,2269.4 L418.2,2269.4 L421,2269.4 L423.8,2269.4 L426.5,2269.4 L429.3,2269.4 L432.1,2269.4 L434.8,2269.4 L437.6,2269.4 L440.4,2269.4 L443.2,2269.4 L445.9,2269.4 L448.7,2269.4 L451.5,2269.4 L454.2,2269.4 L457,2269.4 L459.8,2269.4 L462.6,2269.4 L465.3,2269.4 L468.1,2269.4 L470.9,2269.4 L473.6,2269.4 L476.4,2269.4 L479.2,2269.4 L482,2269.4 L484.7,2269.4 L487.5,2269.4 L490.3,2269.4 L493,2269.4 L495.8,2269.4 L498.6,2269.4 L501.3,2269.4 L504.1,2269.4 L506.9,2269.4 L509.7,2269.4 L512.4,2269.4 L515.2,2269.4 L518,2269.4 L520.7,2269.4 L523.5,2269.4 L526.3,2269.4 L529.1,2269.4 L531.8,2269.4 L534.6,2269.4 L537.4,2269.4 L540.1,2269.4 L542.9,2269.4 L545.7,2269.4 L548.5,2269.4 L551.2,2269.4 L554,2269.4 L556.8,2269.4 L559.5,2269.4 L562.3,2269.4 L565.1,2269.4 L567.9,2269.4 L570.6,2269.4 L573.4,2269.4 L576.2,2269.4 L578.9,2269.4 L581.7,2269.4 L584.5,2269.4 L587.3,2269.4 L590,2269.4 L592.8,2269.4 L595.6,2269.4 L598.3,2269.4 L601.1,2269.4 L603.9,2269.4 L606.7,2269.4 L609.4,2269.4 L612.2,2269.4 L615,2269.4 L617.7,2269.4 L620.5,2269.4 L623.3,2269.4 L626.1,2269.4 L628.8,2269.4 L631.6,2269.4 L634.4,2269.4 L637.1,2269.4 L639.9,2269.4 L642.7,2269.4 L645.5,2269.4 L648.2,2269.4 L651,2269.4 L653.8,2269.4 L656.5,2269.4 L659.3,2269.4 L662.1,2269.4 L664.9,2269.4 L667.6,2269.4 L670.4,2269.4 L673.2,2269.4 L675.9,2269.4 L678.7,2269.4 L681.5,2269.4 L684.2,2269.4 L687,2269.4 L689.8,2269.4 L692.6,2269.4 L695.3,2269.4 L698.1,2269.4 L700.9,2269.4 L703.6,2269.4 L706.4,2269.4 L709.2,2269.4 L712,2269.4 L714.7,2269.4 L717.5,2269.4 L720.3,2269.4 L723,2269.4 L725.8,2269.4 L728.6,2269.4 L731.4,2269.4 L734.1,2269.4 L736.9,2269.4 L739.7,2269.4 L742.4,2269.4 L745.2,2269.4 L748,2269.4 L750.8,2269.4 L753.5,2269.4 L756.3,2269.4 L759.1,2269.4 L761.8,2269.4 L764.6,2269.4 L767.4,2269.4 L770.2,2269.4 L772.9,2269.4 L775.7,2269.4 L778.5,2269.4 L781.2,2269.4 L784,2269.4 L786.8,2269.4 L789.6,2269.4 L792.3,2269.4 L795.1,2269.4 L797.9,2269.4 L800.6,2269.4 L803.4,2269.4 L806.2,2269.4 L809,2269.4 L811.7,2269.4 L814.5,2269.4 L817.3,2269.4 L820,2269.4 L822.8,2269.4 L825.6,2269.4 L828.4,2269.4 L831.1,2269.4 L833.9,2269.4 L836.7,2269.4 L839.4,2269.4 L842.2,2269.4 L845,2269.4 L847.7,2269.4 L850.5,2269.4 L853.3,2269.4 L856.1,2269.4 L858.8,2269.4 L861.6,2269.4 L864.4,2269.4 L867.1,2269.4 L869.9,2269.4 L872.7,2269.4 L875.5,2269.4 L878.2,2269.4 L881,2269.4 L883.8,2269.4 L886.5,2269.4 L889.3,2269.4 L892.1,2269.4 L894.9,2269.4 L897.6,2269.4 L900.4,2269.4 L903.2,2269.4 L905.9,2269.4 L908.7,2269.4 L911.5,2269.4 L914.3,2269.4 L917,2269.4 L919.8,2269.4 L922.6,2269.4 L925.3,2269.4 L928.1,2269.4 L930.9,2269.4 L933.7,2269.4 L936.4,2269.4 L939.2,2269.4 L942,2269.4 L944.7,2269.4 L947.5,2269.4 L950.3,2269.4 L953.1,2269.4 L955.8,2269.4 L958.6,2269.4 L961.4,2269.4 L964.1,2269.4 L966.9,2269.4 L969.7,2269.4 L972.5,2269.4 L975.2,2269.4 L978,2269.4 L980.8,2269.4 L983.5,2269.4 L986.3,2269.4 L989.1,2269.4 L991.9,2269.4 L994.6,2269.4 L997.4,2269.4 L1000.2,2269.4 L1002.9,2269.4 L1005.7,2269.4 L1008.5,2269.4 L1011.3,2269.4 L1014,2269.4 L1016.8,2269.4 L1019.6,2269.4 L1022.3,2269.4 L1025.1,2269.4 L1027.9,2269.4 L1030.6,2269.4 L1033.4,2269.4 L1036.2,2269.4 L1039,2269.4 L1041.7,2269.4 L1044.5,2269.4 L1047.3,2269.4 L1050,2269.4 L1052.8,2269.4 L1055.6,2269.4 L1058.4,2269.4 L1061.1,2269.4 L1063.9,2269.4 L1066.7,2269.4 L1069.4,2269.4 L1072.2,2269.4 L1075,2269.4 L1077.8,2269.4 L1080.5,2269.4 L1083.3,2269.4 L1086.1,2269.4 L1088.8,2269.4 L1091.6,2269.4 L1094.4,2269.4 L1097.2,2269.4 L1099.9,2269.4 L1102.7,2269.4 L1105.5,2269.4 L1108.2,2269.4 L1111,2269.4 L1113.8,2269.4 L1116.6,2269.4 L1119.3,2269.4 L1122.1,2269.4 L1124.9,2269.4 L1127.6,2269.4 L1130.4,2269.4 L1133.2,2269.4 L1136,2269.4 L1138.7,2269.4 L1141.5,2269.4 L1144.3,2269.4 L1147,2269.4 L1149.8,2269.4 L1152.6,2269.4 L1155.4,2269.4 L1158.1,2269.4 L1160.9,2269.4 L1163.7,2269.4 L1166.4,2269.4 L1169.2,2269.4 L1172,2269.4 L1174.8,2269.4 L1177.5,2269.4 L1180.3,2269.4 L1183.1,2269.4 L1185.8,2269.4 L1188.6,2269.4 L1191.4,2269.4 L1194.1,2269.4 L1196.9,2269.4 L1199.7,2269.4 L1202.5,2269.4 L1205.2,2269.4 L1208,2269.4 L1210.8,2269.4 L1213.5,2269.4 L1216.3,2269.4 L1219.1,2269.4 L1221.9,2269.4 L1224.6,2269.4 L1227.4,2269.4 L1230.2,2269.4 L1232.9,2269.4 L1235.7,2269.4 L1238.5,2269.4 L1241.3,2269.4 L1244,2269.4 L1246.8,2269.4 L1249.6,2269.4 L1252.3,2269.4 L1255.1,2269.4 L1257.9,2269.4 L1260.7,2269.4 L1263.4,2269.4 L1266.2,2269.4 L1269,2269.4 L1271.7,2269.4 L1274.5,2269.4 L1277.3,2269.4 L1280.1,2269.4 L1282.8,2269.4 L1285.6,2269.4 L1288.4,2269.4 L1291.1,2269.4 L1293.9,2269.4 L1296.7,2269.4 L1299.5,2269.4 L1302.2,2269.4 L1305,2269.4 L1307.8,2269.4 L1310.5,2269.4 L1313.3,2269.4 L1316.1,2269.4 L1318.9,2269.4 L1321.6,2269.4 L1324.4,2269.4 L1327.2,2269.4 L1329.9,2269.4 L1332.7,2269.4 L1335.5,2269.4 L1338.3,2269.4 L1341,2269.4 L1343.8,2269.4 L1346.6,2269.4 L1349.3,2269.4 L1352.1,2269.4 L1354.9,2269.4 L1357.7,2269.4 L1360.4,2269.4 L1363.2,2269.4 L1366,2269.4 L1368.7,2269.4 L1371.5,2269.4 L1374.3,2269.4 L1377,2269.4 L1379.8,2269.4 L1382.6,2269.4 L1385.4,2269.4 L1388.1,2269.4 L1390.9,2269.4 L1393.7,2269.4 L1396.4,2269.4 L1399.2,2269.4 L1402,2269.4 L1404.8,2269.4 L1407.5,2269.4 L1410.3,2269.4 L1413.1,2269.4 L1415.8,2269.4 L1418.6,2269.4 L1421.4,2269.4 L1424.2,2269.4 L1426.9,2269.4 L1429.7,2269.4 L1432.5,2269.4 L1435.2,2269.4 L1438,2269.4 L1440.8,2269.4 L1443.6,2269.4 L1446.3,2269.4 L1449.1,2269.4 L1451.9,2269.4 L1454.6,2269.4 L1457.4,2269.4 L1460.2,2269.4 L1463,2269.4 L1465.7,2269.4 L1468.5,2269.4 L1471.3,2269.4 L1474,2269.4 L1476.8,2269.4 L1479.6,2269.4 L1482.4,2269.4 L1485.1,2269.4 L1487.9,2269.4 L1490.7,2269.4 L1493.4,2269.4 L1496.2,2269.4 L1499,2269.4 L1501.8,2269.4 L1504.5,2269.4 L1507.3,2269.4 L1510.1,2269.4 L1512.8,2269.4 L1515.6,2269.4 L1518.4,2269.4 L1521.2,2269.4 L1523.9,2269.4 L1526.7,2269.4 L1529.5,2269.4 L1532.2,2269.4 L1535,2269.4 L1537.8,2269.4 L1540.5,2269.4 L1543.3,2269.4 L1546.1,2269.4 L1548.9,2269.4 L1551.6,2269.4 L1554.4,2269.4 L1557.2,2269.4 L1559.9,2269.4 L1562.7,2269.4 L1565.5,2269.4 L1568.3,2269.4 L1571,2269.4 L1573.8,2269.4 L1576.6,2269.4 L1579.3,2269.4 L1582.1,2269.4 L1584.9,2269.4 L1587.7,2269.4 L1590.4,2269.4 L1593.2,2269.4 L1596,2269.4 L1598.7,2269.4 L1601.5,2269.4 L1604.3,2269.4 L1607.1,2269.4 L1609.8,2269.4 L1612.6,2269.4 L1615.4,2269.4 L1618.1,2269.4 L1620.9,2269.4 L1623.7,2269.4 L1626.5,2269.4 L1629.2,2269.4 L1632,2269.4 L1634.8,2269.4 L1637.5,2269.4 L1640.3,2269.4 L1643.1,2269.4 L1645.9,2269.4 L1648.6,2269.4 L1651.4,2269.4 L1654.2,2269.4 L1656.9,2269.4 L1659.7,2269.4 L1662.5,2269.4 L1665.3,2269.4 L1668,2269.4 L1670.8,2269.4 L1673.6,2269.4 L1676.3,2269.4 L1679.1,2269.4 L1681.9,2269.4 L1684.7,2269.4 L1687.4,2269.4 L1690.2,2269.4 L1693,2269.4 L1695.7,2269.4 L1698.5,2269.4 L1701.3,2269.4 L1704.1,2269.4 L1706.8,2269.4 L1709.6,2269.4 L1712.4,2269.4 L1715.1,2269.4 L1717.9,2269.4 L1720.7,2269.4 L1723.4,2269.4 L1726.2,2269.4 L1729,2269.4 L1731.8,2269.4 L1734.5,2269.4 L1737.3,2269.4 L1740.1,2269.4 L1742.8,2269.4 L1745.6,2269.4 L1748.4,2269.4 L1751.2,2269.4 L1753.9,2269.4 L1756.7,2269.4 L1759.5,2269.4 L1762.2,2269.4 L1765,2269.4 L1767.8,2269.4 L1770.6,2269.4 L1773.3,2269.4 L1776.1,2269.4 L1778.9,2269.4 L1781.6,2269.4 L1784.4,2269.4 L1787.2,2269.4 L1790,2269.4 L1792.7,2269.4 L1795.5,2269.4 L1798.3,2269.4 L1801,2269.4 L1803.8,2269.4 L1806.6,2269.4 L1809.4,2269.4 L1812.1,2269.4 L1814.9,2269.4 L1817.7,2269.4 L1820.4,2269.4 L1823.2,2269.4 L1826,2269.4 L1828.8,2269.4 L1831.5,2269.4 L1834.3,2269.4 L1837.1,2269.4 L1839.8,2269.4 L1842.6,2269.4 L1845.4,2269.4 L1848.2,2269.4 L1850.9,2269.4 L1853.7,2269.4 L1856.5,2269.4 L1859.2,2269.4 L1862,2269.4 L1864.8,2269.4 L1867.6,2269.4 L1870.3,2269.4 L1873.1,2269.4 L1875.9,2269.4 L1878.6,2269.4 L1881.4,2269.4 L1884.2,2269.4 L1886.9,2269.4 L1889.7,2269.4 L1892.5,2269.4 L1895.3,2269.4 L1898,2269.4 L1900.8,2269.4 L1903.6,2269.4 L1906.3,2269.4 L1909.1,2269.4 L1911.9,2269.4 L1914.7,2269.4 L1917.4,2269.4 L1920.2,2269.4 L1923,2269.4 L1925.7,2269.4 L1928.5,2269.4 L1931.3,2269.4 L1934.1,2269.4 L1936.8,2269.4 L1939.6,2269.4 L1942.4,2269.4 L1945.1,2269.4 L1947.9,2269.4 L1950.7,2269.4 L1953.5,2269.4 L1956.2,2269.4 L1959,2269.4 L1961.8,2269.4 L1964.5,2269.4 L1967.3,2269.4 L1970.1,2269.4 L1972.9,2269.4 L1975.6,2269.4 L1978.4,2269.4 L1981.2,2269.4 L1983.9,2269.4 L1986.7,2269.4 L1989.5,2269.4 L1992.3,2269.4 L1995,2269.4 L1997.8,2269.4 L2000.6,2269.4 L2003.3,2269.4 L2006.1,2269.4 L2008.9,2269.4 L2011.7,2269.4 L2014.4,2269.4 L2017.2,2269.4 L2020,2269.4 L2022.7,2269.4 L2025.5,2269.4 L2028.3,2269.4 L2031.1,2269.4 L2033.8,2269.4 L2036.6,2269.4 L2039.4,2269.4 L2042.1,2269.4 L2044.9,2269.4 L2047.7,2269.4 L2050.5,2269.4 L2053.2,2269.4 L2056,2269.4 L2058.8,2269.4 L2061.5,2269.4 L2064.3,2269.4 L2067.1,2269.4 L2069.8,2269.4 L2072.6,2269.4 L2075.4,2269.4 L2078.2,2269.4 L2080.9,2269.4 L2083.7,2269.4 L2086.5,2269.4 L2089.2,2269.4 L2092,2269.4 L2094.8,2269.4 L2097.6,2269.4 L2100.3,2269.4 L2103.1,2269.4 L2105.9,2269.4 L2108.6,2269.4 L2111.4,2269.4 L2114.2,2269.4 L2117,2269.4 L2119.7,2269.4 L2122.5,2269.4 L2125.3,2269.4 L2128,2269.4 L2130.8,2269.4 L2133.6,2269.4 L2136.4,2269.4 L2139.1,2269.4 L2141.9,2269.4 L2144.7,2269.4 L2147.4,2269.4 L2150.2,2269.4 L2153,2269.4 L2155.8,2269.4 L2158.5,2269.4 L2161.3,2269.4 L2164.1,2269.4 L2166.8,2269.4 L2169.6,2269.4 L2172.4,2269.4 L2175.2,2269.4 L2177.9,2269.4 L2180.7,2269.4 L2183.5,2269.4 L2186.2,2269.4 L2189,2269.4 L2191.8,2269.4 L2194.6,2269.4 L2197.3,2269.4 L2200.1,2269.4 L2202.9,2269.4 L2205.6,2269.4 L2208.4,2269.4 L2211.2,2269.4 L2214,2269.4 L2216.7,2269.4 L2219.5,2269.4 L2222.3,2269.4 L2225,2269.4 L2227.8,2269.4 L2230.6,2269.4 L2233.3,2269.4 L2236.1,2269.4 L2238.9,2269.4 L2241.7,2269.4 L2244.4,2269.4 L2247.2,2269.4 L2250,2269.4 L2252.7,2269.4 L2255.5,2269.4 L2258.3,2269.4 L2261.1,2269.4 L2263.8,2269.4 L2266.6,2269.4 L2269.4,2269.4 L2272.1,2269.4 L2274.9,2269.4 L2277.7,2269.4 L2280.5,2269.4 L2283.2,2269.4 L2286,2269.4 L2288.8,2269.4 L2291.5,2269.4 L2294.3,2269.4 L2297.1,2269.4 L2299.9,2269.4 L2302.6,2269.4 L2305.4,2269.4 L2308.2,2269.4 L2310.9,2269.4 L2313.7,2269.4 L2316.5,2269.4 L2319.3,2269.4 L2322,2269.4 L2324.8,2269.4 L2327.6,2269.4 L2330.3,2269.4 L2333.1,2269.4 L2335.9,2269.4 L2338.7,2269.4 L2341.4,2269.4 L2344.2,2269.4 L2347,2269.4 L2349.7,2269.4 L2352.5,2269.4 L2355.3,2269.4 L2358.1,2269.4 L2360.8,2269.4 L2363.6,2269.4 L2366.4,2269.4 L2369.1,2269.4 L2371.9,2269.4 L2374.7,2269.4 L2377.5,2269.4 L2380.2,2269.4 L2383,2269.4 L2385.8,2269.4 L2388.5,2269.4 L2391.3,2269.4 L2394.1,2269.4 L2396.9,2269.4 L2399.6,2269.4 L2402.4,2269.4 L2405.2,2269.4 L2407.9,2269.4 L2410.7,2269.4 L2413.5,2269.4 L2416.2,2269.4 L2419,2269.4 L2421.8,2269.4 L2424.6,2269.4 L2427.3,2269.4 L2430.1,2269.4 L2432.9,2269.4 L2435.6,2269.4 L2438.4,2269.4 L2441.2,2269.4 L2444,2269.4 L2446.7,2269.4 L2449.5,2269.4 L2452.3,2269.4 L2455,2269.4 L2457.8,2269.4 L2460.6,2269.4 L2463.4,2269.4 L2466.1,2269.4 L2468.9,2269.4 L2471.7,2269.4 L2474.4,2269.4 L2477.2,2269.4 L2480,2269.4 L2482.8,2269.4 L2485.5,2269.4 L2488.3,2269.4 L2491.1,2269.4 L2493.8,2269.4 L2496.6,2269.4 L2499.4,2269.4 L2502.2,2269.4 L2504.9,2269.4 L2507.7,2269.4 L2510.5,2269.4 L2513.2,2269.4 L2516,2269.4 L2518.8,2269.4 L2521.6,2269.4 L2524.3,2269.4 L2527.1,2269.4 L2529.9,2269.4 L2532.6,2269.4 L2535.4,2269.4 L2538.2,2269.4 L2541,2269.4 L2543.7,2269.4 L2546.5,2269.4 L2549.3,2269.4 L2552,2269.4 L2554.8,2269.4 L2557.6,2269.4 L2560.4,2269.4 L2563.1,2269.4 L2565.9,2269.4 L2568.7,2269.4 L2571.4,2269.4 L2574.2,2269.4 L2577,2269.4 L2579.7,2269.4 L2582.5,2269.4 L2585.3,2269.4 L2588.1,2269.4 L2590.8,2269.4 L2593.6,2269.4 L2596.4,2269.4 L2599.1,2269.4 L2601.9,2269.4 L2604.7,2269.4 L2607.5,2269.4 L2610.2,2269.4 L2613,2269.4 L2615.8,2269.4 L2618.5,2269.4 L2621.3,2269.4 L2624.1,2269.4 L2626.9,2269.4 L2629.6,2269.4 L2632.4,2269.4 L2635.2,2269.4 L2637.9,2269.4 L2640.7,2269.4 L2643.5,2269.4 L2646.3,2269.4 L2649,2269.4 L2651.8,2269.4 L2654.6,2269.4 L2657.3,2269.4 L2660.1,2269.4 L2662.9,2269.4 L2665.7,2269.4 L2668.4,2269.4 L2671.2,2269.4 L2674,2269.4 L2676.7,2269.4 L2679.5,2269.4 L2682.3,2269.4 L2685.1,2269.4 L2687.8,2269.4 L2690.6,2269.4 L2693.4,2269.4 L2696.1,2269.4 L2698.9,2269.4 L2701.7,2269.4 L2704.5,2269.4 L2707.2,2269.4 L2710,2269.4 L2712.8,2269.4 L2715.5,2269.4 L2718.3,2269.4 L2721.1,2269.4 L2723.9,2269.4 L2726.6,2269.4 L2729.4,2269.4 L2732.2,2269.4 L2734.9,2269.4 L2737.7,2269.4 L2740.5,2269.4 L2743.3,2269.4 L2746,2269.4 L2748.8,2269.4 L2751.6,2269.4 L2754.3,2269.4 L2757.1,2269.4 L2759.9,2269.4 L2762.6,2269.4 L2765.4,2269.4 L2768.2,2269.4 L2771,2269.4 L2773.7,2269.4 L2776.5,2269.4 L2779.3,2269.4 L2782,2269.4 L2784.8,2269.4 L2787.6,2269.4 L2790.4,2269.4 L2793.1,2269.4 L2795.9,2269.4 L2798.7,2269.4 L2801.4,2269.4 L2804.2,2269.4 L2807,2269.4 L2809.8,2269.4 L2812.5,2269.4 L2815.3,2269.4 L2818.1,2269.4 L2820.8,2269.4 L2823.6,2269.4 L2826.4,2269.4 L2829.2,2269.4 L2831.9,2269.4 L2834.7,2269.4 L2837.5,2269.4 L2840.2,2269.4 L2843,2269.4 L2845.8,2269.4 L2848.6,2269.4 L2851.3,2269.4 L2854.1,2269.4 L2856.9,2269.4 L2859.6,2269.4 L2862.4,2269.4 L2865.2,2269.4 L2868,2269.4 L2870.7,2269.4 L2873.5,2269.4 L2876.3,2269.4 L2879,2269.4 L2881.8,2269.4 L2884.6,2269.4 L2887.4,2269.4 L2890.1,2269.4 L2892.9,2269.4 L2895.7,2269.4 L2898.4,2269.4 L2901.2,2269.4 L2904,2269.4 L2906.8,2269.4 L2909.5,2269.4 L2912.3,2269.4 L2915.1,2269.4 L2917.8,2269.4 L2920.6,2269.4 L2923.4,2269.4 L2926.1,2269.4 L2928.9,2269.4 L2931.7,2269.4 L2934.5,2269.4 L2937.2,2269.4 L2940,2269.4 L2942.8,2269.4 L2945.5,2269.4 L2948.3,2269.4 L2951.1,2269.4 L2953.9,2269.4 L2956.6,2269.4 L2959.4,2269.4 L2962.2,2269.4 L2964.9,2269.4 L2967.7,2269.4 L2970.5,2269.4 L2973.3,2269.4 L2976,2269.4 L2978.8,2269.4 L2981.6,2269.4 L2984.3,2269.4 L2987.1,2269.4 L2989.9,2269.4 L2992.7,2269.4 L2995.4,2269.4 L2998.2,2269.4 L3001,2269.4 L3003.7,2269.4 L3006.5,2269.4 L3009.3,2269.4 L3012.1,2269.4 L3014.8,2269.4 L3017.6,2269.4 L3020.4,2269.4 L3023.1,2269.4 L3025.9,2269.4 L3028.7,2269.4 L3031.5,2269.4 L3034.2,2269.4 L3037,2269.4 L3039.8,2269.4 L3042.5,2269.4 L3045.3,2269.4 L3048.1,2269.4 L3050.9,2269.4 L3053.6,2269.4 L3056.4,2269.4 L3059.2,2269.4 L3061.9,2269.4 L3064.7,2269.4 L3067.5,2269.4 L3070.3,2269.4 L3073,2269.4 L3075.8,2269.4 L3078.6,2269.4 L3081.3,2269.4 L3084.1,2269.4 L3086.9,2269.4 L3089.7,2269.4 L3092.4,2269.4 L3095.2,2269.4 L3098,2269.4 L3100.7,2269.4 L3103.5,2269.4 L3106.3,2269.4 L3109,2269.4 L3111.8,2269.4 L3114.6,2269.4 L3117.4,2269.4 L3120.1,2269.4 L3122.9,2269.4 L3125.7,2269.4 L3128.4,2269.4 L3131.2,2269.4 L3134,2269.4 L3136.8,2269.4 L3139.5,2269.4 L3142.3,2269.4 L3145.1,2269.4 L3147.8,2269.4 L3150.6,2269.4 L3153.4,2269.4 L3156.2,2269.4 L3158.9,2269.4 L3161.7,2269.4 L3164.5,2269.4 L3167.2,2269.4 L3170,2269.4 L3172.8,2269.4 L3175.6,2269.4 L3178.3,2269.4 L3181.1,2269.4 L3183.9,2269.4 L3186.6,2269.4 L3189.4,2269.4 L3192.2,2269.4 L3195,2269.4 L3197.7,2269.4 L3200.5,2269.4 L3203.3,2269.4 L3206,2269.4 L3208.8,2269.4 L3211.6,2269.4 L3214.4,2269.4 L3217.1,2269.4 L3219.9,2269.4 L3222.7,2269.4 L3225.4,2269.4 L3228.2,2269.4 L3231,2269.4 L3233.8,2269.4 L3236.5,2269.4 L3239.3,2269.4 L3242.1,2223 L3244.8,2223 L3247.6,2269.4 L3250.4,2269.4 L3253.2,2269.4 L3255.9,2269.4 L3258.7,2269.4 L3261.5,2269.4 L3264.2,2223 L3267,2269.4 L3269.8,2269.4 L3272.5,2223 L3275.3,2223 L3278.1,2223 L3280.9,2269.4 L3283.6,2269.4 L3286.4,2223 L3289.2,2269.4 L3291.9,2269.4 L3294.7,2223 L3297.5,2269.4 L3300.3,2269.4 L3303,2269.4 L3305.8,2269.4 L3308.6,2269.4 L3311.3,2223" fill="none" stroke="#8c564b" stroke-width="2.9" stroke-linejoin="round"/>
<path d="M409.9,2300 L412.7,2300 L415.4,2300 L418.2,2300 L421,2300 L423.8,2300 L426.5,2294.5 L429.3,2300 L432.1,2300 L434.8,2294.5 L437.6,2300 L440.4,2300 L443.2,2300 L445.9,2289.5 L448.7,2300 L451.5,2300 L454.2,2300 L457,2294.5 L459.8,2300 L462.6,2300 L465.3,2300 L468.1,2294.5 L470.9,2300 L473.6,2300 L476.4,2300 L479.2,2300 L482,2300 L484.7,2300 L487.5,2300 L490.3,2294.5 L493,2300 L495.8,2289.5 L498.6,2300 L501.3,2300 L504.1,2300 L506.9,2300 L509.7,2289.5 L512.4,2300 L515.2,2289.5 L518,2300 L520.7,2294.5 L523.5,2300 L526.3,2300 L529.1,2300 L531.8,2300 L534.6,2300 L537.4,2300 L540.1,2300 L542.9,2300 L545.7,2300 L548.5,2300 L551.2,2300 L554,2300 L556.8,2300 L559.5,2294.5 L562.3,2300 L565.1,2300 L567.9,2300 L570.6,2300 L573.4,2300 L576.2,2300 L578.9,2300 L581.7,2300 L584.5,2300 L587.3,2300 L590,2300 L592.8,2300 L595.6,2300 L598.3,2300 L601.1,2300 L603.9,2294.5 L606.7,2294.5 L609.4,2294.5 L612.2,2300 L615,2300 L617.7,2294.5 L620.5,2300 L623.3,2300 L626.1,2300 L628.8,2294.5 L631.6,2300 L634.4,2289.5 L637.1,2300 L639.9,2300 L642.7,2294.5 L645.5,2294.5 L648.2,2300 L651,2300 L653.8,2300 L656.5,2300 L659.3,2294.5 L662.1,2300 L664.9,2294.5 L667.6,2300 L670.4,2300 L673.2,2300 L675.9,2300 L678.7,2294.5 L681.5,2289.5 L684.2,2294.5 L687,2289.5 L689.8,2300 L692.6,2300 L695.3,2300 L698.1,2300 L700.9,2300 L703.6,2300 L706.4,2300 L709.2,2300 L712,2300 L714.7,2294.5 L717.5,2300 L720.3,2300 L723,2300 L725.8,2300 L728.6,2300 L731.4,2289.5 L734.1,2300 L736.9,2300 L739.7,2300 L742.4,2300 L745.2,2300 L748,2289.5 L750.8,2300 L753.5,2300 L756.3,2300 L759.1,2300 L761.8,2294.5 L764.6,2289.5 L767.4,2300 L770.2,2300 L772.9,2300 L775.7,2300 L778.5,2300 L781.2,2300 L784,2300 L786.8,2300 L789.6,2300 L792.3,2300 L795.1,2300 L797.9,2300 L800.6,2300 L803.4,2300 L806.2,2300 L809,2294.5 L811.7,2300 L814.5,2300 L817.3,2294.5 L820,2300 L822.8,2300 L825.6,2300 L828.4,2300 L831.1,2300 L833.9,2300 L836.7,2300 L839.4,2294.5 L842.2,2300 L845,2300 L847.7,2300 L850.5,2300 L853.3,2300 L856.1,2300 L858.8,2294.5 L861.6,2284.5 L864.4,2300 L867.1,2300 L869.9,2300 L872.7,2300 L875.5,2294.5 L878.2,2300 L881,2289.5 L883.8,2300 L886.5,2300 L889.3,2305 L892.1,2294.5 L894.9,2305 L897.6,2294.5 L900.4,2300 L903.2,2300 L905.9,2300 L908.7,2294.5 L911.5,2289.5 L914.3,2289.5 L917,2294.5 L919.8,2300 L922.6,2300 L925.3,2300 L928.1,2294.5 L930.9,2300 L933.7,2294.5 L936.4,2300 L939.2,2300 L942,2305 L944.7,2294.5 L947.5,2284.5 L950.3,2289.5 L953.1,2289.5 L955.8,2309.5 L958.6,2300 L961.4,2300 L964.1,2300 L966.9,2289.5 L969.7,2294.5 L972.5,2294.5 L975.2,2309.5 L978,2300 L980.8,2300 L983.5,2289.5 L986.3,2284.5 L989.1,2294.5 L991.9,2300 L994.6,2300 L997.4,2305 L1000.2,2294.5 L1002.9,2294.5 L1005.7,2300 L1008.5,2294.5 L1011.3,2294.5 L1014,2289.5 L1016.8,2305 L1019.6,2289.5 L1022.3,2300 L1025.1,2300 L1027.9,2284.5 L1030.6,2284.5 L1033.4,2305 L1036.2,2300 L1039,2305 L1041.7,2305 L1044.5,2300 L1047.3,2300 L1050,2294.5 L1052.8,2300 L1055.6,2305 L1058.4,2300 L1061.1,2289.5 L1063.9,2300 L1066.7,2300 L1069.4,2300 L1072.2,2294.5 L1075,2289.5 L1077.8,2300 L1080.5,2289.5 L1083.3,2300 L1086.1,2294.5 L1088.8,2300 L1091.6,2300 L1094.4,2300 L1097.2,2300 L1099.9,2289.5 L1102.7,2300 L1105.5,2300 L1108.2,2305 L1111,2294.5 L1113.8,2300 L1116.6,2289.5 L1119.3,2294.5 L1122.1,2300 L1124.9,2294.5 L1127.6,2309.5 L1130.4,2300 L1133.2,2294.5 L1136,2294.5 L1138.7,2300 L1141.5,2300 L1144.3,2289.5 L1147,2294.5 L1149.8,2300 L1152.6,2294.5 L1155.4,2300 L1158.1,2284.5 L1160.9,2300 L1163.7,2294.5 L1166.4,2300 L1169.2,2300 L1172,2294.5 L1174.8,2294.5 L1177.5,2300 L1180.3,2294.5 L1183.1,2300 L1185.8,2284.5 L1188.6,2300 L1191.4,2300 L1194.1,2300 L1196.9,2300 L1199.7,2300 L1202.5,2300 L1205.2,2294.5 L1208,2305 L1210.8,2300 L1213.5,2300 L1216.3,2294.5 L1219.1,2300 L1221.9,2300 L1224.6,2289.5 L1227.4,2300 L1230.2,2289.5 L1232.9,2294.5 L1235.7,2300 L1238.5,2300 L1241.3,2294.5 L1244,2300 L1246.8,2300 L1249.6,2294.5 L1252.3,2284.5 L1255.1,2294.5 L1257.9,2289.5 L1260.7,2300 L1263.4,2300 L1266.2,2300 L1269,2305 L1271.7,2300 L1274.5,2284.5 L1277.3,2300 L1280.1,2294.5 L1282.8,2305 L1285.6,2289.5 L1288.4,2294.5 L1291.1,2300 L1293.9,2305 L1296.7,2300 L1299.5,2309.5 L1302.2,2289.5 L1305,2289.5 L1307.8,2294.5 L1310.5,2300 L1313.3,2300 L1316.1,2289.5 L1318.9,2294.5 L1321.6,2300 L1324.4,2284.5 L1327.2,2300 L1329.9,2300 L1332.7,2300 L1335.5,2300 L1338.3,2284.5 L1341,2289.5 L1343.8,2300 L1346.6,2300 L1349.3,2300 L1352.1,2289.5 L1354.9,2300 L1357.7,2300 L1360.4,2300 L1363.2,2305 L1366,2300 L1368.7,2289.5 L1371.5,2294.5 L1374.3,2294.5 L1377,2294.5 L1379.8,2300 L1382.6,2300 L1385.4,2294.5 L1388.1,2300 L1390.9,2300 L1393.7,2300 L1396.4,2305 L1399.2,2300 L1402,2300 L1404.8,2300 L1407.5,2300 L1410.3,2305 L1413.1,2300 L1415.8,2289.5 L1418.6,2300 L1421.4,2294.5 L1424.2,2300 L1426.9,2289.5 L1429.7,2294.5 L1432.5,2300 L1435.2,2300 L1438,2294.5 L1440.8,2305 L1443.6,2289.5 L1446.3,2294.5 L1449.1,2300 L1451.9,2305 L1454.6,2305 L1457.4,2300 L1460.2,2289.5 L1463,2289.5 L1465.7,2289.5 L1468.5,2309.5 L1471.3,2305 L1474,2300 L1476.8,2309.5 L1479.6,2300 L1482.4,2300 L1485.1,2309.5 L1487.9,2300 L1490.7,2300 L1493.4,2294.5 L1496.2,2300 L1499,2300 L1501.8,2284.5 L1504.5,2294.5 L1507.3,2289.5 L1510.1,2284.5 L1512.8,2305 L1515.6,2305 L1518.4,2305 L1521.2,2309.5 L1523.9,2294.5 L1526.7,2289.5 L1529.5,2294.5 L1532.2,2309.5 L1535,2294.5 L1537.8,2300 L1540.5,2289.5 L1543.3,2300 L1546.1,2300 L1548.9,2300 L1551.6,2300 L1554.4,2300 L1557.2,2300 L1559.9,2300 L1562.7,2289.5 L1565.5,2300 L1568.3,2294.5 L1571,2300 L1573.8,2294.5 L1576.6,2300 L1579.3,2300 L1582.1,2289.5 L1584.9,2300 L1587.7,2300 L1590.4,2289.5 L1593.2,2300 L1596,2300 L1598.7,2289.5 L1601.5,2305 L1604.3,2309.5 L1607.1,2300 L1609.8,2294.5 L1612.6,2300 L1615.4,2289.5 L1618.1,2305 L1620.9,2300 L1623.7,2300 L1626.5,2309.5 L1629.2,2300 L1632,2294.5 L1634.8,2284.5 L1637.5,2300 L1640.3,2284.5 L1643.1,2300 L1645.9,2300 L1648.6,2300 L1651.4,2300 L1654.2,2300 L1656.9,2300 L1659.7,2284.5 L1662.5,2300 L1665.3,2294.5 L1668,2294.5 L1670.8,2305 L1673.6,2305 L1676.3,2294.5 L1679.1,2300 L1681.9,2289.5 L1684.7,2300 L1687.4,2305 L1690.2,2300 L1693,2300 L1695.7,2300 L1698.5,2300 L1701.3,2284.5 L1704.1,2305 L1706.8,2289.5 L1709.6,2289.5 L1712.4,2300 L1715.1,2300 L1717.9,2300 L1720.7,2300 L1723.4,2305 L1726.2,2309.5 L1729,2300 L1731.8,2309.5 L1734.5,2305 L1737.3,2294.5 L1740.1,2289.5 L1742.8,2284.5 L1745.6,2300 L1748.4,2294.5 L1751.2,2309.5 L1753.9,2305 L1756.7,2305 L1759.5,2300 L1762.2,2289.5 L1765,2294.5 L1767.8,2305 L1770.6,2300 L1773.3,2294.5 L1776.1,2300 L1778.9,2284.5 L1781.6,2289.5 L1784.4,2300 L1787.2,2300 L1790,2300 L1792.7,2294.5 L1795.5,2294.5 L1798.3,2300 L1801,2309.5 L1803.8,2309.5 L1806.6,2300 L1809.4,2294.5 L1812.1,2300 L1814.9,2294.5 L1817.7,2300 L1820.4,2300 L1823.2,2289.5 L1826,2300 L1828.8,2300 L1831.5,2289.5 L1834.3,2300 L1837.1,2300 L1839.8,2305 L1842.6,2300 L1845.4,2300 L1848.2,2300 L1850.9,2300 L1853.7,2300 L1856.5,2294.5 L1859.2,2300 L1862,2294.5 L1864.8,2300 L1867.6,2300 L1870.3,2300 L1873.1,2300 L1875.9,2300 L1878.6,2300 L1881.4,2305 L1884.2,2294.5 L1886.9,2294.5 L1889.7,2289.5 L1892.5,2289.5 L1895.3,2300 L1898,2294.5 L1900.8,2289.5 L1903.6,2294.5 L1906.3,2289.5 L1909.1,2294.5 L1911.9,2305 L1914.7,2300 L1917.4,2289.5 L1920.2,2309.5 L1923,2294.5 L1925.7,2305 L1928.5,2300 L1931.3,2289.5 L1934.1,2300 L1936.8,2289.5 L1939.6,2300 L1942.4,2294.5 L1945.1,2300 L1947.9,2300 L1950.7,2305 L1953.5,2294.5 L1956.2,2294.5 L1959,2300 L1961.8,2300 L1964.5,2309.5 L1967.3,2300 L1970.1,2294.5 L1972.9,2289.5 L1975.6,2294.5 L1978.4,2294.5 L1981.2,2309.5 L1983.9,2284.5 L1986.7,2300 L1989.5,2300 L1992.3,2300 L1995,2289.5 L1997.8,2289.5 L2000.6,2300 L2003.3,2289.5 L2006.1,2300 L2008.9,2300 L2011.7,2300 L2014.4,2300 L2017.2,2300 L2020,2289.5 L2022.7,2309.5 L2025.5,2309.5 L2028.3,2294.5 L2031.1,2305 L2033.8,2294.5 L2036.6,2294.5 L2039.4,2305 L2042.1,2300 L2044.9,2300 L2047.7,2300 L2050.5,2300 L2053.2,2300 L2056,2300 L2058.8,2289.5 L2061.5,2309.5 L2064.3,2300 L2067.1,2300 L2069.8,2300 L2072.6,2284.5 L2075.4,2300 L2078.2,2289.5 L2080.9,2300 L2083.7,2294.5 L2086.5,2289.5 L2089.2,2289.5 L2092,2300 L2094.8,2309.5 L2097.6,2305 L2100.3,2294.5 L2103.1,2305 L2105.9,2294.5 L2108.6,2300 L2111.4,2300 L2114.2,2305 L2117,2294.5 L2119.7,2300 L2122.5,2300 L2125.3,2300 L2128,2294.5 L2130.8,2294.5 L2133.6,2300 L2136.4,2300 L2139.1,2309.5 L2141.9,2300 L2144.7,2289.5 L2147.4,2300 L2150.2,2294.5 L2153,2300 L2155.8,2300 L2158.5,2300 L2161.3,2300 L2164.1,2300 L2166.8,2294.5 L2169.6,2294.5 L2172.4,2284.5 L2175.2,2294.5 L2177.9,2300 L2180.7,2289.5 L2183.5,2300 L2186.2,2289.5 L2189,2309.5 L2191.8,2294.5 L2194.6,2300 L2197.3,2300 L2200.1,2294.5 L2202.9,2300 L2205.6,2300 L2208.4,2300 L2211.2,2294.5 L2214,2284.5 L2216.7,2289.5 L2219.5,2305 L2222.3,2284.5 L2225,2300 L2227.8,2294.5 L2230.6,2300 L2233.3,2284.5 L2236.1,2289.5 L2238.9,2300 L2241.7,2294.5 L2244.4,2300 L2247.2,2284.5 L2250,2300 L2252.7,2284.5 L2255.5,2305 L2258.3,2289.5 L2261.1,2300 L2263.8,2300 L2266.6,2309.5 L2269.4,2305 L2272.1,2300 L2274.9,2300 L2277.7,2284.5 L2280.5,2289.5 L2283.2,2300 L2286,2300 L2288.8,2309.5 L2291.5,2300 L2294.3,2300 L2297.1,2289.5 L2299.9,2305 L2302.6,2309.5 L2305.4,2294.5 L2308.2,2284.5 L2310.9,2309.5 L2313.7,2300 L2316.5,2300 L2319.3,2300 L2322,2284.5 L2324.8,2300 L2327.6,2294.5 L2330.3,2305 L2333.1,2300 L2335.9,2294.5 L2338.7,2294.5 L2341.4,2309.5 L2344.2,2294.5 L2347,2294.5 L2349.7,2305 L2352.5,2289.5 L2355.3,2300 L2358.1,2284.5 L2360.8,2300 L2363.6,2309.5 L2366.4,2309.5 L2369.1,2294.5 L2371.9,2300 L2374.7,2300 L2377.5,2300 L2380.2,2300 L2383,2300 L2385.8,2289.5 L2388.5,2300 L2391.3,2294.5 L2394.1,2294.5 L2396.9,2289.5 L2399.6,2294.5 L2402.4,2305 L2405.2,2300 L2407.9,2300 L2410.7,2294.5 L2413.5,2300 L2416.2,2309.5 L2419,2305 L2421.8,2289.5 L2424.6,2305 L2427.3,2300 L2430.1,2294.5 L2432.9,2300 L2435.6,2300 L2438.4,2300 L2441.2,2294.5 L2444,2294.5 L2446.7,2300 L2449.5,2294.5 L2452.3,2300 L2455,2309.5 L2457.8,2294.5 L2460.6,2294.5 L2463.4,2300 L2466.1,2289.5 L2468.9,2289.5 L2471.7,2305 L2474.4,2294.5 L2477.2,2300 L2480,2294.5 L2482.8,2300 L2485.5,2289.5 L2488.3,2300 L2491.1,2289.5 L2493.8,2300 L2496.6,2294.5 L2499.4,2300 L2502.2,2300 L2504.9,2300 L2507.7,2305 L2510.5,2300 L2513.2,2294.5 L2516,2284.5 L2518.8,2309.5 L2521.6,2300 L2524.3,2289.5 L2527.1,2284.5 L2529.9,2284.5 L2532.6,2300 L2535.4,2294.5 L2538.2,2284.5 L2541,2300 L2543.7,2294.5 L2546.5,2294.5 L2549.3,2305 L2552,2300 L2554.8,2289.5 L2557.6,2300 L2560.4,2300 L2563.1,2294.5 L2565.9,2294.5 L2568.7,2294.5 L2571.4,2309.5 L2574.2,2300 L2577,2294.5 L2579.7,2294.5 L2582.5,2300 L2585.3,2305 L2588.1,2300 L2590.8,2300 L2593.6,2300 L2596.4,2294.5 L2599.1,2294.5 L2601.9,2300 L2604.7,2305 L2607.5,2294.5 L2610.2,2300 L2613,2309.5 L2615.8,2305 L2618.5,2300 L2621.3,2305 L2624.1,2300 L2626.9,2300 L2629.6,2300 L2632.4,2309.5 L2635.2,2300 L2637.9,2300 L2640.7,2300 L2643.5,2284.5 L2646.3,2300 L2649,2305 L2651.8,2300 L2654.6,2294.5 L2657.3,2305 L2660.1,2300 L2662.9,2294.5 L2665.7,2294.5 L2668.4,2294.5 L2671.2,2300 L2674,2294.5 L2676.7,2300 L2679.5,2300 L2682.3,2300 L2685.1,2294.5 L2687.8,2294.5 L2690.6,2284.5 L2693.4,2300 L2696.1,2289.5 L2698.9,2300 L2701.7,2294.5 L2704.5,2305 L2707.2,2294.5 L2710,2300 L2712.8,2294.5 L2715.5,2300 L2718.3,2305 L2721.1,2294.5 L2723.9,2300 L2726.6,2294.5 L2729.4,2309.5 L2732.2,2309.5 L2734.9,2300 L2737.7,2300 L2740.5,2309.5 L2743.3,2300 L2746,2300 L2748.8,2300 L2751.6,2294.5 L2754.3,2289.5 L2757.1,2300 L2759.9,2300 L2762.6,2289.5 L2765.4,2300 L2768.2,2300 L2771,2289.5 L2773.7,2300 L2776.5,2289.5 L2779.3,2294.5 L2782,2284.5 L2784.8,2294.5 L2787.6,2309.5 L2790.4,2284.5 L2793.1,2289.5 L2795.9,2294.5 L2798.7,2294.5 L2801.4,2300 L2804.2,2300 L2807,2305 L2809.8,2284.5 L2812.5,2289.5 L2815.3,2305 L2818.1,2294.5 L2820.8,2309.5 L2823.6,2294.5 L2826.4,2309.5 L2829.2,2300 L2831.9,2300 L2834.7,2294.5 L2837.5,2284.5 L2840.2,2294.5 L2843,2284.5 L2845.8,2300 L2848.6,2289.5 L2851.3,2284.5 L2854.1,2294.5 L2856.9,2300 L2859.6,2294.5 L2862.4,2300 L2865.2,2300 L2868,2300 L2870.7,2289.5 L2873.5,2300 L2876.3,2289.5 L2879,2300 L2881.8,2300 L2884.6,2289.5 L2887.4,2305 L2890.1,2300 L2892.9,2294.5 L2895.7,2300 L2898.4,2294.5 L2901.2,2300 L2904,2300 L2906.8,2300 L2909.5,2305 L2912.3,2294.5 L2915.1,2294.5 L2917.8,2300 L2920.6,2289.5 L2923.4,2305 L2926.1,2300 L2928.9,2284.5 L2931.7,2305 L2934.5,2309.5 L2937.2,2294.5 L2940,2294.5 L2942.8,2300 L2945.5,2284.5 L2948.3,2300 L2951.1,2294.5 L2953.9,2294.5 L2956.6,2309.5 L2959.4,2284.5 L2962.2,2300 L2964.9,2300 L2967.7,2300 L2970.5,2300 L2973.3,2289.5 L2976,2300 L2978.8,2294.5 L2981.6,2300 L2984.3,2300 L2987.1,2294.5 L2989.9,2300 L2992.7,2309.5 L2995.4,2300 L2998.2,2305 L3001,2294.5 L3003.7,2300 L3006.5,2300 L3009.3,2294.5 L3012.1,2284.5 L3014.8,2300 L3017.6,2289.5 L3020.4,2294.5 L3023.1,2300 L3025.9,2305 L3028.7,2300 L3031.5,2294.5 L3034.2,2289.5 L3037,2305 L3039.8,2305 L3042.5,2300 L3045.3,2305 L3048.1,2300 L3050.9,2294.5 L3053.6,2300 L3056.4,2305 L3059.2,2289.5 L3061.9,2294.5 L3064.7,2284.5 L3067.5,2300 L3070.3,2300 L3073,2300 L3075.8,2300 L3078.6,2300 L3081.3,2289.5 L3084.1,2300 L3086.9,2305 L3089.7,2294.5 L3092.4,2300 L3095.2,2300 L3098,2300 L3100.7,2294.5 L3103.5,2300 L3106.3,2309.5 L3109,2300 L3111.8,2300 L3114.6,2300 L3117.4,2300 L3120.1,2300 L3122.9,2305 L3125.7,2300 L3128.4,2300 L3131.2,2294.5 L3134,2294.5 L3136.8,2300 L3139.5,2294.5 L3142.3,2300 L3145.1,2300 L3147.8,2300 L3150.6,2289.5 L3153.4,2300 L3156.2,2300 L3158.9,2294.5 L3161.7,2300 L3164.5,2294.5 L3167.2,2300 L3170,2294.5 L3172.8,2294.5 L3175.6,2294.5 L3178.3,2305 L3181.1,2284.5 L3183.9,2309.5 L3186.6,2300 L3189.4,2309.5 L3192.2,2300 L3195,2300 L3197.7,2300 L3200.5,2305 L3203.3,2309.5 L3206,2284.5 L3208.8,2300 L3211.6,2300 L3214.4,2300 L3217.1,2289.5 L3219.9,2289.5 L3222.7,2300 L3225.4,2300 L3228.2,2309.5 L3231,2300 L3233.8,2300 L3236.5,2294.5 L3239.3,2300 L3242.1,2284.5 L3244.8,2294.5 L3247.6,2294.5 L3250.4,2305 L3253.2,2300 L3255.9,2300 L3258.7,2284.5 L3261.5,2294.5 L3264.2,2300 L3267,2300 L3269.8,2294.5 L3272.5,2309.5 L3275.3,2309.5 L3278.1,2305 L3280.9,2309.5 L3283.6,2300 L3286.4,2300 L3289.2,2305 L3291.9,2300 L3294.7,2294.5 L3297.5,2294.5 L3300.3,2309.5 L3303,2300 L3305.8,2300 L3308.6,2300 L3311.3,2331.5" fill="none" stroke="#1f77b4" stroke-width="2.9" stroke-linejoin="round"/>
<path d="M409.9,2392.5 L412.7,2392.5 L415.4,2392.5 L418.2,2392.5 L421,2392.5 L423.8,2392.5 L426.5,2392.5 L429.3,2392.5 L432.1,2392.5 L434.8,2392.5 L437.6,2392.5 L440.4,2392.5 L443.2,2392.5 L445.9,2392.5 L448.7,2382 L451.5,2392.5 L454.2,2387.5 L457,2392.5 L459.8,2387.5 L462.6,2392.5 L465.3,2392.5 L468.1,2392.5 L470.9,2392.5 L473.6,2392.5 L476.4,2392.5 L479.2,2382 L482,2382 L484.7,2392.5 L487.5,2392.5 L490.3,2392.5 L493,2392.5 L495.8,2392.5 L498.6,2392.5 L501.3,2382 L504.1,2392.5 L506.9,2392.5 L509.7,2392.5 L512.4,2392.5 L515.2,2392.5 L518,2392.5 L520.7,2392.5 L523.5,2392.5 L526.3,2392.5 L529.1,2392.5 L531.8,2392.5 L534.6,2392.5 L537.4,2392.5 L540.1,2387.5 L542.9,2392.5 L545.7,2387.5 L548.5,2392.5 L551.2,2392.5 L554,2392.5 L556.8,2392.5 L559.5,2392.5 L562.3,2392.5 L565.1,2392.5 L567.9,2392.5 L570.6,2387.5 L573.4,2392.5 L576.2,2392.5 L578.9,2392.5 L581.7,2392.5 L584.5,2392.5 L587.3,2387.5 L590,2387.5 L592.8,2392.5 L595.6,2392.5 L598.3,2392.5 L601.1,2392.5 L603.9,2387.5 L606.7,2392.5 L609.4,2387.5 L612.2,2392.5 L615,2392.5 L617.7,2392.5 L620.5,2392.5 L623.3,2392.5 L626.1,2392.5 L628.8,2392.5 L631.6,2392.5 L634.4,2392.5 L637.1,2392.5 L639.9,2392.5 L642.7,2392.5 L645.5,2392.5 L648.2,2392.5 L651,2392.5 L653.8,2392.5 L656.5,2392.5 L659.3,2392.5 L662.1,2392.5 L664.9,2392.5 L667.6,2392.5 L670.4,2392.5 L673.2,2392.5 L675.9,2392.5 L678.7,2392.5 L681.5,2392.5 L684.2,2392.5 L687,2392.5 L689.8,2392.5 L692.6,2392.5 L695.3,2392.5 L698.1,2392.5 L700.9,2382 L703.6,2392.5 L706.4,2392.5 L709.2,2392.5 L712,2392.5 L714.7,2392.5 L717.5,2392.5 L720.3,2392.5 L723,2392.5 L725.8,2392.5 L728.6,2382 L731.4,2392.5 L734.1,2392.5 L736.9,2392.5 L739.7,2392.5 L742.4,2392.5 L745.2,2392.5 L748,2387.5 L750.8,2392.5 L753.5,2392.5 L756.3,2387.5 L759.1,2382 L761.8,2392.5 L764.6,2392.5 L767.4,2392.5 L770.2,2392.5 L772.9,2392.5 L775.7,2392.5 L778.5,2392.5 L781.2,2392.5 L784,2392.5 L786.8,2392.5 L789.6,2392.5 L792.3,2392.5 L795.1,2392.5 L797.9,2392.5 L800.6,2392.5 L803.4,2392.5 L806.2,2392.5 L809,2392.5 L811.7,2392.5 L814.5,2392.5 L817.3,2392.5 L820,2387.5 L822.8,2392.5 L825.6,2387.5 L828.4,2387.5 L831.1,2392.5 L833.9,2392.5 L836.7,2392.5 L839.4,2392.5 L842.2,2387.5 L845,2392.5 L847.7,2392.5 L850.5,2392.5 L853.3,2392.5 L856.1,2387.5 L858.8,2387.5 L861.6,2392.5 L864.4,2392.5 L867.1,2392.5 L869.9,2392.5 L872.7,2392.5 L875.5,2387.5 L878.2,2392.5 L881,2392.5 L883.8,2382 L886.5,2387.5 L889.3,2392.5 L892.1,2392.5 L894.9,2392.5 L897.6,2392.5 L900.4,2392.5 L903.2,2387.5 L905.9,2392.5 L908.7,2387.5 L911.5,2387.5 L914.3,2392.5 L917,2392.5 L919.8,2387.5 L922.6,2387.5 L925.3,2392.5 L928.1,2382 L930.9,2392.5 L933.7,2392.5 L936.4,2392.5 L939.2,2392.5 L942,2387.5 L944.7,2387.5 L947.5,2392.5 L950.3,2392.5 L953.1,2392.5 L955.8,2392.5 L958.6,2392.5 L961.4,2392.5 L964.1,2392.5 L966.9,2387.5 L969.7,2392.5 L972.5,2392.5 L975.2,2392.5 L978,2392.5 L980.8,2392.5 L983.5,2392.5 L986.3,2392.5 L989.1,2382 L991.9,2387.5 L994.6,2387.5 L997.4,2382 L1000.2,2392.5 L1002.9,2392.5 L1005.7,2387.5 L1008.5,2392.5 L1011.3,2382 L1014,2392.5 L1016.8,2392.5 L1019.6,2387.5 L1022.3,2382 L1025.1,2392.5 L1027.9,2392.5 L1030.6,2392.5 L1033.4,2392.5 L1036.2,2382 L1039,2392.5 L1041.7,2392.5 L1044.5,2387.5 L1047.3,2392.5 L1050,2392.5 L1052.8,2382 L1055.6,2392.5 L1058.4,2392.5 L1061.1,2392.5 L1063.9,2392.5 L1066.7,2392.5 L1069.4,2392.5 L1072.2,2392.5 L1075,2392.5 L1077.8,2392.5 L1080.5,2382 L1083.3,2382 L1086.1,2392.5 L1088.8,2387.5 L1091.6,2392.5 L1094.4,2392.5 L1097.2,2392.5 L1099.9,2382 L1102.7,2392.5 L1105.5,2392.5 L1108.2,2392.5 L1111,2387.5 L1113.8,2382 L1116.6,2392.5 L1119.3,2392.5 L1122.1,2392.5 L1124.9,2392.5 L1127.6,2387.5 L1130.4,2387.5 L1133.2,2392.5 L1136,2392.5 L1138.7,2387.5 L1141.5,2392.5 L1144.3,2392.5 L1147,2387.5 L1149.8,2382 L1152.6,2382 L1155.4,2392.5 L1158.1,2382 L1160.9,2392.5 L1163.7,2392.5 L1166.4,2392.5 L1169.2,2392.5 L1172,2392.5 L1174.8,2387.5 L1177.5,2382 L1180.3,2392.5 L1183.1,2392.5 L1185.8,2392.5 L1188.6,2392.5 L1191.4,2392.5 L1194.1,2382 L1196.9,2387.5 L1199.7,2392.5 L1202.5,2392.5 L1205.2,2382 L1208,2392.5 L1210.8,2392.5 L1213.5,2392.5 L1216.3,2392.5 L1219.1,2382 L1221.9,2392.5 L1224.6,2392.5 L1227.4,2387.5 L1230.2,2382 L1232.9,2392.5 L1235.7,2392.5 L1238.5,2382 L1241.3,2392.5 L1244,2392.5 L1246.8,2382 L1249.6,2392.5 L1252.3,2392.5 L1255.1,2392.5 L1257.9,2392.5 L1260.7,2392.5 L1263.4,2392.5 L1266.2,2392.5 L1269,2392.5 L1271.7,2387.5 L1274.5,2387.5 L1277.3,2392.5 L1280.1,2387.5 L1282.8,2392.5 L1285.6,2392.5 L1288.4,2392.5 L1291.1,2392.5 L1293.9,2392.5 L1296.7,2392.5 L1299.5,2392.5 L1302.2,2392.5 L1305,2392.5 L1307.8,2387.5 L1310.5,2392.5 L1313.3,2392.5 L1316.1,2387.5 L1318.9,2387.5 L1321.6,2382 L1324.4,2392.5 L1327.2,2392.5 L1329.9,2392.5 L1332.7,2382 L1335.5,2392.5 L1338.3,2382 L1341,2392.5 L1343.8,2392.5 L1346.6,2387.5 L1349.3,2392.5 L1352.1,2392.5 L1354.9,2387.5 L1357.7,2387.5 L1360.4,2387.5 L1363.2,2387.5 L1366,2382 L1368.7,2392.5 L1371.5,2392.5 L1374.3,2392.5 L1377,2392.5 L1379.8,2382 L1382.6,2392.5 L1385.4,2392.5 L1388.1,2387.5 L1390.9,2387.5 L1393.7,2392.5 L1396.4,2392.5 L1399.2,2392.5 L1402,2392.5 L1404.8,2392.5 L1407.5,2387.5 L1410.3,2392.5 L1413.1,2392.5 L1415.8,2392.5 L1418.6,2392.5 L1421.4,2392.5 L1424.2,2392.5 L1426.9,2392.5 L1429.7,2382 L1432.5,2387.5 L1435.2,2392.5 L1438,2392.5 L1440.8,2387.5 L1443.6,2392.5 L1446.3,2392.5 L1449.1,2392.5 L1451.9,2392.5 L1454.6,2382 L1457.4,2392.5 L1460.2,2382 L1463,2392.5 L1465.7,2392.5 L1468.5,2392.5 L1471.3,2387.5 L1474,2387.5 L1476.8,2392.5 L1479.6,2392.5 L1482.4,2392.5 L1485.1,2392.5 L1487.9,2392.5 L1490.7,2392.5 L1493.4,2387.5 L1496.2,2392.5 L1499,2392.5 L1501.8,2387.5 L1504.5,2382 L1507.3,2387.5 L1510.1,2392.5 L1512.8,2387.5 L1515.6,2387.5 L1518.4,2392.5 L1521.2,2392.5 L1523.9,2392.5 L1526.7,2387.5 L1529.5,2392.5 L1532.2,2387.5 L1535,2392.5 L1537.8,2382 L1540.5,2392.5 L1543.3,2392.5 L1546.1,2392.5 L1548.9,2387.5 L1551.6,2392.5 L1554.4,2392.5 L1557.2,2392.5 L1559.9,2392.5 L1562.7,2392.5 L1565.5,2387.5 L1568.3,2392.5 L1571,2382 L1573.8,2392.5 L1576.6,2382 L1579.3,2387.5 L1582.1,2392.5 L1584.9,2387.5 L1587.7,2392.5 L1590.4,2392.5 L1593.2,2392.5 L1596,2392.5 L1598.7,2392.5 L1601.5,2387.5 L1604.3,2392.5 L1607.1,2392.5 L1609.8,2387.5 L1612.6,2387.5 L1615.4,2392.5 L1618.1,2387.5 L1620.9,2387.5 L1623.7,2392.5 L1626.5,2392.5 L1629.2,2392.5 L1632,2392.5 L1634.8,2392.5 L1637.5,2382 L1640.3,2392.5 L1643.1,2392.5 L1645.9,2392.5 L1648.6,2382 L1651.4,2392.5 L1654.2,2392.5 L1656.9,2382 L1659.7,2392.5 L1662.5,2382 L1665.3,2392.5 L1668,2392.5 L1670.8,2392.5 L1673.6,2392.5 L1676.3,2387.5 L1679.1,2392.5 L1681.9,2387.5 L1684.7,2387.5 L1687.4,2392.5 L1690.2,2392.5 L1693,2387.5 L1695.7,2392.5 L1698.5,2392.5 L1701.3,2392.5 L1704.1,2392.5 L1706.8,2392.5 L1709.6,2392.5 L1712.4,2392.5 L1715.1,2387.5 L1717.9,2392.5 L1720.7,2387.5 L1723.4,2392.5 L1726.2,2387.5 L1729,2392.5 L1731.8,2392.5 L1734.5,2392.5 L1737.3,2392.5 L1740.1,2392.5 L1742.8,2387.5 L1745.6,2387.5 L1748.4,2392.5 L1751.2,2382 L1753.9,2392.5 L1756.7,2387.5 L1759.5,2392.5 L1762.2,2392.5 L1765,2392.5 L1767.8,2392.5 L1770.6,2392.5 L1773.3,2387.5 L1776.1,2392.5 L1778.9,2392.5 L1781.6,2392.5 L1784.4,2382 L1787.2,2387.5 L1790,2392.5 L1792.7,2392.5 L1795.5,2392.5 L1798.3,2392.5 L1801,2392.5 L1803.8,2392.5 L1806.6,2392.5 L1809.4,2382 L1812.1,2387.5 L1814.9,2392.5 L1817.7,2387.5 L1820.4,2382 L1823.2,2392.5 L1826,2382 L1828.8,2382 L1831.5,2392.5 L1834.3,2392.5 L1837.1,2392.5 L1839.8,2392.5 L1842.6,2382 L1845.4,2392.5 L1848.2,2387.5 L1850.9,2387.5 L1853.7,2392.5 L1856.5,2392.5 L1859.2,2382 L1862,2392.5 L1864.8,2387.5 L1867.6,2382 L1870.3,2392.5 L1873.1,2392.5 L1875.9,2392.5 L1878.6,2392.5 L1881.4,2392.5 L1884.2,2392.5 L1886.9,2392.5 L1889.7,2387.5 L1892.5,2392.5 L1895.3,2387.5 L1898,2392.5 L1900.8,2387.5 L1903.6,2392.5 L1906.3,2392.5 L1909.1,2382 L1911.9,2387.5 L1914.7,2392.5 L1917.4,2392.5 L1920.2,2382 L1923,2392.5 L1925.7,2392.5 L1928.5,2392.5 L1931.3,2392.5 L1934.1,2392.5 L1936.8,2392.5 L1939.6,2392.5 L1942.4,2382 L1945.1,2387.5 L1947.9,2392.5 L1950.7,2392.5 L1953.5,2392.5 L1956.2,2392.5 L1959,2392.5 L1961.8,2392.5 L1964.5,2382 L1967.3,2392.5 L1970.1,2392.5 L1972.9,2392.5 L1975.6,2382 L1978.4,2392.5 L1981.2,2392.5 L1983.9,2392.5 L1986.7,2392.5 L1989.5,2382 L1992.3,2382 L1995,2392.5 L1997.8,2387.5 L2000.6,2382 L2003.3,2392.5 L2006.1,2387.5 L2008.9,2392.5 L2011.7,2382 L2014.4,2382 L2017.2,2382 L2020,2392.5 L2022.7,2387.5 L2025.5,2387.5 L2028.3,2392.5 L2031.1,2392.5 L2033.8,2392.5 L2036.6,2387.5 L2039.4,2392.5 L2042.1,2382 L2044.9,2382 L2047.7,2392.5 L2050.5,2392.5 L2053.2,2392.5 L2056,2392.5 L2058.8,2392.5 L2061.5,2382 L2064.3,2392.5 L2067.1,2392.5 L2069.8,2382 L2072.6,2387.5 L2075.4,2392.5 L2078.2,2392.5 L2080.9,2392.5 L2083.7,2392.5 L2086.5,2387.5 L2089.2,2392.5 L2092,2387.5 L2094.8,2392.5 L2097.6,2392.5 L2100.3,2392.5 L2103.1,2392.5 L2105.9,2392.5 L2108.6,2392.5 L2111.4,2392.5 L2114.2,2392.5 L2117,2387.5 L2119.7,2392.5 L2122.5,2382 L2125.3,2392.5 L2128,2387.5 L2130.8,2392.5 L2133.6,2392.5 L2136.4,2382 L2139.1,2392.5 L2141.9,2382 L2144.7,2392.5 L2147.4,2382 L2150.2,2392.5 L2153,2392.5 L2155.8,2392.5 L2158.5,2387.5 L2161.3,2382 L2164.1,2387.5 L2166.8,2392.5 L2169.6,2392.5 L2172.4,2382 L2175.2,2392.5 L2177.9,2387.5 L2180.7,2392.5 L2183.5,2387.5 L2186.2,2387.5 L2189,2392.5 L2191.8,2392.5 L2194.6,2392.5 L2197.3,2387.5 L2200.1,2387.5 L2202.9,2382 L2205.6,2392.5 L2208.4,2392.5 L2211.2,2392.5 L2214,2392.5 L2216.7,2392.5 L2219.5,2387.5 L2222.3,2392.5 L2225,2392.5 L2227.8,2392.5 L2230.6,2387.5 L2233.3,2382 L2236.1,2392.5 L2238.9,2387.5 L2241.7,2392.5 L2244.4,2392.5 L2247.2,2387.5 L2250,2392.5 L2252.7,2392.5 L2255.5,2382 L2258.3,2392.5 L2261.1,2392.5 L2263.8,2382 L2266.6,2387.5 L2269.4,2392.5 L2272.1,2387.5 L2274.9,2382 L2277.7,2392.5 L2280.5,2392.5 L2283.2,2392.5 L2286,2382 L2288.8,2392.5 L2291.5,2387.5 L2294.3,2382 L2297.1,2382 L2299.9,2387.5 L2302.6,2392.5 L2305.4,2382 L2308.2,2387.5 L2310.9,2392.5 L2313.7,2392.5 L2316.5,2392.5 L2319.3,2392.5 L2322,2392.5 L2324.8,2392.5 L2327.6,2382 L2330.3,2392.5 L2333.1,2392.5 L2335.9,2392.5 L2338.7,2382 L2341.4,2382 L2344.2,2387.5 L2347,2387.5 L2349.7,2392.5 L2352.5,2387.5 L2355.3,2392.5 L2358.1,2387.5 L2360.8,2392.5 L2363.6,2392.5 L2366.4,2392.5 L2369.1,2392.5 L2371.9,2392.5 L2374.7,2392.5 L2377.5,2392.5 L2380.2,2392.5 L2383,2392.5 L2385.8,2392.5 L2388.5,2382 L2391.3,2382 L2394.1,2392.5 L2396.9,2382 L2399.6,2392.5 L2402.4,2392.5 L2405.2,2392.5 L2407.9,2392.5 L2410.7,2392.5 L2413.5,2392.5 L2416.2,2382 L2419,2392.5 L2421.8,2392.5 L2424.6,2392.5 L2427.3,2382 L2430.1,2392.5 L2432.9,2382 L2435.6,2392.5 L2438.4,2392.5 L2441.2,2392.5 L2444,2387.5 L2446.7,2387.5 L2449.5,2392.5 L2452.3,2392.5 L2455,2392.5 L2457.8,2387.5 L2460.6,2392.5 L2463.4,2392.5 L2466.1,2392.5 L2468.9,2387.5 L2471.7,2382 L2474.4,2392.5 L2477.2,2382 L2480,2392.5 L2482.8,2392.5 L2485.5,2392.5 L2488.3,2387.5 L2491.1,2387.5 L2493.8,2392.5 L2496.6,2387.5 L2499.4,2392.5 L2502.2,2387.5 L2504.9,2392.5 L2507.7,2392.5 L2510.5,2392.5 L2513.2,2392.5 L2516,2382 L2518.8,2392.5 L2521.6,2392.5 L2524.3,2387.5 L2527.1,2392.5 L2529.9,2392.5 L2532.6,2392.5 L2535.4,2392.5 L2538.2,2382 L2541,2382 L2543.7,2392.5 L2546.5,2392.5 L2549.3,2387.5 L2552,2392.5 L2554.8,2387.5 L2557.6,2382 L2560.4,2392.5 L2563.1,2387.5 L2565.9,2392.5 L2568.7,2392.5 L2571.4,2392.5 L2574.2,2392.5 L2577,2387.5 L2579.7,2392.5 L2582.5,2392.5 L2585.3,2392.5 L2588.1,2392.5 L2590.8,2392.5 L2593.6,2382 L2596.4,2387.5 L2599.1,2387.5 L2601.9,2392.5 L2604.7,2392.5 L2607.5,2392.5 L2610.2,2392.5 L2613,2392.5 L2615.8,2392.5 L2618.5,2387.5 L2621.3,2392.5 L2624.1,2392.5 L2626.9,2392.5 L2629.6,2392.5 L2632.4,2392.5 L2635.2,2392.5 L2637.9,2392.5 L2640.7,2392.5 L2643.5,2392.5 L2646.3,2392.5 L2649,2387.5 L2651.8,2392.5 L2654.6,2392.5 L2657.3,2392.5 L2660.1,2392.5 L2662.9,2387.5 L2665.7,2392.5 L2668.4,2392.5 L2671.2,2382 L2674,2392.5 L2676.7,2392.5 L2679.5,2392.5 L2682.3,2392.5 L2685.1,2387.5 L2687.8,2392.5 L2690.6,2387.5 L2693.4,2392.5 L2696.1,2387.5 L2698.9,2392.5 L2701.7,2392.5 L2704.5,2392.5 L2707.2,2382 L2710,2392.5 L2712.8,2392.5 L2715.5,2382 L2718.3,2392.5 L2721.1,2392.5 L2723.9,2392.5 L2726.6,2392.5 L2729.4,2392.5 L2732.2,2392.5 L2734.9,2392.5 L2737.7,2392.5 L2740.5,2387.5 L2743.3,2382 L2746,2392.5 L2748.8,2392.5 L2751.6,2382 L2754.3,2392.5 L2757.1,2382 L2759.9,2382 L2762.6,2392.5 L2765.4,2387.5 L2768.2,2392.5 L2771,2387.5 L2773.7,2387.5 L2776.5,2387.5 L2779.3,2392.5 L2782,2392.5 L2784.8,2392.5 L2787.6,2392.5 L2790.4,2392.5 L2793.1,2387.5 L2795.9,2392.5 L2798.7,2387.5 L2801.4,2392.5 L2804.2,2382 L2807,2392.5 L2809.8,2387.5 L2812.5,2392.5 L2815.3,2392.5 L2818.1,2387.5 L2820.8,2387.5 L2823.6,2392.5 L2826.4,2392.5 L2829.2,2387.5 L2831.9,2392.5 L2834.7,2387.5 L2837.5,2387.5 L2840.2,2382 L2843,2382 L2845.8,2387.5 L2848.6,2392.5 L2851.3,2387.5 L2854.1,2392.5 L2856.9,2392.5 L2859.6,2387.5 L2862.4,2392.5 L2865.2,2392.5 L2868,2382 L2870.7,2387.5 L2873.5,2392.5 L2876.3,2387.5 L2879,2382 L2881.8,2387.5 L2884.6,2392.5 L2887.4,2392.5 L2890.1,2392.5 L2892.9,2392.5 L2895.7,2387.5 L2898.4,2392.5 L2901.2,2392.5 L2904,2382 L2906.8,2392.5 L2909.5,2392.5 L2912.3,2387.5 L2915.1,2387.5 L2917.8,2392.5 L2920.6,2392.5 L2923.4,2392.5 L2926.1,2392.5 L2928.9,2382 L2931.7,2382 L2934.5,2387.5 L2937.2,2387.5 L2940,2392.5 L2942.8,2392.5 L2945.5,2387.5 L2948.3,2387.5 L2951.1,2392.5 L2953.9,2392.5 L2956.6,2392.5 L2959.4,2387.5 L2962.2,2392.5 L2964.9,2392.5 L2967.7,2392.5 L2970.5,2382 L2973.3,2387.5 L2976,2387.5 L2978.8,2392.5 L2981.6,2392.5 L2984.3,2392.5 L2987.1,2392.5 L2989.9,2382 L2992.7,2392.5 L2995.4,2392.5 L2998.2,2392.5 L3001,2392.5 L3003.7,2392.5 L3006.5,2392.5 L3009.3,2387.5 L3012.1,2387.5 L3014.8,2392.5 L3017.6,2392.5 L3020.4,2392.5 L3023.1,2392.5 L3025.9,2392.5 L3028.7,2392.5 L3031.5,2392.5 L3034.2,2392.5 L3037,2382 L3039.8,2387.5 L3042.5,2382 L3045.3,2392.5 L3048.1,2392.5 L3050.9,2392.5 L3053.6,2382 L3056.4,2392.5 L3059.2,2392.5 L3061.9,2392.5 L3064.7,2392.5 L3067.5,2392.5 L3070.3,2392.5 L3073,2392.5 L3075.8,2382 L3078.6,2392.5 L3081.3,2387.5 L3084.1,2392.5 L3086.9,2392.5 L3089.7,2392.5 L3092.4,2392.5 L3095.2,2387.5 L3098,2392.5 L3100.7,2392.5 L3103.5,2392.5 L3106.3,2392.5 L3109,2392.5 L3111.8,2392.5 L3114.6,2392.5 L3117.4,2392.5 L3120.1,2392.5 L3122.9,2382 L3125.7,2382 L3128.4,2392.5 L3131.2,2392.5 L3134,2392.5 L3136.8,2392.5 L3139.5,2392.5 L3142.3,2387.5 L3145.1,2392.5 L3147.8,2392.5 L3150.6,2392.5 L3153.4,2392.5 L3156.2,2392.5 L3158.9,2392.5 L3161.7,2392.5 L3164.5,2392.5 L3167.2,2392.5 L3170,2387.5 L3172.8,2382 L3175.6,2392.5 L3178.3,2392.5 L3181.1,2392.5 L3183.9,2387.5 L3186.6,2392.5 L3189.4,2387.5 L3192.2,2392.5 L3195,2392.5 L3197.7,2382 L3200.5,2387.5 L3203.3,2387.5 L3206,2392.5 L3208.8,2392.5 L3211.6,2382 L3214.4,2392.5 L3217.1,2392.5 L3219.9,2392.5 L3222.7,2392.5 L3225.4,2382 L3228.2,2392.5 L3231,2392.5 L3233.8,2392.5 L3236.5,2392.5 L3239.3,2392.5 L3242.1,2392.5 L3244.8,2387.5 L3247.6,2392.5 L3250.4,2392.5 L3253.2,2392.5 L3255.9,2392.5 L3258.7,2392.5 L3261.5,2392.5 L3264.2,2382 L3267,2387.5 L3269.8,2392.5 L3272.5,2392.5 L3275.3,2387.5 L3278.1,2387.5 L3280.9,2387.5 L3283.6,2392.5 L3286.4,2392.5 L3289.2,2392.5 L3291.9,2392.5 L3294.7,2387.5 L3297.5,2392.5 L3300.3,2392.5 L3303,2387.5 L3305.8,2392.5 L3308.6,2387.5 L3311.3,2345" fill="none" stroke="#0c0c6a" stroke-width="2.9" stroke-linejoin="round"/>
<path d="M409.9,2453.9 L412.7,2453.9 L415.4,2453.9 L418.2,2453.9 L421,2453.9 L423.8,2453.9 L426.5,2453.9 L429.3,2453.9 L432.1,2453.9 L434.8,2453.9 L437.6,2453.9 L440.4,2453.9 L443.2,2453.9 L445.9,2453.9 L448.7,2453.9 L451.5,2453.9 L454.2,2453.9 L457,2453.9 L459.8,2453.9 L462.6,2453.9 L465.3,2453.9 L468.1,2453.9 L470.9,2453.9 L473.6,2453.9 L476.4,2453.9 L479.2,2453.9 L482,2453.9 L484.7,2453.9 L487.5,2453.9 L490.3,2453.9 L493,2453.9 L495.8,2453.9 L498.6,2453.9 L501.3,2453.9 L504.1,2453.9 L506.9,2453.9 L509.7,2453.9 L512.4,2453.9 L515.2,2453.9 L518,2453.9 L520.7,2453.9 L523.5,2453.9 L526.3,2453.9 L529.1,2453.9 L531.8,2453.9 L534.6,2453.9 L537.4,2453.9 L540.1,2453.9 L542.9,2453.9 L545.7,2453.9 L548.5,2453.9 L551.2,2453.9 L554,2453.9 L556.8,2453.9 L559.5,2453.9 L562.3,2453.9 L565.1,2453.9 L567.9,2453.9 L570.6,2453.9 L573.4,2453.9 L576.2,2453.9 L578.9,2453.9 L581.7,2453.9 L584.5,2453.9 L587.3,2453.9 L590,2453.9 L592.8,2453.9 L595.6,2453.9 L598.3,2453.9 L601.1,2453.9 L603.9,2453.9 L606.7,2453.9 L609.4,2453.9 L612.2,2453.9 L615,2453.9 L617.7,2453.9 L620.5,2453.9 L623.3,2453.9 L626.1,2453.9 L628.8,2453.9 L631.6,2453.9 L634.4,2453.9 L637.1,2453.9 L639.9,2453.9 L642.7,2453.9 L645.5,2453.9 L648.2,2453.9 L651,2453.9 L653.8,2453.9 L656.5,2453.9 L659.3,2453.9 L662.1,2453.9 L664.9,2453.9 L667.6,2453.9 L670.4,2453.9 L673.2,2453.9 L675.9,2453.9 L678.7,2453.9 L681.5,2453.9 L684.2,2453.9 L687,2453.9 L689.8,2453.9 L692.6,2453.9 L695.3,2453.9 L698.1,2453.9 L700.9,2453.9 L703.6,2453.9 L706.4,2453.9 L709.2,2453.9 L712,2453.9 L714.7,2453.9 L717.5,2453.9 L720.3,2453.9 L723,2453.9 L725.8,2453.9 L728.6,2453.9 L731.4,2453.9 L734.1,2453.9 L736.9,2453.9 L739.7,2453.9 L742.4,2453.9 L745.2,2453.9 L748,2453.9 L750.8,2453.9 L753.5,2453.9 L756.3,2453.9 L759.1,2453.9 L761.8,2453.9 L764.6,2453.9 L767.4,2453.9 L770.2,2453.9 L772.9,2453.9 L775.7,2453.9 L778.5,2453.9 L781.2,2453.9 L784,2453.9 L786.8,2453.9 L789.6,2453.9 L792.3,2453.9 L795.1,2453.9 L797.9,2453.9 L800.6,2453.9 L803.4,2453.9 L806.2,2453.9 L809,2453.9 L811.7,2453.9 L814.5,2453.9 L817.3,2453.9 L820,2453.9 L822.8,2453.9 L825.6,2453.9 L828.4,2453.9 L831.1,2453.9 L833.9,2453.9 L836.7,2453.9 L839.4,2453.9 L842.2,2453.9 L845,2453.9 L847.7,2453.9 L850.5,2453.9 L853.3,2453.9 L856.1,2453.9 L858.8,2453.9 L861.6,2453.9 L864.4,2453.9 L867.1,2453.9 L869.9,2453.9 L872.7,2453.9 L875.5,2453.9 L878.2,2453.9 L881,2453.9 L883.8,2453.9 L886.5,2453.9 L889.3,2453.9 L892.1,2453.9 L894.9,2453.9 L897.6,2453.9 L900.4,2453.9 L903.2,2436.9 L905.9,2453.9 L908.7,2453.9 L911.5,2453.9 L914.3,2453.9 L917,2453.9 L919.8,2453.9 L922.6,2453.9 L925.3,2453.9 L928.1,2453.9 L930.9,2453.9 L933.7,2453.9 L936.4,2453.9 L939.2,2453.9 L942,2453.9 L944.7,2453.9 L947.5,2453.9 L950.3,2453.9 L953.1,2453.9 L955.8,2453.9 L958.6,2453.9 L961.4,2453.9 L964.1,2453.9 L966.9,2453.9 L969.7,2453.9 L972.5,2453.9 L975.2,2453.9 L978,2453.9 L980.8,2453.9 L983.5,2453.9 L986.3,2453.9 L989.1,2453.9 L991.9,2453.9 L994.6,2453.9 L997.4,2453.9 L1000.2,2453.9 L1002.9,2453.9 L1005.7,2453.9 L1008.5,2453.9 L1011.3,2453.9 L1014,2453.9 L1016.8,2453.9 L1019.6,2453.9 L1022.3,2453.9 L1025.1,2453.9 L1027.9,2453.9 L1030.6,2453.9 L1033.4,2453.9 L1036.2,2453.9 L1039,2453.9 L1041.7,2453.9 L1044.5,2453.9 L1047.3,2422.7 L1050,2453.9 L1052.8,2453.9 L1055.6,2453.9 L1058.4,2453.9 L1061.1,2453.9 L1063.9,2453.9 L1066.7,2453.9 L1069.4,2453.9 L1072.2,2453.9 L1075,2453.9 L1077.8,2453.9 L1080.5,2453.9 L1083.3,2453.9 L1086.1,2453.9 L1088.8,2453.9 L1091.6,2453.9 L1094.4,2453.9 L1097.2,2453.9 L1099.9,2453.9 L1102.7,2453.9 L1105.5,2453.9 L1108.2,2453.9 L1111,2453.9 L1113.8,2453.9 L1116.6,2453.9 L1119.3,2453.9 L1122.1,2453.9 L1124.9,2453.9 L1127.6,2453.9 L1130.4,2453.9 L1133.2,2453.9 L1136,2453.9 L1138.7,2453.9 L1141.5,2453.9 L1144.3,2453.9 L1147,2453.9 L1149.8,2453.9 L1152.6,2453.9 L1155.4,2453.9 L1158.1,2453.9 L1160.9,2453.9 L1163.7,2453.9 L1166.4,2453.9 L1169.2,2453.9 L1172,2453.9 L1174.8,2406.7 L1177.5,2453.9 L1180.3,2453.9 L1183.1,2453.9 L1185.8,2453.9 L1188.6,2453.9 L1191.4,2453.9 L1194.1,2453.9 L1196.9,2453.9 L1199.7,2453.9 L1202.5,2453.9 L1205.2,2453.9 L1208,2453.9 L1210.8,2453.9 L1213.5,2453.9 L1216.3,2453.9 L1219.1,2453.9 L1221.9,2453.9 L1224.6,2453.9 L1227.4,2453.9 L1230.2,2453.9 L1232.9,2453.9 L1235.7,2422.7 L1238.5,2453.9 L1241.3,2453.9 L1244,2453.9 L1246.8,2453.9 L1249.6,2453.9 L1252.3,2453.9 L1255.1,2453.9 L1257.9,2453.9 L1260.7,2453.9 L1263.4,2453.9 L1266.2,2453.9 L1269,2453.9 L1271.7,2453.9 L1274.5,2453.9 L1277.3,2453.9 L1280.1,2453.9 L1282.8,2453.9 L1285.6,2453.9 L1288.4,2453.9 L1291.1,2453.9 L1293.9,2453.9 L1296.7,2453.9 L1299.5,2453.9 L1302.2,2453.9 L1305,2453.9 L1307.8,2453.9 L1310.5,2453.9 L1313.3,2453.9 L1316.1,2453.9 L1318.9,2453.9 L1321.6,2453.9 L1324.4,2453.9 L1327.2,2453.9 L1329.9,2453.9 L1332.7,2453.9 L1335.5,2453.9 L1338.3,2453.9 L1341,2453.9 L1343.8,2406.7 L1346.6,2406.7 L1349.3,2453.9 L1352.1,2453.9 L1354.9,2453.9 L1357.7,2453.9 L1360.4,2453.9 L1363.2,2453.9 L1366,2453.9 L1368.7,2453.9 L1371.5,2453.9 L1374.3,2453.9 L1377,2422.7 L1379.8,2453.9 L1382.6,2453.9 L1385.4,2453.9 L1388.1,2453.9 L1390.9,2453.9 L1393.7,2453.9 L1396.4,2453.9 L1399.2,2453.9 L1402,2453.9 L1404.8,2453.9 L1407.5,2453.9 L1410.3,2453.9 L1413.1,2453.9 L1415.8,2453.9 L1418.6,2453.9 L1421.4,2406.7 L1424.2,2406.7 L1426.9,2453.9 L1429.7,2453.9 L1432.5,2453.9 L1435.2,2453.9 L1438,2453.9 L1440.8,2453.9 L1443.6,2453.9 L1446.3,2453.9 L1449.1,2453.9 L1451.9,2453.9 L1454.6,2453.9 L1457.4,2453.9 L1460.2,2453.9 L1463,2453.9 L1465.7,2453.9 L1468.5,2453.9 L1471.3,2453.9 L1474,2453.9 L1476.8,2453.9 L1479.6,2453.9 L1482.4,2453.9 L1485.1,2453.9 L1487.9,2453.9 L1490.7,2453.9 L1493.4,2453.9 L1496.2,2453.9 L1499,2453.9 L1501.8,2453.9 L1504.5,2453.9 L1507.3,2453.9 L1510.1,2453.9 L1512.8,2453.9 L1515.6,2453.9 L1518.4,2453.9 L1521.2,2453.9 L1523.9,2453.9 L1526.7,2453.9 L1529.5,2453.9 L1532.2,2453.9 L1535,2453.9 L1537.8,2453.9 L1540.5,2453.9 L1543.3,2453.9 L1546.1,2453.9 L1548.9,2453.9 L1551.6,2453.9 L1554.4,2453.9 L1557.2,2453.9 L1559.9,2453.9 L1562.7,2436.9 L1565.5,2453.9 L1568.3,2453.9 L1571,2453.9 L1573.8,2453.9 L1576.6,2453.9 L1579.3,2453.9 L1582.1,2453.9 L1584.9,2453.9 L1587.7,2453.9 L1590.4,2453.9 L1593.2,2453.9 L1596,2453.9 L1598.7,2453.9 L1601.5,2453.9 L1604.3,2453.9 L1607.1,2453.9 L1609.8,2453.9 L1612.6,2453.9 L1615.4,2453.9 L1618.1,2453.9 L1620.9,2453.9 L1623.7,2453.9 L1626.5,2453.9 L1629.2,2453.9 L1632,2453.9 L1634.8,2453.9 L1637.5,2436.9 L1640.3,2453.9 L1643.1,2453.9 L1645.9,2453.9 L1648.6,2453.9 L1651.4,2453.9 L1654.2,2453.9 L1656.9,2453.9 L1659.7,2453.9 L1662.5,2453.9 L1665.3,2453.9 L1668,2453.9 L1670.8,2453.9 L1673.6,2453.9 L1676.3,2453.9 L1679.1,2453.9 L1681.9,2453.9 L1684.7,2453.9 L1687.4,2453.9 L1690.2,2453.9 L1693,2453.9 L1695.7,2453.9 L1698.5,2453.9 L1701.3,2453.9 L1704.1,2453.9 L1706.8,2453.9 L1709.6,2453.9 L1712.4,2453.9 L1715.1,2453.9 L1717.9,2453.9 L1720.7,2453.9 L1723.4,2453.9 L1726.2,2453.9 L1729,2453.9 L1731.8,2453.9 L1734.5,2453.9 L1737.3,2453.9 L1740.1,2453.9 L1742.8,2453.9 L1745.6,2453.9 L1748.4,2453.9 L1751.2,2406.7 L1753.9,2453.9 L1756.7,2453.9 L1759.5,2453.9 L1762.2,2453.9 L1765,2453.9 L1767.8,2453.9 L1770.6,2453.9 L1773.3,2453.9 L1776.1,2453.9 L1778.9,2453.9 L1781.6,2453.9 L1784.4,2453.9 L1787.2,2453.9 L1790,2453.9 L1792.7,2453.9 L1795.5,2453.9 L1798.3,2453.9 L1801,2453.9 L1803.8,2453.9 L1806.6,2453.9 L1809.4,2453.9 L1812.1,2453.9 L1814.9,2453.9 L1817.7,2453.9 L1820.4,2453.9 L1823.2,2453.9 L1826,2453.9 L1828.8,2453.9 L1831.5,2453.9 L1834.3,2453.9 L1837.1,2453.9 L1839.8,2453.9 L1842.6,2453.9 L1845.4,2453.9 L1848.2,2453.9 L1850.9,2453.9 L1853.7,2453.9 L1856.5,2453.9 L1859.2,2453.9 L1862,2453.9 L1864.8,2453.9 L1867.6,2453.9 L1870.3,2453.9 L1873.1,2453.9 L1875.9,2453.9 L1878.6,2453.9 L1881.4,2453.9 L1884.2,2453.9 L1886.9,2453.9 L1889.7,2453.9 L1892.5,2406.7 L1895.3,2453.9 L1898,2453.9 L1900.8,2453.9 L1903.6,2453.9 L1906.3,2453.9 L1909.1,2453.9 L1911.9,2453.9 L1914.7,2453.9 L1917.4,2453.9 L1920.2,2453.9 L1923,2453.9 L1925.7,2453.9 L1928.5,2453.9 L1931.3,2453.9 L1934.1,2453.9 L1936.8,2453.9 L1939.6,2453.9 L1942.4,2453.9 L1945.1,2453.9 L1947.9,2453.9 L1950.7,2453.9 L1953.5,2453.9 L1956.2,2453.9 L1959,2453.9 L1961.8,2453.9 L1964.5,2453.9 L1967.3,2453.9 L1970.1,2453.9 L1972.9,2453.9 L1975.6,2436.9 L1978.4,2453.9 L1981.2,2453.9 L1983.9,2453.9 L1986.7,2453.9 L1989.5,2453.9 L1992.3,2453.9 L1995,2453.9 L1997.8,2453.9 L2000.6,2453.9 L2003.3,2453.9 L2006.1,2453.9 L2008.9,2453.9 L2011.7,2453.9 L2014.4,2453.9 L2017.2,2453.9 L2020,2453.9 L2022.7,2453.9 L2025.5,2453.9 L2028.3,2453.9 L2031.1,2453.9 L2033.8,2453.9 L2036.6,2453.9 L2039.4,2453.9 L2042.1,2453.9 L2044.9,2453.9 L2047.7,2453.9 L2050.5,2406.7 L2053.2,2453.9 L2056,2453.9 L2058.8,2453.9 L2061.5,2453.9 L2064.3,2453.9 L2067.1,2453.9 L2069.8,2453.9 L2072.6,2453.9 L2075.4,2453.9 L2078.2,2453.9 L2080.9,2453.9 L2083.7,2453.9 L2086.5,2453.9 L2089.2,2453.9 L2092,2453.9 L2094.8,2453.9 L2097.6,2453.9 L2100.3,2453.9 L2103.1,2453.9 L2105.9,2453.9 L2108.6,2453.9 L2111.4,2453.9 L2114.2,2453.9 L2117,2453.9 L2119.7,2453.9 L2122.5,2453.9 L2125.3,2453.9 L2128,2453.9 L2130.8,2453.9 L2133.6,2453.9 L2136.4,2453.9 L2139.1,2453.9 L2141.9,2453.9 L2144.7,2453.9 L2147.4,2453.9 L2150.2,2453.9 L2153,2453.9 L2155.8,2453.9 L2158.5,2453.9 L2161.3,2453.9 L2164.1,2453.9 L2166.8,2453.9 L2169.6,2453.9 L2172.4,2453.9 L2175.2,2453.9 L2177.9,2453.9 L2180.7,2453.9 L2183.5,2453.9 L2186.2,2453.9 L2189,2453.9 L2191.8,2436.9 L2194.6,2453.9 L2197.3,2453.9 L2200.1,2453.9 L2202.9,2453.9 L2205.6,2453.9 L2208.4,2453.9 L2211.2,2453.9 L2214,2453.9 L2216.7,2453.9 L2219.5,2453.9 L2222.3,2453.9 L2225,2453.9 L2227.8,2453.9 L2230.6,2453.9 L2233.3,2453.9 L2236.1,2453.9 L2238.9,2453.9 L2241.7,2453.9 L2244.4,2453.9 L2247.2,2453.9 L2250,2453.9 L2252.7,2453.9 L2255.5,2453.9 L2258.3,2453.9 L2261.1,2453.9 L2263.8,2422.7 L2266.6,2453.9 L2269.4,2453.9 L2272.1,2453.9 L2274.9,2453.9 L2277.7,2453.9 L2280.5,2453.9 L2283.2,2453.9 L2286,2453.9 L2288.8,2453.9 L2291.5,2453.9 L2294.3,2453.9 L2297.1,2453.9 L2299.9,2453.9 L2302.6,2453.9 L2305.4,2453.9 L2308.2,2453.9 L2310.9,2453.9 L2313.7,2453.9 L2316.5,2453.9 L2319.3,2453.9 L2322,2453.9 L2324.8,2453.9 L2327.6,2453.9 L2330.3,2453.9 L2333.1,2453.9 L2335.9,2453.9 L2338.7,2453.9 L2341.4,2453.9 L2344.2,2453.9 L2347,2453.9 L2349.7,2453.9 L2352.5,2453.9 L2355.3,2453.9 L2358.1,2453.9 L2360.8,2453.9 L2363.6,2453.9 L2366.4,2453.9 L2369.1,2453.9 L2371.9,2453.9 L2374.7,2453.9 L2377.5,2453.9 L2380.2,2453.9 L2383,2453.9 L2385.8,2453.9 L2388.5,2453.9 L2391.3,2453.9 L2394.1,2453.9 L2396.9,2453.9 L2399.6,2453.9 L2402.4,2453.9 L2405.2,2453.9 L2407.9,2453.9 L2410.7,2453.9 L2413.5,2453.9 L2416.2,2453.9 L2419,2453.9 L2421.8,2453.9 L2424.6,2406.7 L2427.3,2453.9 L2430.1,2453.9 L2432.9,2453.9 L2435.6,2453.9 L2438.4,2453.9 L2441.2,2453.9 L2444,2453.9 L2446.7,2453.9 L2449.5,2453.9 L2452.3,2453.9 L2455,2453.9 L2457.8,2453.9 L2460.6,2453.9 L2463.4,2453.9 L2466.1,2453.9 L2468.9,2453.9 L2471.7,2453.9 L2474.4,2453.9 L2477.2,2453.9 L2480,2453.9 L2482.8,2453.9 L2485.5,2453.9 L2488.3,2453.9 L2491.1,2453.9 L2493.8,2453.9 L2496.6,2453.9 L2499.4,2453.9 L2502.2,2453.9 L2504.9,2453.9 L2507.7,2453.9 L2510.5,2453.9 L2513.2,2453.9 L2516,2453.9 L2518.8,2453.9 L2521.6,2453.9 L2524.3,2453.9 L2527.1,2453.9 L2529.9,2453.9 L2532.6,2453.9 L2535.4,2453.9 L2538.2,2453.9 L2541,2453.9 L2543.7,2453.9 L2546.5,2453.9 L2549.3,2453.9 L2552,2453.9 L2554.8,2453.9 L2557.6,2453.9 L2560.4,2453.9 L2563.1,2453.9 L2565.9,2453.9 L2568.7,2453.9 L2571.4,2436.9 L2574.2,2453.9 L2577,2453.9 L2579.7,2453.9 L2582.5,2453.9 L2585.3,2453.9 L2588.1,2453.9 L2590.8,2453.9 L2593.6,2453.9 L2596.4,2453.9 L2599.1,2453.9 L2601.9,2453.9 L2604.7,2453.9 L2607.5,2453.9 L2610.2,2453.9 L2613,2453.9 L2615.8,2453.9 L2618.5,2453.9 L2621.3,2453.9 L2624.1,2453.9 L2626.9,2453.9 L2629.6,2453.9 L2632.4,2453.9 L2635.2,2453.9 L2637.9,2453.9 L2640.7,2453.9 L2643.5,2453.9 L2646.3,2453.9 L2649,2453.9 L2651.8,2453.9 L2654.6,2453.9 L2657.3,2453.9 L2660.1,2453.9 L2662.9,2453.9 L2665.7,2453.9 L2668.4,2453.9 L2671.2,2453.9 L2674,2453.9 L2676.7,2453.9 L2679.5,2453.9 L2682.3,2453.9 L2685.1,2453.9 L2687.8,2453.9 L2690.6,2453.9 L2693.4,2453.9 L2696.1,2453.9 L2698.9,2453.9 L2701.7,2453.9 L2704.5,2422.7 L2707.2,2453.9 L2710,2453.9 L2712.8,2453.9 L2715.5,2453.9 L2718.3,2453.9 L2721.1,2453.9 L2723.9,2453.9 L2726.6,2453.9 L2729.4,2453.9 L2732.2,2453.9 L2734.9,2453.9 L2737.7,2453.9 L2740.5,2453.9 L2743.3,2453.9 L2746,2453.9 L2748.8,2453.9 L2751.6,2453.9 L2754.3,2453.9 L2757.1,2453.9 L2759.9,2453.9 L2762.6,2453.9 L2765.4,2453.9 L2768.2,2453.9 L2771,2453.9 L2773.7,2453.9 L2776.5,2453.9 L2779.3,2453.9 L2782,2453.9 L2784.8,2453.9 L2787.6,2453.9 L2790.4,2453.9 L2793.1,2453.9 L2795.9,2453.9 L2798.7,2453.9 L2801.4,2453.9 L2804.2,2453.9 L2807,2406.7 L2809.8,2406.7 L2812.5,2453.9 L2815.3,2453.9 L2818.1,2453.9 L2820.8,2453.9 L2823.6,2453.9 L2826.4,2453.9 L2829.2,2453.9 L2831.9,2453.9 L2834.7,2453.9 L2837.5,2453.9 L2840.2,2453.9 L2843,2453.9 L2845.8,2453.9 L2848.6,2453.9 L2851.3,2453.9 L2854.1,2453.9 L2856.9,2453.9 L2859.6,2453.9 L2862.4,2453.9 L2865.2,2453.9 L2868,2453.9 L2870.7,2453.9 L2873.5,2453.9 L2876.3,2453.9 L2879,2453.9 L2881.8,2453.9 L2884.6,2453.9 L2887.4,2453.9 L2890.1,2406.7 L2892.9,2453.9 L2895.7,2453.9 L2898.4,2453.9 L2901.2,2453.9 L2904,2453.9 L2906.8,2453.9 L2909.5,2453.9 L2912.3,2453.9 L2915.1,2453.9 L2917.8,2453.9 L2920.6,2453.9 L2923.4,2453.9 L2926.1,2453.9 L2928.9,2453.9 L2931.7,2453.9 L2934.5,2453.9 L2937.2,2453.9 L2940,2453.9 L2942.8,2453.9 L2945.5,2453.9 L2948.3,2453.9 L2951.1,2453.9 L2953.9,2406.7 L2956.6,2453.9 L2959.4,2453.9 L2962.2,2453.9 L2964.9,2453.9 L2967.7,2453.9 L2970.5,2453.9 L2973.3,2453.9 L2976,2453.9 L2978.8,2453.9 L2981.6,2453.9 L2984.3,2453.9 L2987.1,2453.9 L2989.9,2453.9 L2992.7,2453.9 L2995.4,2453.9 L2998.2,2453.9 L3001,2453.9 L3003.7,2453.9 L3006.5,2453.9 L3009.3,2453.9 L3012.1,2453.9 L3014.8,2453.9 L3017.6,2453.9 L3020.4,2453.9 L3023.1,2453.9 L3025.9,2453.9 L3028.7,2453.9 L3031.5,2453.9 L3034.2,2453.9 L3037,2436.9 L3039.8,2453.9 L3042.5,2453.9 L3045.3,2453.9 L3048.1,2453.9 L3050.9,2453.9 L3053.6,2453.9 L3056.4,2453.9 L3059.2,2453.9 L3061.9,2453.9 L3064.7,2453.9 L3067.5,2453.9 L3070.3,2453.9 L3073,2453.9 L3075.8,2453.9 L3078.6,2453.9 L3081.3,2453.9 L3084.1,2453.9 L3086.9,2453.9 L3089.7,2453.9 L3092.4,2453.9 L3095.2,2453.9 L3098,2453.9 L3100.7,2453.9 L3103.5,2453.9 L3106.3,2453.9 L3109,2406.7 L3111.8,2453.9 L3114.6,2453.9 L3117.4,2453.9 L3120.1,2453.9 L3122.9,2453.9 L3125.7,2453.9 L3128.4,2453.9 L3131.2,2453.9 L3134,2453.9 L3136.8,2453.9 L3139.5,2453.9 L3142.3,2453.9 L3145.1,2453.9 L3147.8,2453.9 L3150.6,2453.9 L3153.4,2453.9 L3156.2,2453.9 L3158.9,2453.9 L3161.7,2453.9 L3164.5,2453.9 L3167.2,2453.9 L3170,2453.9 L3172.8,2453.9 L3175.6,2453.9 L3178.3,2453.9 L3181.1,2453.9 L3183.9,2453.9 L3186.6,2453.9 L3189.4,2453.9 L3192.2,2453.9 L3195,2453.9 L3197.7,2453.9 L3200.5,2453.9 L3203.3,2453.9 L3206,2453.9 L3208.8,2453.9 L3211.6,2453.9 L3214.4,2453.9 L3217.1,2453.9 L3219.9,2453.9 L3222.7,2453.9 L3225.4,2453.9 L3228.2,2453.9 L3231,2453.9 L3233.8,2436.9 L3236.5,2453.9 L3239.3,2453.9 L3242.1,2453.9 L3244.8,2453.9 L3247.6,2453.9 L3250.4,2453.9 L3253.2,2453.9 L3255.9,2453.9 L3258.7,2453.9 L3261.5,2453.9 L3264.2,2453.9 L3267,2453.9 L3269.8,2453.9 L3272.5,2453.9 L3275.3,2453.9 L3278.1,2453.9 L3280.9,2453.9 L3283.6,2453.9 L3286.4,2453.9 L3289.2,2453.9 L3291.9,2453.9 L3294.7,2453.9 L3297.5,2453.9 L3300.3,2453.9 L3303,2453.9 L3305.8,2453.9 L3308.6,2453.9 L3311.3,2453.9" fill="none" stroke="#17becf" stroke-width="2.9" stroke-linejoin="round"/>
<line x1="3683.2" y1="832.3" x2="3683.2" y2="1676.7" stroke="#000" stroke-width="3.5"/>
<line x1="3681.5" y1="1675" x2="4533" y2="1675" stroke="#000" stroke-width="3.5"/>
<line x1="3666" y1="1632.9" x2="3683.2" y2="1632.9" stroke="#000" stroke-width="3.5"/>
<text x="3608.2" y="1654.1" font-size="60.3" fill="#000" textLength="38.4" lengthAdjust="spacing">0</text>
<line x1="3666" y1="1416.4" x2="3683.2" y2="1416.4" stroke="#000" stroke-width="3.5"/>
<text x="3531.3" y="1437.6" font-size="60.3" fill="#000" textLength="115.1" lengthAdjust="spacing">100</text>
<line x1="3666" y1="1199.9" x2="3683.2" y2="1199.9" stroke="#000" stroke-width="3.5"/>
<text x="3531.3" y="1221.1" font-size="60.3" fill="#000" textLength="115.1" lengthAdjust="spacing">200</text>
<line x1="3666" y1="983.4" x2="3683.2" y2="983.4" stroke="#000" stroke-width="3.5"/>
<text x="3531.3" y="1004.6" font-size="60.3" fill="#000" textLength="115.1" lengthAdjust="spacing">300</text>
<line x1="3725.7" y1="1675" x2="3725.7" y2="1693.6" stroke="#000" stroke-width="3.5"/>
<text x="3706.5" y="1756.1" font-size="60.5" fill="#000">0</text>
<line x1="3946.3" y1="1675" x2="3946.3" y2="1693.6" stroke="#000" stroke-width="3.5"/>
<text x="3848.8" y="1756.1" font-size="60.5" fill="#000">10000</text>
<line x1="4167" y1="1675" x2="4167" y2="1693.6" stroke="#000" stroke-width="3.5"/>
<text x="4070.5" y="1756.1" font-size="60.5" fill="#000">20000</text>
<line x1="4387.6" y1="1675" x2="4387.6" y2="1693.6" stroke="#000" stroke-width="3.5"/>
<text x="4291.2" y="1756.1" font-size="60.5" fill="#000">30000</text>
<text x="3922" y="1834.6" font-size="61.2" fill="#000" textLength="369.3" lengthAdjust="spacing">no. samples</text>
<text transform="translate(3498.2,1574.8) rotate(-90)" x="-5.5" y="0" font-size="61.2" fill="#000" textLength="651.7" lengthAdjust="spacing">no. unique mutations</text>
<text x="3663.8" y="719.9" font-size="73" fill="#000" textLength="886.1" lengthAdjust="spacing">Mutation Downsampling</text>
<text x="3792.8" y="802" font-size="73" fill="#000" textLength="626.7" lengthAdjust="spacing">RASA1 (CANCER)</text>
<circle class="sc" cx="3765.1" cy="1573.9" r="5.4"/>
<circle class="sc" cx="3767.2" cy="1590.8" r="5.4"/>
<circle class="sc" cx="3767.4" cy="1579.9" r="5.4"/>
<circle class="sc" cx="3767.1" cy="1595.7" r="5.4"/>
<circle class="sc" cx="3765.1" cy="1582.1" r="5.4"/>
<circle class="sc" cx="3765.1" cy="1593.4" r="5.4"/>
<circle class="sc" cx="3764.7" cy="1589.3" r="5.4"/>
<circle class="sc" cx="3767.9" cy="1566" r="5.4"/>
<circle class="sc" cx="3767.4" cy="1573.3" r="5.4"/>
<circle class="sc" cx="3767.2" cy="1569.7" r="5.4"/>
<circle class="sc" cx="3767.2" cy="1600.9" r="5.4"/>
<circle class="sc" cx="3765.8" cy="1558.9" r="5.4"/>
<circle class="sc" cx="3765.2" cy="1588.8" r="5.4"/>
<circle class="sc" cx="3765.7" cy="1607.1" r="5.4"/>
<circle class="sc" cx="3766.1" cy="1591.2" r="5.4"/>
<circle class="sc" cx="3766.1" cy="1584.3" r="5.4"/>
<circle class="sc" cx="3766.3" cy="1570.1" r="5.4"/>
<circle class="sc" cx="3767.5" cy="1581.6" r="5.4"/>
<circle class="sc" cx="3767.1" cy="1599.6" r="5.4"/>
<circle class="sc" cx="3764.7" cy="1570.2" r="5.4"/>
<circle class="sc" cx="3768" cy="1598.9" r="5.4"/>
<circle class="sc" cx="3767.1" cy="1569.1" r="5.4"/>
<circle class="sc" cx="3767.1" cy="1599.9" r="5.4"/>
<circle class="sc" cx="3766.2" cy="1588.8" r="5.4"/>
<circle class="sc" cx="3765.4" cy="1602.8" r="5.4"/>
<circle class="sc" cx="3767.2" cy="1593.8" r="5.4"/>
<circle class="sc" cx="3768.4" cy="1582.5" r="5.4"/>
<circle class="sc" cx="3767.2" cy="1573.1" r="5.4"/>
<circle class="sc" cx="3765.8" cy="1600.3" r="5.4"/>
<circle class="sc" cx="3768" cy="1578.7" r="5.4"/>
<circle class="sc" cx="3765.3" cy="1593.7" r="5.4"/>
<circle class="sc" cx="3765.2" cy="1566" r="5.4"/>
<circle class="sc" cx="3765.4" cy="1567.3" r="5.4"/>
<circle class="sc" cx="3765.8" cy="1570.9" r="5.4"/>
<circle class="sc" cx="3765" cy="1591.5" r="5.4"/>
<circle class="sc" cx="3767.3" cy="1592.1" r="5.4"/>
<circle class="sc" cx="3768.4" cy="1584.4" r="5.4"/>
<circle class="sc" cx="3764.6" cy="1605.6" r="5.4"/>
<circle class="sc" cx="3767" cy="1602" r="5.4"/>
<circle class="sc" cx="3765.2" cy="1590.4" r="5.4"/>
<circle class="sc" cx="3764.8" cy="1595.7" r="5.4"/>
<circle class="sc" cx="3765.9" cy="1588.3" r="5.4"/>
<circle class="sc" cx="3768.1" cy="1601.2" r="5.4"/>
<circle class="sc" cx="3767.9" cy="1570.7" r="5.4"/>
<circle class="sc" cx="3768" cy="1597.6" r="5.4"/>
<circle class="sc" cx="3765.7" cy="1588" r="5.4"/>
<circle class="sc" cx="3765.4" cy="1592.1" r="5.4"/>
<circle class="sc" cx="3765.4" cy="1588.2" r="5.4"/>
<circle class="sc" cx="3764.8" cy="1583.5" r="5.4"/>
<circle class="sc" cx="3767.8" cy="1601.9" r="5.4"/>
<circle class="sc" cx="3767.3" cy="1597.4" r="5.4"/>
<circle class="sc" cx="3767.5" cy="1565.8" r="5.4"/>
<circle class="sc" cx="3765.8" cy="1596.5" r="5.4"/>
<circle class="sc" cx="3768" cy="1571.5" r="5.4"/>
<circle class="sc" cx="3766.5" cy="1599.3" r="5.4"/>
<circle class="sc" cx="3766.6" cy="1590.7" r="5.4"/>
<circle class="sc" cx="3765.6" cy="1597.3" r="5.4"/>
<circle class="sc" cx="3767.4" cy="1595.1" r="5.4"/>
<circle class="sc" cx="3766.6" cy="1572.1" r="5.4"/>
<circle class="sc" cx="3766.4" cy="1592" r="5.4"/>
<circle class="sc" cx="3765.2" cy="1593.3" r="5.4"/>
<circle class="sc" cx="3767.5" cy="1583.9" r="5.4"/>
<circle class="sc" cx="3766.2" cy="1598.5" r="5.4"/>
<circle class="sc" cx="3766" cy="1568.9" r="5.4"/>
<circle class="sc" cx="3768.5" cy="1597.8" r="5.4"/>
<circle class="sc" cx="3766" cy="1594.5" r="5.4"/>
<circle class="sc" cx="3766" cy="1568.1" r="5.4"/>
<circle class="sc" cx="3765.2" cy="1598.9" r="5.4"/>
<circle class="sc" cx="3767.9" cy="1568.3" r="5.4"/>
<circle class="sc" cx="3765.7" cy="1600.5" r="5.4"/>
<circle class="sc" cx="3768.1" cy="1572.4" r="5.4"/>
<circle class="sc" cx="3767.2" cy="1609.1" r="5.4"/>
<circle class="sc" cx="3768.3" cy="1611.3" r="5.4"/>
<circle class="sc" cx="3767.6" cy="1598.4" r="5.4"/>
<circle class="sc" cx="3768.1" cy="1571.4" r="5.4"/>
<circle class="sc" cx="3768" cy="1585.7" r="5.4"/>
<circle class="sc" cx="3767.2" cy="1574.7" r="5.4"/>
<circle class="sc" cx="3767.2" cy="1575.5" r="5.4"/>
<circle class="sc" cx="3767.7" cy="1570.6" r="5.4"/>
<circle class="sc" cx="3765.3" cy="1585.4" r="5.4"/>
<circle class="sc" cx="3765.5" cy="1575.9" r="5.4"/>
<circle class="sc" cx="3764.8" cy="1572.1" r="5.4"/>
<circle class="sc" cx="3765.7" cy="1604.1" r="5.4"/>
<circle class="sc" cx="3767.5" cy="1586.3" r="5.4"/>
<circle class="sc" cx="3765.4" cy="1590.4" r="5.4"/>
<circle class="sc" cx="3768.3" cy="1580.8" r="5.4"/>
<circle class="sc" cx="3764.6" cy="1590.7" r="5.4"/>
<circle class="sc" cx="3766" cy="1576.5" r="5.4"/>
<circle class="sc" cx="3764.8" cy="1581.4" r="5.4"/>
<circle class="sc" cx="3767.9" cy="1602.8" r="5.4"/>
<circle class="sc" cx="3767.4" cy="1603.6" r="5.4"/>
<circle class="sc" cx="3764.8" cy="1582.8" r="5.4"/>
<circle class="sc" cx="3767.7" cy="1610.2" r="5.4"/>
<circle class="sc" cx="3768.3" cy="1596.9" r="5.4"/>
<circle class="sc" cx="3764.5" cy="1602.5" r="5.4"/>
<circle class="sc" cx="3766.3" cy="1590.2" r="5.4"/>
<circle class="sc" cx="3764.6" cy="1575.4" r="5.4"/>
<circle class="sc" cx="3764.8" cy="1589.2" r="5.4"/>
<circle class="sc" cx="3767.9" cy="1610.6" r="5.4"/>
<circle class="sc" cx="3766.4" cy="1580" r="5.4"/>
<circle class="sc" cx="3807.1" cy="1568.2" r="5.4"/>
<circle class="sc" cx="3805.5" cy="1538.8" r="5.4"/>
<circle class="sc" cx="3804.2" cy="1529.7" r="5.4"/>
<circle class="sc" cx="3804.5" cy="1520.5" r="5.4"/>
<circle class="sc" cx="3805.6" cy="1518.1" r="5.4"/>
<circle class="sc" cx="3803.8" cy="1560.9" r="5.4"/>
<circle class="sc" cx="3806.6" cy="1528.5" r="5.4"/>
<circle class="sc" cx="3804.2" cy="1568.2" r="5.4"/>
<circle class="sc" cx="3804.9" cy="1511.6" r="5.4"/>
<circle class="sc" cx="3803.8" cy="1541.5" r="5.4"/>
<circle class="sc" cx="3806.6" cy="1566.9" r="5.4"/>
<circle class="sc" cx="3807.4" cy="1518.2" r="5.4"/>
<circle class="sc" cx="3804" cy="1567.9" r="5.4"/>
<circle class="sc" cx="3806.4" cy="1567.8" r="5.4"/>
<circle class="sc" cx="3805.6" cy="1539.4" r="5.4"/>
<circle class="sc" cx="3803.8" cy="1525.6" r="5.4"/>
<circle class="sc" cx="3804.9" cy="1537" r="5.4"/>
<circle class="sc" cx="3805" cy="1533" r="5.4"/>
<circle class="sc" cx="3803.8" cy="1521.5" r="5.4"/>
<circle class="sc" cx="3805.4" cy="1529.7" r="5.4"/>
<circle class="sc" cx="3806.7" cy="1569.9" r="5.4"/>
<circle class="sc" cx="3804.8" cy="1517.6" r="5.4"/>
<circle class="sc" cx="3804.5" cy="1529.7" r="5.4"/>
<circle class="sc" cx="3807.2" cy="1532.3" r="5.4"/>
<circle class="sc" cx="3805.6" cy="1565" r="5.4"/>
<circle class="sc" cx="3805.8" cy="1551.7" r="5.4"/>
<circle class="sc" cx="3805.5" cy="1544.2" r="5.4"/>
<circle class="sc" cx="3805.2" cy="1518.7" r="5.4"/>
<circle class="sc" cx="3807.3" cy="1520.5" r="5.4"/>
<circle class="sc" cx="3804.4" cy="1538.5" r="5.4"/>
<circle class="sc" cx="3807.3" cy="1561.4" r="5.4"/>
<circle class="sc" cx="3807" cy="1554.2" r="5.4"/>
<circle class="sc" cx="3805.2" cy="1535.9" r="5.4"/>
<circle class="sc" cx="3807" cy="1530.5" r="5.4"/>
<circle class="sc" cx="3806" cy="1552.4" r="5.4"/>
<circle class="sc" cx="3806.8" cy="1531.9" r="5.4"/>
<circle class="sc" cx="3805.3" cy="1516.3" r="5.4"/>
<circle class="sc" cx="3805.1" cy="1540.1" r="5.4"/>
<circle class="sc" cx="3805.2" cy="1549.8" r="5.4"/>
<circle class="sc" cx="3804.4" cy="1557.5" r="5.4"/>
<circle class="sc" cx="3803.8" cy="1557" r="5.4"/>
<circle class="sc" cx="3806.1" cy="1515.9" r="5.4"/>
<circle class="sc" cx="3805.9" cy="1551.2" r="5.4"/>
<circle class="sc" cx="3805.3" cy="1534" r="5.4"/>
<circle class="sc" cx="3804.9" cy="1527.4" r="5.4"/>
<circle class="sc" cx="3805.7" cy="1517" r="5.4"/>
<circle class="sc" cx="3805.1" cy="1538" r="5.4"/>
<circle class="sc" cx="3805.3" cy="1553.8" r="5.4"/>
<circle class="sc" cx="3806.4" cy="1554.1" r="5.4"/>
<circle class="sc" cx="3805.4" cy="1570.3" r="5.4"/>
<circle class="sc" cx="3803.9" cy="1543.9" r="5.4"/>
<circle class="sc" cx="3806.1" cy="1520.6" r="5.4"/>
<circle class="sc" cx="3804.2" cy="1552.6" r="5.4"/>
<circle class="sc" cx="3807.4" cy="1567.5" r="5.4"/>
<circle class="sc" cx="3806.6" cy="1522.1" r="5.4"/>
<circle class="sc" cx="3803.6" cy="1569.6" r="5.4"/>
<circle class="sc" cx="3803.8" cy="1536.2" r="5.4"/>
<circle class="sc" cx="3804.5" cy="1568.8" r="5.4"/>
<circle class="sc" cx="3806.7" cy="1526.4" r="5.4"/>
<circle class="sc" cx="3805.2" cy="1567.4" r="5.4"/>
<circle class="sc" cx="3803.5" cy="1538.7" r="5.4"/>
<circle class="sc" cx="3805.8" cy="1540.4" r="5.4"/>
<circle class="sc" cx="3804.8" cy="1538.9" r="5.4"/>
<circle class="sc" cx="3807.1" cy="1514.2" r="5.4"/>
<circle class="sc" cx="3806.5" cy="1528.3" r="5.4"/>
<circle class="sc" cx="3805.3" cy="1549.9" r="5.4"/>
<circle class="sc" cx="3806.5" cy="1568.5" r="5.4"/>
<circle class="sc" cx="3806" cy="1538.8" r="5.4"/>
<circle class="sc" cx="3805.4" cy="1537.7" r="5.4"/>
<circle class="sc" cx="3804.5" cy="1516.7" r="5.4"/>
<circle class="sc" cx="3806.5" cy="1525.4" r="5.4"/>
<circle class="sc" cx="3805.5" cy="1529.6" r="5.4"/>
<circle class="sc" cx="3806" cy="1514.8" r="5.4"/>
<circle class="sc" cx="3804.8" cy="1568.9" r="5.4"/>
<circle class="sc" cx="3804.7" cy="1559.6" r="5.4"/>
<circle class="sc" cx="3807.3" cy="1556.3" r="5.4"/>
<circle class="sc" cx="3805.5" cy="1519.3" r="5.4"/>
<circle class="sc" cx="3806.5" cy="1565.8" r="5.4"/>
<circle class="sc" cx="3806.9" cy="1562.5" r="5.4"/>
<circle class="sc" cx="3803.5" cy="1528.7" r="5.4"/>
<circle class="sc" cx="3804.9" cy="1513.7" r="5.4"/>
<circle class="sc" cx="3806.2" cy="1519.7" r="5.4"/>
<circle class="sc" cx="3805.9" cy="1531.7" r="5.4"/>
<circle class="sc" cx="3804.8" cy="1553.7" r="5.4"/>
<circle class="sc" cx="3804.4" cy="1549.8" r="5.4"/>
<circle class="sc" cx="3807" cy="1558.3" r="5.4"/>
<circle class="sc" cx="3805" cy="1559.1" r="5.4"/>
<circle class="sc" cx="3806.7" cy="1557.2" r="5.4"/>
<circle class="sc" cx="3805.8" cy="1570" r="5.4"/>
<circle class="sc" cx="3806.6" cy="1538.6" r="5.4"/>
<circle class="sc" cx="3805.4" cy="1529.8" r="5.4"/>
<circle class="sc" cx="3807.2" cy="1529.1" r="5.4"/>
<circle class="sc" cx="3805.6" cy="1558.6" r="5.4"/>
<circle class="sc" cx="3805.1" cy="1549.7" r="5.4"/>
<circle class="sc" cx="3806.2" cy="1545.4" r="5.4"/>
<circle class="sc" cx="3805.6" cy="1536.1" r="5.4"/>
<circle class="sc" cx="3803.7" cy="1550.2" r="5.4"/>
<circle class="sc" cx="3807.3" cy="1517.6" r="5.4"/>
<circle class="sc" cx="3807.2" cy="1546.5" r="5.4"/>
<circle class="sc" cx="3805.4" cy="1551.3" r="5.4"/>
<circle class="sc" cx="3844.1" cy="1492.8" r="5.4"/>
<circle class="sc" cx="3844.6" cy="1469" r="5.4"/>
<circle class="sc" cx="3845.8" cy="1500.2" r="5.4"/>
<circle class="sc" cx="3844.1" cy="1469.5" r="5.4"/>
<circle class="sc" cx="3846.6" cy="1492.9" r="5.4"/>
<circle class="sc" cx="3845.2" cy="1475" r="5.4"/>
<circle class="sc" cx="3846.5" cy="1512" r="5.4"/>
<circle class="sc" cx="3847.5" cy="1497.2" r="5.4"/>
<circle class="sc" cx="3844" cy="1461.2" r="5.4"/>
<circle class="sc" cx="3844.5" cy="1510.2" r="5.4"/>
<circle class="sc" cx="3844.5" cy="1493.2" r="5.4"/>
<circle class="sc" cx="3844.4" cy="1509.6" r="5.4"/>
<circle class="sc" cx="3846.4" cy="1486.9" r="5.4"/>
<circle class="sc" cx="3846.5" cy="1498.4" r="5.4"/>
<circle class="sc" cx="3845.4" cy="1477.6" r="5.4"/>
<circle class="sc" cx="3844.5" cy="1461.8" r="5.4"/>
<circle class="sc" cx="3845.7" cy="1499.4" r="5.4"/>
<circle class="sc" cx="3846" cy="1509.4" r="5.4"/>
<circle class="sc" cx="3847.5" cy="1489.8" r="5.4"/>
<circle class="sc" cx="3844.3" cy="1480.2" r="5.4"/>
<circle class="sc" cx="3846.9" cy="1470.7" r="5.4"/>
<circle class="sc" cx="3846.6" cy="1468.4" r="5.4"/>
<circle class="sc" cx="3846.7" cy="1466.3" r="5.4"/>
<circle class="sc" cx="3845.8" cy="1485.8" r="5.4"/>
<circle class="sc" cx="3844.3" cy="1474.3" r="5.4"/>
<circle class="sc" cx="3844.2" cy="1514.2" r="5.4"/>
<circle class="sc" cx="3844.7" cy="1490.8" r="5.4"/>
<circle class="sc" cx="3843.7" cy="1481.9" r="5.4"/>
<circle class="sc" cx="3845.4" cy="1483.7" r="5.4"/>
<circle class="sc" cx="3847.5" cy="1476.8" r="5.4"/>
<circle class="sc" cx="3846.9" cy="1473.4" r="5.4"/>
<circle class="sc" cx="3845.2" cy="1472.7" r="5.4"/>
<circle class="sc" cx="3846.8" cy="1506.4" r="5.4"/>
<circle class="sc" cx="3844.4" cy="1512.3" r="5.4"/>
<circle class="sc" cx="3844.1" cy="1508.3" r="5.4"/>
<circle class="sc" cx="3845.5" cy="1472.9" r="5.4"/>
<circle class="sc" cx="3846.7" cy="1505.2" r="5.4"/>
<circle class="sc" cx="3847.3" cy="1477.1" r="5.4"/>
<circle class="sc" cx="3844.3" cy="1503" r="5.4"/>
<circle class="sc" cx="3846.1" cy="1488" r="5.4"/>
<circle class="sc" cx="3845.9" cy="1509.1" r="5.4"/>
<circle class="sc" cx="3845.3" cy="1537.9" r="5.4"/>
<circle class="sc" cx="3845.6" cy="1507" r="5.4"/>
<circle class="sc" cx="3847.6" cy="1500.7" r="5.4"/>
<circle class="sc" cx="3847.1" cy="1486.3" r="5.4"/>
<circle class="sc" cx="3844.5" cy="1485.2" r="5.4"/>
<circle class="sc" cx="3845.4" cy="1506.3" r="5.4"/>
<circle class="sc" cx="3847.3" cy="1467.8" r="5.4"/>
<circle class="sc" cx="3844.7" cy="1512.5" r="5.4"/>
<circle class="sc" cx="3846.2" cy="1471" r="5.4"/>
<circle class="sc" cx="3846" cy="1508.1" r="5.4"/>
<circle class="sc" cx="3846.8" cy="1466.8" r="5.4"/>
<circle class="sc" cx="3844.9" cy="1485.1" r="5.4"/>
<circle class="sc" cx="3846.6" cy="1481.8" r="5.4"/>
<circle class="sc" cx="3845.2" cy="1487.6" r="5.4"/>
<circle class="sc" cx="3847.4" cy="1511.8" r="5.4"/>
<circle class="sc" cx="3846.5" cy="1481.8" r="5.4"/>
<circle class="sc" cx="3845.9" cy="1485.4" r="5.4"/>
<circle class="sc" cx="3846.5" cy="1482.4" r="5.4"/>
<circle class="sc" cx="3847.2" cy="1461" r="5.4"/>
<circle class="sc" cx="3843.9" cy="1497.3" r="5.4"/>
<circle class="sc" cx="3846.9" cy="1473.7" r="5.4"/>
<circle class="sc" cx="3847.5" cy="1489.3" r="5.4"/>
<circle class="sc" cx="3846.2" cy="1485.4" r="5.4"/>
<circle class="sc" cx="3845.3" cy="1498.8" r="5.4"/>
<circle class="sc" cx="3845.7" cy="1504.1" r="5.4"/>
<circle class="sc" cx="3844.9" cy="1486.1" r="5.4"/>
<circle class="sc" cx="3846.8" cy="1515.3" r="5.4"/>
<circle class="sc" cx="3846.9" cy="1499.1" r="5.4"/>
<circle class="sc" cx="3845.6" cy="1502.1" r="5.4"/>
<circle class="sc" cx="3845.1" cy="1523.7" r="5.4"/>
<circle class="sc" cx="3845.2" cy="1483.4" r="5.4"/>
<circle class="sc" cx="3847.1" cy="1498.9" r="5.4"/>
<circle class="sc" cx="3845.9" cy="1467.5" r="5.4"/>
<circle class="sc" cx="3844" cy="1463.6" r="5.4"/>
<circle class="sc" cx="3844.2" cy="1463.1" r="5.4"/>
<circle class="sc" cx="3844.4" cy="1503.9" r="5.4"/>
<circle class="sc" cx="3844.9" cy="1476.9" r="5.4"/>
<circle class="sc" cx="3847.3" cy="1472" r="5.4"/>
<circle class="sc" cx="3845.9" cy="1505.4" r="5.4"/>
<circle class="sc" cx="3846.1" cy="1542.8" r="5.4"/>
<circle class="sc" cx="3844.3" cy="1477.5" r="5.4"/>
<circle class="sc" cx="3845.3" cy="1494.7" r="5.4"/>
<circle class="sc" cx="3846.6" cy="1513.4" r="5.4"/>
<circle class="sc" cx="3844.6" cy="1525" r="5.4"/>
<circle class="sc" cx="3844.2" cy="1499.6" r="5.4"/>
<circle class="sc" cx="3846" cy="1465.9" r="5.4"/>
<circle class="sc" cx="3846.9" cy="1486.3" r="5.4"/>
<circle class="sc" cx="3845.6" cy="1473.3" r="5.4"/>
<circle class="sc" cx="3844.6" cy="1482.4" r="5.4"/>
<circle class="sc" cx="3843.9" cy="1495" r="5.4"/>
<circle class="sc" cx="3845.5" cy="1488.4" r="5.4"/>
<circle class="sc" cx="3845.8" cy="1505.3" r="5.4"/>
<circle class="sc" cx="3847.4" cy="1470.9" r="5.4"/>
<circle class="sc" cx="3844.5" cy="1488" r="5.4"/>
<circle class="sc" cx="3845.9" cy="1482" r="5.4"/>
<circle class="sc" cx="3846.8" cy="1511.2" r="5.4"/>
<circle class="sc" cx="3844" cy="1534.9" r="5.4"/>
<circle class="sc" cx="3845" cy="1476.2" r="5.4"/>
<circle class="sc" cx="3846" cy="1489.8" r="5.4"/>
<circle class="sc" cx="3887.8" cy="1414.6" r="5.4"/>
<circle class="sc" cx="3887.8" cy="1478.4" r="5.4"/>
<circle class="sc" cx="3886.7" cy="1422.4" r="5.4"/>
<circle class="sc" cx="3887.2" cy="1433.7" r="5.4"/>
<circle class="sc" cx="3887.6" cy="1408.2" r="5.4"/>
<circle class="sc" cx="3885.4" cy="1429.1" r="5.4"/>
<circle class="sc" cx="3887.2" cy="1438.9" r="5.4"/>
<circle class="sc" cx="3886.4" cy="1474.7" r="5.4"/>
<circle class="sc" cx="3884.4" cy="1442.7" r="5.4"/>
<circle class="sc" cx="3886.9" cy="1409.9" r="5.4"/>
<circle class="sc" cx="3885.6" cy="1420" r="5.4"/>
<circle class="sc" cx="3886.9" cy="1412" r="5.4"/>
<circle class="sc" cx="3885.6" cy="1437.1" r="5.4"/>
<circle class="sc" cx="3884.9" cy="1488.1" r="5.4"/>
<circle class="sc" cx="3885.2" cy="1431.3" r="5.4"/>
<circle class="sc" cx="3886" cy="1455.4" r="5.4"/>
<circle class="sc" cx="3885.7" cy="1435.1" r="5.4"/>
<circle class="sc" cx="3886.1" cy="1426.6" r="5.4"/>
<circle class="sc" cx="3884.8" cy="1410.6" r="5.4"/>
<circle class="sc" cx="3887.6" cy="1411.7" r="5.4"/>
<circle class="sc" cx="3884.3" cy="1454.5" r="5.4"/>
<circle class="sc" cx="3887" cy="1441.9" r="5.4"/>
<circle class="sc" cx="3884.2" cy="1417.8" r="5.4"/>
<circle class="sc" cx="3884.3" cy="1450.7" r="5.4"/>
<circle class="sc" cx="3884.8" cy="1433.1" r="5.4"/>
<circle class="sc" cx="3884.7" cy="1423.3" r="5.4"/>
<circle class="sc" cx="3886.8" cy="1453.7" r="5.4"/>
<circle class="sc" cx="3885.4" cy="1454.2" r="5.4"/>
<circle class="sc" cx="3887.1" cy="1422.7" r="5.4"/>
<circle class="sc" cx="3885.3" cy="1441.5" r="5.4"/>
<circle class="sc" cx="3885.1" cy="1444.8" r="5.4"/>
<circle class="sc" cx="3887.3" cy="1452.7" r="5.4"/>
<circle class="sc" cx="3887" cy="1406" r="5.4"/>
<circle class="sc" cx="3885.7" cy="1415.2" r="5.4"/>
<circle class="sc" cx="3885.1" cy="1435" r="5.4"/>
<circle class="sc" cx="3887.5" cy="1449.4" r="5.4"/>
<circle class="sc" cx="3884.1" cy="1487" r="5.4"/>
<circle class="sc" cx="3886.2" cy="1443.5" r="5.4"/>
<circle class="sc" cx="3883.9" cy="1429.2" r="5.4"/>
<circle class="sc" cx="3887.6" cy="1479.8" r="5.4"/>
<circle class="sc" cx="3886.8" cy="1416.6" r="5.4"/>
<circle class="sc" cx="3885.9" cy="1473.2" r="5.4"/>
<circle class="sc" cx="3884.9" cy="1411.2" r="5.4"/>
<circle class="sc" cx="3886.8" cy="1428.9" r="5.4"/>
<circle class="sc" cx="3885.6" cy="1456.1" r="5.4"/>
<circle class="sc" cx="3885.9" cy="1409.8" r="5.4"/>
<circle class="sc" cx="3884.9" cy="1453.3" r="5.4"/>
<circle class="sc" cx="3885.7" cy="1430.9" r="5.4"/>
<circle class="sc" cx="3883.9" cy="1445.9" r="5.4"/>
<circle class="sc" cx="3887.7" cy="1422.1" r="5.4"/>
<circle class="sc" cx="3886.5" cy="1424.1" r="5.4"/>
<circle class="sc" cx="3885.6" cy="1446.2" r="5.4"/>
<circle class="sc" cx="3887.3" cy="1465.6" r="5.4"/>
<circle class="sc" cx="3886.5" cy="1453.3" r="5.4"/>
<circle class="sc" cx="3887.3" cy="1469.1" r="5.4"/>
<circle class="sc" cx="3887.6" cy="1481.6" r="5.4"/>
<circle class="sc" cx="3886.7" cy="1465.2" r="5.4"/>
<circle class="sc" cx="3886.9" cy="1432.2" r="5.4"/>
<circle class="sc" cx="3884.8" cy="1435.8" r="5.4"/>
<circle class="sc" cx="3885.9" cy="1412.8" r="5.4"/>
<circle class="sc" cx="3886.3" cy="1410.5" r="5.4"/>
<circle class="sc" cx="3884" cy="1431.4" r="5.4"/>
<circle class="sc" cx="3885.4" cy="1431.7" r="5.4"/>
<circle class="sc" cx="3886.5" cy="1413.6" r="5.4"/>
<circle class="sc" cx="3885.7" cy="1452.3" r="5.4"/>
<circle class="sc" cx="3885.9" cy="1478" r="5.4"/>
<circle class="sc" cx="3886.2" cy="1441.4" r="5.4"/>
<circle class="sc" cx="3884.3" cy="1426.9" r="5.4"/>
<circle class="sc" cx="3884" cy="1471" r="5.4"/>
<circle class="sc" cx="3885.7" cy="1444" r="5.4"/>
<circle class="sc" cx="3886.5" cy="1462.5" r="5.4"/>
<circle class="sc" cx="3885.1" cy="1454.6" r="5.4"/>
<circle class="sc" cx="3884.7" cy="1438" r="5.4"/>
<circle class="sc" cx="3887.6" cy="1434.9" r="5.4"/>
<circle class="sc" cx="3886.7" cy="1465.3" r="5.4"/>
<circle class="sc" cx="3884.7" cy="1434.2" r="5.4"/>
<circle class="sc" cx="3886.4" cy="1458.2" r="5.4"/>
<circle class="sc" cx="3887" cy="1461.9" r="5.4"/>
<circle class="sc" cx="3887.1" cy="1464.1" r="5.4"/>
<circle class="sc" cx="3886.1" cy="1430.5" r="5.4"/>
<circle class="sc" cx="3887.2" cy="1409" r="5.4"/>
<circle class="sc" cx="3884.3" cy="1458.9" r="5.4"/>
<circle class="sc" cx="3886.2" cy="1482.4" r="5.4"/>
<circle class="sc" cx="3885.3" cy="1430.3" r="5.4"/>
<circle class="sc" cx="3884.4" cy="1476.3" r="5.4"/>
<circle class="sc" cx="3885" cy="1434.8" r="5.4"/>
<circle class="sc" cx="3885.9" cy="1472.5" r="5.4"/>
<circle class="sc" cx="3886.8" cy="1474.6" r="5.4"/>
<circle class="sc" cx="3885.1" cy="1427" r="5.4"/>
<circle class="sc" cx="3885.7" cy="1437.2" r="5.4"/>
<circle class="sc" cx="3884.1" cy="1475.6" r="5.4"/>
<circle class="sc" cx="3885.8" cy="1417.7" r="5.4"/>
<circle class="sc" cx="3887.2" cy="1457.1" r="5.4"/>
<circle class="sc" cx="3884.6" cy="1472.8" r="5.4"/>
<circle class="sc" cx="3887.1" cy="1415.9" r="5.4"/>
<circle class="sc" cx="3885" cy="1450.9" r="5.4"/>
<circle class="sc" cx="3886.4" cy="1409.6" r="5.4"/>
<circle class="sc" cx="3885" cy="1423.7" r="5.4"/>
<circle class="sc" cx="3887.6" cy="1428.4" r="5.4"/>
<circle class="sc" cx="3884.7" cy="1415.6" r="5.4"/>
<circle class="sc" cx="3926.3" cy="1403.3" r="5.4"/>
<circle class="sc" cx="3925.5" cy="1426.7" r="5.4"/>
<circle class="sc" cx="3925.3" cy="1384.8" r="5.4"/>
<circle class="sc" cx="3926.6" cy="1395.5" r="5.4"/>
<circle class="sc" cx="3926.5" cy="1438.8" r="5.4"/>
<circle class="sc" cx="3926.1" cy="1415.1" r="5.4"/>
<circle class="sc" cx="3925.4" cy="1392.8" r="5.4"/>
<circle class="sc" cx="3926.3" cy="1411.2" r="5.4"/>
<circle class="sc" cx="3927.5" cy="1421" r="5.4"/>
<circle class="sc" cx="3924.7" cy="1431.4" r="5.4"/>
<circle class="sc" cx="3924.1" cy="1416.6" r="5.4"/>
<circle class="sc" cx="3926.9" cy="1400.8" r="5.4"/>
<circle class="sc" cx="3926.6" cy="1439" r="5.4"/>
<circle class="sc" cx="3926.1" cy="1438.8" r="5.4"/>
<circle class="sc" cx="3926.3" cy="1382.7" r="5.4"/>
<circle class="sc" cx="3926.2" cy="1398.4" r="5.4"/>
<circle class="sc" cx="3925.1" cy="1416.3" r="5.4"/>
<circle class="sc" cx="3925.3" cy="1439.7" r="5.4"/>
<circle class="sc" cx="3924.2" cy="1382.1" r="5.4"/>
<circle class="sc" cx="3926.8" cy="1391.2" r="5.4"/>
<circle class="sc" cx="3925.7" cy="1403.8" r="5.4"/>
<circle class="sc" cx="3927.9" cy="1388" r="5.4"/>
<circle class="sc" cx="3924.2" cy="1403" r="5.4"/>
<circle class="sc" cx="3924.4" cy="1407.1" r="5.4"/>
<circle class="sc" cx="3926.8" cy="1408" r="5.4"/>
<circle class="sc" cx="3926.7" cy="1396.7" r="5.4"/>
<circle class="sc" cx="3927.8" cy="1431.6" r="5.4"/>
<circle class="sc" cx="3925.2" cy="1419.6" r="5.4"/>
<circle class="sc" cx="3924.1" cy="1430.4" r="5.4"/>
<circle class="sc" cx="3925.2" cy="1369.5" r="5.4"/>
<circle class="sc" cx="3925.6" cy="1386.3" r="5.4"/>
<circle class="sc" cx="3924.6" cy="1376.8" r="5.4"/>
<circle class="sc" cx="3926.6" cy="1416.2" r="5.4"/>
<circle class="sc" cx="3925" cy="1439.2" r="5.4"/>
<circle class="sc" cx="3924.5" cy="1396.9" r="5.4"/>
<circle class="sc" cx="3925.1" cy="1378.2" r="5.4"/>
<circle class="sc" cx="3926.4" cy="1386.3" r="5.4"/>
<circle class="sc" cx="3924.7" cy="1422.8" r="5.4"/>
<circle class="sc" cx="3927.8" cy="1387.1" r="5.4"/>
<circle class="sc" cx="3927.5" cy="1391.7" r="5.4"/>
<circle class="sc" cx="3927.4" cy="1420" r="5.4"/>
<circle class="sc" cx="3927.3" cy="1422.7" r="5.4"/>
<circle class="sc" cx="3927.7" cy="1390.8" r="5.4"/>
<circle class="sc" cx="3927.6" cy="1382.1" r="5.4"/>
<circle class="sc" cx="3925.6" cy="1401" r="5.4"/>
<circle class="sc" cx="3925.1" cy="1428" r="5.4"/>
<circle class="sc" cx="3926.1" cy="1414.6" r="5.4"/>
<circle class="sc" cx="3926.6" cy="1385.2" r="5.4"/>
<circle class="sc" cx="3924.9" cy="1437.4" r="5.4"/>
<circle class="sc" cx="3924.4" cy="1398" r="5.4"/>
<circle class="sc" cx="3924.9" cy="1399.4" r="5.4"/>
<circle class="sc" cx="3926.7" cy="1411.1" r="5.4"/>
<circle class="sc" cx="3927.5" cy="1387.8" r="5.4"/>
<circle class="sc" cx="3926.9" cy="1377" r="5.4"/>
<circle class="sc" cx="3927.2" cy="1438.4" r="5.4"/>
<circle class="sc" cx="3924.8" cy="1386.1" r="5.4"/>
<circle class="sc" cx="3926.3" cy="1425" r="5.4"/>
<circle class="sc" cx="3927.7" cy="1415" r="5.4"/>
<circle class="sc" cx="3926.3" cy="1395" r="5.4"/>
<circle class="sc" cx="3924.8" cy="1422.9" r="5.4"/>
<circle class="sc" cx="3924.2" cy="1389.1" r="5.4"/>
<circle class="sc" cx="3927.9" cy="1409.5" r="5.4"/>
<circle class="sc" cx="3924.4" cy="1434.2" r="5.4"/>
<circle class="sc" cx="3925.3" cy="1435.2" r="5.4"/>
<circle class="sc" cx="3926.7" cy="1381.2" r="5.4"/>
<circle class="sc" cx="3927.4" cy="1416.7" r="5.4"/>
<circle class="sc" cx="3927.1" cy="1438.9" r="5.4"/>
<circle class="sc" cx="3926.7" cy="1405.1" r="5.4"/>
<circle class="sc" cx="3925.4" cy="1381.7" r="5.4"/>
<circle class="sc" cx="3924.3" cy="1395" r="5.4"/>
<circle class="sc" cx="3926.5" cy="1391.2" r="5.4"/>
<circle class="sc" cx="3927.3" cy="1418.9" r="5.4"/>
<circle class="sc" cx="3926.7" cy="1397.1" r="5.4"/>
<circle class="sc" cx="3927.9" cy="1423.8" r="5.4"/>
<circle class="sc" cx="3927.7" cy="1412.9" r="5.4"/>
<circle class="sc" cx="3924.1" cy="1417.1" r="5.4"/>
<circle class="sc" cx="3924.2" cy="1395.1" r="5.4"/>
<circle class="sc" cx="3924.8" cy="1413.9" r="5.4"/>
<circle class="sc" cx="3924.3" cy="1432.7" r="5.4"/>
<circle class="sc" cx="3926.9" cy="1413.4" r="5.4"/>
<circle class="sc" cx="3926.2" cy="1378.3" r="5.4"/>
<circle class="sc" cx="3926.4" cy="1390.9" r="5.4"/>
<circle class="sc" cx="3927.7" cy="1378.7" r="5.4"/>
<circle class="sc" cx="3927.2" cy="1425.8" r="5.4"/>
<circle class="sc" cx="3924.5" cy="1376.5" r="5.4"/>
<circle class="sc" cx="3926.2" cy="1400" r="5.4"/>
<circle class="sc" cx="3924.1" cy="1392" r="5.4"/>
<circle class="sc" cx="3927.1" cy="1394.1" r="5.4"/>
<circle class="sc" cx="3927.9" cy="1394.6" r="5.4"/>
<circle class="sc" cx="3925.2" cy="1382.9" r="5.4"/>
<circle class="sc" cx="3927.8" cy="1409.8" r="5.4"/>
<circle class="sc" cx="3925.2" cy="1426.8" r="5.4"/>
<circle class="sc" cx="3926.1" cy="1431.2" r="5.4"/>
<circle class="sc" cx="3926.1" cy="1414.9" r="5.4"/>
<circle class="sc" cx="3925.3" cy="1399" r="5.4"/>
<circle class="sc" cx="3924.4" cy="1383.7" r="5.4"/>
<circle class="sc" cx="3924.4" cy="1419.1" r="5.4"/>
<circle class="sc" cx="3924.6" cy="1402.6" r="5.4"/>
<circle class="sc" cx="3928" cy="1378.7" r="5.4"/>
<circle class="sc" cx="3925.7" cy="1427.5" r="5.4"/>
<circle class="sc" cx="3966.3" cy="1341.4" r="5.4"/>
<circle class="sc" cx="3966.1" cy="1367.7" r="5.4"/>
<circle class="sc" cx="3967.8" cy="1355.9" r="5.4"/>
<circle class="sc" cx="3968.1" cy="1373.5" r="5.4"/>
<circle class="sc" cx="3966.4" cy="1339.8" r="5.4"/>
<circle class="sc" cx="3968.1" cy="1358.6" r="5.4"/>
<circle class="sc" cx="3967.2" cy="1338.8" r="5.4"/>
<circle class="sc" cx="3965.7" cy="1394.2" r="5.4"/>
<circle class="sc" cx="3965.5" cy="1399" r="5.4"/>
<circle class="sc" cx="3967.5" cy="1345.6" r="5.4"/>
<circle class="sc" cx="3967.4" cy="1371.9" r="5.4"/>
<circle class="sc" cx="3965.3" cy="1371.8" r="5.4"/>
<circle class="sc" cx="3968.2" cy="1374.9" r="5.4"/>
<circle class="sc" cx="3967.4" cy="1382.7" r="5.4"/>
<circle class="sc" cx="3965.1" cy="1388.2" r="5.4"/>
<circle class="sc" cx="3965" cy="1391" r="5.4"/>
<circle class="sc" cx="3967.7" cy="1353.6" r="5.4"/>
<circle class="sc" cx="3965.9" cy="1345.6" r="5.4"/>
<circle class="sc" cx="3965" cy="1402.3" r="5.4"/>
<circle class="sc" cx="3966.3" cy="1389.1" r="5.4"/>
<circle class="sc" cx="3968.1" cy="1351.9" r="5.4"/>
<circle class="sc" cx="3967.9" cy="1396.5" r="5.4"/>
<circle class="sc" cx="3966.8" cy="1361.9" r="5.4"/>
<circle class="sc" cx="3967" cy="1339.2" r="5.4"/>
<circle class="sc" cx="3967.7" cy="1378" r="5.4"/>
<circle class="sc" cx="3968" cy="1347.1" r="5.4"/>
<circle class="sc" cx="3967.1" cy="1333.7" r="5.4"/>
<circle class="sc" cx="3964.8" cy="1386.9" r="5.4"/>
<circle class="sc" cx="3965.8" cy="1402.4" r="5.4"/>
<circle class="sc" cx="3967.3" cy="1377.6" r="5.4"/>
<circle class="sc" cx="3967.1" cy="1343.3" r="5.4"/>
<circle class="sc" cx="3964.4" cy="1338.6" r="5.4"/>
<circle class="sc" cx="3964.8" cy="1382.8" r="5.4"/>
<circle class="sc" cx="3964.4" cy="1393.4" r="5.4"/>
<circle class="sc" cx="3965.5" cy="1338.2" r="5.4"/>
<circle class="sc" cx="3968" cy="1334.3" r="5.4"/>
<circle class="sc" cx="3964.5" cy="1346" r="5.4"/>
<circle class="sc" cx="3965.5" cy="1341.9" r="5.4"/>
<circle class="sc" cx="3966" cy="1370.2" r="5.4"/>
<circle class="sc" cx="3967.4" cy="1368.7" r="5.4"/>
<circle class="sc" cx="3967.1" cy="1341.6" r="5.4"/>
<circle class="sc" cx="3965.5" cy="1364" r="5.4"/>
<circle class="sc" cx="3965.1" cy="1379.8" r="5.4"/>
<circle class="sc" cx="3966.1" cy="1397.4" r="5.4"/>
<circle class="sc" cx="3967.4" cy="1354.4" r="5.4"/>
<circle class="sc" cx="3967.7" cy="1342.5" r="5.4"/>
<circle class="sc" cx="3966.7" cy="1346.5" r="5.4"/>
<circle class="sc" cx="3964.9" cy="1380.6" r="5.4"/>
<circle class="sc" cx="3966.4" cy="1378.6" r="5.4"/>
<circle class="sc" cx="3965.5" cy="1363.9" r="5.4"/>
<circle class="sc" cx="3967.4" cy="1356.3" r="5.4"/>
<circle class="sc" cx="3967.8" cy="1369" r="5.4"/>
<circle class="sc" cx="3966.1" cy="1365.1" r="5.4"/>
<circle class="sc" cx="3966.5" cy="1370.3" r="5.4"/>
<circle class="sc" cx="3968.1" cy="1394.7" r="5.4"/>
<circle class="sc" cx="3967" cy="1327.3" r="5.4"/>
<circle class="sc" cx="3966.4" cy="1394.6" r="5.4"/>
<circle class="sc" cx="3965" cy="1328.7" r="5.4"/>
<circle class="sc" cx="3966.9" cy="1347.8" r="5.4"/>
<circle class="sc" cx="3966.3" cy="1350.8" r="5.4"/>
<circle class="sc" cx="3966.6" cy="1372.5" r="5.4"/>
<circle class="sc" cx="3966.7" cy="1382" r="5.4"/>
<circle class="sc" cx="3965.9" cy="1378.5" r="5.4"/>
<circle class="sc" cx="3967.1" cy="1335.3" r="5.4"/>
<circle class="sc" cx="3964.7" cy="1354.2" r="5.4"/>
<circle class="sc" cx="3967.1" cy="1383.3" r="5.4"/>
<circle class="sc" cx="3967.7" cy="1362" r="5.4"/>
<circle class="sc" cx="3964.4" cy="1344.2" r="5.4"/>
<circle class="sc" cx="3966.6" cy="1366.5" r="5.4"/>
<circle class="sc" cx="3968.2" cy="1348.4" r="5.4"/>
<circle class="sc" cx="3967.4" cy="1329.8" r="5.4"/>
<circle class="sc" cx="3966.2" cy="1392.9" r="5.4"/>
<circle class="sc" cx="3964.8" cy="1373" r="5.4"/>
<circle class="sc" cx="3965.3" cy="1355.5" r="5.4"/>
<circle class="sc" cx="3964.8" cy="1372.1" r="5.4"/>
<circle class="sc" cx="3967.5" cy="1345.8" r="5.4"/>
<circle class="sc" cx="3967.7" cy="1332" r="5.4"/>
<circle class="sc" cx="3966.1" cy="1333.8" r="5.4"/>
<circle class="sc" cx="3966.1" cy="1345.2" r="5.4"/>
<circle class="sc" cx="3966" cy="1380.5" r="5.4"/>
<circle class="sc" cx="3964.5" cy="1368.3" r="5.4"/>
<circle class="sc" cx="3965.2" cy="1347.4" r="5.4"/>
<circle class="sc" cx="3964.5" cy="1360" r="5.4"/>
<circle class="sc" cx="3964.2" cy="1351.4" r="5.4"/>
<circle class="sc" cx="3966.6" cy="1388.6" r="5.4"/>
<circle class="sc" cx="3964.9" cy="1346.2" r="5.4"/>
<circle class="sc" cx="3967.7" cy="1352" r="5.4"/>
<circle class="sc" cx="3965.4" cy="1374.5" r="5.4"/>
<circle class="sc" cx="3966.1" cy="1372.5" r="5.4"/>
<circle class="sc" cx="3966.9" cy="1345.8" r="5.4"/>
<circle class="sc" cx="3964.7" cy="1347.7" r="5.4"/>
<circle class="sc" cx="3966.9" cy="1358.8" r="5.4"/>
<circle class="sc" cx="3965" cy="1394.9" r="5.4"/>
<circle class="sc" cx="3967.7" cy="1398.5" r="5.4"/>
<circle class="sc" cx="3967.8" cy="1367.2" r="5.4"/>
<circle class="sc" cx="3967.8" cy="1385" r="5.4"/>
<circle class="sc" cx="3966.8" cy="1402.1" r="5.4"/>
<circle class="sc" cx="3967" cy="1399.5" r="5.4"/>
<circle class="sc" cx="3965.3" cy="1343" r="5.4"/>
<circle class="sc" cx="3966" cy="1392.5" r="5.4"/>
<circle class="sc" cx="4008.8" cy="1294.3" r="5.4"/>
<circle class="sc" cx="4005.7" cy="1288.9" r="5.4"/>
<circle class="sc" cx="4006.2" cy="1305.9" r="5.4"/>
<circle class="sc" cx="4008.9" cy="1341.3" r="5.4"/>
<circle class="sc" cx="4007.3" cy="1294.2" r="5.4"/>
<circle class="sc" cx="4005.5" cy="1333.1" r="5.4"/>
<circle class="sc" cx="4008.6" cy="1330.3" r="5.4"/>
<circle class="sc" cx="4008.7" cy="1326.9" r="5.4"/>
<circle class="sc" cx="4007.1" cy="1304.6" r="5.4"/>
<circle class="sc" cx="4007.3" cy="1353.8" r="5.4"/>
<circle class="sc" cx="4005.2" cy="1291.3" r="5.4"/>
<circle class="sc" cx="4008.1" cy="1348.1" r="5.4"/>
<circle class="sc" cx="4007.1" cy="1341.1" r="5.4"/>
<circle class="sc" cx="4008.3" cy="1334.3" r="5.4"/>
<circle class="sc" cx="4005.2" cy="1329.8" r="5.4"/>
<circle class="sc" cx="4005.6" cy="1301.3" r="5.4"/>
<circle class="sc" cx="4008.6" cy="1357.3" r="5.4"/>
<circle class="sc" cx="4007.1" cy="1317.5" r="5.4"/>
<circle class="sc" cx="4008.8" cy="1297.6" r="5.4"/>
<circle class="sc" cx="4008.9" cy="1278.2" r="5.4"/>
<circle class="sc" cx="4008.2" cy="1338.3" r="5.4"/>
<circle class="sc" cx="4006" cy="1315.4" r="5.4"/>
<circle class="sc" cx="4005.6" cy="1277.1" r="5.4"/>
<circle class="sc" cx="4008.4" cy="1340.2" r="5.4"/>
<circle class="sc" cx="4007.3" cy="1305.2" r="5.4"/>
<circle class="sc" cx="4007.5" cy="1298.2" r="5.4"/>
<circle class="sc" cx="4007.4" cy="1296.8" r="5.4"/>
<circle class="sc" cx="4005.7" cy="1294.8" r="5.4"/>
<circle class="sc" cx="4007.9" cy="1317.7" r="5.4"/>
<circle class="sc" cx="4007.9" cy="1333.3" r="5.4"/>
<circle class="sc" cx="4006.8" cy="1321.2" r="5.4"/>
<circle class="sc" cx="4006.6" cy="1337.2" r="5.4"/>
<circle class="sc" cx="4005.7" cy="1282" r="5.4"/>
<circle class="sc" cx="4005.7" cy="1309.3" r="5.4"/>
<circle class="sc" cx="4008.3" cy="1291.1" r="5.4"/>
<circle class="sc" cx="4006" cy="1313.3" r="5.4"/>
<circle class="sc" cx="4007.9" cy="1330.7" r="5.4"/>
<circle class="sc" cx="4007.6" cy="1348.5" r="5.4"/>
<circle class="sc" cx="4008.1" cy="1315" r="5.4"/>
<circle class="sc" cx="4008.2" cy="1354.6" r="5.4"/>
<circle class="sc" cx="4006.7" cy="1312.5" r="5.4"/>
<circle class="sc" cx="4008.9" cy="1340.5" r="5.4"/>
<circle class="sc" cx="4007" cy="1299.3" r="5.4"/>
<circle class="sc" cx="4008.2" cy="1342.8" r="5.4"/>
<circle class="sc" cx="4007.7" cy="1316" r="5.4"/>
<circle class="sc" cx="4005.5" cy="1324.9" r="5.4"/>
<circle class="sc" cx="4005.9" cy="1332.7" r="5.4"/>
<circle class="sc" cx="4006.3" cy="1317.3" r="5.4"/>
<circle class="sc" cx="4006.7" cy="1342.5" r="5.4"/>
<circle class="sc" cx="4006.4" cy="1321.5" r="5.4"/>
<circle class="sc" cx="4007.1" cy="1296.4" r="5.4"/>
<circle class="sc" cx="4006.5" cy="1295.5" r="5.4"/>
<circle class="sc" cx="4007.6" cy="1355.9" r="5.4"/>
<circle class="sc" cx="4008.9" cy="1295.6" r="5.4"/>
<circle class="sc" cx="4008.1" cy="1323.6" r="5.4"/>
<circle class="sc" cx="4007.1" cy="1291.9" r="5.4"/>
<circle class="sc" cx="4008.8" cy="1325.7" r="5.4"/>
<circle class="sc" cx="4008.3" cy="1326.8" r="5.4"/>
<circle class="sc" cx="4008.9" cy="1291.4" r="5.4"/>
<circle class="sc" cx="4008.7" cy="1352.6" r="5.4"/>
<circle class="sc" cx="4006.1" cy="1350.3" r="5.4"/>
<circle class="sc" cx="4008.7" cy="1382.4" r="5.4"/>
<circle class="sc" cx="4006.6" cy="1340" r="5.4"/>
<circle class="sc" cx="4006" cy="1327.7" r="5.4"/>
<circle class="sc" cx="4005.7" cy="1342.8" r="5.4"/>
<circle class="sc" cx="4008" cy="1341.4" r="5.4"/>
<circle class="sc" cx="4007.2" cy="1319.9" r="5.4"/>
<circle class="sc" cx="4007.3" cy="1328.8" r="5.4"/>
<circle class="sc" cx="4006.6" cy="1323.4" r="5.4"/>
<circle class="sc" cx="4008.9" cy="1295.1" r="5.4"/>
<circle class="sc" cx="4005.4" cy="1303.7" r="5.4"/>
<circle class="sc" cx="4006.6" cy="1294.4" r="5.4"/>
<circle class="sc" cx="4006.4" cy="1318.5" r="5.4"/>
<circle class="sc" cx="4008.7" cy="1360.6" r="5.4"/>
<circle class="sc" cx="4007.7" cy="1349.4" r="5.4"/>
<circle class="sc" cx="4005.7" cy="1336.2" r="5.4"/>
<circle class="sc" cx="4005.2" cy="1332.3" r="5.4"/>
<circle class="sc" cx="4008.9" cy="1303.7" r="5.4"/>
<circle class="sc" cx="4005.6" cy="1307.8" r="5.4"/>
<circle class="sc" cx="4006.6" cy="1332.6" r="5.4"/>
<circle class="sc" cx="4007.9" cy="1304.7" r="5.4"/>
<circle class="sc" cx="4008.7" cy="1347.5" r="5.4"/>
<circle class="sc" cx="4007.9" cy="1328.8" r="5.4"/>
<circle class="sc" cx="4006.1" cy="1361.8" r="5.4"/>
<circle class="sc" cx="4005.7" cy="1340.5" r="5.4"/>
<circle class="sc" cx="4006.9" cy="1353.1" r="5.4"/>
<circle class="sc" cx="4007.6" cy="1297.8" r="5.4"/>
<circle class="sc" cx="4006.1" cy="1341.7" r="5.4"/>
<circle class="sc" cx="4007.5" cy="1314.7" r="5.4"/>
<circle class="sc" cx="4008.6" cy="1301.6" r="5.4"/>
<circle class="sc" cx="4008.8" cy="1267.1" r="5.4"/>
<circle class="sc" cx="4006.8" cy="1291" r="5.4"/>
<circle class="sc" cx="4006.8" cy="1351.4" r="5.4"/>
<circle class="sc" cx="4007" cy="1336.1" r="5.4"/>
<circle class="sc" cx="4008.6" cy="1296.8" r="5.4"/>
<circle class="sc" cx="4008.8" cy="1307.1" r="5.4"/>
<circle class="sc" cx="4008.2" cy="1311.5" r="5.4"/>
<circle class="sc" cx="4005.7" cy="1337" r="5.4"/>
<circle class="sc" cx="4006.7" cy="1287.1" r="5.4"/>
<circle class="sc" cx="4007.7" cy="1345.3" r="5.4"/>
<circle class="sc" cx="4044.8" cy="1303.5" r="5.4"/>
<circle class="sc" cx="4047.1" cy="1280.2" r="5.4"/>
<circle class="sc" cx="4047.5" cy="1256.1" r="5.4"/>
<circle class="sc" cx="4047.6" cy="1265.3" r="5.4"/>
<circle class="sc" cx="4044.5" cy="1300.8" r="5.4"/>
<circle class="sc" cx="4045.6" cy="1281" r="5.4"/>
<circle class="sc" cx="4047.8" cy="1288.3" r="5.4"/>
<circle class="sc" cx="4046.6" cy="1298.5" r="5.4"/>
<circle class="sc" cx="4044.9" cy="1284.9" r="5.4"/>
<circle class="sc" cx="4047.5" cy="1318.1" r="5.4"/>
<circle class="sc" cx="4045.3" cy="1302.9" r="5.4"/>
<circle class="sc" cx="4047.6" cy="1265.3" r="5.4"/>
<circle class="sc" cx="4044.9" cy="1261.4" r="5.4"/>
<circle class="sc" cx="4047.4" cy="1255.1" r="5.4"/>
<circle class="sc" cx="4045.4" cy="1301.1" r="5.4"/>
<circle class="sc" cx="4044.8" cy="1283.2" r="5.4"/>
<circle class="sc" cx="4046.7" cy="1307.1" r="5.4"/>
<circle class="sc" cx="4046.5" cy="1287.5" r="5.4"/>
<circle class="sc" cx="4046.5" cy="1286.3" r="5.4"/>
<circle class="sc" cx="4045.2" cy="1269.9" r="5.4"/>
<circle class="sc" cx="4046.1" cy="1293.8" r="5.4"/>
<circle class="sc" cx="4044.4" cy="1312.2" r="5.4"/>
<circle class="sc" cx="4044.5" cy="1261.1" r="5.4"/>
<circle class="sc" cx="4045.3" cy="1265.2" r="5.4"/>
<circle class="sc" cx="4046.1" cy="1317.7" r="5.4"/>
<circle class="sc" cx="4044.8" cy="1319.6" r="5.4"/>
<circle class="sc" cx="4045.2" cy="1240.9" r="5.4"/>
<circle class="sc" cx="4047.9" cy="1281.7" r="5.4"/>
<circle class="sc" cx="4047.9" cy="1292.6" r="5.4"/>
<circle class="sc" cx="4047.6" cy="1258.2" r="5.4"/>
<circle class="sc" cx="4046.3" cy="1269.2" r="5.4"/>
<circle class="sc" cx="4044.2" cy="1240.6" r="5.4"/>
<circle class="sc" cx="4046.2" cy="1272.8" r="5.4"/>
<circle class="sc" cx="4044.8" cy="1316" r="5.4"/>
<circle class="sc" cx="4046" cy="1273.2" r="5.4"/>
<circle class="sc" cx="4047.5" cy="1292.6" r="5.4"/>
<circle class="sc" cx="4044.6" cy="1307.3" r="5.4"/>
<circle class="sc" cx="4046.8" cy="1280.7" r="5.4"/>
<circle class="sc" cx="4044.2" cy="1304" r="5.4"/>
<circle class="sc" cx="4046.9" cy="1336.3" r="5.4"/>
<circle class="sc" cx="4047.3" cy="1259.9" r="5.4"/>
<circle class="sc" cx="4046" cy="1315.7" r="5.4"/>
<circle class="sc" cx="4044.7" cy="1312.1" r="5.4"/>
<circle class="sc" cx="4046.3" cy="1284.4" r="5.4"/>
<circle class="sc" cx="4044.4" cy="1256" r="5.4"/>
<circle class="sc" cx="4044.4" cy="1270.6" r="5.4"/>
<circle class="sc" cx="4046.4" cy="1273.1" r="5.4"/>
<circle class="sc" cx="4047.2" cy="1305.2" r="5.4"/>
<circle class="sc" cx="4045.3" cy="1289.6" r="5.4"/>
<circle class="sc" cx="4046.2" cy="1296.3" r="5.4"/>
<circle class="sc" cx="4047.1" cy="1276.5" r="5.4"/>
<circle class="sc" cx="4047.6" cy="1309.2" r="5.4"/>
<circle class="sc" cx="4047.9" cy="1317.5" r="5.4"/>
<circle class="sc" cx="4046.1" cy="1312.3" r="5.4"/>
<circle class="sc" cx="4047" cy="1257.7" r="5.4"/>
<circle class="sc" cx="4047.7" cy="1301.3" r="5.4"/>
<circle class="sc" cx="4045.9" cy="1261.5" r="5.4"/>
<circle class="sc" cx="4045" cy="1313.5" r="5.4"/>
<circle class="sc" cx="4046.3" cy="1302.5" r="5.4"/>
<circle class="sc" cx="4044.2" cy="1257.2" r="5.4"/>
<circle class="sc" cx="4046.2" cy="1260.1" r="5.4"/>
<circle class="sc" cx="4044.1" cy="1297.9" r="5.4"/>
<circle class="sc" cx="4044.2" cy="1331.1" r="5.4"/>
<circle class="sc" cx="4047" cy="1268.7" r="5.4"/>
<circle class="sc" cx="4045.6" cy="1291.3" r="5.4"/>
<circle class="sc" cx="4045.4" cy="1274.5" r="5.4"/>
<circle class="sc" cx="4045.7" cy="1321.1" r="5.4"/>
<circle class="sc" cx="4046" cy="1255" r="5.4"/>
<circle class="sc" cx="4046.7" cy="1295" r="5.4"/>
<circle class="sc" cx="4045.6" cy="1267.6" r="5.4"/>
<circle class="sc" cx="4046.5" cy="1271.6" r="5.4"/>
<circle class="sc" cx="4045.1" cy="1272.4" r="5.4"/>
<circle class="sc" cx="4045.3" cy="1273.4" r="5.4"/>
<circle class="sc" cx="4044.4" cy="1274" r="5.4"/>
<circle class="sc" cx="4047.6" cy="1259.5" r="5.4"/>
<circle class="sc" cx="4046.4" cy="1285.5" r="5.4"/>
<circle class="sc" cx="4046.6" cy="1295" r="5.4"/>
<circle class="sc" cx="4046.4" cy="1239.6" r="5.4"/>
<circle class="sc" cx="4046.2" cy="1268.6" r="5.4"/>
<circle class="sc" cx="4046.1" cy="1245.2" r="5.4"/>
<circle class="sc" cx="4047.3" cy="1292" r="5.4"/>
<circle class="sc" cx="4046.2" cy="1266.4" r="5.4"/>
<circle class="sc" cx="4045.2" cy="1283.1" r="5.4"/>
<circle class="sc" cx="4045.6" cy="1315.2" r="5.4"/>
<circle class="sc" cx="4044.6" cy="1283.1" r="5.4"/>
<circle class="sc" cx="4044.9" cy="1275" r="5.4"/>
<circle class="sc" cx="4044.4" cy="1317.2" r="5.4"/>
<circle class="sc" cx="4046.6" cy="1295" r="5.4"/>
<circle class="sc" cx="4045.5" cy="1290.4" r="5.4"/>
<circle class="sc" cx="4045.1" cy="1302.3" r="5.4"/>
<circle class="sc" cx="4046.1" cy="1258.8" r="5.4"/>
<circle class="sc" cx="4047.5" cy="1273.6" r="5.4"/>
<circle class="sc" cx="4046.1" cy="1280.2" r="5.4"/>
<circle class="sc" cx="4048" cy="1267.6" r="5.4"/>
<circle class="sc" cx="4047.7" cy="1262.1" r="5.4"/>
<circle class="sc" cx="4047.1" cy="1276" r="5.4"/>
<circle class="sc" cx="4044.8" cy="1293.7" r="5.4"/>
<circle class="sc" cx="4046.8" cy="1282.7" r="5.4"/>
<circle class="sc" cx="4047.7" cy="1283.3" r="5.4"/>
<circle class="sc" cx="4047.1" cy="1282" r="5.4"/>
<circle class="sc" cx="4087.4" cy="1238.2" r="5.4"/>
<circle class="sc" cx="4087.2" cy="1249.9" r="5.4"/>
<circle class="sc" cx="4086.9" cy="1264" r="5.4"/>
<circle class="sc" cx="4085.8" cy="1262.8" r="5.4"/>
<circle class="sc" cx="4087.2" cy="1242.6" r="5.4"/>
<circle class="sc" cx="4085.4" cy="1259.1" r="5.4"/>
<circle class="sc" cx="4087.6" cy="1219.5" r="5.4"/>
<circle class="sc" cx="4085.5" cy="1242.5" r="5.4"/>
<circle class="sc" cx="4085.4" cy="1212.6" r="5.4"/>
<circle class="sc" cx="4087.3" cy="1221" r="5.4"/>
<circle class="sc" cx="4085.3" cy="1216.7" r="5.4"/>
<circle class="sc" cx="4086.2" cy="1249.3" r="5.4"/>
<circle class="sc" cx="4084.7" cy="1276" r="5.4"/>
<circle class="sc" cx="4085.9" cy="1226" r="5.4"/>
<circle class="sc" cx="4087" cy="1221.4" r="5.4"/>
<circle class="sc" cx="4086" cy="1227.1" r="5.4"/>
<circle class="sc" cx="4087.1" cy="1244.1" r="5.4"/>
<circle class="sc" cx="4085.2" cy="1260.1" r="5.4"/>
<circle class="sc" cx="4088.2" cy="1202.6" r="5.4"/>
<circle class="sc" cx="4087.9" cy="1259.1" r="5.4"/>
<circle class="sc" cx="4087.4" cy="1267.3" r="5.4"/>
<circle class="sc" cx="4085.7" cy="1264" r="5.4"/>
<circle class="sc" cx="4084.4" cy="1241.8" r="5.4"/>
<circle class="sc" cx="4084.4" cy="1221.9" r="5.4"/>
<circle class="sc" cx="4085.9" cy="1254.9" r="5.4"/>
<circle class="sc" cx="4084.6" cy="1240.7" r="5.4"/>
<circle class="sc" cx="4086.3" cy="1246" r="5.4"/>
<circle class="sc" cx="4087" cy="1268.2" r="5.4"/>
<circle class="sc" cx="4088" cy="1254.1" r="5.4"/>
<circle class="sc" cx="4086.5" cy="1254.8" r="5.4"/>
<circle class="sc" cx="4086" cy="1232.3" r="5.4"/>
<circle class="sc" cx="4086.4" cy="1206.4" r="5.4"/>
<circle class="sc" cx="4087.9" cy="1278.2" r="5.4"/>
<circle class="sc" cx="4084.3" cy="1215.9" r="5.4"/>
<circle class="sc" cx="4085.3" cy="1265.8" r="5.4"/>
<circle class="sc" cx="4084.4" cy="1256.9" r="5.4"/>
<circle class="sc" cx="4085.3" cy="1220.7" r="5.4"/>
<circle class="sc" cx="4086" cy="1258.8" r="5.4"/>
<circle class="sc" cx="4084.7" cy="1221.4" r="5.4"/>
<circle class="sc" cx="4087" cy="1245.4" r="5.4"/>
<circle class="sc" cx="4085.6" cy="1200" r="5.4"/>
<circle class="sc" cx="4087.5" cy="1283.7" r="5.4"/>
<circle class="sc" cx="4088.1" cy="1228.3" r="5.4"/>
<circle class="sc" cx="4085.1" cy="1241.6" r="5.4"/>
<circle class="sc" cx="4084.8" cy="1221.5" r="5.4"/>
<circle class="sc" cx="4085.1" cy="1211.2" r="5.4"/>
<circle class="sc" cx="4085.1" cy="1263.8" r="5.4"/>
<circle class="sc" cx="4086.9" cy="1271.3" r="5.4"/>
<circle class="sc" cx="4087.7" cy="1203.3" r="5.4"/>
<circle class="sc" cx="4086.6" cy="1221.1" r="5.4"/>
<circle class="sc" cx="4086.5" cy="1280.7" r="5.4"/>
<circle class="sc" cx="4084.8" cy="1248.4" r="5.4"/>
<circle class="sc" cx="4085" cy="1229.8" r="5.4"/>
<circle class="sc" cx="4085.5" cy="1205.7" r="5.4"/>
<circle class="sc" cx="4086.9" cy="1211.9" r="5.4"/>
<circle class="sc" cx="4085.1" cy="1284.8" r="5.4"/>
<circle class="sc" cx="4087.9" cy="1214" r="5.4"/>
<circle class="sc" cx="4086" cy="1221.9" r="5.4"/>
<circle class="sc" cx="4087" cy="1280.8" r="5.4"/>
<circle class="sc" cx="4087.1" cy="1216.8" r="5.4"/>
<circle class="sc" cx="4084.4" cy="1210.5" r="5.4"/>
<circle class="sc" cx="4084.6" cy="1208.8" r="5.4"/>
<circle class="sc" cx="4086.7" cy="1245" r="5.4"/>
<circle class="sc" cx="4088" cy="1286" r="5.4"/>
<circle class="sc" cx="4086.2" cy="1289.2" r="5.4"/>
<circle class="sc" cx="4086.8" cy="1215.3" r="5.4"/>
<circle class="sc" cx="4086.3" cy="1220.6" r="5.4"/>
<circle class="sc" cx="4084.8" cy="1230.4" r="5.4"/>
<circle class="sc" cx="4085.5" cy="1256.4" r="5.4"/>
<circle class="sc" cx="4086.7" cy="1255.7" r="5.4"/>
<circle class="sc" cx="4085.9" cy="1240.6" r="5.4"/>
<circle class="sc" cx="4086.4" cy="1255.7" r="5.4"/>
<circle class="sc" cx="4088" cy="1255.9" r="5.4"/>
<circle class="sc" cx="4084.3" cy="1269.4" r="5.4"/>
<circle class="sc" cx="4086.9" cy="1256.5" r="5.4"/>
<circle class="sc" cx="4084.4" cy="1239.9" r="5.4"/>
<circle class="sc" cx="4086.7" cy="1279.1" r="5.4"/>
<circle class="sc" cx="4084.8" cy="1203.3" r="5.4"/>
<circle class="sc" cx="4086.8" cy="1220.3" r="5.4"/>
<circle class="sc" cx="4085.2" cy="1209.3" r="5.4"/>
<circle class="sc" cx="4084.4" cy="1284.5" r="5.4"/>
<circle class="sc" cx="4085.7" cy="1205.3" r="5.4"/>
<circle class="sc" cx="4086" cy="1281" r="5.4"/>
<circle class="sc" cx="4085.9" cy="1278.4" r="5.4"/>
<circle class="sc" cx="4087.5" cy="1246.3" r="5.4"/>
<circle class="sc" cx="4085" cy="1278.4" r="5.4"/>
<circle class="sc" cx="4084.4" cy="1199.8" r="5.4"/>
<circle class="sc" cx="4087.1" cy="1266.5" r="5.4"/>
<circle class="sc" cx="4085.2" cy="1224.8" r="5.4"/>
<circle class="sc" cx="4085.8" cy="1278.6" r="5.4"/>
<circle class="sc" cx="4086.8" cy="1264.4" r="5.4"/>
<circle class="sc" cx="4085.5" cy="1238.4" r="5.4"/>
<circle class="sc" cx="4084.6" cy="1222.1" r="5.4"/>
<circle class="sc" cx="4086.9" cy="1215.2" r="5.4"/>
<circle class="sc" cx="4086.4" cy="1240.5" r="5.4"/>
<circle class="sc" cx="4084.5" cy="1285.3" r="5.4"/>
<circle class="sc" cx="4086.9" cy="1209.7" r="5.4"/>
<circle class="sc" cx="4085.4" cy="1232.8" r="5.4"/>
<circle class="sc" cx="4084.4" cy="1260.3" r="5.4"/>
<circle class="sc" cx="4087" cy="1246.5" r="5.4"/>
<circle class="sc" cx="4125.1" cy="1207.1" r="5.4"/>
<circle class="sc" cx="4124.8" cy="1224" r="5.4"/>
<circle class="sc" cx="4126" cy="1207.9" r="5.4"/>
<circle class="sc" cx="4126.8" cy="1203.5" r="5.4"/>
<circle class="sc" cx="4126.2" cy="1232.1" r="5.4"/>
<circle class="sc" cx="4128.4" cy="1214.9" r="5.4"/>
<circle class="sc" cx="4125.4" cy="1207.4" r="5.4"/>
<circle class="sc" cx="4127.2" cy="1187.3" r="5.4"/>
<circle class="sc" cx="4126.3" cy="1172.3" r="5.4"/>
<circle class="sc" cx="4125" cy="1191.2" r="5.4"/>
<circle class="sc" cx="4128.2" cy="1184" r="5.4"/>
<circle class="sc" cx="4126.4" cy="1205.8" r="5.4"/>
<circle class="sc" cx="4125.3" cy="1170.7" r="5.4"/>
<circle class="sc" cx="4128.3" cy="1190.7" r="5.4"/>
<circle class="sc" cx="4124.8" cy="1181.3" r="5.4"/>
<circle class="sc" cx="4127.1" cy="1225.2" r="5.4"/>
<circle class="sc" cx="4126.5" cy="1217" r="5.4"/>
<circle class="sc" cx="4128" cy="1182.7" r="5.4"/>
<circle class="sc" cx="4127.9" cy="1237.6" r="5.4"/>
<circle class="sc" cx="4127.4" cy="1197.5" r="5.4"/>
<circle class="sc" cx="4128.1" cy="1237.7" r="5.4"/>
<circle class="sc" cx="4127.3" cy="1233.8" r="5.4"/>
<circle class="sc" cx="4127.7" cy="1182.5" r="5.4"/>
<circle class="sc" cx="4124.7" cy="1220.1" r="5.4"/>
<circle class="sc" cx="4125.8" cy="1222.7" r="5.4"/>
<circle class="sc" cx="4125.1" cy="1220" r="5.4"/>
<circle class="sc" cx="4125.7" cy="1190.2" r="5.4"/>
<circle class="sc" cx="4125.5" cy="1210.8" r="5.4"/>
<circle class="sc" cx="4128.2" cy="1172.5" r="5.4"/>
<circle class="sc" cx="4125.7" cy="1230.7" r="5.4"/>
<circle class="sc" cx="4126.1" cy="1241.9" r="5.4"/>
<circle class="sc" cx="4124.7" cy="1226" r="5.4"/>
<circle class="sc" cx="4126.8" cy="1232.1" r="5.4"/>
<circle class="sc" cx="4125" cy="1226.4" r="5.4"/>
<circle class="sc" cx="4124.9" cy="1236.1" r="5.4"/>
<circle class="sc" cx="4127.7" cy="1217.7" r="5.4"/>
<circle class="sc" cx="4127.9" cy="1184.2" r="5.4"/>
<circle class="sc" cx="4126.5" cy="1203.8" r="5.4"/>
<circle class="sc" cx="4126.1" cy="1233.2" r="5.4"/>
<circle class="sc" cx="4125.9" cy="1229.8" r="5.4"/>
<circle class="sc" cx="4126.4" cy="1171.4" r="5.4"/>
<circle class="sc" cx="4125.2" cy="1215.4" r="5.4"/>
<circle class="sc" cx="4127.1" cy="1207.2" r="5.4"/>
<circle class="sc" cx="4126.1" cy="1206.4" r="5.4"/>
<circle class="sc" cx="4125.8" cy="1238.3" r="5.4"/>
<circle class="sc" cx="4124.5" cy="1194" r="5.4"/>
<circle class="sc" cx="4126.5" cy="1235.6" r="5.4"/>
<circle class="sc" cx="4125.3" cy="1214" r="5.4"/>
<circle class="sc" cx="4127.7" cy="1222.7" r="5.4"/>
<circle class="sc" cx="4124.6" cy="1179.6" r="5.4"/>
<circle class="sc" cx="4126.4" cy="1198.5" r="5.4"/>
<circle class="sc" cx="4128" cy="1197.3" r="5.4"/>
<circle class="sc" cx="4128.4" cy="1176.4" r="5.4"/>
<circle class="sc" cx="4126.2" cy="1192.8" r="5.4"/>
<circle class="sc" cx="4125.7" cy="1174.4" r="5.4"/>
<circle class="sc" cx="4127.6" cy="1195" r="5.4"/>
<circle class="sc" cx="4125.4" cy="1202.5" r="5.4"/>
<circle class="sc" cx="4125.9" cy="1214.8" r="5.4"/>
<circle class="sc" cx="4126.9" cy="1207.2" r="5.4"/>
<circle class="sc" cx="4126.2" cy="1183.4" r="5.4"/>
<circle class="sc" cx="4127.2" cy="1213.7" r="5.4"/>
<circle class="sc" cx="4127.3" cy="1200.7" r="5.4"/>
<circle class="sc" cx="4128.1" cy="1194.1" r="5.4"/>
<circle class="sc" cx="4125.3" cy="1232.2" r="5.4"/>
<circle class="sc" cx="4127.5" cy="1209.9" r="5.4"/>
<circle class="sc" cx="4124.6" cy="1174" r="5.4"/>
<circle class="sc" cx="4126.4" cy="1209.2" r="5.4"/>
<circle class="sc" cx="4127.1" cy="1195.5" r="5.4"/>
<circle class="sc" cx="4126.9" cy="1213.4" r="5.4"/>
<circle class="sc" cx="4126" cy="1218.9" r="5.4"/>
<circle class="sc" cx="4127" cy="1191.4" r="5.4"/>
<circle class="sc" cx="4124.5" cy="1200.7" r="5.4"/>
<circle class="sc" cx="4125.1" cy="1193.5" r="5.4"/>
<circle class="sc" cx="4127.8" cy="1178.6" r="5.4"/>
<circle class="sc" cx="4127.2" cy="1217.7" r="5.4"/>
<circle class="sc" cx="4125.1" cy="1191.2" r="5.4"/>
<circle class="sc" cx="4125.4" cy="1206.5" r="5.4"/>
<circle class="sc" cx="4126.3" cy="1225.6" r="5.4"/>
<circle class="sc" cx="4126.6" cy="1184.4" r="5.4"/>
<circle class="sc" cx="4125" cy="1198.9" r="5.4"/>
<circle class="sc" cx="4127.5" cy="1184.3" r="5.4"/>
<circle class="sc" cx="4127.6" cy="1250.6" r="5.4"/>
<circle class="sc" cx="4127.7" cy="1180.9" r="5.4"/>
<circle class="sc" cx="4126.3" cy="1226.2" r="5.4"/>
<circle class="sc" cx="4126.8" cy="1213.8" r="5.4"/>
<circle class="sc" cx="4125.8" cy="1237.8" r="5.4"/>
<circle class="sc" cx="4126.9" cy="1192.3" r="5.4"/>
<circle class="sc" cx="4126.3" cy="1174.1" r="5.4"/>
<circle class="sc" cx="4126.5" cy="1204.7" r="5.4"/>
<circle class="sc" cx="4126.8" cy="1221.6" r="5.4"/>
<circle class="sc" cx="4125.1" cy="1219.4" r="5.4"/>
<circle class="sc" cx="4126.7" cy="1226.1" r="5.4"/>
<circle class="sc" cx="4125.1" cy="1186" r="5.4"/>
<circle class="sc" cx="4127.8" cy="1213.3" r="5.4"/>
<circle class="sc" cx="4126.5" cy="1237.2" r="5.4"/>
<circle class="sc" cx="4124.8" cy="1218.2" r="5.4"/>
<circle class="sc" cx="4125.1" cy="1210" r="5.4"/>
<circle class="sc" cx="4125.4" cy="1189" r="5.4"/>
<circle class="sc" cx="4128.3" cy="1175.6" r="5.4"/>
<circle class="sc" cx="4127.8" cy="1204.1" r="5.4"/>
<circle class="sc" cx="4165.7" cy="1145.2" r="5.4"/>
<circle class="sc" cx="4164.8" cy="1179.9" r="5.4"/>
<circle class="sc" cx="4166.1" cy="1164.5" r="5.4"/>
<circle class="sc" cx="4167.5" cy="1155.3" r="5.4"/>
<circle class="sc" cx="4164.6" cy="1166.6" r="5.4"/>
<circle class="sc" cx="4166.1" cy="1167.7" r="5.4"/>
<circle class="sc" cx="4164" cy="1192.4" r="5.4"/>
<circle class="sc" cx="4164.8" cy="1194.3" r="5.4"/>
<circle class="sc" cx="4166.8" cy="1144.6" r="5.4"/>
<circle class="sc" cx="4167.2" cy="1170.2" r="5.4"/>
<circle class="sc" cx="4167.6" cy="1165.6" r="5.4"/>
<circle class="sc" cx="4165.6" cy="1166" r="5.4"/>
<circle class="sc" cx="4165.3" cy="1128.7" r="5.4"/>
<circle class="sc" cx="4164.5" cy="1186.9" r="5.4"/>
<circle class="sc" cx="4164.7" cy="1150.6" r="5.4"/>
<circle class="sc" cx="4165" cy="1171.6" r="5.4"/>
<circle class="sc" cx="4165.5" cy="1147" r="5.4"/>
<circle class="sc" cx="4164.3" cy="1186.1" r="5.4"/>
<circle class="sc" cx="4167.3" cy="1182.4" r="5.4"/>
<circle class="sc" cx="4167.7" cy="1188.2" r="5.4"/>
<circle class="sc" cx="4167.7" cy="1143.9" r="5.4"/>
<circle class="sc" cx="4165.5" cy="1154.1" r="5.4"/>
<circle class="sc" cx="4165.9" cy="1174" r="5.4"/>
<circle class="sc" cx="4167.5" cy="1172" r="5.4"/>
<circle class="sc" cx="4167.1" cy="1180" r="5.4"/>
<circle class="sc" cx="4165.3" cy="1149.9" r="5.4"/>
<circle class="sc" cx="4167.7" cy="1146.8" r="5.4"/>
<circle class="sc" cx="4164.3" cy="1178.3" r="5.4"/>
<circle class="sc" cx="4164.2" cy="1183.6" r="5.4"/>
<circle class="sc" cx="4164.9" cy="1150.1" r="5.4"/>
<circle class="sc" cx="4167.9" cy="1188" r="5.4"/>
<circle class="sc" cx="4167.5" cy="1126.9" r="5.4"/>
<circle class="sc" cx="4165.5" cy="1168.5" r="5.4"/>
<circle class="sc" cx="4167.8" cy="1165.5" r="5.4"/>
<circle class="sc" cx="4165.3" cy="1177.6" r="5.4"/>
<circle class="sc" cx="4164.1" cy="1147" r="5.4"/>
<circle class="sc" cx="4165.8" cy="1180.4" r="5.4"/>
<circle class="sc" cx="4167.7" cy="1177.8" r="5.4"/>
<circle class="sc" cx="4165.8" cy="1184.9" r="5.4"/>
<circle class="sc" cx="4167.7" cy="1158.6" r="5.4"/>
<circle class="sc" cx="4165.6" cy="1157.8" r="5.4"/>
<circle class="sc" cx="4165.5" cy="1130.9" r="5.4"/>
<circle class="sc" cx="4165.4" cy="1127.9" r="5.4"/>
<circle class="sc" cx="4165.3" cy="1174.3" r="5.4"/>
<circle class="sc" cx="4166.4" cy="1180" r="5.4"/>
<circle class="sc" cx="4165.5" cy="1144.4" r="5.4"/>
<circle class="sc" cx="4167.3" cy="1192.5" r="5.4"/>
<circle class="sc" cx="4167.6" cy="1170.9" r="5.4"/>
<circle class="sc" cx="4166.7" cy="1191.6" r="5.4"/>
<circle class="sc" cx="4164" cy="1192.4" r="5.4"/>
<circle class="sc" cx="4164.5" cy="1182.3" r="5.4"/>
<circle class="sc" cx="4164.2" cy="1153.6" r="5.4"/>
<circle class="sc" cx="4165.8" cy="1165.5" r="5.4"/>
<circle class="sc" cx="4165" cy="1160.7" r="5.4"/>
<circle class="sc" cx="4167.6" cy="1137.4" r="5.4"/>
<circle class="sc" cx="4166.9" cy="1185.4" r="5.4"/>
<circle class="sc" cx="4166.4" cy="1179.1" r="5.4"/>
<circle class="sc" cx="4167" cy="1161.2" r="5.4"/>
<circle class="sc" cx="4167.4" cy="1178.7" r="5.4"/>
<circle class="sc" cx="4167.5" cy="1190.7" r="5.4"/>
<circle class="sc" cx="4164.4" cy="1188.6" r="5.4"/>
<circle class="sc" cx="4166.5" cy="1186.2" r="5.4"/>
<circle class="sc" cx="4164.8" cy="1163.7" r="5.4"/>
<circle class="sc" cx="4164.8" cy="1149.6" r="5.4"/>
<circle class="sc" cx="4166.4" cy="1169.2" r="5.4"/>
<circle class="sc" cx="4166.5" cy="1153.5" r="5.4"/>
<circle class="sc" cx="4166.6" cy="1174.7" r="5.4"/>
<circle class="sc" cx="4164.5" cy="1128" r="5.4"/>
<circle class="sc" cx="4165.6" cy="1187" r="5.4"/>
<circle class="sc" cx="4167.1" cy="1131.3" r="5.4"/>
<circle class="sc" cx="4164.2" cy="1168.8" r="5.4"/>
<circle class="sc" cx="4164.1" cy="1170.2" r="5.4"/>
<circle class="sc" cx="4166.3" cy="1127.1" r="5.4"/>
<circle class="sc" cx="4166.7" cy="1190.5" r="5.4"/>
<circle class="sc" cx="4165.8" cy="1140.7" r="5.4"/>
<circle class="sc" cx="4166.6" cy="1171.5" r="5.4"/>
<circle class="sc" cx="4167.4" cy="1149.1" r="5.4"/>
<circle class="sc" cx="4166.8" cy="1153.5" r="5.4"/>
<circle class="sc" cx="4165.7" cy="1194.9" r="5.4"/>
<circle class="sc" cx="4165" cy="1154" r="5.4"/>
<circle class="sc" cx="4167.8" cy="1166.8" r="5.4"/>
<circle class="sc" cx="4164.9" cy="1184.3" r="5.4"/>
<circle class="sc" cx="4167.5" cy="1139.4" r="5.4"/>
<circle class="sc" cx="4166.4" cy="1192.9" r="5.4"/>
<circle class="sc" cx="4165.7" cy="1184.2" r="5.4"/>
<circle class="sc" cx="4166.2" cy="1189.7" r="5.4"/>
<circle class="sc" cx="4166" cy="1134.4" r="5.4"/>
<circle class="sc" cx="4167.2" cy="1151" r="5.4"/>
<circle class="sc" cx="4164.7" cy="1136.8" r="5.4"/>
<circle class="sc" cx="4165" cy="1144.9" r="5.4"/>
<circle class="sc" cx="4167.1" cy="1158.2" r="5.4"/>
<circle class="sc" cx="4166.5" cy="1162.6" r="5.4"/>
<circle class="sc" cx="4165.6" cy="1175.8" r="5.4"/>
<circle class="sc" cx="4165.9" cy="1189.6" r="5.4"/>
<circle class="sc" cx="4164.4" cy="1172" r="5.4"/>
<circle class="sc" cx="4165.5" cy="1167.1" r="5.4"/>
<circle class="sc" cx="4164.9" cy="1151.8" r="5.4"/>
<circle class="sc" cx="4165.9" cy="1166" r="5.4"/>
<circle class="sc" cx="4167.3" cy="1192.4" r="5.4"/>
<circle class="sc" cx="4165.2" cy="1132.1" r="5.4"/>
<circle class="sc" cx="4204.2" cy="1136.9" r="5.4"/>
<circle class="sc" cx="4204.8" cy="1123.1" r="5.4"/>
<circle class="sc" cx="4204.2" cy="1095.9" r="5.4"/>
<circle class="sc" cx="4204.4" cy="1094.4" r="5.4"/>
<circle class="sc" cx="4207.9" cy="1106.6" r="5.4"/>
<circle class="sc" cx="4205.5" cy="1102.3" r="5.4"/>
<circle class="sc" cx="4206.1" cy="1140.6" r="5.4"/>
<circle class="sc" cx="4204.9" cy="1142.6" r="5.4"/>
<circle class="sc" cx="4207.1" cy="1106.1" r="5.4"/>
<circle class="sc" cx="4206.2" cy="1102.4" r="5.4"/>
<circle class="sc" cx="4205.6" cy="1153.9" r="5.4"/>
<circle class="sc" cx="4207.7" cy="1156.6" r="5.4"/>
<circle class="sc" cx="4207.9" cy="1098.4" r="5.4"/>
<circle class="sc" cx="4205.8" cy="1157" r="5.4"/>
<circle class="sc" cx="4207.6" cy="1111.6" r="5.4"/>
<circle class="sc" cx="4207.4" cy="1154.1" r="5.4"/>
<circle class="sc" cx="4208" cy="1143.3" r="5.4"/>
<circle class="sc" cx="4206.7" cy="1156.2" r="5.4"/>
<circle class="sc" cx="4206.1" cy="1141.2" r="5.4"/>
<circle class="sc" cx="4207.4" cy="1152.6" r="5.4"/>
<circle class="sc" cx="4205.6" cy="1088.2" r="5.4"/>
<circle class="sc" cx="4207.7" cy="1083.9" r="5.4"/>
<circle class="sc" cx="4205.2" cy="1159.7" r="5.4"/>
<circle class="sc" cx="4204.6" cy="1134.5" r="5.4"/>
<circle class="sc" cx="4205.7" cy="1085.6" r="5.4"/>
<circle class="sc" cx="4206.1" cy="1079.4" r="5.4"/>
<circle class="sc" cx="4204.4" cy="1107.9" r="5.4"/>
<circle class="sc" cx="4206" cy="1145.2" r="5.4"/>
<circle class="sc" cx="4206.6" cy="1148" r="5.4"/>
<circle class="sc" cx="4204.3" cy="1083.8" r="5.4"/>
<circle class="sc" cx="4206.5" cy="1125.3" r="5.4"/>
<circle class="sc" cx="4205.3" cy="1089.3" r="5.4"/>
<circle class="sc" cx="4204.9" cy="1110.3" r="5.4"/>
<circle class="sc" cx="4207.4" cy="1163.4" r="5.4"/>
<circle class="sc" cx="4204.6" cy="1092.1" r="5.4"/>
<circle class="sc" cx="4206.9" cy="1158.5" r="5.4"/>
<circle class="sc" cx="4207.1" cy="1127.6" r="5.4"/>
<circle class="sc" cx="4205.8" cy="1103.1" r="5.4"/>
<circle class="sc" cx="4204.9" cy="1113.1" r="5.4"/>
<circle class="sc" cx="4207.5" cy="1136.3" r="5.4"/>
<circle class="sc" cx="4204.4" cy="1094.6" r="5.4"/>
<circle class="sc" cx="4207.4" cy="1158.2" r="5.4"/>
<circle class="sc" cx="4205.5" cy="1135.3" r="5.4"/>
<circle class="sc" cx="4204.8" cy="1150.6" r="5.4"/>
<circle class="sc" cx="4207.4" cy="1134" r="5.4"/>
<circle class="sc" cx="4204.6" cy="1085.3" r="5.4"/>
<circle class="sc" cx="4207.9" cy="1086.5" r="5.4"/>
<circle class="sc" cx="4204.3" cy="1103.5" r="5.4"/>
<circle class="sc" cx="4206" cy="1084.8" r="5.4"/>
<circle class="sc" cx="4205.8" cy="1087.6" r="5.4"/>
<circle class="sc" cx="4205.7" cy="1144.1" r="5.4"/>
<circle class="sc" cx="4205.4" cy="1115.4" r="5.4"/>
<circle class="sc" cx="4205.1" cy="1098.6" r="5.4"/>
<circle class="sc" cx="4208.2" cy="1085.9" r="5.4"/>
<circle class="sc" cx="4206.3" cy="1138.3" r="5.4"/>
<circle class="sc" cx="4206.1" cy="1095" r="5.4"/>
<circle class="sc" cx="4206.1" cy="1085.4" r="5.4"/>
<circle class="sc" cx="4205.6" cy="1140.1" r="5.4"/>
<circle class="sc" cx="4206.9" cy="1150.9" r="5.4"/>
<circle class="sc" cx="4205.4" cy="1098.9" r="5.4"/>
<circle class="sc" cx="4205.9" cy="1106.4" r="5.4"/>
<circle class="sc" cx="4207.9" cy="1119.7" r="5.4"/>
<circle class="sc" cx="4207.6" cy="1151.2" r="5.4"/>
<circle class="sc" cx="4204.2" cy="1088.7" r="5.4"/>
<circle class="sc" cx="4207" cy="1144.2" r="5.4"/>
<circle class="sc" cx="4205.9" cy="1112.2" r="5.4"/>
<circle class="sc" cx="4207" cy="1098.4" r="5.4"/>
<circle class="sc" cx="4206.7" cy="1124.9" r="5.4"/>
<circle class="sc" cx="4206.7" cy="1105.7" r="5.4"/>
<circle class="sc" cx="4205.4" cy="1157" r="5.4"/>
<circle class="sc" cx="4207.4" cy="1112.6" r="5.4"/>
<circle class="sc" cx="4206.7" cy="1095" r="5.4"/>
<circle class="sc" cx="4206.6" cy="1133.2" r="5.4"/>
<circle class="sc" cx="4206.4" cy="1092.9" r="5.4"/>
<circle class="sc" cx="4208.1" cy="1109.4" r="5.4"/>
<circle class="sc" cx="4204.3" cy="1094.8" r="5.4"/>
<circle class="sc" cx="4206.9" cy="1094.2" r="5.4"/>
<circle class="sc" cx="4205" cy="1089.4" r="5.4"/>
<circle class="sc" cx="4205.9" cy="1089.6" r="5.4"/>
<circle class="sc" cx="4207.4" cy="1092.8" r="5.4"/>
<circle class="sc" cx="4205.2" cy="1145.2" r="5.4"/>
<circle class="sc" cx="4206.2" cy="1157.2" r="5.4"/>
<circle class="sc" cx="4204.5" cy="1107.2" r="5.4"/>
<circle class="sc" cx="4204.7" cy="1134.8" r="5.4"/>
<circle class="sc" cx="4206.2" cy="1124.5" r="5.4"/>
<circle class="sc" cx="4205" cy="1105.5" r="5.4"/>
<circle class="sc" cx="4204.8" cy="1155.7" r="5.4"/>
<circle class="sc" cx="4205.4" cy="1092.6" r="5.4"/>
<circle class="sc" cx="4206.4" cy="1112.3" r="5.4"/>
<circle class="sc" cx="4207.5" cy="1085.8" r="5.4"/>
<circle class="sc" cx="4207.9" cy="1085.7" r="5.4"/>
<circle class="sc" cx="4204.3" cy="1139.7" r="5.4"/>
<circle class="sc" cx="4204.4" cy="1155.7" r="5.4"/>
<circle class="sc" cx="4206.4" cy="1154.1" r="5.4"/>
<circle class="sc" cx="4204.4" cy="1094.7" r="5.4"/>
<circle class="sc" cx="4204.5" cy="1141.5" r="5.4"/>
<circle class="sc" cx="4205.4" cy="1138.7" r="5.4"/>
<circle class="sc" cx="4207.5" cy="1086.5" r="5.4"/>
<circle class="sc" cx="4207.5" cy="1101.5" r="5.4"/>
<circle class="sc" cx="4207.2" cy="1088.1" r="5.4"/>
<circle class="sc" cx="4246.1" cy="1113.3" r="5.4"/>
<circle class="sc" cx="4246" cy="1065.6" r="5.4"/>
<circle class="sc" cx="4247.8" cy="1106.9" r="5.4"/>
<circle class="sc" cx="4246.5" cy="1079.1" r="5.4"/>
<circle class="sc" cx="4244.7" cy="1112.6" r="5.4"/>
<circle class="sc" cx="4245" cy="1092.3" r="5.4"/>
<circle class="sc" cx="4246.4" cy="1114.7" r="5.4"/>
<circle class="sc" cx="4247.1" cy="1069.1" r="5.4"/>
<circle class="sc" cx="4246.4" cy="1074.3" r="5.4"/>
<circle class="sc" cx="4248.2" cy="1098.8" r="5.4"/>
<circle class="sc" cx="4248.2" cy="1092.7" r="5.4"/>
<circle class="sc" cx="4248.1" cy="1102.8" r="5.4"/>
<circle class="sc" cx="4246.2" cy="1116.1" r="5.4"/>
<circle class="sc" cx="4248.4" cy="1089.8" r="5.4"/>
<circle class="sc" cx="4244.4" cy="1094.2" r="5.4"/>
<circle class="sc" cx="4244.8" cy="1070.2" r="5.4"/>
<circle class="sc" cx="4245.4" cy="1099.4" r="5.4"/>
<circle class="sc" cx="4245.4" cy="1082.6" r="5.4"/>
<circle class="sc" cx="4247.8" cy="1092.5" r="5.4"/>
<circle class="sc" cx="4245.3" cy="1104.7" r="5.4"/>
<circle class="sc" cx="4246.2" cy="1089.7" r="5.4"/>
<circle class="sc" cx="4244.6" cy="1088.1" r="5.4"/>
<circle class="sc" cx="4244.5" cy="1126.2" r="5.4"/>
<circle class="sc" cx="4246.3" cy="1095.2" r="5.4"/>
<circle class="sc" cx="4246.1" cy="1125.8" r="5.4"/>
<circle class="sc" cx="4246.2" cy="1077" r="5.4"/>
<circle class="sc" cx="4246.3" cy="1079.3" r="5.4"/>
<circle class="sc" cx="4245.3" cy="1097.9" r="5.4"/>
<circle class="sc" cx="4244.5" cy="1106.2" r="5.4"/>
<circle class="sc" cx="4245.8" cy="1130.2" r="5.4"/>
<circle class="sc" cx="4248" cy="1078.7" r="5.4"/>
<circle class="sc" cx="4248" cy="1096.6" r="5.4"/>
<circle class="sc" cx="4246.3" cy="1114.1" r="5.4"/>
<circle class="sc" cx="4247.6" cy="1083.9" r="5.4"/>
<circle class="sc" cx="4247.4" cy="1105.1" r="5.4"/>
<circle class="sc" cx="4248.1" cy="1082.1" r="5.4"/>
<circle class="sc" cx="4247.7" cy="1074.5" r="5.4"/>
<circle class="sc" cx="4246.5" cy="1120.5" r="5.4"/>
<circle class="sc" cx="4247.7" cy="1114.1" r="5.4"/>
<circle class="sc" cx="4244.7" cy="1074.4" r="5.4"/>
<circle class="sc" cx="4247.3" cy="1060.5" r="5.4"/>
<circle class="sc" cx="4246.1" cy="1066.5" r="5.4"/>
<circle class="sc" cx="4246.9" cy="1100.1" r="5.4"/>
<circle class="sc" cx="4246.8" cy="1102.9" r="5.4"/>
<circle class="sc" cx="4246.3" cy="1126" r="5.4"/>
<circle class="sc" cx="4247.2" cy="1089" r="5.4"/>
<circle class="sc" cx="4244.5" cy="1102.4" r="5.4"/>
<circle class="sc" cx="4245" cy="1123.7" r="5.4"/>
<circle class="sc" cx="4244.9" cy="1097.4" r="5.4"/>
<circle class="sc" cx="4247.2" cy="1091.9" r="5.4"/>
<circle class="sc" cx="4247.7" cy="1114.3" r="5.4"/>
<circle class="sc" cx="4245.4" cy="1110.3" r="5.4"/>
<circle class="sc" cx="4245.4" cy="1075" r="5.4"/>
<circle class="sc" cx="4247.4" cy="1089.8" r="5.4"/>
<circle class="sc" cx="4245.7" cy="1122.7" r="5.4"/>
<circle class="sc" cx="4246.7" cy="1073.7" r="5.4"/>
<circle class="sc" cx="4248" cy="1116.7" r="5.4"/>
<circle class="sc" cx="4245.1" cy="1115.9" r="5.4"/>
<circle class="sc" cx="4247.9" cy="1125.6" r="5.4"/>
<circle class="sc" cx="4245" cy="1074" r="5.4"/>
<circle class="sc" cx="4247.5" cy="1088.7" r="5.4"/>
<circle class="sc" cx="4244.6" cy="1078.6" r="5.4"/>
<circle class="sc" cx="4246.9" cy="1114.8" r="5.4"/>
<circle class="sc" cx="4248.1" cy="1052.6" r="5.4"/>
<circle class="sc" cx="4247.6" cy="1053.3" r="5.4"/>
<circle class="sc" cx="4246.8" cy="1078.7" r="5.4"/>
<circle class="sc" cx="4246.3" cy="1131.9" r="5.4"/>
<circle class="sc" cx="4247.4" cy="1099.2" r="5.4"/>
<circle class="sc" cx="4247.2" cy="1116.7" r="5.4"/>
<circle class="sc" cx="4248.2" cy="1123.3" r="5.4"/>
<circle class="sc" cx="4245.5" cy="1094.7" r="5.4"/>
<circle class="sc" cx="4247" cy="1119" r="5.4"/>
<circle class="sc" cx="4246.9" cy="1090.8" r="5.4"/>
<circle class="sc" cx="4244.7" cy="1101" r="5.4"/>
<circle class="sc" cx="4244.7" cy="1072.2" r="5.4"/>
<circle class="sc" cx="4247.5" cy="1065.6" r="5.4"/>
<circle class="sc" cx="4248.3" cy="1100.7" r="5.4"/>
<circle class="sc" cx="4247.3" cy="1125.9" r="5.4"/>
<circle class="sc" cx="4247" cy="1095.2" r="5.4"/>
<circle class="sc" cx="4245.4" cy="1069.2" r="5.4"/>
<circle class="sc" cx="4244.4" cy="1067.9" r="5.4"/>
<circle class="sc" cx="4246.1" cy="1119.9" r="5.4"/>
<circle class="sc" cx="4246.5" cy="1061.5" r="5.4"/>
<circle class="sc" cx="4246.6" cy="1078.4" r="5.4"/>
<circle class="sc" cx="4245" cy="1113.9" r="5.4"/>
<circle class="sc" cx="4248.1" cy="1101.3" r="5.4"/>
<circle class="sc" cx="4244.9" cy="1122.1" r="5.4"/>
<circle class="sc" cx="4245.3" cy="1078.2" r="5.4"/>
<circle class="sc" cx="4245.8" cy="1103.8" r="5.4"/>
<circle class="sc" cx="4248.3" cy="1093" r="5.4"/>
<circle class="sc" cx="4244.8" cy="1078.9" r="5.4"/>
<circle class="sc" cx="4245.3" cy="1085.8" r="5.4"/>
<circle class="sc" cx="4245.3" cy="1070.4" r="5.4"/>
<circle class="sc" cx="4244.6" cy="1120.2" r="5.4"/>
<circle class="sc" cx="4244.8" cy="1124.1" r="5.4"/>
<circle class="sc" cx="4248.2" cy="1068.2" r="5.4"/>
<circle class="sc" cx="4245.4" cy="1089.4" r="5.4"/>
<circle class="sc" cx="4246.9" cy="1122" r="5.4"/>
<circle class="sc" cx="4246" cy="1122.7" r="5.4"/>
<circle class="sc" cx="4247.4" cy="1104.4" r="5.4"/>
<circle class="sc" cx="4288.8" cy="1026" r="5.4"/>
<circle class="sc" cx="4287.3" cy="1071.9" r="5.4"/>
<circle class="sc" cx="4286.7" cy="1053.7" r="5.4"/>
<circle class="sc" cx="4288" cy="1030.7" r="5.4"/>
<circle class="sc" cx="4288.8" cy="1078" r="5.4"/>
<circle class="sc" cx="4288.2" cy="1059.8" r="5.4"/>
<circle class="sc" cx="4287" cy="1064.2" r="5.4"/>
<circle class="sc" cx="4287.2" cy="1047.2" r="5.4"/>
<circle class="sc" cx="4286.3" cy="1038.3" r="5.4"/>
<circle class="sc" cx="4287.8" cy="1073.4" r="5.4"/>
<circle class="sc" cx="4286.8" cy="1037.4" r="5.4"/>
<circle class="sc" cx="4285.8" cy="1028.3" r="5.4"/>
<circle class="sc" cx="4288" cy="1021" r="5.4"/>
<circle class="sc" cx="4288.9" cy="1021.3" r="5.4"/>
<circle class="sc" cx="4287.4" cy="1037.3" r="5.4"/>
<circle class="sc" cx="4289.1" cy="1054.1" r="5.4"/>
<circle class="sc" cx="4288.7" cy="1043.4" r="5.4"/>
<circle class="sc" cx="4288.2" cy="1101.9" r="5.4"/>
<circle class="sc" cx="4285.9" cy="1071.2" r="5.4"/>
<circle class="sc" cx="4287" cy="1066.3" r="5.4"/>
<circle class="sc" cx="4288.6" cy="1067.5" r="5.4"/>
<circle class="sc" cx="4285.6" cy="1025.3" r="5.4"/>
<circle class="sc" cx="4288.4" cy="1070.8" r="5.4"/>
<circle class="sc" cx="4289" cy="1031.7" r="5.4"/>
<circle class="sc" cx="4288.9" cy="1050.4" r="5.4"/>
<circle class="sc" cx="4287.4" cy="1028.2" r="5.4"/>
<circle class="sc" cx="4287.8" cy="1044.7" r="5.4"/>
<circle class="sc" cx="4286.9" cy="1062" r="5.4"/>
<circle class="sc" cx="4287.2" cy="1061.8" r="5.4"/>
<circle class="sc" cx="4285.9" cy="1077.8" r="5.4"/>
<circle class="sc" cx="4289.1" cy="1033.9" r="5.4"/>
<circle class="sc" cx="4287.4" cy="1071.9" r="5.4"/>
<circle class="sc" cx="4288.9" cy="1054.8" r="5.4"/>
<circle class="sc" cx="4286.1" cy="1053.2" r="5.4"/>
<circle class="sc" cx="4288" cy="1029.3" r="5.4"/>
<circle class="sc" cx="4287.1" cy="1056.4" r="5.4"/>
<circle class="sc" cx="4285.9" cy="1018.2" r="5.4"/>
<circle class="sc" cx="4288" cy="1044.9" r="5.4"/>
<circle class="sc" cx="4288.7" cy="1045.8" r="5.4"/>
<circle class="sc" cx="4286.7" cy="1023.6" r="5.4"/>
<circle class="sc" cx="4285.8" cy="1036" r="5.4"/>
<circle class="sc" cx="4287.6" cy="1075.8" r="5.4"/>
<circle class="sc" cx="4287.8" cy="1028" r="5.4"/>
<circle class="sc" cx="4286.5" cy="1019.8" r="5.4"/>
<circle class="sc" cx="4286.1" cy="1069.3" r="5.4"/>
<circle class="sc" cx="4286.2" cy="1019" r="5.4"/>
<circle class="sc" cx="4288.4" cy="1033" r="5.4"/>
<circle class="sc" cx="4287.1" cy="1031.5" r="5.4"/>
<circle class="sc" cx="4285.7" cy="1055" r="5.4"/>
<circle class="sc" cx="4285.7" cy="1075.5" r="5.4"/>
<circle class="sc" cx="4289" cy="1079.5" r="5.4"/>
<circle class="sc" cx="4287.8" cy="1020.1" r="5.4"/>
<circle class="sc" cx="4288.5" cy="1058.9" r="5.4"/>
<circle class="sc" cx="4285.9" cy="1071.7" r="5.4"/>
<circle class="sc" cx="4285.7" cy="1054.9" r="5.4"/>
<circle class="sc" cx="4286.7" cy="1053.2" r="5.4"/>
<circle class="sc" cx="4286" cy="1038.1" r="5.4"/>
<circle class="sc" cx="4286.9" cy="1023.6" r="5.4"/>
<circle class="sc" cx="4285.3" cy="1061.3" r="5.4"/>
<circle class="sc" cx="4286.5" cy="1049" r="5.4"/>
<circle class="sc" cx="4288.9" cy="1024.8" r="5.4"/>
<circle class="sc" cx="4289.1" cy="1062.1" r="5.4"/>
<circle class="sc" cx="4286.9" cy="1013.9" r="5.4"/>
<circle class="sc" cx="4286.8" cy="1071.5" r="5.4"/>
<circle class="sc" cx="4286.3" cy="1049.8" r="5.4"/>
<circle class="sc" cx="4285.7" cy="1033" r="5.4"/>
<circle class="sc" cx="4288.2" cy="1070.4" r="5.4"/>
<circle class="sc" cx="4287.4" cy="1024.4" r="5.4"/>
<circle class="sc" cx="4287.9" cy="1079.5" r="5.4"/>
<circle class="sc" cx="4286.9" cy="1064.9" r="5.4"/>
<circle class="sc" cx="4288.9" cy="1046.4" r="5.4"/>
<circle class="sc" cx="4287.2" cy="1067.6" r="5.4"/>
<circle class="sc" cx="4289.1" cy="1103.4" r="5.4"/>
<circle class="sc" cx="4288.7" cy="1021.2" r="5.4"/>
<circle class="sc" cx="4285.3" cy="1077.4" r="5.4"/>
<circle class="sc" cx="4285.9" cy="1036" r="5.4"/>
<circle class="sc" cx="4287.3" cy="1016.8" r="5.4"/>
<circle class="sc" cx="4286.7" cy="1054.4" r="5.4"/>
<circle class="sc" cx="4288.1" cy="1025.5" r="5.4"/>
<circle class="sc" cx="4287.4" cy="1020.9" r="5.4"/>
<circle class="sc" cx="4285.4" cy="1077.2" r="5.4"/>
<circle class="sc" cx="4285.3" cy="1051.9" r="5.4"/>
<circle class="sc" cx="4286.6" cy="1082.4" r="5.4"/>
<circle class="sc" cx="4287.7" cy="1038.6" r="5.4"/>
<circle class="sc" cx="4286.4" cy="1043.5" r="5.4"/>
<circle class="sc" cx="4288" cy="1044.6" r="5.4"/>
<circle class="sc" cx="4288.3" cy="1067.9" r="5.4"/>
<circle class="sc" cx="4285.7" cy="1065.8" r="5.4"/>
<circle class="sc" cx="4285.6" cy="1017.8" r="5.4"/>
<circle class="sc" cx="4287.8" cy="1036.3" r="5.4"/>
<circle class="sc" cx="4285.3" cy="1029.4" r="5.4"/>
<circle class="sc" cx="4287.6" cy="1054.1" r="5.4"/>
<circle class="sc" cx="4288.9" cy="1036.1" r="5.4"/>
<circle class="sc" cx="4288.7" cy="1039.6" r="5.4"/>
<circle class="sc" cx="4285.7" cy="1060.9" r="5.4"/>
<circle class="sc" cx="4286.6" cy="1018.9" r="5.4"/>
<circle class="sc" cx="4285.7" cy="1021.6" r="5.4"/>
<circle class="sc" cx="4286.6" cy="1056.9" r="5.4"/>
<circle class="sc" cx="4285.9" cy="1026.2" r="5.4"/>
<circle class="sc" cx="4286.8" cy="1063" r="5.4"/>
<circle class="sc" cx="4328.7" cy="1001.3" r="5.4"/>
<circle class="sc" cx="4328.4" cy="1000.2" r="5.4"/>
<circle class="sc" cx="4328" cy="1000.9" r="5.4"/>
<circle class="sc" cx="4329.2" cy="1011.8" r="5.4"/>
<circle class="sc" cx="4328.7" cy="993.1" r="5.4"/>
<circle class="sc" cx="4326.5" cy="1029.2" r="5.4"/>
<circle class="sc" cx="4328.4" cy="1017.6" r="5.4"/>
<circle class="sc" cx="4327.2" cy="1013.2" r="5.4"/>
<circle class="sc" cx="4327.1" cy="1029.3" r="5.4"/>
<circle class="sc" cx="4326.9" cy="1033.7" r="5.4"/>
<circle class="sc" cx="4327.9" cy="1000.1" r="5.4"/>
<circle class="sc" cx="4327.2" cy="1008.2" r="5.4"/>
<circle class="sc" cx="4325.4" cy="1021.8" r="5.4"/>
<circle class="sc" cx="4326.3" cy="1004.5" r="5.4"/>
<circle class="sc" cx="4329.2" cy="1014.8" r="5.4"/>
<circle class="sc" cx="4327.5" cy="1021.5" r="5.4"/>
<circle class="sc" cx="4327.7" cy="1033" r="5.4"/>
<circle class="sc" cx="4326.7" cy="1003.3" r="5.4"/>
<circle class="sc" cx="4328.6" cy="992.8" r="5.4"/>
<circle class="sc" cx="4325.8" cy="1003.6" r="5.4"/>
<circle class="sc" cx="4328.6" cy="1020.5" r="5.4"/>
<circle class="sc" cx="4325.8" cy="988.4" r="5.4"/>
<circle class="sc" cx="4327.6" cy="1031.7" r="5.4"/>
<circle class="sc" cx="4329.2" cy="1021.6" r="5.4"/>
<circle class="sc" cx="4327.4" cy="1016.8" r="5.4"/>
<circle class="sc" cx="4327.4" cy="997.6" r="5.4"/>
<circle class="sc" cx="4328.6" cy="1027.2" r="5.4"/>
<circle class="sc" cx="4327.2" cy="988.6" r="5.4"/>
<circle class="sc" cx="4328.7" cy="995.7" r="5.4"/>
<circle class="sc" cx="4328.7" cy="1001.9" r="5.4"/>
<circle class="sc" cx="4329" cy="1029.6" r="5.4"/>
<circle class="sc" cx="4327.7" cy="1008.1" r="5.4"/>
<circle class="sc" cx="4328" cy="1010.5" r="5.4"/>
<circle class="sc" cx="4326.5" cy="997.5" r="5.4"/>
<circle class="sc" cx="4326.9" cy="1026.9" r="5.4"/>
<circle class="sc" cx="4325.6" cy="1033.3" r="5.4"/>
<circle class="sc" cx="4327.3" cy="989.2" r="5.4"/>
<circle class="sc" cx="4327.2" cy="1031.9" r="5.4"/>
<circle class="sc" cx="4327.2" cy="1013.3" r="5.4"/>
<circle class="sc" cx="4326.5" cy="1032.5" r="5.4"/>
<circle class="sc" cx="4327.2" cy="1004.8" r="5.4"/>
<circle class="sc" cx="4329" cy="1001.5" r="5.4"/>
<circle class="sc" cx="4328.3" cy="1031.6" r="5.4"/>
<circle class="sc" cx="4327.3" cy="1019.8" r="5.4"/>
<circle class="sc" cx="4326" cy="1027.2" r="5.4"/>
<circle class="sc" cx="4326.4" cy="1011.6" r="5.4"/>
<circle class="sc" cx="4325.9" cy="1052.3" r="5.4"/>
<circle class="sc" cx="4327.5" cy="997.1" r="5.4"/>
<circle class="sc" cx="4325.6" cy="1029.1" r="5.4"/>
<circle class="sc" cx="4329" cy="1025.8" r="5.4"/>
<circle class="sc" cx="4326.1" cy="1026.3" r="5.4"/>
<circle class="sc" cx="4325.7" cy="1009.9" r="5.4"/>
<circle class="sc" cx="4327.1" cy="1030.7" r="5.4"/>
<circle class="sc" cx="4327" cy="1013.7" r="5.4"/>
<circle class="sc" cx="4328.4" cy="990.3" r="5.4"/>
<circle class="sc" cx="4325.7" cy="1034.8" r="5.4"/>
<circle class="sc" cx="4326.7" cy="998" r="5.4"/>
<circle class="sc" cx="4328.5" cy="1003" r="5.4"/>
<circle class="sc" cx="4328.1" cy="1003.2" r="5.4"/>
<circle class="sc" cx="4328.1" cy="1030.3" r="5.4"/>
<circle class="sc" cx="4325.9" cy="1002.6" r="5.4"/>
<circle class="sc" cx="4327.4" cy="986.4" r="5.4"/>
<circle class="sc" cx="4326.4" cy="1020.1" r="5.4"/>
<circle class="sc" cx="4325.5" cy="1010.9" r="5.4"/>
<circle class="sc" cx="4327" cy="1008" r="5.4"/>
<circle class="sc" cx="4328.3" cy="1050.3" r="5.4"/>
<circle class="sc" cx="4326.3" cy="1027.2" r="5.4"/>
<circle class="sc" cx="4328.7" cy="1016.8" r="5.4"/>
<circle class="sc" cx="4328.3" cy="999.8" r="5.4"/>
<circle class="sc" cx="4326" cy="1010.2" r="5.4"/>
<circle class="sc" cx="4325.4" cy="1009.9" r="5.4"/>
<circle class="sc" cx="4326.8" cy="1015" r="5.4"/>
<circle class="sc" cx="4325.7" cy="1010.3" r="5.4"/>
<circle class="sc" cx="4326.9" cy="988.3" r="5.4"/>
<circle class="sc" cx="4329.3" cy="995.2" r="5.4"/>
<circle class="sc" cx="4326.2" cy="1021.1" r="5.4"/>
<circle class="sc" cx="4326.2" cy="1004.5" r="5.4"/>
<circle class="sc" cx="4328.8" cy="989.3" r="5.4"/>
<circle class="sc" cx="4326.4" cy="1020.7" r="5.4"/>
<circle class="sc" cx="4329.3" cy="1020.9" r="5.4"/>
<circle class="sc" cx="4326.8" cy="998" r="5.4"/>
<circle class="sc" cx="4326.6" cy="1023" r="5.4"/>
<circle class="sc" cx="4326.6" cy="1016.9" r="5.4"/>
<circle class="sc" cx="4326.6" cy="1013" r="5.4"/>
<circle class="sc" cx="4326.7" cy="1037.9" r="5.4"/>
<circle class="sc" cx="4328" cy="1032.1" r="5.4"/>
<circle class="sc" cx="4326.9" cy="1019" r="5.4"/>
<circle class="sc" cx="4328.3" cy="993.9" r="5.4"/>
<circle class="sc" cx="4325.6" cy="987.1" r="5.4"/>
<circle class="sc" cx="4328.3" cy="1002.9" r="5.4"/>
<circle class="sc" cx="4325.9" cy="993.4" r="5.4"/>
<circle class="sc" cx="4325.9" cy="1022.5" r="5.4"/>
<circle class="sc" cx="4326.1" cy="1023.1" r="5.4"/>
<circle class="sc" cx="4328.2" cy="1009.6" r="5.4"/>
<circle class="sc" cx="4329.1" cy="1033" r="5.4"/>
<circle class="sc" cx="4327.9" cy="1009.8" r="5.4"/>
<circle class="sc" cx="4328.5" cy="1002" r="5.4"/>
<circle class="sc" cx="4328.2" cy="989.2" r="5.4"/>
<circle class="sc" cx="4325.9" cy="1039.7" r="5.4"/>
<circle class="sc" cx="4326" cy="1011.7" r="5.4"/>
<circle class="sc" cx="4368.2" cy="951.5" r="5.4"/>
<circle class="sc" cx="4366.7" cy="973" r="5.4"/>
<circle class="sc" cx="4368.5" cy="951.2" r="5.4"/>
<circle class="sc" cx="4368.2" cy="980.7" r="5.4"/>
<circle class="sc" cx="4365.3" cy="967.6" r="5.4"/>
<circle class="sc" cx="4366.1" cy="980.7" r="5.4"/>
<circle class="sc" cx="4366.9" cy="990" r="5.4"/>
<circle class="sc" cx="4367.8" cy="1007.6" r="5.4"/>
<circle class="sc" cx="4367.3" cy="990.6" r="5.4"/>
<circle class="sc" cx="4366.9" cy="963.7" r="5.4"/>
<circle class="sc" cx="4367.9" cy="987" r="5.4"/>
<circle class="sc" cx="4367" cy="956.7" r="5.4"/>
<circle class="sc" cx="4368.3" cy="972.2" r="5.4"/>
<circle class="sc" cx="4368.2" cy="981.7" r="5.4"/>
<circle class="sc" cx="4365.3" cy="967.5" r="5.4"/>
<circle class="sc" cx="4365" cy="998" r="5.4"/>
<circle class="sc" cx="4365.4" cy="956.8" r="5.4"/>
<circle class="sc" cx="4365.7" cy="958.6" r="5.4"/>
<circle class="sc" cx="4368.9" cy="955.5" r="5.4"/>
<circle class="sc" cx="4368.1" cy="971.1" r="5.4"/>
<circle class="sc" cx="4365.4" cy="985.5" r="5.4"/>
<circle class="sc" cx="4366.1" cy="949.9" r="5.4"/>
<circle class="sc" cx="4368.7" cy="954.1" r="5.4"/>
<circle class="sc" cx="4367.4" cy="951.6" r="5.4"/>
<circle class="sc" cx="4367.8" cy="992.3" r="5.4"/>
<circle class="sc" cx="4365.6" cy="967.5" r="5.4"/>
<circle class="sc" cx="4367.4" cy="970.4" r="5.4"/>
<circle class="sc" cx="4365.9" cy="988.8" r="5.4"/>
<circle class="sc" cx="4365" cy="968.9" r="5.4"/>
<circle class="sc" cx="4367.8" cy="955.6" r="5.4"/>
<circle class="sc" cx="4367.7" cy="988.1" r="5.4"/>
<circle class="sc" cx="4368.5" cy="953.8" r="5.4"/>
<circle class="sc" cx="4367.5" cy="967" r="5.4"/>
<circle class="sc" cx="4368.7" cy="956.7" r="5.4"/>
<circle class="sc" cx="4366.9" cy="954.5" r="5.4"/>
<circle class="sc" cx="4365" cy="974.7" r="5.4"/>
<circle class="sc" cx="4367.5" cy="996.8" r="5.4"/>
<circle class="sc" cx="4368.9" cy="962" r="5.4"/>
<circle class="sc" cx="4366.3" cy="964.1" r="5.4"/>
<circle class="sc" cx="4368.3" cy="979.4" r="5.4"/>
<circle class="sc" cx="4368.1" cy="959.1" r="5.4"/>
<circle class="sc" cx="4367.6" cy="996" r="5.4"/>
<circle class="sc" cx="4367.8" cy="991.3" r="5.4"/>
<circle class="sc" cx="4368.9" cy="1011.7" r="5.4"/>
<circle class="sc" cx="4365.1" cy="990.2" r="5.4"/>
<circle class="sc" cx="4366.5" cy="966.1" r="5.4"/>
<circle class="sc" cx="4367.9" cy="992.4" r="5.4"/>
<circle class="sc" cx="4365.7" cy="986.4" r="5.4"/>
<circle class="sc" cx="4365.6" cy="978.7" r="5.4"/>
<circle class="sc" cx="4368.6" cy="959.7" r="5.4"/>
<circle class="sc" cx="4367.8" cy="997.3" r="5.4"/>
<circle class="sc" cx="4367.8" cy="954.9" r="5.4"/>
<circle class="sc" cx="4365.9" cy="1014" r="5.4"/>
<circle class="sc" cx="4367.1" cy="978.2" r="5.4"/>
<circle class="sc" cx="4368" cy="966.3" r="5.4"/>
<circle class="sc" cx="4365.8" cy="997.7" r="5.4"/>
<circle class="sc" cx="4365.8" cy="983.3" r="5.4"/>
<circle class="sc" cx="4367.3" cy="999.7" r="5.4"/>
<circle class="sc" cx="4368.9" cy="977.3" r="5.4"/>
<circle class="sc" cx="4365.9" cy="978.2" r="5.4"/>
<circle class="sc" cx="4365" cy="993.3" r="5.4"/>
<circle class="sc" cx="4366.5" cy="985.2" r="5.4"/>
<circle class="sc" cx="4365.3" cy="960.8" r="5.4"/>
<circle class="sc" cx="4367.3" cy="990.3" r="5.4"/>
<circle class="sc" cx="4368.7" cy="970.1" r="5.4"/>
<circle class="sc" cx="4368.7" cy="981.1" r="5.4"/>
<circle class="sc" cx="4366" cy="967.5" r="5.4"/>
<circle class="sc" cx="4365.8" cy="980.6" r="5.4"/>
<circle class="sc" cx="4365.3" cy="955.9" r="5.4"/>
<circle class="sc" cx="4366.8" cy="956.7" r="5.4"/>
<circle class="sc" cx="4368.1" cy="973.7" r="5.4"/>
<circle class="sc" cx="4365.9" cy="947.5" r="5.4"/>
<circle class="sc" cx="4365.7" cy="986.5" r="5.4"/>
<circle class="sc" cx="4368" cy="956" r="5.4"/>
<circle class="sc" cx="4365.2" cy="966.9" r="5.4"/>
<circle class="sc" cx="4365.3" cy="997.2" r="5.4"/>
<circle class="sc" cx="4367.8" cy="951.4" r="5.4"/>
<circle class="sc" cx="4368" cy="980.8" r="5.4"/>
<circle class="sc" cx="4365.3" cy="987.4" r="5.4"/>
<circle class="sc" cx="4367.6" cy="965.1" r="5.4"/>
<circle class="sc" cx="4366.8" cy="955.2" r="5.4"/>
<circle class="sc" cx="4367.7" cy="978.8" r="5.4"/>
<circle class="sc" cx="4367.3" cy="968" r="5.4"/>
<circle class="sc" cx="4368.8" cy="990.5" r="5.4"/>
<circle class="sc" cx="4368.3" cy="974.8" r="5.4"/>
<circle class="sc" cx="4367.6" cy="959.5" r="5.4"/>
<circle class="sc" cx="4367" cy="967.6" r="5.4"/>
<circle class="sc" cx="4365.6" cy="964.8" r="5.4"/>
<circle class="sc" cx="4368.3" cy="971.1" r="5.4"/>
<circle class="sc" cx="4365.7" cy="960.1" r="5.4"/>
<circle class="sc" cx="4366.4" cy="970.4" r="5.4"/>
<circle class="sc" cx="4365.9" cy="982.8" r="5.4"/>
<circle class="sc" cx="4367.4" cy="995.6" r="5.4"/>
<circle class="sc" cx="4365.9" cy="955.4" r="5.4"/>
<circle class="sc" cx="4367.9" cy="989" r="5.4"/>
<circle class="sc" cx="4368.2" cy="962" r="5.4"/>
<circle class="sc" cx="4366.2" cy="998.4" r="5.4"/>
<circle class="sc" cx="4366.7" cy="951.5" r="5.4"/>
<circle class="sc" cx="4367.9" cy="973.7" r="5.4"/>
<circle class="sc" cx="4368.2" cy="996.3" r="5.4"/>
<circle class="sc" cx="4405.8" cy="971.9" r="5.4"/>
<circle class="sc" cx="4408.5" cy="948" r="5.4"/>
<circle class="sc" cx="4406.2" cy="967.8" r="5.4"/>
<circle class="sc" cx="4408.4" cy="961.7" r="5.4"/>
<circle class="sc" cx="4408.4" cy="943.9" r="5.4"/>
<circle class="sc" cx="4407.8" cy="940.4" r="5.4"/>
<circle class="sc" cx="4406.2" cy="958.7" r="5.4"/>
<circle class="sc" cx="4405.7" cy="973.2" r="5.4"/>
<circle class="sc" cx="4407.2" cy="966.9" r="5.4"/>
<circle class="sc" cx="4406.2" cy="949" r="5.4"/>
<circle class="sc" cx="4405.9" cy="965.7" r="5.4"/>
<circle class="sc" cx="4408.4" cy="954.8" r="5.4"/>
<circle class="sc" cx="4407.5" cy="952.6" r="5.4"/>
<circle class="sc" cx="4405.3" cy="965.5" r="5.4"/>
<circle class="sc" cx="4407.4" cy="941.2" r="5.4"/>
<circle class="sc" cx="4405.9" cy="951.8" r="5.4"/>
<circle class="sc" cx="4405.9" cy="934.4" r="5.4"/>
<circle class="sc" cx="4406" cy="930.5" r="5.4"/>
<circle class="sc" cx="4406.8" cy="947.8" r="5.4"/>
<circle class="sc" cx="4407.7" cy="967" r="5.4"/>
<circle class="sc" cx="4408.5" cy="933.3" r="5.4"/>
<circle class="sc" cx="4409" cy="941.8" r="5.4"/>
<circle class="sc" cx="4405.5" cy="968.4" r="5.4"/>
<circle class="sc" cx="4406.3" cy="953.3" r="5.4"/>
<circle class="sc" cx="4405.7" cy="956.1" r="5.4"/>
<circle class="sc" cx="4409.1" cy="951.3" r="5.4"/>
<circle class="sc" cx="4408.2" cy="923.6" r="5.4"/>
<circle class="sc" cx="4405.9" cy="926.5" r="5.4"/>
<circle class="sc" cx="4406.7" cy="954" r="5.4"/>
<circle class="sc" cx="4407.3" cy="944.6" r="5.4"/>
<circle class="sc" cx="4407.1" cy="936.7" r="5.4"/>
<circle class="sc" cx="4405.7" cy="958.3" r="5.4"/>
<circle class="sc" cx="4409" cy="943.9" r="5.4"/>
<circle class="sc" cx="4408.5" cy="952.9" r="5.4"/>
<circle class="sc" cx="4406.7" cy="918.8" r="5.4"/>
<circle class="sc" cx="4407.8" cy="928.2" r="5.4"/>
<circle class="sc" cx="4408.5" cy="943.4" r="5.4"/>
<circle class="sc" cx="4408.2" cy="940.8" r="5.4"/>
<circle class="sc" cx="4405.7" cy="960.5" r="5.4"/>
<circle class="sc" cx="4406.5" cy="953" r="5.4"/>
<circle class="sc" cx="4408.6" cy="948.1" r="5.4"/>
<circle class="sc" cx="4407.1" cy="944.9" r="5.4"/>
<circle class="sc" cx="4407" cy="936.8" r="5.4"/>
<circle class="sc" cx="4408.8" cy="932.3" r="5.4"/>
<circle class="sc" cx="4407.6" cy="944.6" r="5.4"/>
<circle class="sc" cx="4405.8" cy="953.6" r="5.4"/>
<circle class="sc" cx="4408.1" cy="932.8" r="5.4"/>
<circle class="sc" cx="4408.9" cy="947" r="5.4"/>
<circle class="sc" cx="4406.9" cy="927.2" r="5.4"/>
<circle class="sc" cx="4407.8" cy="958.3" r="5.4"/>
<circle class="sc" cx="4405.4" cy="936.1" r="5.4"/>
<circle class="sc" cx="4406" cy="949.6" r="5.4"/>
<circle class="sc" cx="4405.7" cy="937.8" r="5.4"/>
<circle class="sc" cx="4405.4" cy="964.7" r="5.4"/>
<circle class="sc" cx="4406" cy="945.5" r="5.4"/>
<circle class="sc" cx="4408.5" cy="944.6" r="5.4"/>
<circle class="sc" cx="4405.5" cy="934.1" r="5.4"/>
<circle class="sc" cx="4406.4" cy="951.4" r="5.4"/>
<circle class="sc" cx="4408.3" cy="955.8" r="5.4"/>
<circle class="sc" cx="4408" cy="957.4" r="5.4"/>
<circle class="sc" cx="4408.5" cy="963.1" r="5.4"/>
<circle class="sc" cx="4408.4" cy="964.9" r="5.4"/>
<circle class="sc" cx="4405.2" cy="936.8" r="5.4"/>
<circle class="sc" cx="4407.2" cy="949.1" r="5.4"/>
<circle class="sc" cx="4406.5" cy="954.8" r="5.4"/>
<circle class="sc" cx="4409.1" cy="948" r="5.4"/>
<circle class="sc" cx="4408.5" cy="950.7" r="5.4"/>
<circle class="sc" cx="4407.3" cy="946.2" r="5.4"/>
<circle class="sc" cx="4408.1" cy="965.4" r="5.4"/>
<circle class="sc" cx="4407.4" cy="950.4" r="5.4"/>
<circle class="sc" cx="4407.4" cy="945.6" r="5.4"/>
<circle class="sc" cx="4407.2" cy="964.6" r="5.4"/>
<circle class="sc" cx="4407.7" cy="963.5" r="5.4"/>
<circle class="sc" cx="4407.2" cy="930.2" r="5.4"/>
<circle class="sc" cx="4406.8" cy="954.8" r="5.4"/>
<circle class="sc" cx="4407.4" cy="941.1" r="5.4"/>
<circle class="sc" cx="4407.8" cy="946.4" r="5.4"/>
<circle class="sc" cx="4406.8" cy="926.9" r="5.4"/>
<circle class="sc" cx="4407" cy="958.4" r="5.4"/>
<circle class="sc" cx="4408.4" cy="941.3" r="5.4"/>
<circle class="sc" cx="4406.5" cy="954.4" r="5.4"/>
<circle class="sc" cx="4407" cy="940.4" r="5.4"/>
<circle class="sc" cx="4406.8" cy="945.5" r="5.4"/>
<circle class="sc" cx="4406.5" cy="934.4" r="5.4"/>
<circle class="sc" cx="4407.3" cy="960.6" r="5.4"/>
<circle class="sc" cx="4407.6" cy="935.2" r="5.4"/>
<circle class="sc" cx="4408.4" cy="931.6" r="5.4"/>
<circle class="sc" cx="4407" cy="940.4" r="5.4"/>
<circle class="sc" cx="4405.3" cy="954.3" r="5.4"/>
<circle class="sc" cx="4405.2" cy="940.2" r="5.4"/>
<circle class="sc" cx="4405.3" cy="963" r="5.4"/>
<circle class="sc" cx="4406.5" cy="953" r="5.4"/>
<circle class="sc" cx="4406.1" cy="921.6" r="5.4"/>
<circle class="sc" cx="4408.6" cy="934.5" r="5.4"/>
<circle class="sc" cx="4406.5" cy="955.4" r="5.4"/>
<circle class="sc" cx="4407.2" cy="948.1" r="5.4"/>
<circle class="sc" cx="4409.2" cy="959" r="5.4"/>
<circle class="sc" cx="4409.1" cy="961.6" r="5.4"/>
<circle class="sc" cx="4405.5" cy="955.4" r="5.4"/>
<circle class="sc" cx="4409.1" cy="931.7" r="5.4"/>
<circle class="sc" cx="4446.7" cy="917.9" r="5.4"/>
<circle class="sc" cx="4449.4" cy="897.5" r="5.4"/>
<circle class="sc" cx="4449.9" cy="893.6" r="5.4"/>
<circle class="sc" cx="4448.2" cy="922.2" r="5.4"/>
<circle class="sc" cx="4448.9" cy="919.5" r="5.4"/>
<circle class="sc" cx="4447.7" cy="919.8" r="5.4"/>
<circle class="sc" cx="4450" cy="900.8" r="5.4"/>
<circle class="sc" cx="4449.9" cy="895.3" r="5.4"/>
<circle class="sc" cx="4449.1" cy="922.6" r="5.4"/>
<circle class="sc" cx="4449.1" cy="905.9" r="5.4"/>
<circle class="sc" cx="4447.3" cy="904.9" r="5.4"/>
<circle class="sc" cx="4447.5" cy="895.8" r="5.4"/>
<circle class="sc" cx="4448.8" cy="907.8" r="5.4"/>
<circle class="sc" cx="4447.4" cy="917.1" r="5.4"/>
<circle class="sc" cx="4448.4" cy="907.9" r="5.4"/>
<circle class="sc" cx="4448.8" cy="924.1" r="5.4"/>
<circle class="sc" cx="4449.1" cy="903.6" r="5.4"/>
<circle class="sc" cx="4447.1" cy="923.6" r="5.4"/>
<circle class="sc" cx="4447.5" cy="918.4" r="5.4"/>
<circle class="sc" cx="4447" cy="898.1" r="5.4"/>
<circle class="sc" cx="4446.9" cy="918.2" r="5.4"/>
<circle class="sc" cx="4447.2" cy="913.2" r="5.4"/>
<circle class="sc" cx="4449.1" cy="904.9" r="5.4"/>
<circle class="sc" cx="4447.4" cy="926.6" r="5.4"/>
<circle class="sc" cx="4446.9" cy="915.7" r="5.4"/>
<circle class="sc" cx="4449.7" cy="898.5" r="5.4"/>
<circle class="sc" cx="4447.5" cy="912" r="5.4"/>
<circle class="sc" cx="4449.1" cy="910.3" r="5.4"/>
<circle class="sc" cx="4446.7" cy="897.1" r="5.4"/>
<circle class="sc" cx="4447.7" cy="916" r="5.4"/>
<circle class="sc" cx="4449.2" cy="920.4" r="5.4"/>
<circle class="sc" cx="4447.3" cy="907.4" r="5.4"/>
<circle class="sc" cx="4450.6" cy="916" r="5.4"/>
<circle class="sc" cx="4447.6" cy="909.5" r="5.4"/>
<circle class="sc" cx="4447.3" cy="922.4" r="5.4"/>
<circle class="sc" cx="4449.4" cy="912.6" r="5.4"/>
<circle class="sc" cx="4449.3" cy="911.8" r="5.4"/>
<circle class="sc" cx="4449.5" cy="914.5" r="5.4"/>
<circle class="sc" cx="4448.5" cy="924.7" r="5.4"/>
<circle class="sc" cx="4449.8" cy="918.9" r="5.4"/>
<circle class="sc" cx="4447.7" cy="923.1" r="5.4"/>
<circle class="sc" cx="4447.7" cy="913.6" r="5.4"/>
<circle class="sc" cx="4449.4" cy="911.4" r="5.4"/>
<circle class="sc" cx="4447.5" cy="898.8" r="5.4"/>
<circle class="sc" cx="4448.4" cy="917.1" r="5.4"/>
<circle class="sc" cx="4448.5" cy="905.7" r="5.4"/>
<circle class="sc" cx="4450.5" cy="911.5" r="5.4"/>
<circle class="sc" cx="4447.2" cy="916.2" r="5.4"/>
<circle class="sc" cx="4449.9" cy="896.1" r="5.4"/>
<circle class="sc" cx="4447.1" cy="920" r="5.4"/>
<circle class="sc" cx="4450.2" cy="895.9" r="5.4"/>
<circle class="sc" cx="4448" cy="905.1" r="5.4"/>
<circle class="sc" cx="4446.9" cy="906.7" r="5.4"/>
<circle class="sc" cx="4448.7" cy="927.2" r="5.4"/>
<circle class="sc" cx="4447.8" cy="924.9" r="5.4"/>
<circle class="sc" cx="4449.8" cy="923" r="5.4"/>
<circle class="sc" cx="4447.4" cy="895.2" r="5.4"/>
<circle class="sc" cx="4447" cy="894.5" r="5.4"/>
<circle class="sc" cx="4450.3" cy="920.5" r="5.4"/>
<circle class="sc" cx="4448.9" cy="904.1" r="5.4"/>
<circle class="sc" cx="4447.6" cy="904.3" r="5.4"/>
<circle class="sc" cx="4447" cy="900.1" r="5.4"/>
<circle class="sc" cx="4446.7" cy="904.3" r="5.4"/>
<circle class="sc" cx="4448.4" cy="919.7" r="5.4"/>
<circle class="sc" cx="4450" cy="895.1" r="5.4"/>
<circle class="sc" cx="4448.4" cy="898.5" r="5.4"/>
<circle class="sc" cx="4449.5" cy="927.5" r="5.4"/>
<circle class="sc" cx="4450" cy="916.5" r="5.4"/>
<circle class="sc" cx="4447.8" cy="895.1" r="5.4"/>
<circle class="sc" cx="4447.9" cy="901.8" r="5.4"/>
<circle class="sc" cx="4447.3" cy="918.5" r="5.4"/>
<circle class="sc" cx="4447.6" cy="920.1" r="5.4"/>
<circle class="sc" cx="4450.2" cy="898.1" r="5.4"/>
<circle class="sc" cx="4449.1" cy="917.8" r="5.4"/>
<circle class="sc" cx="4449.6" cy="927" r="5.4"/>
<circle class="sc" cx="4446.6" cy="923.6" r="5.4"/>
<circle class="sc" cx="4449.6" cy="909.2" r="5.4"/>
<circle class="sc" cx="4449.5" cy="901.2" r="5.4"/>
<circle class="sc" cx="4447.4" cy="903.6" r="5.4"/>
<circle class="sc" cx="4449.6" cy="903.8" r="5.4"/>
<circle class="sc" cx="4446.7" cy="920.4" r="5.4"/>
<circle class="sc" cx="4450.5" cy="899.3" r="5.4"/>
<circle class="sc" cx="4450.1" cy="894.6" r="5.4"/>
<circle class="sc" cx="4447.1" cy="894.8" r="5.4"/>
<circle class="sc" cx="4447.6" cy="900.7" r="5.4"/>
<circle class="sc" cx="4450.2" cy="904.2" r="5.4"/>
<circle class="sc" cx="4450.2" cy="913.2" r="5.4"/>
<circle class="sc" cx="4449.7" cy="906.5" r="5.4"/>
<circle class="sc" cx="4448.3" cy="897.7" r="5.4"/>
<circle class="sc" cx="4450.4" cy="910" r="5.4"/>
<circle class="sc" cx="4446.8" cy="911.5" r="5.4"/>
<circle class="sc" cx="4450.4" cy="896.4" r="5.4"/>
<circle class="sc" cx="4448.5" cy="906.9" r="5.4"/>
<circle class="sc" cx="4448.1" cy="908.6" r="5.4"/>
<circle class="sc" cx="4447.5" cy="907.7" r="5.4"/>
<circle class="sc" cx="4447.6" cy="921.3" r="5.4"/>
<circle class="sc" cx="4450.1" cy="914.3" r="5.4"/>
<circle class="sc" cx="4447.7" cy="893.8" r="5.4"/>
<circle class="sc" cx="4446.7" cy="909.7" r="5.4"/>
<circle class="sc" cx="4449.2" cy="910.1" r="5.4"/>
<circle cx="3725.7" cy="1632.9" r="6.8" fill="#808080" stroke="#808080" stroke-width="3.4"/>
<circle cx="4488.8" cy="876.5" r="6.8" fill="#808080" stroke="#808080" stroke-width="3.4"/>
<path d="M3725.7,1632.9 L3735.2,1620.7 L3744.8,1608.5 L3754.3,1596.4 L3763.8,1584.3 L3773.4,1572.4 L3782.9,1560.6 L3792.4,1548.8 L3802,1537.2 L3811.5,1525.6 L3821.1,1514.1 L3830.6,1502.7 L3840.1,1491.4 L3849.7,1480.1 L3859.2,1469 L3868.8,1457.9 L3878.3,1446.9 L3887.8,1436 L3897.4,1425.2 L3906.9,1414.4 L3916.4,1403.8 L3926,1393.2 L3935.5,1382.6 L3945.1,1372.2 L3954.6,1361.8 L3964.1,1351.5 L3973.7,1341.3 L3983.2,1331.1 L3992.8,1321 L4002.3,1311 L4011.8,1301.1 L4021.4,1291.2 L4030.9,1281.4 L4040.5,1271.7 L4050,1262 L4059.5,1252.4 L4069.1,1242.9 L4078.6,1233.4 L4088.1,1224 L4097.7,1214.7 L4107.2,1205.4 L4116.8,1196.2 L4126.3,1187 L4135.8,1177.9 L4145.4,1168.9 L4154.9,1159.9 L4164.5,1151 L4174,1142.1 L4183.5,1133.3 L4193.1,1124.5 L4202.6,1115.8 L4212.1,1107.2 L4221.7,1098.6 L4231.2,1090 L4240.8,1081.6 L4250.3,1073.1 L4259.8,1064.7 L4269.4,1056.4 L4278.9,1048.1 L4288.5,1039.9 L4298,1031.7 L4307.5,1023.5 L4317.1,1015.4 L4326.6,1007.4 L4336.2,999.4 L4345.7,991.4 L4355.2,983.5 L4364.8,975.6 L4374.3,967.7 L4383.8,959.9 L4393.4,952.2 L4402.9,944.4 L4412.5,936.8 L4422,929.1 L4431.5,921.5 L4441.1,913.9 L4450.6,906.4 L4460.2,898.9 L4469.7,891.4 L4479.2,884 L4488.8,876.5" fill="none" stroke="#8b0000" stroke-width="7" stroke-linecap="butt" stroke-linejoin="round"/>
</svg>
</body></html>
